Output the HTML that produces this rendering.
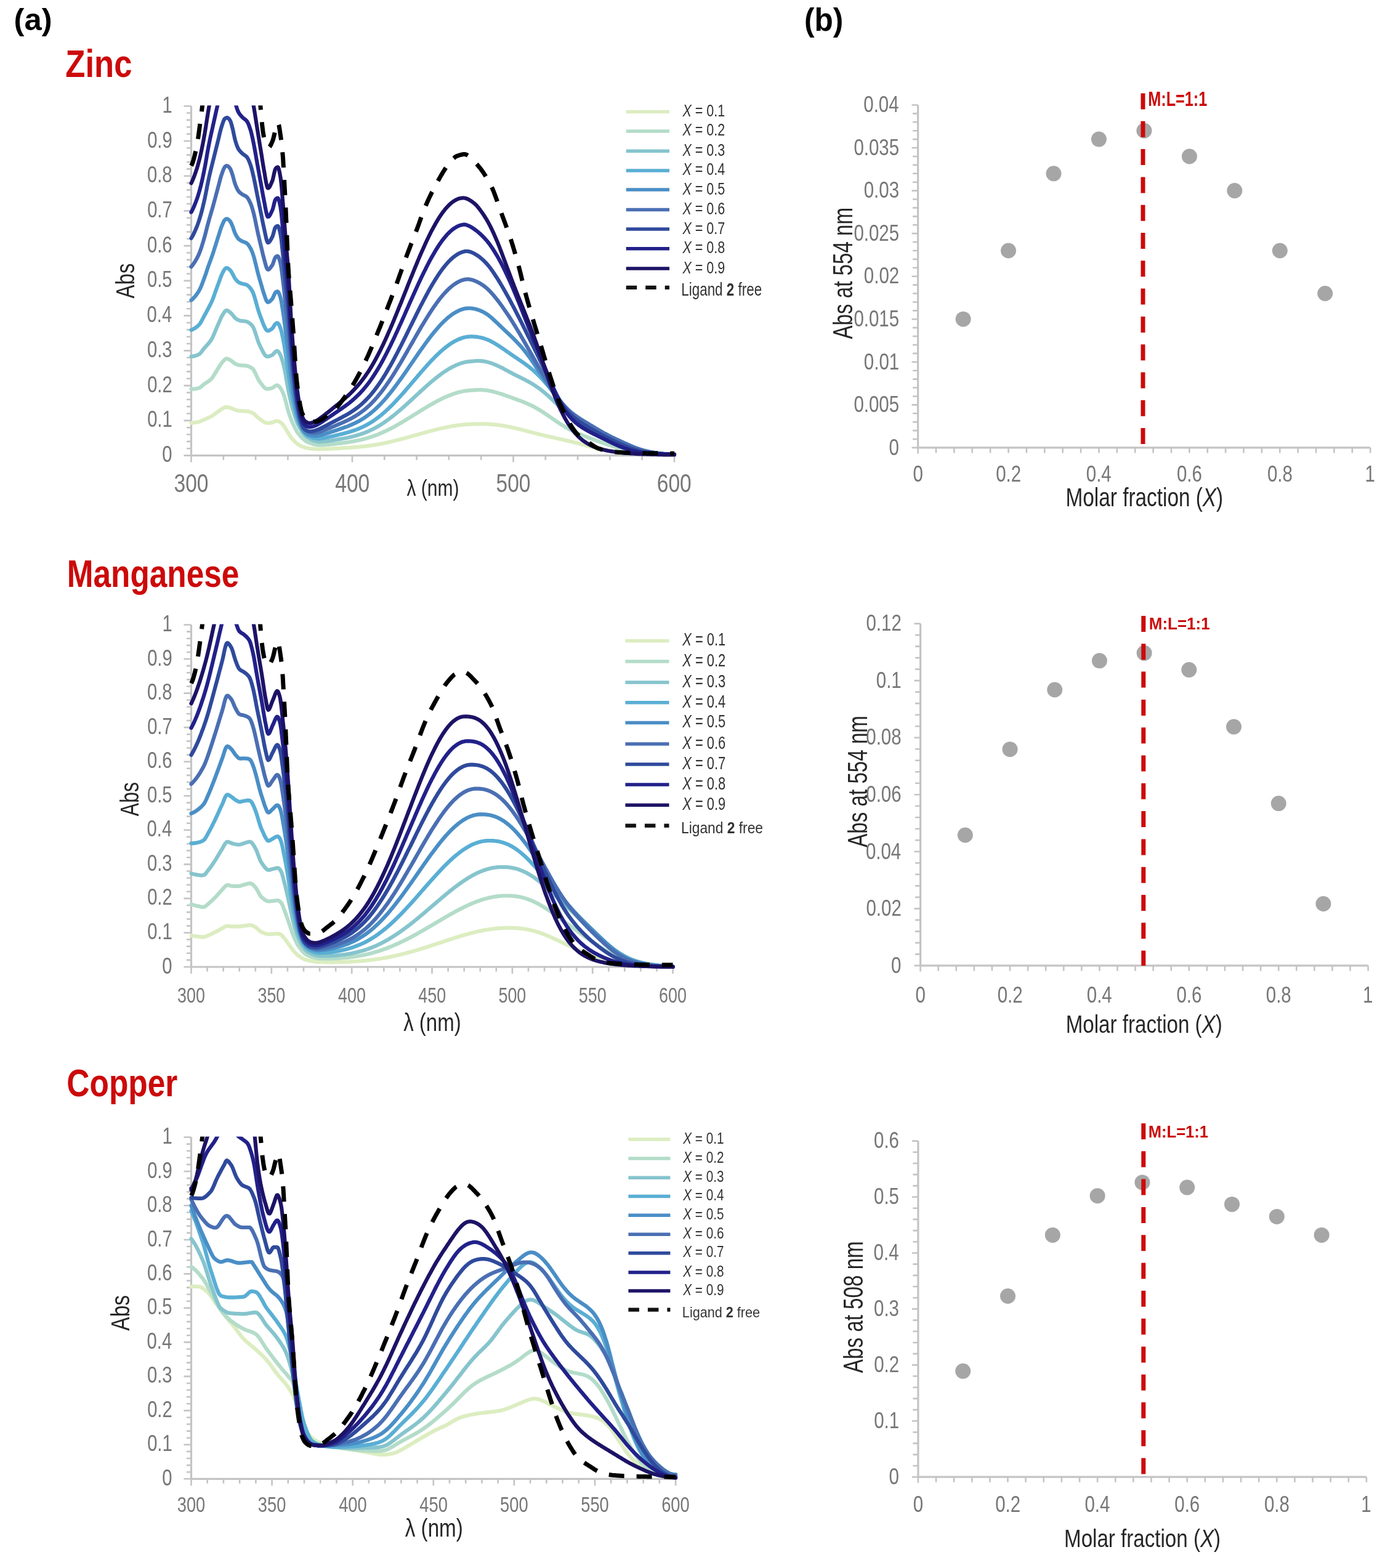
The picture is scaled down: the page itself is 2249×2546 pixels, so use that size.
<!DOCTYPE html>
<html><head><meta charset="utf-8"><title>Job plots</title>
<style>html,body{margin:0;padding:0;background:#fff;}svg{display:block;}
text{font-family:"Liberation Sans",Arial,sans-serif;}</style></head>
<body><svg xmlns="http://www.w3.org/2000/svg" width="2249" height="2546" viewBox="0 0 2249 2546">
<rect width="2249" height="2546" fill="#fff"/>
<text transform="translate(22.62 49.45) scale(1.0285 1)" font-size="49.30" fill="#000"><tspan font-weight="bold">(a)</tspan></text>
<text transform="translate(1306.07 49.91) scale(0.9730 1)" font-size="50.91" fill="#000"><tspan font-weight="bold">(b)</tspan></text>
<text transform="translate(106.28 124.60) scale(0.8391 1)" font-size="62.71" fill="#cc0a0a"><tspan font-weight="bold">Zinc</tspan></text>
<text transform="translate(108.76 952.90) scale(0.8045 1)" font-size="63.83" fill="#cc0a0a"><tspan font-weight="bold">Manganese</tspan></text>
<text transform="translate(108.34 1779.50) scale(0.8184 1)" font-size="62.85" fill="#cc0a0a"><tspan font-weight="bold">Copper</tspan></text>
<path d="M298.5 739.60H310.5M303.0 728.25H310.5M303.0 716.90H310.5M303.0 705.56H310.5M303.0 694.21H310.5M298.5 682.86H310.5M303.0 671.51H310.5M303.0 660.16H310.5M303.0 648.82H310.5M303.0 637.47H310.5M298.5 626.12H310.5M303.0 614.77H310.5M303.0 603.42H310.5M303.0 592.08H310.5M303.0 580.73H310.5M298.5 569.38H310.5M303.0 558.03H310.5M303.0 546.68H310.5M303.0 535.34H310.5M303.0 523.99H310.5M298.5 512.64H310.5M303.0 501.29H310.5M303.0 489.94H310.5M303.0 478.60H310.5M303.0 467.25H310.5M298.5 455.90H310.5M303.0 444.55H310.5M303.0 433.20H310.5M303.0 421.86H310.5M303.0 410.51H310.5M298.5 399.16H310.5M303.0 387.81H310.5M303.0 376.46H310.5M303.0 365.12H310.5M303.0 353.77H310.5M298.5 342.42H310.5M303.0 331.07H310.5M303.0 319.72H310.5M303.0 308.38H310.5M303.0 297.03H310.5M298.5 285.68H310.5M303.0 274.33H310.5M303.0 262.98H310.5M303.0 251.64H310.5M303.0 240.29H310.5M298.5 228.94H310.5M303.0 217.59H310.5M303.0 206.24H310.5M303.0 194.90H310.5M303.0 183.55H310.5M298.5 172.20H310.5M310.50 739.6V750.6M362.80 739.6V747.1M415.10 739.6V747.1M467.40 739.6V747.1M519.70 739.6V747.1M572.00 739.6V750.6M624.30 739.6V747.1M676.60 739.6V747.1M728.90 739.6V747.1M781.20 739.6V747.1M833.50 739.6V750.6M885.80 739.6V747.1M938.10 739.6V747.1M990.40 739.6V747.1M1042.70 739.6V747.1M1095.00 739.6V750.6" stroke="#c4c4c4" stroke-width="2.6" fill="none"/>
<path d="M310.5 172.2V739.6H1095.0" stroke="#c4c4c4" stroke-width="3.2" fill="none"/>
<text transform="translate(263.22 750.19) scale(0.8000 1)" font-size="36.50" fill="#777777"><tspan>0</tspan></text>
<text transform="translate(239.13 693.45) scale(0.8000 1)" font-size="36.50" fill="#777777"><tspan>0.1</tspan></text>
<text transform="translate(239.13 636.71) scale(0.8000 1)" font-size="36.50" fill="#777777"><tspan>0.2</tspan></text>
<text transform="translate(238.98 579.97) scale(0.8000 1)" font-size="36.50" fill="#777777"><tspan>0.3</tspan></text>
<text transform="translate(238.54 523.23) scale(0.8000 1)" font-size="36.50" fill="#777777"><tspan>0.4</tspan></text>
<text transform="translate(238.98 466.49) scale(0.8000 1)" font-size="36.50" fill="#777777"><tspan>0.5</tspan></text>
<text transform="translate(238.98 409.75) scale(0.8000 1)" font-size="36.50" fill="#777777"><tspan>0.6</tspan></text>
<text transform="translate(239.13 353.01) scale(0.8000 1)" font-size="36.50" fill="#777777"><tspan>0.7</tspan></text>
<text transform="translate(238.98 296.27) scale(0.8000 1)" font-size="36.50" fill="#777777"><tspan>0.8</tspan></text>
<text transform="translate(239.13 239.53) scale(0.8000 1)" font-size="36.50" fill="#777777"><tspan>0.9</tspan></text>
<text transform="translate(263.51 182.79) scale(0.8000 1)" font-size="36.50" fill="#777777"><tspan>1</tspan></text>
<text transform="translate(282.58 799.09) scale(0.7800 1)" font-size="43.00" fill="#777777"><tspan>300</tspan></text>
<text transform="translate(544.33 799.09) scale(0.7800 1)" font-size="43.00" fill="#777777"><tspan>400</tspan></text>
<text transform="translate(805.49 799.09) scale(0.7800 1)" font-size="43.00" fill="#777777"><tspan>500</tspan></text>
<text transform="translate(1066.83 799.09) scale(0.7800 1)" font-size="43.00" fill="#777777"><tspan>600</tspan></text>
<path d="M298.5 1570.00H310.5M303.0 1558.89H310.5M303.0 1547.78H310.5M303.0 1536.67H310.5M303.0 1525.56H310.5M298.5 1514.45H310.5M303.0 1503.34H310.5M303.0 1492.23H310.5M303.0 1481.12H310.5M303.0 1470.01H310.5M298.5 1458.90H310.5M303.0 1447.79H310.5M303.0 1436.68H310.5M303.0 1425.57H310.5M303.0 1414.46H310.5M298.5 1403.35H310.5M303.0 1392.24H310.5M303.0 1381.13H310.5M303.0 1370.02H310.5M303.0 1358.91H310.5M298.5 1347.80H310.5M303.0 1336.69H310.5M303.0 1325.58H310.5M303.0 1314.47H310.5M303.0 1303.36H310.5M298.5 1292.25H310.5M303.0 1281.14H310.5M303.0 1270.03H310.5M303.0 1258.92H310.5M303.0 1247.81H310.5M298.5 1236.70H310.5M303.0 1225.59H310.5M303.0 1214.48H310.5M303.0 1203.37H310.5M303.0 1192.26H310.5M298.5 1181.15H310.5M303.0 1170.04H310.5M303.0 1158.93H310.5M303.0 1147.82H310.5M303.0 1136.71H310.5M298.5 1125.60H310.5M303.0 1114.49H310.5M303.0 1103.38H310.5M303.0 1092.27H310.5M303.0 1081.16H310.5M298.5 1070.05H310.5M303.0 1058.94H310.5M303.0 1047.83H310.5M303.0 1036.72H310.5M303.0 1025.61H310.5M298.5 1014.50H310.5M310.50 1570.0V1581.0M336.57 1570.0V1577.5M362.64 1570.0V1577.5M388.71 1570.0V1577.5M414.78 1570.0V1577.5M440.85 1570.0V1581.0M466.92 1570.0V1577.5M492.99 1570.0V1577.5M519.06 1570.0V1577.5M545.13 1570.0V1577.5M571.20 1570.0V1581.0M597.27 1570.0V1577.5M623.34 1570.0V1577.5M649.41 1570.0V1577.5M675.48 1570.0V1577.5M701.55 1570.0V1581.0M727.62 1570.0V1577.5M753.69 1570.0V1577.5M779.76 1570.0V1577.5M805.83 1570.0V1577.5M831.90 1570.0V1581.0M857.97 1570.0V1577.5M884.04 1570.0V1577.5M910.11 1570.0V1577.5M936.18 1570.0V1577.5M962.25 1570.0V1581.0M988.32 1570.0V1577.5M1014.39 1570.0V1577.5M1040.46 1570.0V1577.5M1066.53 1570.0V1577.5M1092.60 1570.0V1581.0" stroke="#c4c4c4" stroke-width="2.6" fill="none"/>
<path d="M310.5 1014.5V1570.0H1092.6" stroke="#c4c4c4" stroke-width="3.2" fill="none"/>
<text transform="translate(263.22 1580.59) scale(0.8000 1)" font-size="36.50" fill="#777777"><tspan>0</tspan></text>
<text transform="translate(239.13 1525.04) scale(0.8000 1)" font-size="36.50" fill="#777777"><tspan>0.1</tspan></text>
<text transform="translate(239.13 1469.49) scale(0.8000 1)" font-size="36.50" fill="#777777"><tspan>0.2</tspan></text>
<text transform="translate(238.98 1413.94) scale(0.8000 1)" font-size="36.50" fill="#777777"><tspan>0.3</tspan></text>
<text transform="translate(238.54 1358.39) scale(0.8000 1)" font-size="36.50" fill="#777777"><tspan>0.4</tspan></text>
<text transform="translate(238.98 1302.84) scale(0.8000 1)" font-size="36.50" fill="#777777"><tspan>0.5</tspan></text>
<text transform="translate(238.98 1247.29) scale(0.8000 1)" font-size="36.50" fill="#777777"><tspan>0.6</tspan></text>
<text transform="translate(239.13 1191.74) scale(0.8000 1)" font-size="36.50" fill="#777777"><tspan>0.7</tspan></text>
<text transform="translate(238.98 1136.19) scale(0.8000 1)" font-size="36.50" fill="#777777"><tspan>0.8</tspan></text>
<text transform="translate(239.13 1080.64) scale(0.8000 1)" font-size="36.50" fill="#777777"><tspan>0.9</tspan></text>
<text transform="translate(263.51 1025.09) scale(0.8000 1)" font-size="36.50" fill="#777777"><tspan>1</tspan></text>
<text transform="translate(288.10 1628.10) scale(0.7800 1)" font-size="34.50" fill="#777777"><tspan>300</tspan></text>
<text transform="translate(418.45 1628.10) scale(0.7800 1)" font-size="34.50" fill="#777777"><tspan>350</tspan></text>
<text transform="translate(549.00 1628.10) scale(0.7800 1)" font-size="34.50" fill="#777777"><tspan>400</tspan></text>
<text transform="translate(679.35 1628.10) scale(0.7800 1)" font-size="34.50" fill="#777777"><tspan>450</tspan></text>
<text transform="translate(809.43 1628.10) scale(0.7800 1)" font-size="34.50" fill="#777777"><tspan>500</tspan></text>
<text transform="translate(939.78 1628.10) scale(0.7800 1)" font-size="34.50" fill="#777777"><tspan>550</tspan></text>
<text transform="translate(1070.00 1628.10) scale(0.7800 1)" font-size="34.50" fill="#777777"><tspan>600</tspan></text>
<path d="M298.5 2401.30H310.5M303.0 2390.20H310.5M303.0 2379.11H310.5M303.0 2368.01H310.5M303.0 2356.92H310.5M298.5 2345.82H310.5M303.0 2334.72H310.5M303.0 2323.63H310.5M303.0 2312.53H310.5M303.0 2301.44H310.5M298.5 2290.34H310.5M303.0 2279.24H310.5M303.0 2268.15H310.5M303.0 2257.05H310.5M303.0 2245.96H310.5M298.5 2234.86H310.5M303.0 2223.76H310.5M303.0 2212.67H310.5M303.0 2201.57H310.5M303.0 2190.48H310.5M298.5 2179.38H310.5M303.0 2168.28H310.5M303.0 2157.19H310.5M303.0 2146.09H310.5M303.0 2135.00H310.5M298.5 2123.90H310.5M303.0 2112.80H310.5M303.0 2101.71H310.5M303.0 2090.61H310.5M303.0 2079.52H310.5M298.5 2068.42H310.5M303.0 2057.32H310.5M303.0 2046.23H310.5M303.0 2035.13H310.5M303.0 2024.04H310.5M298.5 2012.94H310.5M303.0 2001.84H310.5M303.0 1990.75H310.5M303.0 1979.65H310.5M303.0 1968.56H310.5M298.5 1957.46H310.5M303.0 1946.36H310.5M303.0 1935.27H310.5M303.0 1924.17H310.5M303.0 1913.08H310.5M298.5 1901.98H310.5M303.0 1890.88H310.5M303.0 1879.79H310.5M303.0 1868.69H310.5M303.0 1857.60H310.5M298.5 1846.50H310.5M310.50 2401.3V2412.3M336.72 2401.3V2408.8M362.94 2401.3V2408.8M389.16 2401.3V2408.8M415.38 2401.3V2408.8M441.60 2401.3V2412.3M467.82 2401.3V2408.8M494.04 2401.3V2408.8M520.26 2401.3V2408.8M546.48 2401.3V2408.8M572.70 2401.3V2412.3M598.92 2401.3V2408.8M625.14 2401.3V2408.8M651.36 2401.3V2408.8M677.58 2401.3V2408.8M703.80 2401.3V2412.3M730.02 2401.3V2408.8M756.24 2401.3V2408.8M782.46 2401.3V2408.8M808.68 2401.3V2408.8M834.90 2401.3V2412.3M861.12 2401.3V2408.8M887.34 2401.3V2408.8M913.56 2401.3V2408.8M939.78 2401.3V2408.8M966.00 2401.3V2412.3M992.22 2401.3V2408.8M1018.44 2401.3V2408.8M1044.66 2401.3V2408.8M1070.88 2401.3V2408.8M1097.10 2401.3V2412.3" stroke="#c4c4c4" stroke-width="2.6" fill="none"/>
<path d="M310.5 1846.5V2401.3H1097.1" stroke="#c4c4c4" stroke-width="3.2" fill="none"/>
<text transform="translate(263.22 2411.89) scale(0.8000 1)" font-size="36.50" fill="#777777"><tspan>0</tspan></text>
<text transform="translate(239.13 2356.41) scale(0.8000 1)" font-size="36.50" fill="#777777"><tspan>0.1</tspan></text>
<text transform="translate(239.13 2300.93) scale(0.8000 1)" font-size="36.50" fill="#777777"><tspan>0.2</tspan></text>
<text transform="translate(238.98 2245.45) scale(0.8000 1)" font-size="36.50" fill="#777777"><tspan>0.3</tspan></text>
<text transform="translate(238.54 2189.97) scale(0.8000 1)" font-size="36.50" fill="#777777"><tspan>0.4</tspan></text>
<text transform="translate(238.98 2134.49) scale(0.8000 1)" font-size="36.50" fill="#777777"><tspan>0.5</tspan></text>
<text transform="translate(238.98 2079.01) scale(0.8000 1)" font-size="36.50" fill="#777777"><tspan>0.6</tspan></text>
<text transform="translate(239.13 2023.53) scale(0.8000 1)" font-size="36.50" fill="#777777"><tspan>0.7</tspan></text>
<text transform="translate(238.98 1968.05) scale(0.8000 1)" font-size="36.50" fill="#777777"><tspan>0.8</tspan></text>
<text transform="translate(239.13 1912.57) scale(0.8000 1)" font-size="36.50" fill="#777777"><tspan>0.9</tspan></text>
<text transform="translate(263.51 1857.09) scale(0.8000 1)" font-size="36.50" fill="#777777"><tspan>1</tspan></text>
<text transform="translate(287.77 2455.46) scale(0.7800 1)" font-size="35.00" fill="#777777"><tspan>300</tspan></text>
<text transform="translate(418.87 2455.46) scale(0.7800 1)" font-size="35.00" fill="#777777"><tspan>350</tspan></text>
<text transform="translate(550.18 2455.46) scale(0.7800 1)" font-size="35.00" fill="#777777"><tspan>400</tspan></text>
<text transform="translate(681.28 2455.46) scale(0.7800 1)" font-size="35.00" fill="#777777"><tspan>450</tspan></text>
<text transform="translate(812.10 2455.46) scale(0.7800 1)" font-size="35.00" fill="#777777"><tspan>500</tspan></text>
<text transform="translate(943.20 2455.46) scale(0.7800 1)" font-size="35.00" fill="#777777"><tspan>550</tspan></text>
<text transform="translate(1074.17 2455.46) scale(0.7800 1)" font-size="35.00" fill="#777777"><tspan>600</tspan></text>
<path d="M1480.6 726.90H1490.6M1482.1 712.99H1490.6M1482.1 699.08H1490.6M1482.1 685.17H1490.6M1482.1 671.26H1490.6M1480.6 657.35H1490.6M1482.1 643.44H1490.6M1482.1 629.53H1490.6M1482.1 615.62H1490.6M1482.1 601.71H1490.6M1480.6 587.80H1490.6M1482.1 573.89H1490.6M1482.1 559.98H1490.6M1482.1 546.07H1490.6M1482.1 532.16H1490.6M1480.6 518.25H1490.6M1482.1 504.34H1490.6M1482.1 490.43H1490.6M1482.1 476.52H1490.6M1482.1 462.61H1490.6M1480.6 448.70H1490.6M1482.1 434.79H1490.6M1482.1 420.88H1490.6M1482.1 406.97H1490.6M1482.1 393.06H1490.6M1480.6 379.15H1490.6M1482.1 365.24H1490.6M1482.1 351.33H1490.6M1482.1 337.42H1490.6M1482.1 323.51H1490.6M1480.6 309.60H1490.6M1482.1 295.69H1490.6M1482.1 281.78H1490.6M1482.1 267.87H1490.6M1482.1 253.96H1490.6M1480.6 240.05H1490.6M1482.1 226.14H1490.6M1482.1 212.23H1490.6M1482.1 198.32H1490.6M1482.1 184.41H1490.6M1480.6 170.50H1490.6M1490.60 726.9V736.4M1519.98 726.9V735.4M1549.37 726.9V735.4M1578.75 726.9V735.4M1608.14 726.9V735.4M1637.52 726.9V735.4M1666.90 726.9V735.4M1696.29 726.9V735.4M1725.67 726.9V735.4M1755.06 726.9V735.4M1784.44 726.9V735.4M1813.82 726.9V735.4M1843.21 726.9V735.4M1872.59 726.9V735.4M1901.98 726.9V735.4M1931.36 726.9V735.4M1960.74 726.9V735.4M1990.13 726.9V735.4M2019.51 726.9V735.4M2048.90 726.9V735.4M2078.28 726.9V735.4M2107.66 726.9V735.4M2137.05 726.9V735.4M2166.43 726.9V735.4M2195.82 726.9V735.4M2225.20 726.9V735.4" stroke="#c4c4c4" stroke-width="2.6" fill="none"/>
<path d="M1490.6 170.5V726.9H2225.2" stroke="#c4c4c4" stroke-width="3.2" fill="none"/>
<text transform="translate(1443.49 738.64) scale(0.7850 1)" font-size="37.50" fill="#777777"><tspan>0</tspan></text>
<text transform="translate(1386.38 669.09) scale(0.7850 1)" font-size="37.50" fill="#777777"><tspan>0.005</tspan></text>
<text transform="translate(1402.87 599.54) scale(0.7850 1)" font-size="37.50" fill="#777777"><tspan>0.01</tspan></text>
<text transform="translate(1386.38 529.99) scale(0.7850 1)" font-size="37.50" fill="#777777"><tspan>0.015</tspan></text>
<text transform="translate(1402.87 460.44) scale(0.7850 1)" font-size="37.50" fill="#777777"><tspan>0.02</tspan></text>
<text transform="translate(1386.38 390.89) scale(0.7850 1)" font-size="37.50" fill="#777777"><tspan>0.025</tspan></text>
<text transform="translate(1402.72 321.34) scale(0.7850 1)" font-size="37.50" fill="#777777"><tspan>0.03</tspan></text>
<text transform="translate(1386.38 251.79) scale(0.7850 1)" font-size="37.50" fill="#777777"><tspan>0.035</tspan></text>
<text transform="translate(1402.28 182.24) scale(0.7850 1)" font-size="37.50" fill="#777777"><tspan>0.04</tspan></text>
<text transform="translate(1482.43 782.25) scale(0.7850 1)" font-size="37.50" fill="#777777"><tspan>0</tspan></text>
<text transform="translate(1617.21 782.25) scale(0.7850 1)" font-size="37.50" fill="#777777"><tspan>0.2</tspan></text>
<text transform="translate(1763.83 782.25) scale(0.7850 1)" font-size="37.50" fill="#777777"><tspan>0.4</tspan></text>
<text transform="translate(1910.97 782.25) scale(0.7850 1)" font-size="37.50" fill="#777777"><tspan>0.6</tspan></text>
<text transform="translate(2057.89 782.25) scale(0.7850 1)" font-size="37.50" fill="#777777"><tspan>0.8</tspan></text>
<text transform="translate(2216.59 782.25) scale(0.7850 1)" font-size="37.50" fill="#777777"><tspan>1</tspan></text>
<path d="M1484.6 1567.90H1494.6M1486.1 1549.39H1494.6M1486.1 1530.88H1494.6M1486.1 1512.37H1494.6M1486.1 1493.86H1494.6M1484.6 1475.35H1494.6M1486.1 1456.84H1494.6M1486.1 1438.33H1494.6M1486.1 1419.82H1494.6M1486.1 1401.31H1494.6M1484.6 1382.80H1494.6M1486.1 1364.29H1494.6M1486.1 1345.78H1494.6M1486.1 1327.27H1494.6M1486.1 1308.76H1494.6M1484.6 1290.25H1494.6M1486.1 1271.74H1494.6M1486.1 1253.23H1494.6M1486.1 1234.72H1494.6M1486.1 1216.21H1494.6M1484.6 1197.70H1494.6M1486.1 1179.19H1494.6M1486.1 1160.68H1494.6M1486.1 1142.17H1494.6M1486.1 1123.66H1494.6M1484.6 1105.15H1494.6M1486.1 1086.64H1494.6M1486.1 1068.13H1494.6M1486.1 1049.62H1494.6M1486.1 1031.11H1494.6M1484.6 1012.60H1494.6M1494.60 1567.9V1577.4M1523.68 1567.9V1576.4M1552.76 1567.9V1576.4M1581.84 1567.9V1576.4M1610.92 1567.9V1576.4M1640.00 1567.9V1576.4M1669.08 1567.9V1576.4M1698.16 1567.9V1576.4M1727.24 1567.9V1576.4M1756.32 1567.9V1576.4M1785.40 1567.9V1576.4M1814.48 1567.9V1576.4M1843.56 1567.9V1576.4M1872.64 1567.9V1576.4M1901.72 1567.9V1576.4M1930.80 1567.9V1576.4M1959.88 1567.9V1576.4M1988.96 1567.9V1576.4M2018.04 1567.9V1576.4M2047.12 1567.9V1576.4M2076.20 1567.9V1576.4M2105.28 1567.9V1576.4M2134.36 1567.9V1576.4M2163.44 1567.9V1576.4M2192.52 1567.9V1576.4M2221.60 1567.9V1576.4" stroke="#c4c4c4" stroke-width="2.6" fill="none"/>
<path d="M1494.6 1012.6V1567.9H2221.6" stroke="#c4c4c4" stroke-width="3.2" fill="none"/>
<text transform="translate(1447.09 1579.64) scale(0.7850 1)" font-size="37.50" fill="#777777"><tspan>0</tspan></text>
<text transform="translate(1406.47 1487.09) scale(0.7850 1)" font-size="37.50" fill="#777777"><tspan>0.02</tspan></text>
<text transform="translate(1405.88 1394.54) scale(0.7850 1)" font-size="37.50" fill="#777777"><tspan>0.04</tspan></text>
<text transform="translate(1406.32 1301.99) scale(0.7850 1)" font-size="37.50" fill="#777777"><tspan>0.06</tspan></text>
<text transform="translate(1406.32 1209.44) scale(0.7850 1)" font-size="37.50" fill="#777777"><tspan>0.08</tspan></text>
<text transform="translate(1422.81 1116.89) scale(0.7850 1)" font-size="37.50" fill="#777777"><tspan>0.1</tspan></text>
<text transform="translate(1406.47 1024.34) scale(0.7850 1)" font-size="37.50" fill="#777777"><tspan>0.12</tspan></text>
<text transform="translate(1486.43 1628.05) scale(0.7850 1)" font-size="37.50" fill="#777777"><tspan>0</tspan></text>
<text transform="translate(1619.69 1628.05) scale(0.7850 1)" font-size="37.50" fill="#777777"><tspan>0.2</tspan></text>
<text transform="translate(1764.79 1628.05) scale(0.7850 1)" font-size="37.50" fill="#777777"><tspan>0.4</tspan></text>
<text transform="translate(1910.41 1628.05) scale(0.7850 1)" font-size="37.50" fill="#777777"><tspan>0.6</tspan></text>
<text transform="translate(2055.81 1628.05) scale(0.7850 1)" font-size="37.50" fill="#777777"><tspan>0.8</tspan></text>
<text transform="translate(2212.99 1628.05) scale(0.7850 1)" font-size="37.50" fill="#777777"><tspan>1</tspan></text>
<path d="M1480.9 2398.20H1490.9M1482.4 2380.01H1490.9M1482.4 2361.83H1490.9M1482.4 2343.64H1490.9M1482.4 2325.45H1490.9M1480.9 2307.27H1490.9M1482.4 2289.08H1490.9M1482.4 2270.89H1490.9M1482.4 2252.71H1490.9M1482.4 2234.52H1490.9M1480.9 2216.33H1490.9M1482.4 2198.15H1490.9M1482.4 2179.96H1490.9M1482.4 2161.77H1490.9M1482.4 2143.59H1490.9M1480.9 2125.40H1490.9M1482.4 2107.21H1490.9M1482.4 2089.03H1490.9M1482.4 2070.84H1490.9M1482.4 2052.65H1490.9M1480.9 2034.47H1490.9M1482.4 2016.28H1490.9M1482.4 1998.09H1490.9M1482.4 1979.91H1490.9M1482.4 1961.72H1490.9M1480.9 1943.53H1490.9M1482.4 1925.35H1490.9M1482.4 1907.16H1490.9M1482.4 1888.97H1490.9M1482.4 1870.79H1490.9M1480.9 1852.60H1490.9M1490.90 2398.2V2407.7M1520.02 2398.2V2406.7M1549.14 2398.2V2406.7M1578.26 2398.2V2406.7M1607.38 2398.2V2406.7M1636.50 2398.2V2406.7M1665.62 2398.2V2406.7M1694.74 2398.2V2406.7M1723.86 2398.2V2406.7M1752.98 2398.2V2406.7M1782.10 2398.2V2406.7M1811.22 2398.2V2406.7M1840.34 2398.2V2406.7M1869.46 2398.2V2406.7M1898.58 2398.2V2406.7M1927.70 2398.2V2406.7M1956.82 2398.2V2406.7M1985.94 2398.2V2406.7M2015.06 2398.2V2406.7M2044.18 2398.2V2406.7M2073.30 2398.2V2406.7M2102.42 2398.2V2406.7M2131.54 2398.2V2406.7M2160.66 2398.2V2406.7M2189.78 2398.2V2406.7M2218.90 2398.2V2406.7" stroke="#c4c4c4" stroke-width="2.6" fill="none"/>
<path d="M1490.9 1852.6V2398.2H2218.9" stroke="#c4c4c4" stroke-width="3.2" fill="none"/>
<text transform="translate(1443.49 2409.94) scale(0.7850 1)" font-size="37.50" fill="#777777"><tspan>0</tspan></text>
<text transform="translate(1419.21 2319.00) scale(0.7850 1)" font-size="37.50" fill="#777777"><tspan>0.1</tspan></text>
<text transform="translate(1419.21 2228.07) scale(0.7850 1)" font-size="37.50" fill="#777777"><tspan>0.2</tspan></text>
<text transform="translate(1419.06 2137.14) scale(0.7850 1)" font-size="37.50" fill="#777777"><tspan>0.3</tspan></text>
<text transform="translate(1418.62 2046.20) scale(0.7850 1)" font-size="37.50" fill="#777777"><tspan>0.4</tspan></text>
<text transform="translate(1419.06 1955.27) scale(0.7850 1)" font-size="37.50" fill="#777777"><tspan>0.5</tspan></text>
<text transform="translate(1419.06 1864.34) scale(0.7850 1)" font-size="37.50" fill="#777777"><tspan>0.6</tspan></text>
<text transform="translate(1482.73 2454.75) scale(0.7850 1)" font-size="37.50" fill="#777777"><tspan>0</tspan></text>
<text transform="translate(1616.19 2454.75) scale(0.7850 1)" font-size="37.50" fill="#777777"><tspan>0.2</tspan></text>
<text transform="translate(1761.49 2454.75) scale(0.7850 1)" font-size="37.50" fill="#777777"><tspan>0.4</tspan></text>
<text transform="translate(1907.31 2454.75) scale(0.7850 1)" font-size="37.50" fill="#777777"><tspan>0.6</tspan></text>
<text transform="translate(2052.91 2454.75) scale(0.7850 1)" font-size="37.50" fill="#777777"><tspan>0.8</tspan></text>
<text transform="translate(2210.29 2454.75) scale(0.7850 1)" font-size="37.50" fill="#777777"><tspan>1</tspan></text>
<text transform="translate(660.55 805.25) scale(0.8121 1)" font-size="36.90" fill="#262626"><tspan>λ (nm)</tspan></text>
<text transform="translate(655.13 1674.35) scale(0.8022 1)" font-size="41.18" fill="#262626"><tspan>λ (nm)</tspan></text>
<text transform="translate(657.73 2494.96) scale(0.8268 1)" font-size="40.21" fill="#262626"><tspan>λ (nm)</tspan></text>
<text transform="translate(217.80 484.40) rotate(-90) scale(0.7828 1)" font-size="42.18" fill="#262626"><tspan>Abs</tspan></text>
<text transform="translate(225.30 1325.30) rotate(-90) scale(0.7694 1)" font-size="41.76" fill="#262626"><tspan>Abs</tspan></text>
<text transform="translate(209.50 2160.70) rotate(-90) scale(0.7876 1)" font-size="42.60" fill="#262626"><tspan>Abs</tspan></text>
<line x1="1016.7" y1="181.6" x2="1087.0" y2="181.6" stroke="#dcedc1" stroke-width="5.5"/>
<line x1="1016.7" y1="212.9" x2="1087.0" y2="212.9" stroke="#b3dcc9" stroke-width="5.5"/>
<line x1="1016.7" y1="245.2" x2="1087.0" y2="245.2" stroke="#86c4cd" stroke-width="5.5"/>
<line x1="1016.7" y1="276.9" x2="1087.0" y2="276.9" stroke="#5aaed4" stroke-width="5.5"/>
<line x1="1016.7" y1="308.0" x2="1087.0" y2="308.0" stroke="#4a8ec6" stroke-width="5.5"/>
<line x1="1016.7" y1="340.5" x2="1087.0" y2="340.5" stroke="#4a6fb3" stroke-width="5.5"/>
<line x1="1016.7" y1="372.0" x2="1087.0" y2="372.0" stroke="#2f4a9c" stroke-width="5.5"/>
<line x1="1016.7" y1="403.7" x2="1087.0" y2="403.7" stroke="#22218a" stroke-width="5.5"/>
<line x1="1016.7" y1="436.1" x2="1087.0" y2="436.1" stroke="#1d1366" stroke-width="5.5"/>
<line x1="1016.7" y1="466.9" x2="1087.0" y2="466.9" stroke="#111" stroke-width="6.3" stroke-dasharray="17.5 14"/>
<text transform="translate(1108.53 189.10) scale(0.7697 1)" font-size="27.93" fill="#333333"><tspan font-style="italic">X</tspan><tspan> = 0.1</tspan></text>
<text transform="translate(1108.53 220.40) scale(0.7697 1)" font-size="27.93" fill="#333333"><tspan font-style="italic">X</tspan><tspan> = 0.2</tspan></text>
<text transform="translate(1108.53 252.70) scale(0.7697 1)" font-size="27.93" fill="#333333"><tspan font-style="italic">X</tspan><tspan> = 0.3</tspan></text>
<text transform="translate(1108.53 284.40) scale(0.7697 1)" font-size="27.93" fill="#333333"><tspan font-style="italic">X</tspan><tspan> = 0.4</tspan></text>
<text transform="translate(1108.53 315.50) scale(0.7697 1)" font-size="27.93" fill="#333333"><tspan font-style="italic">X</tspan><tspan> = 0.5</tspan></text>
<text transform="translate(1108.53 348.00) scale(0.7697 1)" font-size="27.93" fill="#333333"><tspan font-style="italic">X</tspan><tspan> = 0.6</tspan></text>
<text transform="translate(1108.53 379.50) scale(0.7697 1)" font-size="27.93" fill="#333333"><tspan font-style="italic">X</tspan><tspan> = 0.7</tspan></text>
<text transform="translate(1108.53 411.20) scale(0.7697 1)" font-size="27.93" fill="#333333"><tspan font-style="italic">X</tspan><tspan> = 0.8</tspan></text>
<text transform="translate(1108.53 443.60) scale(0.7697 1)" font-size="27.93" fill="#333333"><tspan font-style="italic">X</tspan><tspan> = 0.9</tspan></text>
<text transform="translate(1106.31 480.20) scale(0.7713 1)" font-size="29.05" fill="#333333"><tspan>Ligand </tspan><tspan font-weight="bold">2</tspan><tspan> free</tspan></text>
<line x1="1015.4" y1="1040.6" x2="1086.5" y2="1040.6" stroke="#dcedc1" stroke-width="5.5"/>
<line x1="1015.4" y1="1074.0" x2="1086.5" y2="1074.0" stroke="#b3dcc9" stroke-width="5.5"/>
<line x1="1015.4" y1="1107.9" x2="1086.5" y2="1107.9" stroke="#86c4cd" stroke-width="5.5"/>
<line x1="1015.4" y1="1140.8" x2="1086.5" y2="1140.8" stroke="#5aaed4" stroke-width="5.5"/>
<line x1="1015.4" y1="1173.6" x2="1086.5" y2="1173.6" stroke="#4a8ec6" stroke-width="5.5"/>
<line x1="1015.4" y1="1207.9" x2="1086.5" y2="1207.9" stroke="#4a6fb3" stroke-width="5.5"/>
<line x1="1015.4" y1="1241.0" x2="1086.5" y2="1241.0" stroke="#2f4a9c" stroke-width="5.5"/>
<line x1="1015.4" y1="1274.0" x2="1086.5" y2="1274.0" stroke="#22218a" stroke-width="5.5"/>
<line x1="1015.4" y1="1307.3" x2="1086.5" y2="1307.3" stroke="#1d1366" stroke-width="5.5"/>
<line x1="1015.4" y1="1340.7" x2="1086.5" y2="1340.7" stroke="#111" stroke-width="6.3" stroke-dasharray="17.5 14"/>
<text transform="translate(1108.34 1048.30) scale(0.7604 1)" font-size="28.77" fill="#333333"><tspan font-style="italic">X</tspan><tspan> = 0.1</tspan></text>
<text transform="translate(1108.34 1081.70) scale(0.7604 1)" font-size="28.77" fill="#333333"><tspan font-style="italic">X</tspan><tspan> = 0.2</tspan></text>
<text transform="translate(1108.34 1115.60) scale(0.7604 1)" font-size="28.77" fill="#333333"><tspan font-style="italic">X</tspan><tspan> = 0.3</tspan></text>
<text transform="translate(1108.34 1148.50) scale(0.7604 1)" font-size="28.77" fill="#333333"><tspan font-style="italic">X</tspan><tspan> = 0.4</tspan></text>
<text transform="translate(1108.34 1181.30) scale(0.7604 1)" font-size="28.77" fill="#333333"><tspan font-style="italic">X</tspan><tspan> = 0.5</tspan></text>
<text transform="translate(1108.34 1215.60) scale(0.7604 1)" font-size="28.77" fill="#333333"><tspan font-style="italic">X</tspan><tspan> = 0.6</tspan></text>
<text transform="translate(1108.34 1248.70) scale(0.7604 1)" font-size="28.77" fill="#333333"><tspan font-style="italic">X</tspan><tspan> = 0.7</tspan></text>
<text transform="translate(1108.34 1281.70) scale(0.7604 1)" font-size="28.77" fill="#333333"><tspan font-style="italic">X</tspan><tspan> = 0.8</tspan></text>
<text transform="translate(1108.34 1315.00) scale(0.7604 1)" font-size="28.77" fill="#333333"><tspan font-style="italic">X</tspan><tspan> = 0.9</tspan></text>
<text transform="translate(1106.08 1353.20) scale(0.8628 1)" font-size="26.40" fill="#333333"><tspan>Ligand </tspan><tspan font-weight="bold">2</tspan><tspan> free</tspan></text>
<line x1="1020.4" y1="1850.0" x2="1088.4" y2="1850.0" stroke="#dcedc1" stroke-width="5.5"/>
<line x1="1020.4" y1="1880.9" x2="1088.4" y2="1880.9" stroke="#b3dcc9" stroke-width="5.5"/>
<line x1="1020.4" y1="1912.2" x2="1088.4" y2="1912.2" stroke="#86c4cd" stroke-width="5.5"/>
<line x1="1020.4" y1="1942.4" x2="1088.4" y2="1942.4" stroke="#5aaed4" stroke-width="5.5"/>
<line x1="1020.4" y1="1973.2" x2="1088.4" y2="1973.2" stroke="#4a8ec6" stroke-width="5.5"/>
<line x1="1020.4" y1="2004.2" x2="1088.4" y2="2004.2" stroke="#4a6fb3" stroke-width="5.5"/>
<line x1="1020.4" y1="2034.8" x2="1088.4" y2="2034.8" stroke="#2f4a9c" stroke-width="5.5"/>
<line x1="1020.4" y1="2065.9" x2="1088.4" y2="2065.9" stroke="#22218a" stroke-width="5.5"/>
<line x1="1020.4" y1="2096.1" x2="1088.4" y2="2096.1" stroke="#1d1366" stroke-width="5.5"/>
<line x1="1020.4" y1="2126.7" x2="1088.4" y2="2126.7" stroke="#111" stroke-width="6.3" stroke-dasharray="17.5 14"/>
<text transform="translate(1109.21 1856.60) scale(0.7888 1)" font-size="26.26" fill="#333333"><tspan font-style="italic">X</tspan><tspan> = 0.1</tspan></text>
<text transform="translate(1109.21 1887.50) scale(0.7888 1)" font-size="26.26" fill="#333333"><tspan font-style="italic">X</tspan><tspan> = 0.2</tspan></text>
<text transform="translate(1109.21 1918.80) scale(0.7888 1)" font-size="26.26" fill="#333333"><tspan font-style="italic">X</tspan><tspan> = 0.3</tspan></text>
<text transform="translate(1109.21 1949.00) scale(0.7888 1)" font-size="26.26" fill="#333333"><tspan font-style="italic">X</tspan><tspan> = 0.4</tspan></text>
<text transform="translate(1109.21 1979.80) scale(0.7888 1)" font-size="26.26" fill="#333333"><tspan font-style="italic">X</tspan><tspan> = 0.5</tspan></text>
<text transform="translate(1109.21 2010.80) scale(0.7888 1)" font-size="26.26" fill="#333333"><tspan font-style="italic">X</tspan><tspan> = 0.6</tspan></text>
<text transform="translate(1109.21 2041.40) scale(0.7888 1)" font-size="26.26" fill="#333333"><tspan font-style="italic">X</tspan><tspan> = 0.7</tspan></text>
<text transform="translate(1109.21 2072.50) scale(0.7888 1)" font-size="26.26" fill="#333333"><tspan font-style="italic">X</tspan><tspan> = 0.8</tspan></text>
<text transform="translate(1109.21 2102.70) scale(0.7888 1)" font-size="26.26" fill="#333333"><tspan font-style="italic">X</tspan><tspan> = 0.9</tspan></text>
<text transform="translate(1107.87 2139.20) scale(0.9000 1)" font-size="24.02" fill="#333333"><tspan>Ligand </tspan><tspan font-weight="bold">2</tspan><tspan> free</tspan></text>
<clipPath id="clipA1"><rect x="306.5" y="171.2" width="792.5" height="574.4"/></clipPath>
<g clip-path="url(#clipA1)" fill="none" stroke-linejoin="round" stroke-linecap="round">
<path d="M310.5,686.8 L311.8,686.7 L313.1,686.5 L314.4,686.4 L315.7,686.2 L317.0,686.0 L318.3,685.8 L319.7,685.6 L321.0,685.3 L322.3,685.1 L323.6,684.8 L324.9,684.4 L326.2,683.8 L327.5,683.3 L328.8,682.6 L330.1,682.0 L331.4,681.4 L332.7,680.8 L334.0,680.3 L335.3,679.7 L336.6,679.1 L338.0,678.5 L339.3,677.9 L340.6,677.3 L341.9,676.7 L343.2,676.0 L344.5,675.2 L345.8,674.4 L347.1,673.4 L348.4,672.5 L349.7,671.5 L351.0,670.5 L352.3,669.5 L353.6,668.6 L355.0,667.7 L356.3,666.7 L357.6,665.7 L358.9,664.8 L360.2,664.0 L361.5,663.3 L362.8,662.6 L364.1,662.0 L365.4,661.5 L366.7,661.2 L368.0,661.1 L369.3,661.2 L370.6,661.4 L372.0,661.7 L373.3,662.0 L374.6,662.3 L375.9,662.8 L377.2,663.4 L378.5,664.0 L379.8,664.6 L381.1,665.2 L382.4,665.6 L383.7,666.0 L385.0,666.4 L386.3,666.6 L387.6,666.9 L388.9,667.1 L390.3,667.2 L391.6,667.3 L392.9,667.4 L394.2,667.4 L395.5,667.5 L396.8,667.6 L398.1,667.6 L399.4,667.7 L400.7,667.9 L402.0,668.0 L403.3,668.3 L404.6,668.6 L405.9,669.0 L407.3,669.4 L408.6,669.9 L409.9,670.4 L411.2,671.2 L412.5,672.1 L413.8,673.2 L415.1,674.5 L416.4,675.7 L417.7,677.0 L419.0,678.2 L420.3,679.3 L421.6,680.2 L422.9,681.1 L424.3,682.1 L425.6,683.0 L426.9,683.9 L428.2,684.7 L429.5,685.4 L430.8,686.1 L432.1,686.6 L433.4,686.8 L434.7,686.9 L436.0,686.9 L437.3,686.8 L438.6,686.6 L439.9,686.4 L441.2,686.2 L442.6,685.9 L443.9,685.4 L445.2,684.9 L446.5,684.3 L447.8,683.9 L449.1,683.7 L450.4,683.6 L451.7,683.9 L453.0,684.4 L454.3,685.0 L455.6,685.8 L456.9,686.9 L458.2,688.3 L459.6,689.9 L460.9,691.5 L462.2,693.5 L463.5,695.6 L464.8,697.8 L466.1,700.0 L467.4,702.1 L468.7,704.2 L470.0,706.2 L471.3,708.2 L472.6,710.1 L473.9,711.8 L475.2,713.3 L476.6,714.8 L477.9,716.2 L479.2,717.5 L480.5,718.7 L481.8,719.8 L483.1,720.8 L484.4,721.7 L485.7,722.5 L487.0,723.2 L488.3,723.9 L489.6,724.6 L490.9,725.2 L492.2,725.7 L493.6,726.2 L494.9,726.6 L496.2,726.9 L497.5,727.2 L498.8,727.5 L500.1,727.7 L501.4,727.9 L502.7,728.1 L504.0,728.3 L505.3,728.5 L506.6,728.6 L507.9,728.7 L509.2,728.9 L510.5,729.0 L511.9,729.1 L513.2,729.1 L514.5,729.2 L515.8,729.2 L517.1,729.3 L518.4,729.3 L519.7,729.3 L521.0,729.2 L522.3,729.2 L523.6,729.1 L524.9,729.1 L526.2,729.0 L527.5,729.0 L528.9,728.9 L530.2,728.9 L531.5,728.8 L532.8,728.8 L534.1,728.7 L535.4,728.7 L536.7,728.6 L538.0,728.5 L539.3,728.5 L540.6,728.4 L541.9,728.3 L543.2,728.2 L544.5,728.2 L545.9,728.1 L547.2,728.0 L548.5,728.0 L549.8,727.9 L551.1,727.8 L552.4,727.7 L553.7,727.7 L555.0,727.6 L556.3,727.5 L557.6,727.4 L558.9,727.4 L560.2,727.3 L561.5,727.2 L562.8,727.1 L564.2,727.1 L565.5,727.0 L566.8,726.9 L568.1,726.8 L569.4,726.7 L570.7,726.6 L572.0,726.5 L573.3,726.4 L574.6,726.3 L575.9,726.2 L577.2,726.1 L578.5,726.0 L579.8,725.9 L581.2,725.8 L582.5,725.6 L583.8,725.5 L585.1,725.4 L586.4,725.3 L587.7,725.1 L589.0,725.0 L590.3,724.9 L591.6,724.7 L592.9,724.6 L594.2,724.4 L595.5,724.2 L596.8,724.1 L598.2,723.9 L599.5,723.7 L600.8,723.6 L602.1,723.4 L603.4,723.2 L604.7,723.0 L606.0,722.8 L607.3,722.6 L608.6,722.4 L609.9,722.2 L611.2,721.9 L612.5,721.7 L613.8,721.5 L615.1,721.3 L616.5,721.0 L617.8,720.8 L619.1,720.5 L620.4,720.3 L621.7,720.0 L623.0,719.8 L624.3,719.5 L625.6,719.2 L626.9,718.9 L628.2,718.7 L629.5,718.4 L630.8,718.1 L632.1,717.8 L633.5,717.5 L634.8,717.2 L636.1,716.9 L637.4,716.6 L638.7,716.3 L640.0,716.0 L641.3,715.6 L642.6,715.3 L643.9,715.0 L645.2,714.7 L646.5,714.3 L647.8,714.0 L649.1,713.6 L650.5,713.3 L651.8,713.0 L653.1,712.6 L654.4,712.3 L655.7,711.9 L657.0,711.6 L658.3,711.2 L659.6,710.8 L660.9,710.5 L662.2,710.1 L663.5,709.8 L664.8,709.4 L666.1,709.0 L667.4,708.7 L668.8,708.3 L670.1,707.9 L671.4,707.6 L672.7,707.2 L674.0,706.8 L675.3,706.5 L676.6,706.1 L677.9,705.7 L679.2,705.3 L680.5,705.0 L681.8,704.6 L683.1,704.2 L684.4,703.9 L685.8,703.5 L687.1,703.1 L688.4,702.8 L689.7,702.4 L691.0,702.1 L692.3,701.7 L693.6,701.3 L694.9,701.0 L696.2,700.6 L697.5,700.3 L698.8,699.9 L700.1,699.6 L701.4,699.3 L702.8,698.9 L704.1,698.6 L705.4,698.2 L706.7,697.9 L708.0,697.6 L709.3,697.3 L710.6,696.9 L711.9,696.6 L713.2,696.3 L714.5,696.0 L715.8,695.7 L717.1,695.4 L718.4,695.1 L719.7,694.8 L721.1,694.6 L722.4,694.3 L723.7,694.0 L725.0,693.7 L726.3,693.5 L727.6,693.2 L728.9,693.0 L730.2,692.7 L731.5,692.5 L732.8,692.2 L734.1,692.0 L735.4,691.8 L736.7,691.6 L738.1,691.4 L739.4,691.2 L740.7,691.0 L742.0,690.8 L743.3,690.6 L744.6,690.4 L745.9,690.3 L747.2,690.1 L748.5,690.0 L749.8,689.8 L751.1,689.7 L752.4,689.6 L753.7,689.4 L755.0,689.3 L756.4,689.2 L757.7,689.1 L759.0,689.0 L760.3,689.0 L761.6,688.9 L762.9,688.8 L764.2,688.8 L765.5,688.7 L766.8,688.7 L768.1,688.6 L769.4,688.6 L770.7,688.5 L772.0,688.5 L773.4,688.5 L774.7,688.4 L776.0,688.3 L777.3,688.3 L778.6,688.3 L779.9,688.3 L781.2,688.3 L782.5,688.3 L783.8,688.3 L785.1,688.3 L786.4,688.3 L787.7,688.4 L789.0,688.4 L790.4,688.5 L791.7,688.5 L793.0,688.6 L794.3,688.7 L795.6,688.8 L796.9,688.9 L798.2,689.0 L799.5,689.1 L800.8,689.2 L802.1,689.3 L803.4,689.4 L804.7,689.6 L806.0,689.7 L807.4,689.9 L808.7,690.0 L810.0,690.2 L811.3,690.4 L812.6,690.6 L813.9,690.8 L815.2,691.0 L816.5,691.2 L817.8,691.4 L819.1,691.6 L820.4,691.8 L821.7,692.1 L823.0,692.3 L824.3,692.6 L825.7,692.8 L827.0,693.1 L828.3,693.4 L829.6,693.6 L830.9,693.9 L832.2,694.2 L833.5,694.5 L834.8,694.8 L836.1,695.1 L837.4,695.4 L838.7,695.7 L840.0,696.0 L841.3,696.3 L842.7,696.6 L844.0,697.0 L845.3,697.3 L846.6,697.6 L847.9,698.0 L849.2,698.3 L850.5,698.6 L851.8,699.0 L853.1,699.3 L854.4,699.7 L855.7,700.0 L857.0,700.4 L858.3,700.7 L859.7,701.1 L861.0,701.4 L862.3,701.7 L863.6,702.1 L864.9,702.4 L866.2,702.8 L867.5,703.1 L868.8,703.4 L870.1,703.8 L871.4,704.1 L872.7,704.4 L874.0,704.8 L875.3,705.1 L876.6,705.4 L878.0,705.7 L879.3,706.0 L880.6,706.3 L881.9,706.7 L883.2,707.0 L884.5,707.3 L885.8,707.6 L887.1,707.9 L888.4,708.2 L889.7,708.5 L891.0,708.8 L892.3,709.0 L893.6,709.3 L895.0,709.6 L896.3,709.9 L897.6,710.2 L898.9,710.5 L900.2,710.8 L901.5,711.1 L902.8,711.4 L904.1,711.7 L905.4,712.0 L906.7,712.3 L908.0,712.6 L909.3,712.9 L910.6,713.2 L912.0,713.5 L913.3,713.8 L914.6,714.1 L915.9,714.4 L917.2,714.7 L918.5,715.0 L919.8,715.3 L921.1,715.6 L922.4,715.9 L923.7,716.2 L925.0,716.5 L926.3,716.8 L927.6,717.1 L928.9,717.4 L930.3,717.7 L931.6,718.0 L932.9,718.4 L934.2,718.7 L935.5,719.0 L936.8,719.3 L938.1,719.7 L939.4,720.0 L940.7,720.3 L942.0,720.7 L943.3,721.0 L944.6,721.4 L945.9,721.8 L947.3,722.1 L948.6,722.5 L949.9,722.9 L951.2,723.2 L952.5,723.6 L953.8,724.0 L955.1,724.3 L956.4,724.7 L957.7,725.1 L959.0,725.4 L960.3,725.8 L961.6,726.1 L962.9,726.5 L964.2,726.8 L965.6,727.1 L966.9,727.5 L968.2,727.8 L969.5,728.1 L970.8,728.3 L972.1,728.6 L973.4,728.9 L974.7,729.2 L976.0,729.4 L977.3,729.7 L978.6,729.9 L979.9,730.1 L981.2,730.4 L982.6,730.6 L983.9,730.8 L985.2,731.0 L986.5,731.2 L987.8,731.4 L989.1,731.6 L990.4,731.8 L991.7,732.0 L993.0,732.2 L994.3,732.4 L995.6,732.6 L996.9,732.8 L998.2,732.9 L999.6,733.1 L1000.9,733.3 L1002.2,733.4 L1003.5,733.6 L1004.8,733.8 L1006.1,733.9 L1007.4,734.1 L1008.7,734.2 L1010.0,734.4 L1011.3,734.5 L1012.6,734.7 L1013.9,734.8 L1015.2,734.9 L1016.6,735.1 L1017.9,735.2 L1019.2,735.3 L1020.5,735.4 L1021.8,735.5 L1023.1,735.6 L1024.4,735.7 L1025.7,735.8 L1027.0,735.9 L1028.3,736.0 L1029.6,736.1 L1030.9,736.2 L1032.2,736.3 L1033.5,736.4 L1034.9,736.4 L1036.2,736.5 L1037.5,736.6 L1038.8,736.7 L1040.1,736.7 L1041.4,736.8 L1042.7,736.9 L1044.0,736.9 L1045.3,737.0 L1046.6,737.1 L1047.9,737.1 L1049.2,737.2 L1050.5,737.3 L1051.9,737.3 L1053.2,737.4 L1054.5,737.4 L1055.8,737.5 L1057.1,737.5 L1058.4,737.6 L1059.7,737.6 L1061.0,737.7 L1062.3,737.7 L1063.6,737.8 L1064.9,737.8 L1066.2,737.9 L1067.5,737.9 L1068.8,738.0 L1070.2,738.0 L1071.5,738.0 L1072.8,738.1 L1074.1,738.1 L1075.4,738.2 L1076.7,738.2 L1078.0,738.2 L1079.3,738.2 L1080.6,738.3 L1081.9,738.3 L1083.2,738.3 L1084.5,738.3 L1085.8,738.4 L1087.2,738.4 L1088.5,738.4 L1089.8,738.4 L1091.1,738.4 L1092.4,738.4 L1093.7,738.4 L1095.0,738.4" stroke="#dcedc1" stroke-width="6.2"/>
<path d="M310.5,631.8 L311.8,631.8 L313.1,631.7 L314.4,631.6 L315.7,631.4 L317.0,631.3 L318.3,631.0 L319.7,630.8 L321.0,630.5 L322.3,630.2 L323.6,629.8 L324.9,629.2 L326.2,628.2 L327.5,627.2 L328.8,626.0 L330.1,624.9 L331.4,623.8 L332.7,622.9 L334.0,622.1 L335.3,621.2 L336.6,620.4 L338.0,619.5 L339.3,618.6 L340.6,617.5 L341.9,616.4 L343.2,615.1 L344.5,613.5 L345.8,611.7 L347.1,609.7 L348.4,607.6 L349.7,605.5 L351.0,603.3 L352.3,601.2 L353.6,599.1 L355.0,597.1 L356.3,595.0 L357.6,592.9 L358.9,590.9 L360.2,589.1 L361.5,587.5 L362.8,586.1 L364.1,584.7 L365.4,583.5 L366.7,582.6 L368.0,582.4 L369.3,582.6 L370.6,583.1 L372.0,583.8 L373.3,584.5 L374.6,585.2 L375.9,586.0 L377.2,587.0 L378.5,588.1 L379.8,589.1 L381.1,590.0 L382.4,590.8 L383.7,591.3 L385.0,591.8 L386.3,592.3 L387.6,592.7 L388.9,593.0 L390.3,593.2 L391.6,593.3 L392.9,593.3 L394.2,593.4 L395.5,593.5 L396.8,593.5 L398.1,593.6 L399.4,593.7 L400.7,594.0 L402.0,594.3 L403.3,594.8 L404.6,595.3 L405.9,596.0 L407.3,596.7 L408.6,597.5 L409.9,598.4 L411.2,599.8 L412.5,601.8 L413.8,604.2 L415.1,606.9 L416.4,609.8 L417.7,612.6 L419.0,615.2 L420.3,617.6 L421.6,619.5 L422.9,621.3 L424.3,623.1 L425.6,624.9 L426.9,626.6 L428.2,628.2 L429.5,629.6 L430.8,630.6 L432.1,631.3 L433.4,631.5 L434.7,631.4 L436.0,631.3 L437.3,631.1 L438.6,630.9 L439.9,630.6 L441.2,630.3 L442.6,629.7 L443.9,628.9 L445.2,628.0 L446.5,627.0 L447.8,626.1 L449.1,625.6 L450.4,625.5 L451.7,626.2 L453.0,627.3 L454.3,628.7 L455.6,630.3 L456.9,632.5 L458.2,635.2 L459.6,638.2 L460.9,641.4 L462.2,645.3 L463.5,650.0 L464.8,655.0 L466.1,660.1 L467.4,665.1 L468.7,669.6 L470.0,673.4 L471.3,677.1 L472.6,680.6 L473.9,683.9 L475.2,687.0 L476.6,689.9 L477.9,692.7 L479.2,695.3 L480.5,697.8 L481.8,700.1 L483.1,702.2 L484.4,703.9 L485.7,705.6 L487.0,707.1 L488.3,708.7 L489.6,710.1 L490.9,711.5 L492.2,712.7 L493.6,713.9 L494.9,715.0 L496.2,715.9 L497.5,716.7 L498.8,717.4 L500.1,718.0 L501.4,718.5 L502.7,719.0 L504.0,719.5 L505.3,720.0 L506.6,720.4 L507.9,720.9 L509.2,721.2 L510.5,721.6 L511.9,721.9 L513.2,722.1 L514.5,722.3 L515.8,722.5 L517.1,722.6 L518.4,722.7 L519.7,722.7 L521.0,722.7 L522.3,722.6 L523.6,722.6 L524.9,722.5 L526.2,722.4 L527.5,722.3 L528.9,722.2 L530.2,722.1 L531.5,722.0 L532.8,721.9 L534.1,721.8 L535.4,721.7 L536.7,721.5 L538.0,721.4 L539.3,721.3 L540.6,721.1 L541.9,721.0 L543.2,720.8 L544.5,720.7 L545.9,720.5 L547.2,720.4 L548.5,720.2 L549.8,720.0 L551.1,719.9 L552.4,719.7 L553.7,719.6 L555.0,719.4 L556.3,719.2 L557.6,719.1 L558.9,718.9 L560.2,718.7 L561.5,718.5 L562.8,718.3 L564.2,718.2 L565.5,718.0 L566.8,717.8 L568.1,717.6 L569.4,717.3 L570.7,717.1 L572.0,716.9 L573.3,716.7 L574.6,716.4 L575.9,716.2 L577.2,715.9 L578.5,715.7 L579.8,715.4 L581.2,715.1 L582.5,714.9 L583.8,714.6 L585.1,714.3 L586.4,714.0 L587.7,713.7 L589.0,713.3 L590.3,713.0 L591.6,712.7 L592.9,712.3 L594.2,712.0 L595.5,711.6 L596.8,711.2 L598.2,710.8 L599.5,710.4 L600.8,710.0 L602.1,709.6 L603.4,709.2 L604.7,708.7 L606.0,708.3 L607.3,707.8 L608.6,707.4 L609.9,706.9 L611.2,706.4 L612.5,705.9 L613.8,705.3 L615.1,704.8 L616.5,704.3 L617.8,703.7 L619.1,703.2 L620.4,702.6 L621.7,702.0 L623.0,701.4 L624.3,700.8 L625.6,700.2 L626.9,699.6 L628.2,699.0 L629.5,698.3 L630.8,697.7 L632.1,697.0 L633.5,696.4 L634.8,695.7 L636.1,695.0 L637.4,694.3 L638.7,693.6 L640.0,692.9 L641.3,692.2 L642.6,691.5 L643.9,690.7 L645.2,690.0 L646.5,689.2 L647.8,688.5 L649.1,687.7 L650.5,687.0 L651.8,686.2 L653.1,685.4 L654.4,684.7 L655.7,683.9 L657.0,683.1 L658.3,682.3 L659.6,681.5 L660.9,680.7 L662.2,679.9 L663.5,679.1 L664.8,678.3 L666.1,677.5 L667.4,676.7 L668.8,675.9 L670.1,675.0 L671.4,674.2 L672.7,673.4 L674.0,672.6 L675.3,671.8 L676.6,671.0 L677.9,670.1 L679.2,669.3 L680.5,668.5 L681.8,667.7 L683.1,666.9 L684.4,666.1 L685.8,665.3 L687.1,664.5 L688.4,663.7 L689.7,662.9 L691.0,662.1 L692.3,661.3 L693.6,660.5 L694.9,659.7 L696.2,659.0 L697.5,658.2 L698.8,657.4 L700.1,656.7 L701.4,655.9 L702.8,655.2 L704.1,654.5 L705.4,653.7 L706.7,653.0 L708.0,652.3 L709.3,651.6 L710.6,650.9 L711.9,650.2 L713.2,649.6 L714.5,648.9 L715.8,648.2 L717.1,647.6 L718.4,647.0 L719.7,646.3 L721.1,645.7 L722.4,645.1 L723.7,644.5 L725.0,644.0 L726.3,643.4 L727.6,642.9 L728.9,642.3 L730.2,641.8 L731.5,641.3 L732.8,640.8 L734.1,640.3 L735.4,639.9 L736.7,639.4 L738.1,639.0 L739.4,638.6 L740.7,638.2 L742.0,637.8 L743.3,637.4 L744.6,637.0 L745.9,636.7 L747.2,636.4 L748.5,636.1 L749.8,635.8 L751.1,635.5 L752.4,635.3 L753.7,635.0 L755.0,634.8 L756.4,634.6 L757.7,634.4 L759.0,634.3 L760.3,634.1 L761.6,634.0 L762.9,633.9 L764.2,633.8 L765.5,633.7 L766.8,633.6 L768.1,633.6 L769.4,633.5 L770.7,633.4 L772.0,633.3 L773.4,633.2 L774.7,633.1 L776.0,633.0 L777.3,633.0 L778.6,633.0 L779.9,633.0 L781.2,633.1 L782.5,633.1 L783.8,633.2 L785.1,633.3 L786.4,633.4 L787.7,633.5 L789.0,633.7 L790.4,633.8 L791.7,634.0 L793.0,634.3 L794.3,634.5 L795.6,634.8 L796.9,635.0 L798.2,635.3 L799.5,635.6 L800.8,635.9 L802.1,636.3 L803.4,636.6 L804.7,637.0 L806.0,637.3 L807.4,637.7 L808.7,638.1 L810.0,638.5 L811.3,638.9 L812.6,639.3 L813.9,639.7 L815.2,640.1 L816.5,640.5 L817.8,641.0 L819.1,641.4 L820.4,641.9 L821.7,642.3 L823.0,642.8 L824.3,643.3 L825.7,643.8 L827.0,644.2 L828.3,644.7 L829.6,645.2 L830.9,645.6 L832.2,646.1 L833.5,646.6 L834.8,647.1 L836.1,647.6 L837.4,648.0 L838.7,648.5 L840.0,649.0 L841.3,649.5 L842.7,650.0 L844.0,650.4 L845.3,650.9 L846.6,651.4 L847.9,651.9 L849.2,652.4 L850.5,653.0 L851.8,653.5 L853.1,654.0 L854.4,654.6 L855.7,655.1 L857.0,655.7 L858.3,656.3 L859.7,656.9 L861.0,657.5 L862.3,658.1 L863.6,658.7 L864.9,659.4 L866.2,660.1 L867.5,660.8 L868.8,661.5 L870.1,662.2 L871.4,662.9 L872.7,663.7 L874.0,664.5 L875.3,665.2 L876.6,666.0 L878.0,666.9 L879.3,667.7 L880.6,668.5 L881.9,669.4 L883.2,670.2 L884.5,671.1 L885.8,672.0 L887.1,672.9 L888.4,673.7 L889.7,674.6 L891.0,675.5 L892.3,676.4 L893.6,677.3 L895.0,678.3 L896.3,679.2 L897.6,680.1 L898.9,681.0 L900.2,681.9 L901.5,682.8 L902.8,683.7 L904.1,684.6 L905.4,685.4 L906.7,686.3 L908.0,687.2 L909.3,688.0 L910.6,688.9 L912.0,689.7 L913.3,690.5 L914.6,691.3 L915.9,692.1 L917.2,692.9 L918.5,693.6 L919.8,694.4 L921.1,695.1 L922.4,695.8 L923.7,696.5 L925.0,697.2 L926.3,697.9 L927.6,698.5 L928.9,699.2 L930.3,699.8 L931.6,700.5 L932.9,701.1 L934.2,701.7 L935.5,702.3 L936.8,702.9 L938.1,703.4 L939.4,704.0 L940.7,704.6 L942.0,705.1 L943.3,705.7 L944.6,706.2 L945.9,706.8 L947.3,707.3 L948.6,707.8 L949.9,708.3 L951.2,708.8 L952.5,709.4 L953.8,709.9 L955.1,710.4 L956.4,710.9 L957.7,711.4 L959.0,711.9 L960.3,712.4 L961.6,712.9 L962.9,713.4 L964.2,713.9 L965.6,714.3 L966.9,714.8 L968.2,715.3 L969.5,715.8 L970.8,716.3 L972.1,716.7 L973.4,717.2 L974.7,717.7 L976.0,718.1 L977.3,718.6 L978.6,719.0 L979.9,719.5 L981.2,719.9 L982.6,720.4 L983.9,720.8 L985.2,721.3 L986.5,721.7 L987.8,722.1 L989.1,722.6 L990.4,723.0 L991.7,723.4 L993.0,723.9 L994.3,724.3 L995.6,724.7 L996.9,725.1 L998.2,725.5 L999.6,726.0 L1000.9,726.4 L1002.2,726.8 L1003.5,727.2 L1004.8,727.6 L1006.1,728.0 L1007.4,728.4 L1008.7,728.8 L1010.0,729.1 L1011.3,729.5 L1012.6,729.9 L1013.9,730.2 L1015.2,730.6 L1016.6,730.9 L1017.9,731.2 L1019.2,731.6 L1020.5,731.9 L1021.8,732.2 L1023.1,732.4 L1024.4,732.7 L1025.7,733.0 L1027.0,733.2 L1028.3,733.4 L1029.6,733.6 L1030.9,733.9 L1032.2,734.1 L1033.5,734.2 L1034.9,734.4 L1036.2,734.6 L1037.5,734.8 L1038.8,734.9 L1040.1,735.1 L1041.4,735.2 L1042.7,735.4 L1044.0,735.5 L1045.3,735.6 L1046.6,735.8 L1047.9,735.9 L1049.2,736.0 L1050.5,736.1 L1051.9,736.2 L1053.2,736.3 L1054.5,736.4 L1055.8,736.5 L1057.1,736.6 L1058.4,736.7 L1059.7,736.8 L1061.0,736.9 L1062.3,736.9 L1063.6,737.0 L1064.9,737.1 L1066.2,737.1 L1067.5,737.2 L1068.8,737.3 L1070.2,737.3 L1071.5,737.4 L1072.8,737.4 L1074.1,737.5 L1075.4,737.5 L1076.7,737.5 L1078.0,737.6 L1079.3,737.6 L1080.6,737.6 L1081.9,737.7 L1083.2,737.7 L1084.5,737.7 L1085.8,737.7 L1087.2,737.8 L1088.5,737.8 L1089.8,737.8 L1091.1,737.8 L1092.4,737.8 L1093.7,737.8 L1095.0,737.9" stroke="#b3dcc9" stroke-width="6.2"/>
<path d="M310.5,578.9 L311.8,578.8 L313.1,578.6 L314.4,578.4 L315.7,578.1 L317.0,577.7 L318.3,577.3 L319.7,576.8 L321.0,576.3 L322.3,575.7 L323.6,575.0 L324.9,573.9 L326.2,572.5 L327.5,570.8 L328.8,569.0 L330.1,567.3 L331.4,565.7 L332.7,564.2 L334.0,562.7 L335.3,561.3 L336.6,559.9 L338.0,558.4 L339.3,556.9 L340.6,555.2 L341.9,553.5 L343.2,551.5 L344.5,549.1 L345.8,546.5 L347.1,543.6 L348.4,540.5 L349.7,537.4 L351.0,534.2 L352.3,531.1 L353.6,528.1 L355.0,525.2 L356.3,522.1 L357.6,519.0 L358.9,516.1 L360.2,513.4 L361.5,511.2 L362.8,509.1 L364.1,507.1 L365.4,505.4 L366.7,504.2 L368.0,503.9 L369.3,504.2 L370.6,504.9 L372.0,505.9 L373.3,506.9 L374.6,508.0 L375.9,509.3 L377.2,510.8 L378.5,512.4 L379.8,514.1 L381.1,515.6 L382.4,516.8 L383.7,517.8 L385.0,518.6 L386.3,519.3 L387.6,519.9 L388.9,520.4 L390.3,520.8 L391.6,521.0 L392.9,521.1 L394.2,521.3 L395.5,521.4 L396.8,521.5 L398.1,521.7 L399.4,521.9 L400.7,522.2 L402.0,522.8 L403.3,523.5 L404.6,524.4 L405.9,525.4 L407.3,526.5 L408.6,527.8 L409.9,529.3 L411.2,531.4 L412.5,534.3 L413.8,537.8 L415.1,541.8 L416.4,545.9 L417.7,550.0 L419.0,553.9 L420.3,557.3 L421.6,560.2 L422.9,562.9 L424.3,565.6 L425.6,568.4 L426.9,571.0 L428.2,573.4 L429.5,575.4 L430.8,577.1 L432.1,578.3 L433.4,578.8 L434.7,578.8 L436.0,578.7 L437.3,578.4 L438.6,577.9 L439.9,577.5 L441.2,576.9 L442.6,576.1 L443.9,574.9 L445.2,573.3 L446.5,571.9 L447.8,570.7 L449.1,569.9 L450.4,569.8 L451.7,570.7 L453.0,572.4 L454.3,574.4 L455.6,576.9 L456.9,580.3 L458.2,584.5 L459.6,589.1 L460.9,594.0 L462.2,600.1 L463.5,607.0 L464.8,614.4 L466.1,621.9 L467.4,629.1 L468.7,635.9 L470.0,642.1 L471.3,647.9 L472.6,653.5 L473.9,658.7 L475.2,663.7 L476.6,668.2 L477.9,672.5 L479.2,676.6 L480.5,680.5 L481.8,684.1 L483.1,687.3 L484.4,690.1 L485.7,692.6 L487.0,695.0 L488.3,697.3 L489.6,699.5 L490.9,701.5 L492.2,703.4 L493.6,705.1 L494.9,706.6 L496.2,707.9 L497.5,709.1 L498.8,710.0 L500.1,710.8 L501.4,711.6 L502.7,712.3 L504.0,713.0 L505.3,713.6 L506.6,714.2 L507.9,714.8 L509.2,715.3 L510.5,715.7 L511.9,716.1 L513.2,716.5 L514.5,716.8 L515.8,717.0 L517.1,717.1 L518.4,717.2 L519.7,717.3 L521.0,717.2 L522.3,717.1 L523.6,717.0 L524.9,716.9 L526.2,716.8 L527.5,716.6 L528.9,716.5 L530.2,716.4 L531.5,716.2 L532.8,716.0 L534.1,715.9 L535.4,715.7 L536.7,715.5 L538.0,715.3 L539.3,715.1 L540.6,714.9 L541.9,714.7 L543.2,714.5 L544.5,714.3 L545.9,714.0 L547.2,713.8 L548.5,713.6 L549.8,713.4 L551.1,713.1 L552.4,712.9 L553.7,712.7 L555.0,712.4 L556.3,712.2 L557.6,712.0 L558.9,711.7 L560.2,711.5 L561.5,711.2 L562.8,711.0 L564.2,710.7 L565.5,710.4 L566.8,710.1 L568.1,709.9 L569.4,709.6 L570.7,709.2 L572.0,708.9 L573.3,708.6 L574.6,708.2 L575.9,707.9 L577.2,707.5 L578.5,707.2 L579.8,706.8 L581.2,706.4 L582.5,706.0 L583.8,705.6 L585.1,705.2 L586.4,704.7 L587.7,704.3 L589.0,703.8 L590.3,703.4 L591.6,702.9 L592.9,702.4 L594.2,701.9 L595.5,701.3 L596.8,700.8 L598.2,700.2 L599.5,699.6 L600.8,699.0 L602.1,698.4 L603.4,697.8 L604.7,697.2 L606.0,696.5 L607.3,695.8 L608.6,695.2 L609.9,694.4 L611.2,693.7 L612.5,693.0 L613.8,692.2 L615.1,691.5 L616.5,690.7 L617.8,689.9 L619.1,689.0 L620.4,688.2 L621.7,687.4 L623.0,686.5 L624.3,685.6 L625.6,684.7 L626.9,683.8 L628.2,682.9 L629.5,681.9 L630.8,681.0 L632.1,680.0 L633.5,679.0 L634.8,678.0 L636.1,677.0 L637.4,676.0 L638.7,675.0 L640.0,673.9 L641.3,672.9 L642.6,671.8 L643.9,670.7 L645.2,669.6 L646.5,668.5 L647.8,667.4 L649.1,666.3 L650.5,665.2 L651.8,664.0 L653.1,662.9 L654.4,661.7 L655.7,660.6 L657.0,659.4 L658.3,658.2 L659.6,657.1 L660.9,655.9 L662.2,654.7 L663.5,653.5 L664.8,652.3 L666.1,651.1 L667.4,649.9 L668.8,648.7 L670.1,647.5 L671.4,646.3 L672.7,645.1 L674.0,643.9 L675.3,642.6 L676.6,641.4 L677.9,640.2 L679.2,639.0 L680.5,637.8 L681.8,636.6 L683.1,635.4 L684.4,634.2 L685.8,633.0 L687.1,631.8 L688.4,630.6 L689.7,629.4 L691.0,628.3 L692.3,627.1 L693.6,625.9 L694.9,624.8 L696.2,623.6 L697.5,622.5 L698.8,621.4 L700.1,620.2 L701.4,619.1 L702.8,618.0 L704.1,617.0 L705.4,615.9 L706.7,614.8 L708.0,613.8 L709.3,612.7 L710.6,611.7 L711.9,610.7 L713.2,609.7 L714.5,608.7 L715.8,607.7 L717.1,606.8 L718.4,605.9 L719.7,604.9 L721.1,604.0 L722.4,603.2 L723.7,602.3 L725.0,601.5 L726.3,600.6 L727.6,599.8 L728.9,599.0 L730.2,598.3 L731.5,597.5 L732.8,596.8 L734.1,596.1 L735.4,595.4 L736.7,594.8 L738.1,594.1 L739.4,593.5 L740.7,592.9 L742.0,592.4 L743.3,591.8 L744.6,591.3 L745.9,590.8 L747.2,590.4 L748.5,589.9 L749.8,589.5 L751.1,589.1 L752.4,588.7 L753.7,588.4 L755.0,588.1 L756.4,587.8 L757.7,587.6 L759.0,587.4 L760.3,587.2 L761.6,587.0 L762.9,586.9 L764.2,586.8 L765.5,586.7 L766.8,586.6 L768.1,586.5 L769.4,586.4 L770.7,586.3 L772.0,586.1 L773.4,586.0 L774.7,586.0 L776.0,585.9 L777.3,585.9 L778.6,586.0 L779.9,586.1 L781.2,586.2 L782.5,586.3 L783.8,586.4 L785.1,586.6 L786.4,586.8 L787.7,587.0 L789.0,587.2 L790.4,587.5 L791.7,587.9 L793.0,588.2 L794.3,588.6 L795.6,589.0 L796.9,589.4 L798.2,589.9 L799.5,590.4 L800.8,590.9 L802.1,591.4 L803.4,591.9 L804.7,592.5 L806.0,593.0 L807.4,593.6 L808.7,594.2 L810.0,594.8 L811.3,595.5 L812.6,596.1 L813.9,596.8 L815.2,597.4 L816.5,598.1 L817.8,598.8 L819.1,599.5 L820.4,600.2 L821.7,600.9 L823.0,601.6 L824.3,602.3 L825.7,603.0 L827.0,603.7 L828.3,604.4 L829.6,605.1 L830.9,605.8 L832.2,606.5 L833.5,607.2 L834.8,607.9 L836.1,608.5 L837.4,609.2 L838.7,609.8 L840.0,610.5 L841.3,611.1 L842.7,611.8 L844.0,612.4 L845.3,613.1 L846.6,613.7 L847.9,614.4 L849.2,615.0 L850.5,615.7 L851.8,616.3 L853.1,617.0 L854.4,617.7 L855.7,618.4 L857.0,619.1 L858.3,619.8 L859.7,620.5 L861.0,621.3 L862.3,622.0 L863.6,622.8 L864.9,623.6 L866.2,624.4 L867.5,625.3 L868.8,626.1 L870.1,627.0 L871.4,627.9 L872.7,628.8 L874.0,629.7 L875.3,630.6 L876.6,631.6 L878.0,632.6 L879.3,633.6 L880.6,634.6 L881.9,635.7 L883.2,636.7 L884.5,637.8 L885.8,638.9 L887.1,640.1 L888.4,641.2 L889.7,642.4 L891.0,643.5 L892.3,644.7 L893.6,646.0 L895.0,647.2 L896.3,648.4 L897.6,649.7 L898.9,650.9 L900.2,652.2 L901.5,653.5 L902.8,654.8 L904.1,656.0 L905.4,657.3 L906.7,658.6 L908.0,659.9 L909.3,661.2 L910.6,662.4 L912.0,663.7 L913.3,664.9 L914.6,666.2 L915.9,667.4 L917.2,668.6 L918.5,669.8 L919.8,670.9 L921.1,672.1 L922.4,673.2 L923.7,674.3 L925.0,675.4 L926.3,676.5 L927.6,677.6 L928.9,678.6 L930.3,679.6 L931.6,680.6 L932.9,681.6 L934.2,682.5 L935.5,683.5 L936.8,684.4 L938.1,685.4 L939.4,686.3 L940.7,687.2 L942.0,688.1 L943.3,689.0 L944.6,689.9 L945.9,690.8 L947.3,691.6 L948.6,692.5 L949.9,693.4 L951.2,694.3 L952.5,695.2 L953.8,696.1 L955.1,697.0 L956.4,697.8 L957.7,698.7 L959.0,699.6 L960.3,700.5 L961.6,701.3 L962.9,702.2 L964.2,703.0 L965.6,703.9 L966.9,704.7 L968.2,705.5 L969.5,706.3 L970.8,707.1 L972.1,707.8 L973.4,708.6 L974.7,709.3 L976.0,710.0 L977.3,710.7 L978.6,711.3 L979.9,712.0 L981.2,712.6 L982.6,713.2 L983.9,713.8 L985.2,714.4 L986.5,715.0 L987.8,715.5 L989.1,716.1 L990.4,716.6 L991.7,717.1 L993.0,717.6 L994.3,718.1 L995.6,718.6 L996.9,719.1 L998.2,719.6 L999.6,720.1 L1000.9,720.5 L1002.2,721.0 L1003.5,721.5 L1004.8,721.9 L1006.1,722.4 L1007.4,722.9 L1008.7,723.3 L1010.0,723.8 L1011.3,724.2 L1012.6,724.7 L1013.9,725.2 L1015.2,725.6 L1016.6,726.1 L1017.9,726.6 L1019.2,727.0 L1020.5,727.5 L1021.8,727.9 L1023.1,728.4 L1024.4,728.8 L1025.7,729.2 L1027.0,729.6 L1028.3,730.0 L1029.6,730.4 L1030.9,730.8 L1032.2,731.2 L1033.5,731.5 L1034.9,731.9 L1036.2,732.2 L1037.5,732.5 L1038.8,732.8 L1040.1,733.1 L1041.4,733.3 L1042.7,733.6 L1044.0,733.8 L1045.3,734.0 L1046.6,734.2 L1047.9,734.4 L1049.2,734.6 L1050.5,734.8 L1051.9,734.9 L1053.2,735.1 L1054.5,735.2 L1055.8,735.4 L1057.1,735.5 L1058.4,735.7 L1059.7,735.8 L1061.0,735.9 L1062.3,736.1 L1063.6,736.2 L1064.9,736.3 L1066.2,736.4 L1067.5,736.5 L1068.8,736.6 L1070.2,736.7 L1071.5,736.8 L1072.8,736.9 L1074.1,737.0 L1075.4,737.1 L1076.7,737.2 L1078.0,737.3 L1079.3,737.3 L1080.6,737.4 L1081.9,737.5 L1083.2,737.5 L1084.5,737.6 L1085.8,737.6 L1087.2,737.7 L1088.5,737.7 L1089.8,737.7 L1091.1,737.8 L1092.4,737.8 L1093.7,737.8 L1095.0,737.8" stroke="#86c4cd" stroke-width="6.2"/>
<path d="M310.5,535.9 L311.8,535.4 L313.1,534.8 L314.4,534.1 L315.7,533.3 L317.0,532.5 L318.3,531.6 L319.7,530.6 L321.0,529.5 L322.3,528.3 L323.6,527.0 L324.9,525.2 L326.2,523.2 L327.5,520.9 L328.8,518.4 L330.1,515.9 L331.4,513.4 L332.7,511.1 L334.0,508.7 L335.3,506.2 L336.6,503.7 L338.0,501.2 L339.3,498.7 L340.6,496.2 L341.9,493.7 L343.2,491.0 L344.5,488.0 L345.8,484.8 L347.1,481.3 L348.4,477.7 L349.7,474.0 L351.0,470.4 L352.3,466.7 L353.6,463.1 L355.0,459.6 L356.3,455.9 L357.6,452.2 L358.9,448.8 L360.2,445.7 L361.5,443.0 L362.8,440.6 L364.1,438.3 L365.4,436.5 L366.7,435.4 L368.0,435.0 L369.3,435.3 L370.6,436.1 L372.0,437.1 L373.3,438.3 L374.6,439.8 L375.9,441.7 L377.2,443.9 L378.5,446.3 L379.8,448.9 L381.1,451.4 L382.4,453.3 L383.7,454.8 L385.0,456.2 L386.3,457.4 L387.6,458.4 L388.9,459.1 L390.3,459.7 L391.6,460.2 L392.9,460.5 L394.2,460.9 L395.5,461.2 L396.8,461.4 L398.1,461.7 L399.4,462.1 L400.7,462.6 L402.0,463.4 L403.3,464.5 L404.6,465.8 L405.9,467.3 L407.3,469.0 L408.6,471.0 L409.9,473.1 L411.2,476.0 L412.5,479.6 L413.8,483.8 L415.1,488.4 L416.4,493.2 L417.7,498.0 L419.0,502.5 L420.3,506.6 L421.6,510.3 L422.9,513.8 L424.3,517.4 L425.6,521.0 L426.9,524.5 L428.2,527.7 L429.5,530.5 L430.8,533.2 L432.1,535.3 L433.4,536.6 L434.7,537.1 L436.0,537.0 L437.3,536.5 L438.6,535.8 L439.9,535.0 L441.2,534.1 L442.6,532.9 L443.9,531.1 L445.2,528.8 L446.5,526.8 L447.8,525.4 L449.1,524.6 L450.4,524.4 L451.7,525.2 L453.0,527.2 L454.3,529.9 L455.6,533.1 L456.9,537.6 L458.2,543.5 L459.6,550.0 L460.9,556.7 L462.2,564.6 L463.5,573.2 L464.8,581.9 L466.1,590.4 L467.4,598.9 L468.7,607.5 L470.0,616.2 L471.3,624.8 L472.6,632.9 L473.9,640.3 L475.2,647.2 L476.6,653.6 L477.9,659.6 L479.2,665.3 L480.5,670.6 L481.8,675.5 L483.1,679.8 L484.4,683.5 L485.7,686.8 L487.0,690.0 L488.3,692.8 L489.6,695.4 L490.9,697.8 L492.2,700.0 L493.6,701.8 L494.9,703.3 L496.2,704.6 L497.5,705.7 L498.8,706.7 L500.1,707.5 L501.4,708.2 L502.7,708.8 L504.0,709.4 L505.3,710.0 L506.6,710.5 L507.9,710.9 L509.2,711.2 L510.5,711.6 L511.9,711.8 L513.2,712.0 L514.5,712.2 L515.8,712.3 L517.1,712.3 L518.4,712.3 L519.7,712.2 L521.0,712.0 L522.3,711.8 L523.6,711.6 L524.9,711.4 L526.2,711.2 L527.5,710.9 L528.9,710.7 L530.2,710.4 L531.5,710.1 L532.8,709.9 L534.1,709.6 L535.4,709.3 L536.7,709.0 L538.0,708.8 L539.3,708.5 L540.6,708.2 L541.9,707.9 L543.2,707.6 L544.5,707.2 L545.9,706.9 L547.2,706.6 L548.5,706.3 L549.8,706.0 L551.1,705.6 L552.4,705.3 L553.7,705.0 L555.0,704.7 L556.3,704.4 L557.6,704.0 L558.9,703.7 L560.2,703.3 L561.5,703.0 L562.8,702.6 L564.2,702.3 L565.5,701.9 L566.8,701.5 L568.1,701.1 L569.4,700.7 L570.7,700.3 L572.0,699.9 L573.3,699.5 L574.6,699.0 L575.9,698.5 L577.2,698.1 L578.5,697.6 L579.8,697.1 L581.2,696.6 L582.5,696.0 L583.8,695.5 L585.1,694.9 L586.4,694.4 L587.7,693.8 L589.0,693.2 L590.3,692.6 L591.6,691.9 L592.9,691.3 L594.2,690.6 L595.5,689.9 L596.8,689.2 L598.2,688.4 L599.5,687.7 L600.8,686.9 L602.1,686.1 L603.4,685.3 L604.7,684.4 L606.0,683.6 L607.3,682.7 L608.6,681.8 L609.9,680.9 L611.2,679.9 L612.5,679.0 L613.8,678.0 L615.1,677.0 L616.5,675.9 L617.8,674.9 L619.1,673.8 L620.4,672.7 L621.7,671.6 L623.0,670.5 L624.3,669.4 L625.6,668.2 L626.9,667.0 L628.2,665.8 L629.5,664.6 L630.8,663.4 L632.1,662.1 L633.5,660.8 L634.8,659.5 L636.1,658.2 L637.4,656.9 L638.7,655.6 L640.0,654.2 L641.3,652.9 L642.6,651.5 L643.9,650.1 L645.2,648.7 L646.5,647.3 L647.8,645.8 L649.1,644.4 L650.5,643.0 L651.8,641.5 L653.1,640.0 L654.4,638.6 L655.7,637.1 L657.0,635.6 L658.3,634.1 L659.6,632.6 L660.9,631.1 L662.2,629.5 L663.5,628.0 L664.8,626.5 L666.1,625.0 L667.4,623.4 L668.8,621.9 L670.1,620.3 L671.4,618.8 L672.7,617.3 L674.0,615.7 L675.3,614.2 L676.6,612.7 L677.9,611.1 L679.2,609.6 L680.5,608.1 L681.8,606.5 L683.1,605.0 L684.4,603.5 L685.8,602.0 L687.1,600.5 L688.4,599.0 L689.7,597.5 L691.0,596.1 L692.3,594.6 L693.6,593.1 L694.9,591.7 L696.2,590.3 L697.5,588.8 L698.8,587.4 L700.1,586.0 L701.4,584.7 L702.8,583.3 L704.1,582.0 L705.4,580.6 L706.7,579.3 L708.0,578.0 L709.3,576.7 L710.6,575.5 L711.9,574.2 L713.2,573.0 L714.5,571.8 L715.8,570.6 L717.1,569.5 L718.4,568.3 L719.7,567.2 L721.1,566.1 L722.4,565.0 L723.7,564.0 L725.0,563.0 L726.3,562.0 L727.6,561.0 L728.9,560.1 L730.2,559.2 L731.5,558.3 L732.8,557.4 L734.1,556.6 L735.4,555.8 L736.7,555.0 L738.1,554.3 L739.4,553.6 L740.7,552.9 L742.0,552.2 L743.3,551.6 L744.6,551.0 L745.9,550.5 L747.2,550.0 L748.5,549.5 L749.8,549.0 L751.1,548.6 L752.4,548.2 L753.7,547.8 L755.0,547.5 L756.4,547.3 L757.7,547.0 L759.0,546.9 L760.3,546.7 L761.6,546.6 L762.9,546.5 L764.2,546.5 L765.5,546.4 L766.8,546.5 L768.1,546.5 L769.4,546.6 L770.7,546.7 L772.0,546.8 L773.4,546.9 L774.7,547.1 L776.0,547.3 L777.3,547.5 L778.6,547.8 L779.9,548.0 L781.2,548.3 L782.5,548.6 L783.8,548.9 L785.1,549.3 L786.4,549.7 L787.7,550.1 L789.0,550.6 L790.4,551.1 L791.7,551.6 L793.0,552.1 L794.3,552.7 L795.6,553.3 L796.9,554.0 L798.2,554.7 L799.5,555.4 L800.8,556.1 L802.1,556.8 L803.4,557.6 L804.7,558.4 L806.0,559.2 L807.4,560.0 L808.7,560.8 L810.0,561.7 L811.3,562.5 L812.6,563.4 L813.9,564.2 L815.2,565.1 L816.5,566.0 L817.8,566.9 L819.1,567.8 L820.4,568.7 L821.7,569.6 L823.0,570.5 L824.3,571.5 L825.7,572.4 L827.0,573.3 L828.3,574.2 L829.6,575.1 L830.9,576.0 L832.2,576.9 L833.5,577.8 L834.8,578.7 L836.1,579.6 L837.4,580.4 L838.7,581.3 L840.0,582.2 L841.3,583.1 L842.7,584.0 L844.0,584.9 L845.3,585.7 L846.6,586.6 L847.9,587.5 L849.2,588.4 L850.5,589.4 L851.8,590.3 L853.1,591.2 L854.4,592.2 L855.7,593.1 L857.0,594.1 L858.3,595.1 L859.7,596.2 L861.0,597.2 L862.3,598.3 L863.6,599.4 L864.9,600.5 L866.2,601.6 L867.5,602.8 L868.8,604.0 L870.1,605.2 L871.4,606.4 L872.7,607.7 L874.0,609.0 L875.3,610.3 L876.6,611.6 L878.0,613.0 L879.3,614.4 L880.6,615.8 L881.9,617.2 L883.2,618.6 L884.5,620.1 L885.8,621.6 L887.1,623.1 L888.4,624.6 L889.7,626.2 L891.0,627.8 L892.3,629.3 L893.6,630.9 L895.0,632.5 L896.3,634.2 L897.6,635.8 L898.9,637.4 L900.2,639.0 L901.5,640.7 L902.8,642.3 L904.1,643.9 L905.4,645.6 L906.7,647.2 L908.0,648.8 L909.3,650.4 L910.6,651.9 L912.0,653.5 L913.3,655.0 L914.6,656.6 L915.9,658.1 L917.2,659.5 L918.5,661.0 L919.8,662.4 L921.1,663.8 L922.4,665.1 L923.7,666.4 L925.0,667.7 L926.3,669.0 L927.6,670.2 L928.9,671.4 L930.3,672.5 L931.6,673.7 L932.9,674.8 L934.2,675.9 L935.5,676.9 L936.8,677.9 L938.1,679.0 L939.4,680.0 L940.7,681.0 L942.0,681.9 L943.3,682.9 L944.6,683.8 L945.9,684.8 L947.3,685.7 L948.6,686.7 L949.9,687.6 L951.2,688.5 L952.5,689.4 L953.8,690.3 L955.1,691.2 L956.4,692.1 L957.7,693.0 L959.0,693.9 L960.3,694.8 L961.6,695.6 L962.9,696.5 L964.2,697.3 L965.6,698.2 L966.9,699.0 L968.2,699.8 L969.5,700.6 L970.8,701.4 L972.1,702.2 L973.4,703.0 L974.7,703.7 L976.0,704.4 L977.3,705.1 L978.6,705.8 L979.9,706.5 L981.2,707.2 L982.6,707.8 L983.9,708.5 L985.2,709.1 L986.5,709.7 L987.8,710.4 L989.1,711.0 L990.4,711.5 L991.7,712.1 L993.0,712.7 L994.3,713.3 L995.6,713.8 L996.9,714.4 L998.2,714.9 L999.6,715.5 L1000.9,716.0 L1002.2,716.6 L1003.5,717.1 L1004.8,717.7 L1006.1,718.2 L1007.4,718.8 L1008.7,719.3 L1010.0,719.8 L1011.3,720.4 L1012.6,720.9 L1013.9,721.5 L1015.2,722.1 L1016.6,722.6 L1017.9,723.2 L1019.2,723.7 L1020.5,724.3 L1021.8,724.8 L1023.1,725.3 L1024.4,725.9 L1025.7,726.4 L1027.0,726.9 L1028.3,727.4 L1029.6,727.9 L1030.9,728.3 L1032.2,728.8 L1033.5,729.2 L1034.9,729.6 L1036.2,730.1 L1037.5,730.4 L1038.8,730.8 L1040.1,731.2 L1041.4,731.5 L1042.7,731.8 L1044.0,732.1 L1045.3,732.4 L1046.6,732.7 L1047.9,732.9 L1049.2,733.2 L1050.5,733.4 L1051.9,733.6 L1053.2,733.9 L1054.5,734.1 L1055.8,734.3 L1057.1,734.5 L1058.4,734.7 L1059.7,734.9 L1061.0,735.1 L1062.3,735.3 L1063.6,735.4 L1064.9,735.6 L1066.2,735.8 L1067.5,735.9 L1068.8,736.1 L1070.2,736.2 L1071.5,736.4 L1072.8,736.5 L1074.1,736.6 L1075.4,736.7 L1076.7,736.9 L1078.0,737.0 L1079.3,737.1 L1080.6,737.2 L1081.9,737.3 L1083.2,737.3 L1084.5,737.4 L1085.8,737.5 L1087.2,737.5 L1088.5,737.6 L1089.8,737.6 L1091.1,737.7 L1092.4,737.7 L1093.7,737.8 L1095.0,737.8" stroke="#5aaed4" stroke-width="6.2"/>
<path d="M310.5,487.5 L311.8,486.5 L313.1,485.3 L314.4,484.0 L315.7,482.5 L317.0,481.0 L318.3,479.3 L319.7,477.5 L321.0,475.6 L322.3,473.6 L323.6,471.3 L324.9,468.8 L326.2,465.9 L327.5,462.8 L328.8,459.4 L330.1,456.0 L331.4,452.4 L332.7,448.9 L334.0,445.2 L335.3,441.2 L336.6,437.2 L338.0,433.3 L339.3,429.5 L340.6,426.0 L341.9,422.5 L343.2,418.9 L344.5,415.3 L345.8,411.4 L347.1,407.4 L348.4,403.3 L349.7,399.2 L351.0,395.0 L352.3,390.9 L353.6,386.8 L355.0,382.6 L356.3,378.3 L357.6,374.0 L358.9,370.2 L360.2,366.8 L361.5,363.6 L362.8,360.8 L364.1,358.3 L365.4,356.7 L366.7,355.7 L368.0,355.3 L369.3,355.5 L370.6,356.3 L372.0,357.4 L373.3,358.7 L374.6,360.6 L375.9,363.3 L377.2,366.4 L378.5,369.8 L379.8,373.7 L381.1,377.4 L382.4,380.2 L383.7,382.7 L385.0,384.8 L386.3,386.7 L387.6,388.1 L388.9,389.2 L390.3,390.1 L391.6,390.9 L392.9,391.5 L394.2,392.2 L395.5,392.7 L396.8,393.2 L398.1,393.7 L399.4,394.2 L400.7,395.0 L402.0,396.1 L403.3,397.7 L404.6,399.6 L405.9,401.7 L407.3,404.1 L408.6,406.9 L409.9,410.1 L411.2,413.9 L412.5,418.1 L413.8,423.0 L415.1,428.2 L416.4,433.6 L417.7,438.9 L419.0,444.0 L420.3,448.9 L421.6,453.4 L422.9,457.9 L424.3,462.5 L425.6,467.1 L426.9,471.6 L428.2,475.8 L429.5,479.6 L430.8,483.5 L432.1,487.0 L433.4,489.5 L434.7,490.7 L436.0,490.6 L437.3,490.0 L438.6,488.9 L439.9,487.7 L441.2,486.2 L442.6,484.6 L443.9,481.9 L445.2,478.8 L446.5,476.1 L447.8,474.4 L449.1,473.6 L450.4,473.2 L451.7,473.9 L453.0,476.2 L454.3,479.6 L455.6,483.6 L456.9,489.6 L458.2,497.7 L459.6,506.5 L460.9,515.4 L462.2,525.3 L463.5,535.7 L464.8,545.6 L466.1,554.9 L467.4,564.5 L468.7,575.1 L470.0,587.0 L471.3,599.3 L472.6,610.5 L473.9,620.5 L475.2,630.0 L476.6,638.8 L477.9,646.9 L479.2,654.4 L480.5,661.5 L481.8,667.9 L483.1,673.5 L484.4,678.4 L485.7,682.8 L487.0,686.8 L488.3,690.2 L489.6,693.3 L490.9,696.1 L492.2,698.5 L493.6,700.3 L494.9,701.6 L496.2,702.8 L497.5,703.8 L498.8,704.6 L500.1,705.3 L501.4,705.8 L502.7,706.3 L504.0,706.7 L505.3,707.0 L506.6,707.3 L507.9,707.5 L509.2,707.6 L510.5,707.7 L511.9,707.7 L513.2,707.7 L514.5,707.6 L515.8,707.5 L517.1,707.3 L518.4,707.1 L519.7,706.8 L521.0,706.5 L522.3,706.1 L523.6,705.8 L524.9,705.4 L526.2,705.0 L527.5,704.6 L528.9,704.2 L530.2,703.8 L531.5,703.4 L532.8,703.0 L534.1,702.6 L535.4,702.2 L536.7,701.7 L538.0,701.3 L539.3,700.9 L540.6,700.5 L541.9,700.0 L543.2,699.6 L544.5,699.1 L545.9,698.7 L547.2,698.3 L548.5,697.8 L549.8,697.4 L551.1,696.9 L552.4,696.5 L553.7,696.0 L555.0,695.6 L556.3,695.1 L557.6,694.7 L558.9,694.2 L560.2,693.7 L561.5,693.3 L562.8,692.8 L564.2,692.3 L565.5,691.8 L566.8,691.2 L568.1,690.7 L569.4,690.2 L570.7,689.6 L572.0,689.0 L573.3,688.4 L574.6,687.8 L575.9,687.2 L577.2,686.6 L578.5,685.9 L579.8,685.3 L581.2,684.6 L582.5,683.9 L583.8,683.2 L585.1,682.4 L586.4,681.7 L587.7,680.9 L589.0,680.1 L590.3,679.3 L591.6,678.4 L592.9,677.5 L594.2,676.6 L595.5,675.7 L596.8,674.8 L598.2,673.8 L599.5,672.8 L600.8,671.8 L602.1,670.8 L603.4,669.7 L604.7,668.6 L606.0,667.5 L607.3,666.4 L608.6,665.2 L609.9,664.0 L611.2,662.8 L612.5,661.5 L613.8,660.3 L615.1,659.0 L616.5,657.7 L617.8,656.3 L619.1,654.9 L620.4,653.5 L621.7,652.1 L623.0,650.7 L624.3,649.2 L625.6,647.7 L626.9,646.2 L628.2,644.7 L629.5,643.1 L630.8,641.5 L632.1,639.9 L633.5,638.3 L634.8,636.7 L636.1,635.0 L637.4,633.3 L638.7,631.6 L640.0,629.9 L641.3,628.2 L642.6,626.5 L643.9,624.7 L645.2,622.9 L646.5,621.1 L647.8,619.3 L649.1,617.5 L650.5,615.7 L651.8,613.9 L653.1,612.0 L654.4,610.2 L655.7,608.3 L657.0,606.4 L658.3,604.6 L659.6,602.7 L660.9,600.8 L662.2,598.9 L663.5,597.0 L664.8,595.1 L666.1,593.2 L667.4,591.3 L668.8,589.3 L670.1,587.4 L671.4,585.5 L672.7,583.6 L674.0,581.7 L675.3,579.8 L676.6,577.9 L677.9,576.0 L679.2,574.1 L680.5,572.3 L681.8,570.4 L683.1,568.5 L684.4,566.7 L685.8,564.8 L687.1,563.0 L688.4,561.2 L689.7,559.3 L691.0,557.5 L692.3,555.8 L693.6,554.0 L694.9,552.2 L696.2,550.5 L697.5,548.8 L698.8,547.1 L700.1,545.4 L701.4,543.7 L702.8,542.1 L704.1,540.4 L705.4,538.8 L706.7,537.3 L708.0,535.7 L709.3,534.2 L710.6,532.7 L711.9,531.2 L713.2,529.7 L714.5,528.3 L715.8,526.9 L717.1,525.6 L718.4,524.2 L719.7,522.9 L721.1,521.6 L722.4,520.4 L723.7,519.2 L725.0,518.0 L726.3,516.8 L727.6,515.7 L728.9,514.6 L730.2,513.6 L731.5,512.6 L732.8,511.6 L734.1,510.7 L735.4,509.8 L736.7,508.9 L738.1,508.1 L739.4,507.3 L740.7,506.6 L742.0,505.9 L743.3,505.2 L744.6,504.6 L745.9,504.0 L747.2,503.4 L748.5,502.9 L749.8,502.5 L751.1,502.0 L752.4,501.7 L753.7,501.3 L755.0,501.0 L756.4,500.8 L757.7,500.7 L759.0,500.6 L760.3,500.5 L761.6,500.5 L762.9,500.5 L764.2,500.5 L765.5,500.7 L766.8,500.8 L768.1,501.0 L769.4,501.2 L770.7,501.5 L772.0,501.8 L773.4,502.2 L774.7,502.5 L776.0,503.0 L777.3,503.4 L778.6,503.9 L779.9,504.4 L781.2,505.0 L782.5,505.5 L783.8,506.2 L785.1,506.8 L786.4,507.5 L787.7,508.3 L789.0,509.1 L790.4,509.9 L791.7,510.9 L793.0,511.8 L794.3,512.8 L795.6,513.9 L796.9,514.9 L798.2,516.1 L799.5,517.2 L800.8,518.4 L802.1,519.6 L803.4,520.8 L804.7,522.1 L806.0,523.3 L807.4,524.6 L808.7,525.8 L810.0,527.1 L811.3,528.3 L812.6,529.6 L813.9,530.8 L815.2,532.1 L816.5,533.3 L817.8,534.5 L819.1,535.7 L820.4,537.0 L821.7,538.2 L823.0,539.4 L824.3,540.7 L825.7,541.9 L827.0,543.2 L828.3,544.4 L829.6,545.7 L830.9,546.9 L832.2,548.2 L833.5,549.5 L834.8,550.8 L836.1,552.1 L837.4,553.5 L838.7,554.8 L840.0,556.2 L841.3,557.6 L842.7,559.0 L844.0,560.4 L845.3,561.8 L846.6,563.3 L847.9,564.8 L849.2,566.4 L850.5,568.0 L851.8,569.6 L853.1,571.2 L854.4,572.9 L855.7,574.6 L857.0,576.3 L858.3,578.1 L859.7,579.9 L861.0,581.8 L862.3,583.6 L863.6,585.5 L864.9,587.4 L866.2,589.4 L867.5,591.3 L868.8,593.3 L870.1,595.2 L871.4,597.2 L872.7,599.2 L874.0,601.2 L875.3,603.2 L876.6,605.2 L878.0,607.2 L879.3,609.2 L880.6,611.2 L881.9,613.2 L883.2,615.1 L884.5,617.1 L885.8,619.1 L887.1,621.1 L888.4,623.0 L889.7,624.9 L891.0,626.9 L892.3,628.8 L893.6,630.7 L895.0,632.6 L896.3,634.5 L897.6,636.3 L898.9,638.1 L900.2,639.9 L901.5,641.7 L902.8,643.5 L904.1,645.2 L905.4,646.9 L906.7,648.5 L908.0,650.2 L909.3,651.8 L910.6,653.3 L912.0,654.8 L913.3,656.3 L914.6,657.8 L915.9,659.2 L917.2,660.6 L918.5,661.9 L919.8,663.2 L921.1,664.5 L922.4,665.7 L923.7,667.0 L925.0,668.1 L926.3,669.3 L927.6,670.4 L928.9,671.5 L930.3,672.5 L931.6,673.6 L932.9,674.6 L934.2,675.6 L935.5,676.5 L936.8,677.4 L938.1,678.3 L939.4,679.2 L940.7,680.1 L942.0,680.9 L943.3,681.7 L944.6,682.5 L945.9,683.3 L947.3,684.1 L948.6,684.9 L949.9,685.7 L951.2,686.4 L952.5,687.2 L953.8,688.0 L955.1,688.7 L956.4,689.5 L957.7,690.2 L959.0,691.0 L960.3,691.8 L961.6,692.5 L962.9,693.3 L964.2,694.1 L965.6,694.9 L966.9,695.6 L968.2,696.4 L969.5,697.2 L970.8,698.0 L972.1,698.7 L973.4,699.5 L974.7,700.3 L976.0,701.0 L977.3,701.8 L978.6,702.5 L979.9,703.3 L981.2,704.0 L982.6,704.7 L983.9,705.4 L985.2,706.1 L986.5,706.8 L987.8,707.5 L989.1,708.2 L990.4,708.8 L991.7,709.5 L993.0,710.1 L994.3,710.8 L995.6,711.4 L996.9,712.0 L998.2,712.6 L999.6,713.2 L1000.9,713.9 L1002.2,714.5 L1003.5,715.1 L1004.8,715.7 L1006.1,716.3 L1007.4,716.8 L1008.7,717.4 L1010.0,718.0 L1011.3,718.6 L1012.6,719.2 L1013.9,719.8 L1015.2,720.3 L1016.6,720.9 L1017.9,721.5 L1019.2,722.0 L1020.5,722.6 L1021.8,723.2 L1023.1,723.7 L1024.4,724.3 L1025.7,724.8 L1027.0,725.3 L1028.3,725.8 L1029.6,726.4 L1030.9,726.8 L1032.2,727.3 L1033.5,727.8 L1034.9,728.3 L1036.2,728.7 L1037.5,729.2 L1038.8,729.6 L1040.1,730.0 L1041.4,730.4 L1042.7,730.8 L1044.0,731.1 L1045.3,731.5 L1046.6,731.8 L1047.9,732.2 L1049.2,732.5 L1050.5,732.8 L1051.9,733.1 L1053.2,733.4 L1054.5,733.6 L1055.8,733.9 L1057.1,734.2 L1058.4,734.4 L1059.7,734.6 L1061.0,734.9 L1062.3,735.1 L1063.6,735.3 L1064.9,735.5 L1066.2,735.6 L1067.5,735.8 L1068.8,736.0 L1070.2,736.1 L1071.5,736.3 L1072.8,736.4 L1074.1,736.6 L1075.4,736.7 L1076.7,736.8 L1078.0,736.9 L1079.3,737.0 L1080.6,737.1 L1081.9,737.2 L1083.2,737.3 L1084.5,737.4 L1085.8,737.4 L1087.2,737.5 L1088.5,737.6 L1089.8,737.6 L1091.1,737.7 L1092.4,737.7 L1093.7,737.7 L1095.0,737.8" stroke="#4a8ec6" stroke-width="6.2"/>
<path d="M310.5,433.1 L311.8,431.6 L313.1,430.0 L314.4,428.1 L315.7,426.2 L317.0,424.1 L318.3,421.9 L319.7,419.5 L321.0,417.0 L322.3,414.2 L323.6,411.2 L324.9,407.9 L326.2,404.4 L327.5,400.4 L328.8,396.2 L330.1,391.8 L331.4,387.3 L332.7,382.8 L334.0,377.9 L335.3,372.8 L336.6,367.6 L338.0,362.4 L339.3,357.6 L340.6,353.0 L341.9,348.6 L343.2,344.2 L344.5,339.7 L345.8,335.1 L347.1,330.3 L348.4,325.5 L349.7,320.7 L351.0,315.8 L352.3,311.0 L353.6,306.1 L355.0,301.0 L356.3,295.9 L357.6,290.9 L358.9,286.3 L360.2,282.4 L361.5,278.7 L362.8,275.3 L364.1,272.5 L365.4,270.7 L366.7,269.6 L368.0,269.1 L369.3,269.4 L370.6,270.2 L372.0,271.5 L373.3,273.1 L374.6,275.4 L375.9,278.8 L377.2,282.7 L378.5,287.0 L379.8,292.0 L381.1,296.8 L382.4,300.4 L383.7,303.6 L385.0,306.5 L386.3,308.8 L387.6,310.6 L388.9,312.1 L390.3,313.3 L391.6,314.3 L392.9,315.2 L394.2,316.1 L395.5,316.8 L396.8,317.4 L398.1,318.1 L399.4,318.8 L400.7,319.8 L402.0,321.2 L403.3,323.2 L404.6,325.6 L405.9,328.3 L407.3,331.4 L408.6,335.0 L409.9,339.0 L411.2,343.7 L412.5,348.8 L413.8,354.5 L415.1,360.7 L416.4,367.1 L417.7,373.3 L419.0,379.3 L420.3,385.0 L421.6,390.5 L422.9,396.0 L424.3,401.7 L425.6,407.4 L426.9,413.0 L428.2,418.1 L429.5,422.9 L430.8,427.9 L432.1,432.5 L433.4,435.9 L434.7,437.6 L436.0,437.6 L437.3,436.7 L438.6,435.4 L439.9,433.7 L441.2,431.9 L442.6,429.8 L443.9,426.4 L445.2,422.4 L446.5,419.0 L447.8,417.1 L449.1,416.1 L450.4,415.7 L451.7,416.4 L453.0,419.1 L454.3,423.2 L455.6,428.2 L456.9,435.5 L458.2,445.7 L459.6,456.8 L460.9,467.8 L462.2,480.1 L463.5,492.6 L464.8,504.3 L466.1,515.1 L467.4,526.4 L468.7,539.3 L470.0,554.4 L471.3,569.9 L472.6,584.1 L473.9,596.7 L475.2,608.7 L476.6,619.7 L477.9,629.9 L479.2,639.3 L480.5,648.2 L481.8,656.2 L483.1,663.2 L484.4,669.2 L485.7,674.7 L487.0,679.6 L488.3,683.8 L489.6,687.5 L490.9,690.8 L492.2,693.6 L493.6,695.6 L494.9,697.0 L496.2,698.3 L497.5,699.3 L498.8,700.2 L500.1,700.9 L501.4,701.4 L502.7,701.9 L504.0,702.2 L505.3,702.5 L506.6,702.6 L507.9,702.7 L509.2,702.7 L510.5,702.7 L511.9,702.7 L513.2,702.5 L514.5,702.3 L515.8,702.1 L517.1,701.8 L518.4,701.5 L519.7,701.1 L521.0,700.6 L522.3,700.1 L523.6,699.7 L524.9,699.2 L526.2,698.7 L527.5,698.2 L528.9,697.7 L530.2,697.1 L531.5,696.6 L532.8,696.1 L534.1,695.6 L535.4,695.0 L536.7,694.5 L538.0,694.0 L539.3,693.4 L540.6,692.9 L541.9,692.3 L543.2,691.8 L544.5,691.2 L545.9,690.6 L547.2,690.1 L548.5,689.5 L549.8,689.0 L551.1,688.4 L552.4,687.8 L553.7,687.3 L555.0,686.7 L556.3,686.1 L557.6,685.6 L558.9,685.0 L560.2,684.4 L561.5,683.8 L562.8,683.2 L564.2,682.6 L565.5,681.9 L566.8,681.3 L568.1,680.6 L569.4,679.9 L570.7,679.2 L572.0,678.5 L573.3,677.8 L574.6,677.0 L575.9,676.2 L577.2,675.5 L578.5,674.7 L579.8,673.8 L581.2,673.0 L582.5,672.1 L583.8,671.2 L585.1,670.3 L586.4,669.4 L587.7,668.4 L589.0,667.4 L590.3,666.4 L591.6,665.4 L592.9,664.3 L594.2,663.2 L595.5,662.1 L596.8,660.9 L598.2,659.7 L599.5,658.5 L600.8,657.3 L602.1,656.0 L603.4,654.7 L604.7,653.3 L606.0,652.0 L607.3,650.6 L608.6,649.1 L609.9,647.7 L611.2,646.2 L612.5,644.7 L613.8,643.1 L615.1,641.5 L616.5,639.9 L617.8,638.3 L619.1,636.6 L620.4,634.9 L621.7,633.2 L623.0,631.4 L624.3,629.6 L625.6,627.8 L626.9,626.0 L628.2,624.1 L629.5,622.2 L630.8,620.3 L632.1,618.4 L633.5,616.4 L634.8,614.4 L636.1,612.4 L637.4,610.4 L638.7,608.3 L640.0,606.3 L641.3,604.2 L642.6,602.1 L643.9,599.9 L645.2,597.8 L646.5,595.6 L647.8,593.5 L649.1,591.3 L650.5,589.1 L651.8,586.9 L653.1,584.6 L654.4,582.4 L655.7,580.1 L657.0,577.9 L658.3,575.6 L659.6,573.4 L660.9,571.1 L662.2,568.8 L663.5,566.5 L664.8,564.2 L666.1,561.9 L667.4,559.7 L668.8,557.4 L670.1,555.1 L671.4,552.8 L672.7,550.5 L674.0,548.2 L675.3,545.9 L676.6,543.7 L677.9,541.4 L679.2,539.2 L680.5,536.9 L681.8,534.7 L683.1,532.4 L684.4,530.2 L685.8,528.0 L687.1,525.8 L688.4,523.7 L689.7,521.5 L691.0,519.4 L692.3,517.3 L693.6,515.2 L694.9,513.1 L696.2,511.0 L697.5,509.0 L698.8,506.9 L700.1,505.0 L701.4,503.0 L702.8,501.0 L704.1,499.1 L705.4,497.2 L706.7,495.4 L708.0,493.5 L709.3,491.7 L710.6,490.0 L711.9,488.2 L713.2,486.5 L714.5,484.9 L715.8,483.2 L717.1,481.6 L718.4,480.1 L719.7,478.5 L721.1,477.0 L722.4,475.6 L723.7,474.2 L725.0,472.8 L726.3,471.5 L727.6,470.2 L728.9,468.9 L730.2,467.7 L731.5,466.6 L732.8,465.5 L734.1,464.4 L735.4,463.4 L736.7,462.4 L738.1,461.5 L739.4,460.6 L740.7,459.7 L742.0,458.9 L743.3,458.2 L744.6,457.5 L745.9,456.9 L747.2,456.3 L748.5,455.7 L749.8,455.2 L751.1,454.8 L752.4,454.4 L753.7,454.1 L755.0,453.8 L756.4,453.6 L757.7,453.5 L759.0,453.4 L760.3,453.4 L761.6,453.5 L762.9,453.6 L764.2,453.9 L765.5,454.2 L766.8,454.5 L768.1,454.9 L769.4,455.4 L770.7,455.9 L772.0,456.4 L773.4,457.0 L774.7,457.6 L776.0,458.2 L777.3,458.9 L778.6,459.6 L779.9,460.4 L781.2,461.2 L782.5,462.1 L783.8,462.9 L785.1,463.8 L786.4,464.8 L787.7,465.8 L789.0,466.9 L790.4,468.0 L791.7,469.2 L793.0,470.4 L794.3,471.7 L795.6,473.0 L796.9,474.4 L798.2,475.8 L799.5,477.3 L800.8,478.8 L802.1,480.3 L803.4,481.9 L804.7,483.5 L806.0,485.1 L807.4,486.8 L808.7,488.5 L810.0,490.2 L811.3,492.0 L812.6,493.7 L813.9,495.5 L815.2,497.3 L816.5,499.2 L817.8,501.0 L819.1,502.9 L820.4,504.8 L821.7,506.7 L823.0,508.6 L824.3,510.5 L825.7,512.5 L827.0,514.5 L828.3,516.5 L829.6,518.6 L830.9,520.6 L832.2,522.7 L833.5,524.8 L834.8,526.9 L836.1,529.0 L837.4,531.1 L838.7,533.3 L840.0,535.5 L841.3,537.7 L842.7,539.9 L844.0,542.1 L845.3,544.3 L846.6,546.6 L847.9,548.8 L849.2,551.1 L850.5,553.4 L851.8,555.6 L853.1,557.9 L854.4,560.2 L855.7,562.5 L857.0,564.8 L858.3,567.1 L859.7,569.4 L861.0,571.7 L862.3,574.0 L863.6,576.2 L864.9,578.5 L866.2,580.8 L867.5,583.1 L868.8,585.4 L870.1,587.7 L871.4,590.0 L872.7,592.2 L874.0,594.5 L875.3,596.8 L876.6,599.0 L878.0,601.3 L879.3,603.5 L880.6,605.8 L881.9,608.0 L883.2,610.2 L884.5,612.5 L885.8,614.7 L887.1,616.9 L888.4,619.1 L889.7,621.3 L891.0,623.5 L892.3,625.6 L893.6,627.8 L895.0,629.9 L896.3,632.0 L897.6,634.1 L898.9,636.1 L900.2,638.1 L901.5,640.1 L902.8,642.0 L904.1,643.9 L905.4,645.7 L906.7,647.5 L908.0,649.2 L909.3,650.9 L910.6,652.6 L912.0,654.1 L913.3,655.7 L914.6,657.2 L915.9,658.6 L917.2,660.0 L918.5,661.3 L919.8,662.6 L921.1,663.9 L922.4,665.1 L923.7,666.2 L925.0,667.4 L926.3,668.5 L927.6,669.6 L928.9,670.6 L930.3,671.7 L931.6,672.7 L932.9,673.7 L934.2,674.6 L935.5,675.6 L936.8,676.5 L938.1,677.4 L939.4,678.3 L940.7,679.1 L942.0,680.0 L943.3,680.8 L944.6,681.7 L945.9,682.5 L947.3,683.3 L948.6,684.1 L949.9,684.9 L951.2,685.7 L952.5,686.4 L953.8,687.2 L955.1,688.0 L956.4,688.8 L957.7,689.6 L959.0,690.4 L960.3,691.1 L961.6,691.9 L962.9,692.7 L964.2,693.5 L965.6,694.3 L966.9,695.1 L968.2,695.9 L969.5,696.6 L970.8,697.4 L972.1,698.2 L973.4,699.0 L974.7,699.7 L976.0,700.5 L977.3,701.2 L978.6,702.0 L979.9,702.7 L981.2,703.4 L982.6,704.1 L983.9,704.8 L985.2,705.5 L986.5,706.2 L987.8,706.9 L989.1,707.6 L990.4,708.2 L991.7,708.9 L993.0,709.5 L994.3,710.2 L995.6,710.8 L996.9,711.4 L998.2,712.0 L999.6,712.7 L1000.9,713.3 L1002.2,713.9 L1003.5,714.5 L1004.8,715.1 L1006.1,715.7 L1007.4,716.3 L1008.7,716.9 L1010.0,717.5 L1011.3,718.1 L1012.6,718.7 L1013.9,719.3 L1015.2,719.9 L1016.6,720.5 L1017.9,721.1 L1019.2,721.7 L1020.5,722.2 L1021.8,722.8 L1023.1,723.4 L1024.4,724.0 L1025.7,724.5 L1027.0,725.1 L1028.3,725.6 L1029.6,726.1 L1030.9,726.7 L1032.2,727.2 L1033.5,727.7 L1034.9,728.1 L1036.2,728.6 L1037.5,729.1 L1038.8,729.5 L1040.1,729.9 L1041.4,730.3 L1042.7,730.7 L1044.0,731.1 L1045.3,731.5 L1046.6,731.8 L1047.9,732.1 L1049.2,732.5 L1050.5,732.8 L1051.9,733.1 L1053.2,733.4 L1054.5,733.6 L1055.8,733.9 L1057.1,734.2 L1058.4,734.4 L1059.7,734.6 L1061.0,734.9 L1062.3,735.1 L1063.6,735.3 L1064.9,735.5 L1066.2,735.7 L1067.5,735.8 L1068.8,736.0 L1070.2,736.1 L1071.5,736.3 L1072.8,736.4 L1074.1,736.6 L1075.4,736.7 L1076.7,736.8 L1078.0,736.9 L1079.3,737.0 L1080.6,737.1 L1081.9,737.2 L1083.2,737.3 L1084.5,737.4 L1085.8,737.4 L1087.2,737.5 L1088.5,737.6 L1089.8,737.6 L1091.1,737.7 L1092.4,737.7 L1093.7,737.7 L1095.0,737.8" stroke="#4a6fb3" stroke-width="6.2"/>
<path d="M310.5,386.9 L311.8,384.8 L313.1,382.5 L314.4,379.9 L315.7,377.2 L317.0,374.3 L318.3,371.2 L319.7,368.0 L321.0,364.5 L322.3,360.8 L323.6,356.8 L324.9,352.6 L326.2,348.1 L327.5,343.4 L328.8,338.2 L330.1,332.8 L331.4,327.2 L332.7,321.4 L334.0,315.0 L335.3,308.3 L336.6,301.3 L338.0,294.6 L339.3,288.4 L340.6,282.7 L341.9,277.2 L343.2,272.0 L344.5,266.8 L345.8,261.6 L347.1,256.4 L348.4,251.2 L349.7,246.0 L351.0,240.8 L352.3,235.6 L353.6,230.3 L355.0,224.7 L356.3,219.0 L357.6,213.6 L358.9,208.7 L360.2,204.5 L361.5,200.5 L362.8,196.8 L364.1,193.9 L365.4,192.4 L366.7,191.6 L368.0,191.1 L369.3,191.1 L370.6,192.0 L372.0,193.3 L373.3,195.0 L374.6,197.7 L375.9,201.9 L377.2,206.9 L378.5,212.1 L379.8,218.5 L381.1,224.7 L382.4,229.4 L383.7,233.5 L385.0,237.2 L386.3,240.3 L387.6,242.6 L388.9,244.4 L390.3,246.0 L391.6,247.4 L392.9,248.6 L394.2,249.9 L395.5,250.9 L396.8,251.7 L398.1,252.6 L399.4,253.6 L400.7,254.8 L402.0,256.6 L403.3,259.1 L404.6,262.1 L405.9,265.5 L407.3,269.3 L408.6,273.8 L409.9,279.0 L411.2,284.5 L412.5,290.2 L413.8,296.5 L415.1,303.1 L416.4,309.9 L417.7,316.5 L419.0,322.9 L420.3,329.3 L421.6,335.6 L422.9,342.1 L424.3,348.7 L425.6,355.5 L426.9,362.1 L428.2,368.2 L429.5,374.1 L430.8,380.4 L432.1,386.4 L433.4,391.2 L434.7,393.8 L436.0,393.9 L437.3,392.8 L438.6,391.1 L439.9,388.9 L441.2,386.5 L442.6,383.8 L443.9,379.6 L445.2,374.7 L446.5,370.5 L447.8,368.5 L449.1,367.5 L450.4,366.9 L451.7,367.3 L453.0,370.3 L454.3,375.1 L455.6,380.9 L456.9,389.6 L458.2,402.1 L459.6,415.6 L460.9,428.9 L462.2,443.2 L463.5,457.3 L464.8,469.9 L466.1,481.2 L467.4,493.2 L468.7,508.1 L470.0,526.5 L471.3,545.8 L472.6,563.4 L473.9,578.8 L475.2,593.4 L476.6,606.9 L477.9,619.3 L479.2,630.6 L480.5,641.3 L481.8,650.9 L483.1,659.2 L484.4,666.4 L485.7,673.0 L487.0,678.7 L488.3,683.4 L489.6,687.5 L490.9,691.1 L492.2,694.0 L493.6,695.9 L494.9,697.1 L496.2,698.0 L497.5,698.8 L498.8,699.5 L500.1,700.0 L501.4,700.3 L502.7,700.5 L504.0,700.6 L505.3,700.5 L506.6,700.4 L507.9,700.1 L509.2,699.8 L510.5,699.5 L511.9,699.1 L513.2,698.7 L514.5,698.2 L515.8,697.7 L517.1,697.2 L518.4,696.6 L519.7,696.0 L521.0,695.4 L522.3,694.7 L523.6,694.1 L524.9,693.4 L526.2,692.7 L527.5,692.1 L528.9,691.4 L530.2,690.7 L531.5,690.0 L532.8,689.4 L534.1,688.7 L535.4,688.0 L536.7,687.3 L538.0,686.6 L539.3,686.0 L540.6,685.3 L541.9,684.6 L543.2,683.9 L544.5,683.2 L545.9,682.5 L547.2,681.8 L548.5,681.2 L549.8,680.5 L551.1,679.8 L552.4,679.1 L553.7,678.4 L555.0,677.7 L556.3,677.0 L557.6,676.3 L558.9,675.6 L560.2,674.9 L561.5,674.2 L562.8,673.4 L564.2,672.7 L565.5,671.9 L566.8,671.1 L568.1,670.3 L569.4,669.5 L570.7,668.6 L572.0,667.8 L573.3,666.9 L574.6,666.0 L575.9,665.1 L577.2,664.1 L578.5,663.2 L579.8,662.2 L581.2,661.2 L582.5,660.1 L583.8,659.1 L585.1,658.0 L586.4,656.9 L587.7,655.7 L589.0,654.5 L590.3,653.3 L591.6,652.1 L592.9,650.8 L594.2,649.5 L595.5,648.2 L596.8,646.8 L598.2,645.4 L599.5,643.9 L600.8,642.5 L602.1,641.0 L603.4,639.4 L604.7,637.8 L606.0,636.2 L607.3,634.6 L608.6,632.9 L609.9,631.1 L611.2,629.4 L612.5,627.6 L613.8,625.8 L615.1,623.9 L616.5,622.0 L617.8,620.1 L619.1,618.1 L620.4,616.1 L621.7,614.1 L623.0,612.0 L624.3,609.9 L625.6,607.8 L626.9,605.6 L628.2,603.4 L629.5,601.2 L630.8,598.9 L632.1,596.7 L633.5,594.4 L634.8,592.0 L636.1,589.7 L637.4,587.3 L638.7,584.9 L640.0,582.5 L641.3,580.0 L642.6,577.6 L643.9,575.1 L645.2,572.6 L646.5,570.1 L647.8,567.5 L649.1,565.0 L650.5,562.4 L651.8,559.8 L653.1,557.2 L654.4,554.6 L655.7,552.0 L657.0,549.4 L658.3,546.8 L659.6,544.1 L660.9,541.5 L662.2,538.8 L663.5,536.2 L664.8,533.5 L666.1,530.9 L667.4,528.2 L668.8,525.5 L670.1,522.9 L671.4,520.2 L672.7,517.6 L674.0,515.0 L675.3,512.3 L676.6,509.7 L677.9,507.1 L679.2,504.5 L680.5,501.9 L681.8,499.3 L683.1,496.7 L684.4,494.2 L685.8,491.7 L687.1,489.1 L688.4,486.6 L689.7,484.2 L691.0,481.7 L692.3,479.3 L693.6,476.9 L694.9,474.5 L696.2,472.1 L697.5,469.8 L698.8,467.5 L700.1,465.2 L701.4,462.9 L702.8,460.7 L704.1,458.5 L705.4,456.4 L706.7,454.2 L708.0,452.2 L709.3,450.1 L710.6,448.1 L711.9,446.1 L713.2,444.2 L714.5,442.3 L715.8,440.5 L717.1,438.7 L718.4,436.9 L719.7,435.2 L721.1,433.5 L722.4,431.9 L723.7,430.3 L725.0,428.8 L726.3,427.3 L727.6,425.8 L728.9,424.4 L730.2,423.1 L731.5,421.8 L732.8,420.6 L734.1,419.4 L735.4,418.3 L736.7,417.2 L738.1,416.2 L739.4,415.2 L740.7,414.3 L742.0,413.5 L743.3,412.7 L744.6,411.9 L745.9,411.3 L747.2,410.6 L748.5,410.1 L749.8,409.6 L751.1,409.1 L752.4,408.7 L753.7,408.4 L755.0,408.1 L756.4,408.0 L757.7,408.0 L759.0,408.0 L760.3,408.1 L761.6,408.4 L762.9,408.7 L764.2,409.1 L765.5,409.6 L766.8,410.2 L768.1,410.8 L769.4,411.4 L770.7,412.1 L772.0,412.9 L773.4,413.7 L774.7,414.5 L776.0,415.4 L777.3,416.3 L778.6,417.3 L779.9,418.3 L781.2,419.4 L782.5,420.5 L783.8,421.6 L785.1,422.8 L786.4,424.1 L787.7,425.4 L789.0,426.8 L790.4,428.2 L791.7,429.7 L793.0,431.3 L794.3,432.9 L795.6,434.5 L796.9,436.3 L798.2,438.1 L799.5,439.9 L800.8,441.8 L802.1,443.7 L803.4,445.7 L804.7,447.7 L806.0,449.7 L807.4,451.8 L808.7,453.9 L810.0,456.0 L811.3,458.2 L812.6,460.3 L813.9,462.5 L815.2,464.8 L816.5,467.0 L817.8,469.2 L819.1,471.5 L820.4,473.8 L821.7,476.1 L823.0,478.5 L824.3,480.8 L825.7,483.2 L827.0,485.6 L828.3,488.0 L829.6,490.5 L830.9,492.9 L832.2,495.4 L833.5,497.8 L834.8,500.3 L836.1,502.8 L837.4,505.4 L838.7,507.9 L840.0,510.5 L841.3,513.0 L842.7,515.6 L844.0,518.2 L845.3,520.8 L846.6,523.4 L847.9,526.0 L849.2,528.6 L850.5,531.3 L851.8,533.9 L853.1,536.5 L854.4,539.2 L855.7,541.8 L857.0,544.5 L858.3,547.1 L859.7,549.7 L861.0,552.4 L862.3,555.0 L863.6,557.7 L864.9,560.3 L866.2,563.0 L867.5,565.7 L868.8,568.3 L870.1,571.0 L871.4,573.7 L872.7,576.3 L874.0,579.0 L875.3,581.7 L876.6,584.4 L878.0,587.2 L879.3,589.9 L880.6,592.6 L881.9,595.4 L883.2,598.1 L884.5,600.9 L885.8,603.7 L887.1,606.4 L888.4,609.2 L889.7,612.0 L891.0,614.8 L892.3,617.6 L893.6,620.3 L895.0,623.1 L896.3,625.8 L897.6,628.5 L898.9,631.1 L900.2,633.8 L901.5,636.3 L902.8,638.9 L904.1,641.4 L905.4,643.8 L906.7,646.1 L908.0,648.4 L909.3,650.6 L910.6,652.7 L912.0,654.8 L913.3,656.7 L914.6,658.6 L915.9,660.4 L917.2,662.2 L918.5,663.8 L919.8,665.4 L921.1,667.0 L922.4,668.4 L923.7,669.8 L925.0,671.2 L926.3,672.5 L927.6,673.7 L928.9,675.0 L930.3,676.1 L931.6,677.3 L932.9,678.4 L934.2,679.4 L935.5,680.5 L936.8,681.5 L938.1,682.5 L939.4,683.4 L940.7,684.4 L942.0,685.3 L943.3,686.2 L944.6,687.0 L945.9,687.9 L947.3,688.7 L948.6,689.6 L949.9,690.4 L951.2,691.2 L952.5,692.0 L953.8,692.8 L955.1,693.6 L956.4,694.3 L957.7,695.1 L959.0,695.9 L960.3,696.6 L961.6,697.4 L962.9,698.1 L964.2,698.9 L965.6,699.6 L966.9,700.3 L968.2,701.1 L969.5,701.8 L970.8,702.5 L972.1,703.3 L973.4,704.0 L974.7,704.7 L976.0,705.4 L977.3,706.1 L978.6,706.8 L979.9,707.5 L981.2,708.2 L982.6,708.8 L983.9,709.5 L985.2,710.2 L986.5,710.9 L987.8,711.5 L989.1,712.2 L990.4,712.8 L991.7,713.5 L993.0,714.1 L994.3,714.8 L995.6,715.4 L996.9,716.0 L998.2,716.6 L999.6,717.2 L1000.9,717.8 L1002.2,718.4 L1003.5,719.0 L1004.8,719.6 L1006.1,720.2 L1007.4,720.8 L1008.7,721.3 L1010.0,721.9 L1011.3,722.5 L1012.6,723.0 L1013.9,723.6 L1015.2,724.1 L1016.6,724.6 L1017.9,725.2 L1019.2,725.7 L1020.5,726.2 L1021.8,726.7 L1023.1,727.2 L1024.4,727.7 L1025.7,728.2 L1027.0,728.6 L1028.3,729.1 L1029.6,729.5 L1030.9,729.9 L1032.2,730.3 L1033.5,730.7 L1034.9,731.1 L1036.2,731.5 L1037.5,731.8 L1038.8,732.1 L1040.1,732.4 L1041.4,732.7 L1042.7,733.0 L1044.0,733.2 L1045.3,733.5 L1046.6,733.7 L1047.9,733.9 L1049.2,734.1 L1050.5,734.3 L1051.9,734.5 L1053.2,734.7 L1054.5,734.9 L1055.8,735.0 L1057.1,735.2 L1058.4,735.4 L1059.7,735.5 L1061.0,735.7 L1062.3,735.8 L1063.6,735.9 L1064.9,736.1 L1066.2,736.2 L1067.5,736.3 L1068.8,736.5 L1070.2,736.6 L1071.5,736.7 L1072.8,736.8 L1074.1,736.9 L1075.4,737.0 L1076.7,737.1 L1078.0,737.2 L1079.3,737.3 L1080.6,737.3 L1081.9,737.4 L1083.2,737.5 L1084.5,737.5 L1085.8,737.6 L1087.2,737.6 L1088.5,737.7 L1089.8,737.7 L1091.1,737.7 L1092.4,737.8 L1093.7,737.8 L1095.0,737.8" stroke="#2f4a9c" stroke-width="6.2"/>
<path d="M310.5,344.6 L311.8,342.2 L313.1,339.6 L314.4,336.7 L315.7,333.7 L317.0,330.4 L318.3,327.0 L319.7,323.4 L321.0,319.5 L322.3,315.3 L323.6,310.8 L324.9,306.1 L326.2,301.2 L327.5,295.8 L328.8,290.1 L330.1,284.0 L331.4,277.7 L332.7,271.2 L334.0,264.1 L335.3,256.5 L336.6,248.7 L338.0,241.2 L339.3,234.2 L340.6,227.8 L341.9,221.7 L343.2,215.8 L344.5,210.1 L345.8,204.2 L347.1,198.4 L348.4,192.5 L349.7,186.7 L351.0,180.9 L352.3,175.1 L353.6,169.2 L355.0,162.9 L356.3,156.5 L357.6,150.4 L358.9,144.9 L360.2,143.8 L361.5,143.8 L362.8,143.8 L364.1,143.8 L365.4,143.8 L366.7,143.8 L368.0,143.8 L369.3,143.8 L370.6,143.8 L372.0,143.8 L373.3,143.8 L374.6,143.8 L375.9,143.8 L377.2,143.8 L378.5,148.8 L379.8,155.9 L381.1,162.8 L382.4,168.0 L383.7,172.7 L385.0,176.9 L386.3,180.3 L387.6,182.8 L388.9,184.9 L390.3,186.7 L391.6,188.2 L392.9,189.6 L394.2,191.0 L395.5,192.1 L396.8,193.1 L398.1,194.0 L399.4,195.1 L400.7,196.5 L402.0,198.5 L403.3,201.2 L404.6,204.6 L405.9,208.4 L407.3,212.6 L408.6,217.7 L409.9,223.5 L411.2,229.7 L412.5,236.1 L413.8,243.1 L415.1,250.5 L416.4,258.1 L417.7,265.4 L419.0,272.6 L420.3,279.7 L421.6,286.9 L422.9,294.0 L424.3,301.4 L425.6,309.0 L426.9,316.4 L428.2,323.2 L429.5,329.8 L430.8,336.9 L432.1,343.6 L433.4,348.9 L434.7,351.9 L436.0,351.9 L437.3,350.7 L438.6,348.7 L439.9,346.2 L441.2,343.5 L442.6,340.5 L443.9,335.8 L445.2,330.3 L446.5,325.6 L447.8,323.3 L449.1,322.2 L450.4,321.5 L451.7,321.9 L453.0,325.2 L454.3,330.6 L455.6,337.0 L456.9,346.8 L458.2,360.7 L459.6,375.8 L460.9,390.7 L462.2,406.7 L463.5,422.5 L464.8,436.6 L466.1,449.2 L467.4,462.6 L468.7,479.2 L470.0,499.8 L471.3,521.4 L472.6,541.1 L473.9,558.3 L475.2,574.6 L476.6,589.8 L477.9,603.5 L479.2,616.2 L480.5,628.1 L481.8,638.8 L483.1,648.0 L484.4,656.1 L485.7,663.4 L487.0,669.7 L488.3,674.9 L489.6,679.4 L490.9,683.5 L492.2,686.6 L493.6,688.7 L494.9,689.9 L496.2,690.9 L497.5,691.7 L498.8,692.4 L500.1,692.8 L501.4,693.1 L502.7,693.3 L504.0,693.3 L505.3,693.1 L506.6,692.8 L507.9,692.5 L509.2,692.1 L510.5,691.6 L511.9,691.1 L513.2,690.5 L514.5,689.9 L515.8,689.2 L517.1,688.5 L518.4,687.8 L519.7,687.0 L521.0,686.1 L522.3,685.3 L523.6,684.5 L524.9,683.6 L526.2,682.8 L527.5,681.9 L528.9,681.0 L530.2,680.2 L531.5,679.3 L532.8,678.4 L534.1,677.5 L535.4,676.6 L536.7,675.8 L538.0,674.9 L539.3,674.0 L540.6,673.1 L541.9,672.2 L543.2,671.3 L544.5,670.4 L545.9,669.5 L547.2,668.6 L548.5,667.7 L549.8,666.8 L551.1,665.9 L552.4,665.0 L553.7,664.1 L555.0,663.2 L556.3,662.3 L557.6,661.4 L558.9,660.4 L560.2,659.5 L561.5,658.5 L562.8,657.6 L564.2,656.6 L565.5,655.6 L566.8,654.6 L568.1,653.5 L569.4,652.5 L570.7,651.4 L572.0,650.3 L573.3,649.1 L574.6,648.0 L575.9,646.8 L577.2,645.6 L578.5,644.4 L579.8,643.1 L581.2,641.8 L582.5,640.5 L583.8,639.2 L585.1,637.8 L586.4,636.4 L587.7,635.0 L589.0,633.6 L590.3,632.1 L591.6,630.5 L592.9,629.0 L594.2,627.4 L595.5,625.7 L596.8,624.1 L598.2,622.3 L599.5,620.6 L600.8,618.8 L602.1,617.0 L603.4,615.1 L604.7,613.2 L606.0,611.3 L607.3,609.3 L608.6,607.3 L609.9,605.2 L611.2,603.1 L612.5,601.0 L613.8,598.8 L615.1,596.6 L616.5,594.3 L617.8,592.1 L619.1,589.7 L620.4,587.4 L621.7,585.0 L623.0,582.6 L624.3,580.1 L625.6,577.6 L626.9,575.1 L628.2,572.6 L629.5,570.0 L630.8,567.4 L632.1,564.8 L633.5,562.1 L634.8,559.4 L636.1,556.7 L637.4,554.0 L638.7,551.2 L640.0,548.5 L641.3,545.7 L642.6,542.8 L643.9,540.0 L645.2,537.2 L646.5,534.3 L647.8,531.4 L649.1,528.5 L650.5,525.6 L651.8,522.7 L653.1,519.8 L654.4,516.8 L655.7,513.9 L657.0,511.0 L658.3,508.0 L659.6,505.1 L660.9,502.1 L662.2,499.2 L663.5,496.2 L664.8,493.3 L666.1,490.3 L667.4,487.4 L668.8,484.4 L670.1,481.5 L671.4,478.6 L672.7,475.7 L674.0,472.8 L675.3,469.9 L676.6,467.0 L677.9,464.2 L679.2,461.3 L680.5,458.5 L681.8,455.7 L683.1,452.9 L684.4,450.2 L685.8,447.4 L687.1,444.7 L688.4,442.0 L689.7,439.4 L691.0,436.8 L692.3,434.2 L693.6,431.6 L694.9,429.1 L696.2,426.5 L697.5,424.1 L698.8,421.6 L700.1,419.2 L701.4,416.9 L702.8,414.6 L704.1,412.3 L705.4,410.1 L706.7,407.9 L708.0,405.7 L709.3,403.6 L710.6,401.5 L711.9,399.5 L713.2,397.6 L714.5,395.6 L715.8,393.8 L717.1,391.9 L718.4,390.2 L719.7,388.5 L721.1,386.8 L722.4,385.2 L723.7,383.6 L725.0,382.1 L726.3,380.7 L727.6,379.3 L728.9,378.0 L730.2,376.7 L731.5,375.5 L732.8,374.4 L734.1,373.3 L735.4,372.3 L736.7,371.3 L738.1,370.4 L739.4,369.6 L740.7,368.8 L742.0,368.1 L743.3,367.4 L744.6,366.9 L745.9,366.3 L747.2,365.9 L748.5,365.5 L749.8,365.2 L751.1,364.9 L752.4,364.7 L753.7,364.6 L755.0,364.6 L756.4,364.8 L757.7,365.3 L759.0,365.8 L760.3,366.3 L761.6,366.9 L762.9,367.6 L764.2,368.3 L765.5,369.0 L766.8,369.8 L768.1,370.7 L769.4,371.5 L770.7,372.5 L772.0,373.4 L773.4,374.4 L774.7,375.4 L776.0,376.5 L777.3,377.6 L778.6,378.7 L779.9,379.9 L781.2,381.1 L782.5,382.4 L783.8,383.6 L785.1,385.0 L786.4,386.3 L787.7,387.8 L789.0,389.2 L790.4,390.8 L791.7,392.3 L793.0,394.0 L794.3,395.7 L795.6,397.4 L796.9,399.3 L798.2,401.1 L799.5,403.1 L800.8,405.0 L802.1,407.1 L803.4,409.1 L804.7,411.3 L806.0,413.5 L807.4,415.7 L808.7,418.0 L810.0,420.3 L811.3,422.7 L812.6,425.1 L813.9,427.6 L815.2,430.1 L816.5,432.7 L817.8,435.3 L819.1,437.9 L820.4,440.6 L821.7,443.3 L823.0,446.1 L824.3,448.9 L825.7,451.8 L827.0,454.7 L828.3,457.6 L829.6,460.6 L830.9,463.5 L832.2,466.6 L833.5,469.6 L834.8,472.7 L836.1,475.8 L837.4,479.0 L838.7,482.2 L840.0,485.4 L841.3,488.6 L842.7,491.8 L844.0,495.1 L845.3,498.3 L846.6,501.6 L847.9,504.9 L849.2,508.2 L850.5,511.5 L851.8,514.8 L853.1,518.1 L854.4,521.4 L855.7,524.7 L857.0,527.9 L858.3,531.2 L859.7,534.5 L861.0,537.7 L862.3,540.9 L863.6,544.2 L864.9,547.4 L866.2,550.6 L867.5,553.8 L868.8,557.0 L870.1,560.2 L871.4,563.4 L872.7,566.6 L874.0,569.8 L875.3,573.0 L876.6,576.3 L878.0,579.5 L879.3,582.7 L880.6,585.9 L881.9,589.2 L883.2,592.4 L884.5,595.7 L885.8,598.9 L887.1,602.2 L888.4,605.4 L889.7,608.7 L891.0,611.9 L892.3,615.1 L893.6,618.3 L895.0,621.4 L896.3,624.6 L897.6,627.7 L898.9,630.7 L900.2,633.7 L901.5,636.6 L902.8,639.5 L904.1,642.3 L905.4,645.1 L906.7,647.7 L908.0,650.3 L909.3,652.8 L910.6,655.2 L912.0,657.6 L913.3,659.8 L914.6,662.0 L915.9,664.0 L917.2,666.0 L918.5,668.0 L919.8,669.8 L921.1,671.5 L922.4,673.2 L923.7,674.9 L925.0,676.4 L926.3,677.9 L927.6,679.4 L928.9,680.7 L930.3,682.1 L931.6,683.3 L932.9,684.6 L934.2,685.7 L935.5,686.9 L936.8,687.9 L938.1,689.0 L939.4,690.0 L940.7,691.0 L942.0,691.9 L943.3,692.8 L944.6,693.7 L945.9,694.5 L947.3,695.3 L948.6,696.1 L949.9,696.9 L951.2,697.7 L952.5,698.4 L953.8,699.2 L955.1,699.9 L956.4,700.6 L957.7,701.3 L959.0,702.0 L960.3,702.7 L961.6,703.3 L962.9,704.0 L964.2,704.7 L965.6,705.3 L966.9,706.0 L968.2,706.6 L969.5,707.3 L970.8,707.9 L972.1,708.5 L973.4,709.2 L974.7,709.8 L976.0,710.4 L977.3,711.1 L978.6,711.7 L979.9,712.3 L981.2,713.0 L982.6,713.6 L983.9,714.3 L985.2,714.9 L986.5,715.5 L987.8,716.2 L989.1,716.8 L990.4,717.5 L991.7,718.1 L993.0,718.7 L994.3,719.4 L995.6,720.0 L996.9,720.6 L998.2,721.2 L999.6,721.8 L1000.9,722.4 L1002.2,723.0 L1003.5,723.6 L1004.8,724.1 L1006.1,724.7 L1007.4,725.2 L1008.7,725.7 L1010.0,726.2 L1011.3,726.7 L1012.6,727.2 L1013.9,727.6 L1015.2,728.1 L1016.6,728.5 L1017.9,729.0 L1019.2,729.4 L1020.5,729.8 L1021.8,730.2 L1023.1,730.6 L1024.4,731.0 L1025.7,731.3 L1027.0,731.7 L1028.3,732.0 L1029.6,732.3 L1030.9,732.6 L1032.2,732.9 L1033.5,733.2 L1034.9,733.5 L1036.2,733.7 L1037.5,734.0 L1038.8,734.2 L1040.1,734.4 L1041.4,734.6 L1042.7,734.8 L1044.0,734.9 L1045.3,735.1 L1046.6,735.3 L1047.9,735.4 L1049.2,735.5 L1050.5,735.7 L1051.9,735.8 L1053.2,735.9 L1054.5,736.0 L1055.8,736.1 L1057.1,736.2 L1058.4,736.3 L1059.7,736.4 L1061.0,736.5 L1062.3,736.6 L1063.6,736.7 L1064.9,736.8 L1066.2,736.9 L1067.5,736.9 L1068.8,737.0 L1070.2,737.1 L1071.5,737.2 L1072.8,737.2 L1074.1,737.3 L1075.4,737.4 L1076.7,737.4 L1078.0,737.5 L1079.3,737.5 L1080.6,737.6 L1081.9,737.6 L1083.2,737.6 L1084.5,737.7 L1085.8,737.7 L1087.2,737.7 L1088.5,737.8 L1089.8,737.8 L1091.1,737.8 L1092.4,737.8 L1093.7,737.8 L1095.0,737.8" stroke="#22218a" stroke-width="6.2"/>
<path d="M310.5,297.5 L311.8,294.8 L313.1,291.9 L314.4,288.7 L315.7,285.3 L317.0,281.6 L318.3,277.8 L319.7,273.8 L321.0,269.4 L322.3,264.7 L323.6,259.7 L324.9,254.4 L326.2,248.9 L327.5,242.9 L328.8,236.4 L330.1,229.6 L331.4,222.6 L332.7,215.3 L334.0,207.3 L335.3,198.9 L336.6,190.2 L338.0,181.8 L339.3,173.9 L340.6,166.8 L341.9,160.0 L343.2,153.4 L344.5,146.9 L345.8,143.8 L347.1,143.8 L348.4,143.8 L349.7,143.8 L351.0,143.8 L352.3,143.8 L353.6,143.8 L355.0,143.8 L356.3,143.8 L357.6,143.8 L358.9,143.8 L360.2,143.8 L361.5,143.8 L362.8,143.8 L364.1,143.8 L365.4,143.8 L366.7,143.8 L368.0,143.8 L369.3,143.8 L370.6,143.8 L372.0,143.8 L373.3,143.8 L374.6,143.8 L375.9,143.8 L377.2,143.8 L378.5,143.8 L379.8,143.8 L381.1,143.8 L382.4,143.8 L383.7,143.8 L385.0,143.8 L386.3,143.8 L387.6,143.8 L388.9,143.8 L390.3,143.8 L391.6,143.8 L392.9,143.8 L394.2,143.8 L395.5,143.8 L396.8,143.8 L398.1,143.8 L399.4,143.8 L400.7,143.8 L402.0,143.8 L403.3,143.8 L404.6,143.8 L405.9,145.0 L407.3,149.7 L408.6,155.4 L409.9,161.9 L411.2,168.8 L412.5,175.9 L413.8,183.7 L415.1,192.1 L416.4,200.5 L417.7,208.7 L419.0,216.8 L420.3,224.7 L421.6,232.7 L422.9,240.7 L424.3,249.0 L425.6,257.5 L426.9,265.8 L428.2,273.4 L429.5,280.7 L430.8,288.7 L432.1,296.2 L433.4,302.2 L434.7,305.4 L436.0,305.4 L437.3,304.1 L438.6,301.9 L439.9,299.1 L441.2,296.0 L442.6,292.7 L443.9,287.3 L445.2,281.2 L446.5,275.9 L447.8,273.3 L449.1,272.1 L450.4,271.3 L451.7,271.7 L453.0,275.4 L454.3,281.5 L455.6,288.7 L456.9,299.6 L458.2,315.2 L459.6,332.1 L460.9,348.7 L462.2,366.6 L463.5,384.3 L464.8,400.1 L466.1,414.2 L467.4,429.2 L468.7,447.8 L470.0,470.8 L471.3,495.1 L472.6,517.1 L473.9,536.4 L475.2,554.6 L476.6,571.6 L477.9,587.0 L479.2,601.2 L480.5,614.4 L481.8,626.4 L483.1,636.7 L484.4,645.8 L485.7,653.9 L487.0,660.9 L488.3,666.8 L489.6,671.8 L490.9,676.2 L492.2,679.8 L493.6,682.0 L494.9,683.4 L496.2,684.5 L497.5,685.4 L498.8,686.1 L500.1,686.5 L501.4,686.8 L502.7,687.0 L504.0,686.9 L505.3,686.7 L506.6,686.3 L507.9,685.9 L509.2,685.4 L510.5,684.8 L511.9,684.2 L513.2,683.5 L514.5,682.8 L515.8,682.0 L517.1,681.1 L518.4,680.3 L519.7,679.3 L521.0,678.3 L522.3,677.4 L523.6,676.4 L524.9,675.4 L526.2,674.4 L527.5,673.4 L528.9,672.3 L530.2,671.3 L531.5,670.3 L532.8,669.2 L534.1,668.2 L535.4,667.2 L536.7,666.1 L538.0,665.1 L539.3,664.0 L540.6,662.9 L541.9,661.9 L543.2,660.8 L544.5,659.8 L545.9,658.7 L547.2,657.6 L548.5,656.6 L549.8,655.5 L551.1,654.4 L552.4,653.3 L553.7,652.3 L555.0,651.2 L556.3,650.1 L557.6,649.0 L558.9,647.9 L560.2,646.8 L561.5,645.6 L562.8,644.5 L564.2,643.3 L565.5,642.1 L566.8,640.9 L568.1,639.7 L569.4,638.4 L570.7,637.1 L572.0,635.8 L573.3,634.5 L574.6,633.1 L575.9,631.7 L577.2,630.3 L578.5,628.9 L579.8,627.4 L581.2,625.9 L582.5,624.4 L583.8,622.8 L585.1,621.2 L586.4,619.6 L587.7,617.9 L589.0,616.2 L590.3,614.5 L591.6,612.7 L592.9,610.9 L594.2,609.0 L595.5,607.1 L596.8,605.2 L598.2,603.2 L599.5,601.2 L600.8,599.1 L602.1,597.0 L603.4,594.8 L604.7,592.6 L606.0,590.4 L607.3,588.1 L608.6,585.8 L609.9,583.4 L611.2,581.0 L612.5,578.6 L613.8,576.1 L615.1,573.5 L616.5,571.0 L617.8,568.4 L619.1,565.7 L620.4,563.0 L621.7,560.3 L623.0,557.6 L624.3,554.8 L625.6,551.9 L626.9,549.1 L628.2,546.2 L629.5,543.3 L630.8,540.3 L632.1,537.3 L633.5,534.3 L634.8,531.3 L636.1,528.2 L637.4,525.1 L638.7,522.0 L640.0,518.9 L641.3,515.7 L642.6,512.6 L643.9,509.4 L645.2,506.2 L646.5,503.0 L647.8,499.7 L649.1,496.5 L650.5,493.2 L651.8,490.0 L653.1,486.7 L654.4,483.4 L655.7,480.1 L657.0,476.8 L658.3,473.6 L659.6,470.3 L660.9,467.0 L662.2,463.7 L663.5,460.4 L664.8,457.1 L666.1,453.9 L667.4,450.6 L668.8,447.4 L670.1,444.1 L671.4,440.9 L672.7,437.7 L674.0,434.5 L675.3,431.3 L676.6,428.2 L677.9,425.0 L679.2,421.9 L680.5,418.8 L681.8,415.8 L683.1,412.7 L684.4,409.7 L685.8,406.7 L687.1,403.8 L688.4,400.9 L689.7,398.0 L691.0,395.1 L692.3,392.3 L693.6,389.5 L694.9,386.8 L696.2,384.1 L697.5,381.4 L698.8,378.8 L700.1,376.2 L701.4,373.7 L702.8,371.2 L704.1,368.8 L705.4,366.4 L706.7,364.1 L708.0,361.8 L709.3,359.6 L710.6,357.4 L711.9,355.3 L713.2,353.2 L714.5,351.2 L715.8,349.3 L717.1,347.4 L718.4,345.5 L719.7,343.8 L721.1,342.1 L722.4,340.4 L723.7,338.8 L725.0,337.3 L726.3,335.9 L727.6,334.5 L728.9,333.2 L730.2,331.9 L731.5,330.7 L732.8,329.6 L734.1,328.6 L735.4,327.6 L736.7,326.7 L738.1,325.9 L739.4,325.1 L740.7,324.4 L742.0,323.8 L743.3,323.2 L744.6,322.7 L745.9,322.3 L747.2,322.0 L748.5,321.8 L749.8,321.6 L751.1,321.5 L752.4,321.4 L753.7,321.5 L755.0,321.7 L756.4,322.0 L757.7,322.5 L759.0,323.0 L760.3,323.6 L761.6,324.3 L762.9,325.1 L764.2,325.9 L765.5,326.7 L766.8,327.6 L768.1,328.6 L769.4,329.6 L770.7,330.7 L772.0,331.9 L773.4,333.2 L774.7,334.6 L776.0,336.2 L777.3,337.8 L778.6,339.5 L779.9,341.2 L781.2,343.0 L782.5,344.8 L783.8,346.6 L785.1,348.6 L786.4,350.5 L787.7,352.6 L789.0,354.7 L790.4,356.9 L791.7,359.2 L793.0,361.5 L794.3,363.9 L795.6,366.4 L796.9,369.0 L798.2,371.6 L799.5,374.3 L800.8,377.1 L802.1,379.9 L803.4,382.9 L804.7,385.9 L806.0,389.0 L807.4,392.1 L808.7,395.4 L810.0,398.6 L811.3,401.9 L812.6,405.3 L813.9,408.7 L815.2,412.2 L816.5,415.6 L817.8,419.1 L819.1,422.6 L820.4,426.1 L821.7,429.6 L823.0,433.1 L824.3,436.7 L825.7,440.2 L827.0,443.6 L828.3,447.1 L829.6,450.6 L830.9,454.0 L832.2,457.5 L833.5,460.9 L834.8,464.3 L836.1,467.6 L837.4,471.0 L838.7,474.3 L840.0,477.6 L841.3,480.9 L842.7,484.2 L844.0,487.5 L845.3,490.7 L846.6,494.0 L847.9,497.2 L849.2,500.5 L850.5,503.7 L851.8,507.0 L853.1,510.2 L854.4,513.5 L855.7,516.8 L857.0,520.1 L858.3,523.4 L859.7,526.8 L861.0,530.1 L862.3,533.5 L863.6,537.0 L864.9,540.5 L866.2,544.0 L867.5,547.6 L868.8,551.2 L870.1,554.9 L871.4,558.6 L872.7,562.4 L874.0,566.2 L875.3,570.0 L876.6,573.9 L878.0,577.8 L879.3,581.7 L880.6,585.6 L881.9,589.6 L883.2,593.5 L884.5,597.4 L885.8,601.3 L887.1,605.2 L888.4,609.1 L889.7,612.9 L891.0,616.7 L892.3,620.4 L893.6,624.1 L895.0,627.7 L896.3,631.3 L897.6,634.8 L898.9,638.2 L900.2,641.6 L901.5,644.9 L902.8,648.1 L904.1,651.2 L905.4,654.3 L906.7,657.3 L908.0,660.2 L909.3,663.1 L910.6,665.9 L912.0,668.6 L913.3,671.2 L914.6,673.8 L915.9,676.2 L917.2,678.7 L918.5,681.0 L919.8,683.3 L921.1,685.5 L922.4,687.6 L923.7,689.6 L925.0,691.6 L926.3,693.5 L927.6,695.4 L928.9,697.1 L930.3,698.9 L931.6,700.5 L932.9,702.1 L934.2,703.6 L935.5,705.0 L936.8,706.4 L938.1,707.8 L939.4,709.1 L940.7,710.3 L942.0,711.5 L943.3,712.6 L944.6,713.7 L945.9,714.7 L947.3,715.7 L948.6,716.6 L949.9,717.6 L951.2,718.4 L952.5,719.3 L953.8,720.1 L955.1,720.8 L956.4,721.5 L957.7,722.2 L959.0,722.9 L960.3,723.6 L961.6,724.2 L962.9,724.8 L964.2,725.3 L965.6,725.8 L966.9,726.3 L968.2,726.8 L969.5,727.3 L970.8,727.7 L972.1,728.1 L973.4,728.5 L974.7,728.9 L976.0,729.3 L977.3,729.6 L978.6,730.0 L979.9,730.3 L981.2,730.6 L982.6,730.9 L983.9,731.2 L985.2,731.4 L986.5,731.7 L987.8,732.0 L989.1,732.2 L990.4,732.4 L991.7,732.7 L993.0,732.9 L994.3,733.1 L995.6,733.3 L996.9,733.5 L998.2,733.7 L999.6,733.8 L1000.9,734.0 L1002.2,734.2 L1003.5,734.3 L1004.8,734.5 L1006.1,734.7 L1007.4,734.8 L1008.7,734.9 L1010.0,735.1 L1011.3,735.2 L1012.6,735.3 L1013.9,735.4 L1015.2,735.6 L1016.6,735.7 L1017.9,735.8 L1019.2,735.9 L1020.5,736.0 L1021.8,736.1 L1023.1,736.2 L1024.4,736.3 L1025.7,736.4 L1027.0,736.5 L1028.3,736.5 L1029.6,736.6 L1030.9,736.7 L1032.2,736.8 L1033.5,736.9 L1034.9,736.9 L1036.2,737.0 L1037.5,737.1 L1038.8,737.1 L1040.1,737.2 L1041.4,737.2 L1042.7,737.3 L1044.0,737.3 L1045.3,737.4 L1046.6,737.4 L1047.9,737.5 L1049.2,737.5 L1050.5,737.6 L1051.9,737.6 L1053.2,737.7 L1054.5,737.7 L1055.8,737.7 L1057.1,737.8 L1058.4,737.8 L1059.7,737.9 L1061.0,737.9 L1062.3,737.9 L1063.6,738.0 L1064.9,738.0 L1066.2,738.0 L1067.5,738.1 L1068.8,738.1 L1070.2,738.1 L1071.5,738.2 L1072.8,738.2 L1074.1,738.2 L1075.4,738.2 L1076.7,738.3 L1078.0,738.3 L1079.3,738.3 L1080.6,738.3 L1081.9,738.3 L1083.2,738.4 L1084.5,738.4 L1085.8,738.4 L1087.2,738.4 L1088.5,738.4 L1089.8,738.4 L1091.1,738.4 L1092.4,738.4 L1093.7,738.4 L1095.0,738.4" stroke="#1d1366" stroke-width="6.2"/>
<path d="M310.5,269.2 L311.8,266.7 L313.1,263.2 L314.4,259.0 L315.7,254.2 L317.0,248.9 L318.3,243.2 L319.7,236.7 L321.0,228.9 L322.3,219.9 L323.6,210.4 L324.9,200.7 L326.2,191.0 L327.5,180.6 L328.8,169.8 L330.1,159.2 L331.4,149.5 L332.7,143.8 L334.0,143.8 L335.3,143.8 L336.6,143.8 L338.0,143.8 L339.3,143.8 L340.6,143.8 L341.9,143.8 L343.2,143.8 L344.5,143.8 L345.8,143.8 L347.1,143.8 L348.4,143.8 L349.7,143.8 L351.0,143.8 L352.3,143.8 L353.6,143.8 L355.0,143.8 L356.3,143.8 L357.6,143.8 L358.9,143.8 L360.2,143.8 L361.5,143.8 L362.8,143.8 L364.1,143.8 L365.4,143.8 L366.7,143.8 L368.0,143.8 L369.3,143.8 L370.6,143.8 L372.0,143.8 L373.3,143.8 L374.6,143.8 L375.9,143.8 L377.2,143.8 L378.5,143.8 L379.8,143.8 L381.1,143.8 L382.4,143.8 L383.7,143.8 L385.0,143.8 L386.3,143.8 L387.6,143.8 L388.9,143.8 L390.3,143.8 L391.6,143.8 L392.9,143.8 L394.2,143.8 L395.5,143.8 L396.8,143.8 L398.1,143.8 L399.4,143.8 L400.7,143.8 L402.0,143.8 L403.3,143.8 L404.6,143.8 L405.9,143.8 L407.3,143.8 L408.6,143.8 L409.9,143.8 L411.2,143.8 L412.5,143.8 L413.8,143.8 L415.1,143.8 L416.4,143.8 L417.7,143.8 L419.0,143.8 L420.3,143.8 L421.6,157.8 L422.9,172.2 L424.3,187.6 L425.6,202.3 L426.9,212.7 L428.2,221.0 L429.5,227.6 L430.8,231.8 L432.1,234.4 L433.4,236.6 L434.7,238.2 L436.0,239.1 L437.3,238.9 L438.6,237.4 L439.9,235.0 L441.2,232.1 L442.6,228.9 L443.9,224.9 L445.2,219.5 L446.5,213.9 L447.8,209.1 L449.1,204.6 L450.4,200.7 L451.7,199.6 L453.0,203.7 L454.3,211.6 L455.6,220.4 L456.9,229.7 L458.2,241.4 L459.6,257.3 L460.9,280.9 L462.2,304.1 L463.5,328.3 L464.8,357.6 L466.1,390.2 L467.4,421.9 L468.7,444.1 L470.0,460.4 L471.3,475.0 L472.6,490.8 L473.9,506.9 L475.2,524.2 L476.6,543.7 L477.9,563.7 L479.2,584.5 L480.5,604.0 L481.8,618.1 L483.1,629.5 L484.4,639.1 L485.7,647.6 L487.0,655.6 L488.3,662.6 L489.6,667.9 L490.9,671.4 L492.2,674.3 L493.6,676.7 L494.9,678.6 L496.2,680.0 L497.5,681.2 L498.8,682.2 L500.1,683.2 L501.4,683.9 L502.7,684.4 L504.0,684.6 L505.3,684.6 L506.6,684.6 L507.9,684.6 L509.2,684.6 L510.5,684.6 L511.9,684.6 L513.2,684.5 L514.5,684.3 L515.8,684.0 L517.1,683.5 L518.4,683.0 L519.7,682.4 L521.0,681.8 L522.3,681.2 L523.6,680.5 L524.9,679.6 L526.2,678.7 L527.5,677.6 L528.9,676.5 L530.2,675.4 L531.5,674.3 L532.8,673.2 L534.1,672.2 L535.4,671.1 L536.7,670.1 L538.0,669.1 L539.3,668.0 L540.6,667.0 L541.9,665.9 L543.2,664.7 L544.5,663.5 L545.9,662.3 L547.2,661.0 L548.5,659.6 L549.8,658.1 L551.1,656.5 L552.4,654.9 L553.7,653.1 L555.0,651.4 L556.3,649.6 L557.6,647.8 L558.9,646.0 L560.2,644.2 L561.5,642.4 L562.8,640.5 L564.2,638.7 L565.5,636.8 L566.8,634.9 L568.1,632.9 L569.4,630.9 L570.7,628.9 L572.0,626.8 L573.3,624.7 L574.6,622.5 L575.9,620.3 L577.2,618.0 L578.5,615.7 L579.8,613.3 L581.2,610.9 L582.5,608.4 L583.8,605.9 L585.1,603.4 L586.4,600.8 L587.7,598.2 L589.0,595.5 L590.3,592.9 L591.6,590.2 L592.9,587.4 L594.2,584.7 L595.5,581.9 L596.8,579.1 L598.2,576.2 L599.5,573.2 L600.8,570.2 L602.1,567.2 L603.4,564.1 L604.7,561.0 L606.0,557.8 L607.3,554.7 L608.6,551.5 L609.9,548.4 L611.2,545.2 L612.5,542.0 L613.8,538.8 L615.1,535.6 L616.5,532.3 L617.8,529.1 L619.1,525.8 L620.4,522.5 L621.7,519.2 L623.0,515.8 L624.3,512.5 L625.6,509.1 L626.9,505.8 L628.2,502.4 L629.5,499.1 L630.8,495.7 L632.1,492.3 L633.5,488.9 L634.8,485.5 L636.1,482.1 L637.4,478.7 L638.7,475.3 L640.0,471.8 L641.3,468.3 L642.6,464.8 L643.9,461.3 L645.2,457.7 L646.5,454.1 L647.8,450.4 L649.1,446.7 L650.5,442.9 L651.8,439.2 L653.1,435.4 L654.4,431.7 L655.7,428.0 L657.0,424.4 L658.3,420.9 L659.6,417.4 L660.9,413.9 L662.2,410.5 L663.5,407.1 L664.8,403.7 L666.1,400.3 L667.4,396.9 L668.8,393.6 L670.1,390.2 L671.4,386.9 L672.7,383.5 L674.0,380.1 L675.3,376.7 L676.6,373.3 L677.9,369.7 L679.2,366.2 L680.5,362.6 L681.8,358.9 L683.1,355.3 L684.4,351.7 L685.8,348.1 L687.1,344.6 L688.4,341.2 L689.7,337.9 L691.0,334.7 L692.3,331.6 L693.6,328.7 L694.9,325.8 L696.2,322.9 L697.5,320.1 L698.8,317.4 L700.1,314.7 L701.4,312.1 L702.8,309.5 L704.1,306.9 L705.4,304.4 L706.7,301.9 L708.0,299.5 L709.3,297.1 L710.6,294.8 L711.9,292.5 L713.2,290.2 L714.5,287.9 L715.8,285.6 L717.1,283.4 L718.4,281.2 L719.7,279.0 L721.1,276.9 L722.4,274.8 L723.7,272.8 L725.0,270.9 L726.3,269.1 L727.6,267.4 L728.9,265.8 L730.2,264.3 L731.5,262.7 L732.8,261.2 L734.1,259.7 L735.4,258.3 L736.7,257.0 L738.1,255.8 L739.4,254.8 L740.7,253.9 L742.0,253.3 L743.3,252.9 L744.6,252.4 L745.9,252.0 L747.2,251.6 L748.5,251.3 L749.8,251.0 L751.1,250.7 L752.4,250.6 L753.7,250.5 L755.0,250.5 L756.4,250.8 L757.7,251.3 L759.0,252.0 L760.3,252.8 L761.6,253.8 L762.9,254.9 L764.2,256.1 L765.5,257.4 L766.8,258.8 L768.1,260.2 L769.4,261.6 L770.7,263.1 L772.0,264.4 L773.4,265.8 L774.7,267.2 L776.0,268.6 L777.3,270.2 L778.6,271.8 L779.9,273.4 L781.2,275.1 L782.5,276.9 L783.8,278.7 L785.1,280.6 L786.4,282.6 L787.7,284.7 L789.0,286.8 L790.4,288.9 L791.7,291.1 L793.0,293.4 L794.3,295.8 L795.6,298.2 L796.9,300.7 L798.2,303.2 L799.5,306.0 L800.8,309.0 L802.1,312.2 L803.4,315.7 L804.7,319.2 L806.0,322.9 L807.4,326.7 L808.7,330.5 L810.0,334.3 L811.3,338.1 L812.6,341.8 L813.9,345.4 L815.2,348.9 L816.5,352.5 L817.8,356.0 L819.1,359.5 L820.4,363.0 L821.7,366.6 L823.0,370.2 L824.3,373.8 L825.7,377.5 L827.0,381.3 L828.3,385.2 L829.6,389.2 L830.9,393.3 L832.2,397.4 L833.5,401.7 L834.8,406.1 L836.1,410.5 L837.4,415.0 L838.7,419.6 L840.0,424.3 L841.3,429.0 L842.7,433.9 L844.0,438.9 L845.3,444.1 L846.6,449.5 L847.9,454.8 L849.2,460.2 L850.5,465.5 L851.8,470.6 L853.1,475.6 L854.4,480.4 L855.7,485.2 L857.0,489.8 L858.3,494.4 L859.7,499.0 L861.0,503.5 L862.3,508.0 L863.6,512.4 L864.9,516.9 L866.2,521.3 L867.5,525.7 L868.8,530.0 L870.1,534.3 L871.4,538.6 L872.7,542.9 L874.0,547.1 L875.3,551.4 L876.6,555.7 L878.0,560.0 L879.3,564.3 L880.6,568.7 L881.9,573.1 L883.2,577.6 L884.5,582.0 L885.8,586.4 L887.1,590.7 L888.4,595.0 L889.7,599.3 L891.0,603.4 L892.3,607.5 L893.6,611.7 L895.0,615.8 L896.3,619.9 L897.6,623.9 L898.9,627.9 L900.2,631.8 L901.5,635.6 L902.8,639.2 L904.1,642.7 L905.4,646.1 L906.7,649.3 L908.0,652.5 L909.3,655.6 L910.6,658.7 L912.0,661.7 L913.3,664.6 L914.6,667.5 L915.9,670.3 L917.2,673.0 L918.5,675.6 L919.8,678.2 L921.1,680.6 L922.4,683.0 L923.7,685.3 L925.0,687.4 L926.3,689.6 L927.6,691.7 L928.9,693.7 L930.3,695.7 L931.6,697.6 L932.9,699.4 L934.2,701.1 L935.5,702.7 L936.8,704.2 L938.1,705.6 L939.4,706.8 L940.7,708.0 L942.0,709.0 L943.3,710.1 L944.6,711.1 L945.9,712.0 L947.3,712.9 L948.6,713.8 L949.9,714.7 L951.2,715.5 L952.5,716.3 L953.8,717.2 L955.1,718.0 L956.4,718.9 L957.7,719.8 L959.0,720.7 L960.3,721.6 L961.6,722.5 L962.9,723.4 L964.2,724.2 L965.6,725.0 L966.9,725.8 L968.2,726.5 L969.5,727.2 L970.8,727.8 L972.1,728.3 L973.4,728.7 L974.7,729.1 L976.0,729.6 L977.3,730.0 L978.6,730.4 L979.9,730.8 L981.2,731.1 L982.6,731.5 L983.9,731.8 L985.2,732.1 L986.5,732.4 L987.8,732.7 L989.1,732.9 L990.4,733.1 L991.7,733.3 L993.0,733.5 L994.3,733.6 L995.6,733.7 L996.9,733.8 L998.2,733.9 L999.6,734.0 L1000.9,734.1 L1002.2,734.2 L1003.5,734.3 L1004.8,734.4 L1006.1,734.5 L1007.4,734.5 L1008.7,734.6 L1010.0,734.7 L1011.3,734.8 L1012.6,734.8 L1013.9,734.9 L1015.2,734.9 L1016.6,735.0 L1017.9,735.1 L1019.2,735.1 L1020.5,735.2 L1021.8,735.2 L1023.1,735.3 L1024.4,735.3 L1025.7,735.3 L1027.0,735.4 L1028.3,735.4 L1029.6,735.5 L1030.9,735.5 L1032.2,735.5 L1033.5,735.6 L1034.9,735.6 L1036.2,735.6 L1037.5,735.6 L1038.8,735.7 L1040.1,735.7 L1041.4,735.7 L1042.7,735.7 L1044.0,735.8 L1045.3,735.8 L1046.6,735.8 L1047.9,735.8 L1049.2,735.9 L1050.5,735.9 L1051.9,735.9 L1053.2,735.9 L1054.5,736.0 L1055.8,736.0 L1057.1,736.0 L1058.4,736.0 L1059.7,736.0 L1061.0,736.1 L1062.3,736.1 L1063.6,736.1 L1064.9,736.1 L1066.2,736.1 L1067.5,736.1 L1068.8,736.1 L1070.2,736.2 L1071.5,736.2 L1072.8,736.2 L1074.1,736.2 L1075.4,736.2 L1076.7,736.2 L1078.0,736.2 L1079.3,736.2 L1080.6,736.2 L1081.9,736.2 L1083.2,736.2 L1084.5,736.2 L1085.8,736.2 L1087.2,736.2 L1088.5,736.2 L1089.8,736.2 L1091.1,736.2 L1092.4,736.2 L1093.7,736.2 L1095.0,736.2" stroke="#000" stroke-width="7" stroke-dasharray="25 20" stroke-linecap="butt"/>
</g>
<clipPath id="clipA2"><rect x="306.5" y="1013.5" width="790.1" height="562.5"/></clipPath>
<g clip-path="url(#clipA2)" fill="none" stroke-linejoin="round" stroke-linecap="round">
<path d="M310.5,1519.2 L311.8,1519.4 L313.1,1519.6 L314.4,1519.8 L315.7,1520.0 L317.0,1520.1 L318.3,1520.3 L319.6,1520.4 L320.9,1520.6 L322.2,1520.8 L323.5,1520.9 L324.8,1521.1 L326.1,1521.2 L327.4,1521.3 L328.7,1521.4 L330.1,1521.4 L331.4,1521.3 L332.7,1521.0 L334.0,1520.6 L335.3,1520.1 L336.6,1519.5 L337.9,1518.9 L339.2,1518.3 L340.5,1517.8 L341.8,1517.2 L343.1,1516.7 L344.4,1516.0 L345.7,1515.4 L347.0,1514.8 L348.3,1514.1 L349.6,1513.5 L350.9,1512.8 L352.2,1512.1 L353.5,1511.4 L354.8,1510.6 L356.1,1509.9 L357.4,1509.2 L358.7,1508.4 L360.0,1507.8 L361.3,1507.1 L362.6,1506.3 L363.9,1505.5 L365.2,1504.8 L366.6,1504.2 L367.9,1503.8 L369.2,1503.6 L370.5,1503.7 L371.8,1503.8 L373.1,1503.9 L374.4,1504.1 L375.7,1504.3 L377.0,1504.4 L378.3,1504.4 L379.6,1504.4 L380.9,1504.4 L382.2,1504.4 L383.5,1504.4 L384.8,1504.4 L386.1,1504.4 L387.4,1504.4 L388.7,1504.4 L390.0,1504.3 L391.3,1504.1 L392.6,1503.9 L393.9,1503.7 L395.2,1503.5 L396.5,1503.3 L397.8,1503.1 L399.1,1503.0 L400.4,1502.8 L401.7,1502.6 L403.0,1502.4 L404.4,1502.3 L405.7,1502.2 L407.0,1502.2 L408.3,1502.4 L409.6,1502.9 L410.9,1503.4 L412.2,1504.1 L413.5,1504.8 L414.8,1505.5 L416.1,1506.3 L417.4,1507.4 L418.7,1508.6 L420.0,1509.9 L421.3,1511.1 L422.6,1512.2 L423.9,1513.0 L425.2,1513.6 L426.5,1514.2 L427.8,1514.7 L429.1,1515.2 L430.4,1515.7 L431.7,1516.1 L433.0,1516.4 L434.3,1516.7 L435.6,1516.8 L436.9,1516.8 L438.2,1516.8 L439.5,1516.7 L440.9,1516.6 L442.2,1516.6 L443.5,1516.5 L444.8,1516.4 L446.1,1516.3 L447.4,1516.3 L448.7,1516.2 L450.0,1516.1 L451.3,1516.1 L452.6,1516.2 L453.9,1516.6 L455.2,1517.2 L456.5,1517.8 L457.8,1518.8 L459.1,1520.3 L460.4,1521.9 L461.7,1523.6 L463.0,1525.2 L464.3,1526.9 L465.6,1528.7 L466.9,1530.5 L468.2,1532.3 L469.5,1534.1 L470.8,1536.0 L472.1,1537.9 L473.4,1539.8 L474.7,1541.5 L476.0,1543.2 L477.3,1544.7 L478.7,1546.2 L480.0,1547.7 L481.3,1549.0 L482.6,1550.2 L483.9,1551.3 L485.2,1552.2 L486.5,1553.1 L487.8,1554.0 L489.1,1554.8 L490.4,1555.6 L491.7,1556.3 L493.0,1557.0 L494.3,1557.6 L495.6,1558.1 L496.9,1558.6 L498.2,1559.0 L499.5,1559.3 L500.8,1559.6 L502.1,1559.9 L503.4,1560.2 L504.7,1560.4 L506.0,1560.7 L507.3,1560.9 L508.6,1561.1 L509.9,1561.2 L511.2,1561.4 L512.5,1561.6 L513.8,1561.7 L515.1,1561.8 L516.5,1561.9 L517.8,1562.0 L519.1,1562.0 L520.4,1562.1 L521.7,1562.1 L523.0,1562.1 L524.3,1562.2 L525.6,1562.2 L526.9,1562.2 L528.2,1562.3 L529.5,1562.3 L530.8,1562.3 L532.1,1562.3 L533.4,1562.3 L534.7,1562.3 L536.0,1562.3 L537.3,1562.3 L538.6,1562.3 L539.9,1562.3 L541.2,1562.3 L542.5,1562.3 L543.8,1562.3 L545.1,1562.2 L546.4,1562.2 L547.7,1562.2 L549.0,1562.2 L550.3,1562.1 L551.6,1562.1 L553.0,1562.1 L554.3,1562.0 L555.6,1562.0 L556.9,1561.9 L558.2,1561.9 L559.5,1561.9 L560.8,1561.8 L562.1,1561.8 L563.4,1561.7 L564.7,1561.7 L566.0,1561.6 L567.3,1561.6 L568.6,1561.5 L569.9,1561.4 L571.2,1561.4 L572.5,1561.3 L573.8,1561.2 L575.1,1561.1 L576.4,1561.0 L577.7,1561.0 L579.0,1560.9 L580.3,1560.8 L581.6,1560.7 L582.9,1560.6 L584.2,1560.5 L585.5,1560.4 L586.8,1560.3 L588.1,1560.2 L589.4,1560.1 L590.8,1559.9 L592.1,1559.8 L593.4,1559.7 L594.7,1559.6 L596.0,1559.4 L597.3,1559.3 L598.6,1559.1 L599.9,1559.0 L601.2,1558.8 L602.5,1558.7 L603.8,1558.5 L605.1,1558.4 L606.4,1558.2 L607.7,1558.0 L609.0,1557.8 L610.3,1557.7 L611.6,1557.5 L612.9,1557.3 L614.2,1557.1 L615.5,1556.9 L616.8,1556.7 L618.1,1556.5 L619.4,1556.3 L620.7,1556.0 L622.0,1555.8 L623.3,1555.6 L624.6,1555.4 L625.9,1555.1 L627.3,1554.9 L628.6,1554.6 L629.9,1554.4 L631.2,1554.1 L632.5,1553.9 L633.8,1553.6 L635.1,1553.3 L636.4,1553.1 L637.7,1552.8 L639.0,1552.5 L640.3,1552.2 L641.6,1552.0 L642.9,1551.7 L644.2,1551.4 L645.5,1551.1 L646.8,1550.8 L648.1,1550.5 L649.4,1550.2 L650.7,1549.8 L652.0,1549.5 L653.3,1549.2 L654.6,1548.9 L655.9,1548.5 L657.2,1548.2 L658.5,1547.9 L659.8,1547.5 L661.1,1547.2 L662.4,1546.8 L663.7,1546.5 L665.1,1546.1 L666.4,1545.8 L667.7,1545.4 L669.0,1545.0 L670.3,1544.7 L671.6,1544.3 L672.9,1543.9 L674.2,1543.5 L675.5,1543.2 L676.8,1542.8 L678.1,1542.4 L679.4,1542.0 L680.7,1541.6 L682.0,1541.2 L683.3,1540.8 L684.6,1540.4 L685.9,1540.0 L687.2,1539.6 L688.5,1539.2 L689.8,1538.8 L691.1,1538.4 L692.4,1538.0 L693.7,1537.5 L695.0,1537.1 L696.3,1536.7 L697.6,1536.3 L698.9,1535.9 L700.2,1535.4 L701.5,1535.0 L702.9,1534.6 L704.2,1534.2 L705.5,1533.7 L706.8,1533.3 L708.1,1532.9 L709.4,1532.4 L710.7,1532.0 L712.0,1531.6 L713.3,1531.1 L714.6,1530.7 L715.9,1530.3 L717.2,1529.8 L718.5,1529.4 L719.8,1529.0 L721.1,1528.5 L722.4,1528.1 L723.7,1527.7 L725.0,1527.3 L726.3,1526.8 L727.6,1526.4 L728.9,1526.0 L730.2,1525.5 L731.5,1525.1 L732.8,1524.7 L734.1,1524.3 L735.4,1523.9 L736.7,1523.4 L738.0,1523.0 L739.4,1522.6 L740.7,1522.2 L742.0,1521.8 L743.3,1521.4 L744.6,1521.0 L745.9,1520.6 L747.2,1520.2 L748.5,1519.8 L749.8,1519.4 L751.1,1519.0 L752.4,1518.6 L753.7,1518.2 L755.0,1517.9 L756.3,1517.5 L757.6,1517.1 L758.9,1516.8 L760.2,1516.4 L761.5,1516.1 L762.8,1515.7 L764.1,1515.4 L765.4,1515.0 L766.7,1514.7 L768.0,1514.4 L769.3,1514.0 L770.6,1513.7 L771.9,1513.4 L773.2,1513.1 L774.5,1512.8 L775.8,1512.5 L777.2,1512.2 L778.5,1511.9 L779.8,1511.7 L781.1,1511.4 L782.4,1511.1 L783.7,1510.9 L785.0,1510.6 L786.3,1510.4 L787.6,1510.1 L788.9,1509.9 L790.2,1509.7 L791.5,1509.5 L792.8,1509.3 L794.1,1509.1 L795.4,1508.9 L796.7,1508.7 L798.0,1508.5 L799.3,1508.3 L800.6,1508.2 L801.9,1508.0 L803.2,1507.9 L804.5,1507.8 L805.8,1507.6 L807.1,1507.5 L808.4,1507.4 L809.7,1507.3 L811.0,1507.2 L812.3,1507.1 L813.7,1507.0 L815.0,1506.9 L816.3,1506.9 L817.6,1506.8 L818.9,1506.8 L820.2,1506.7 L821.5,1506.7 L822.8,1506.7 L824.1,1506.7 L825.4,1506.7 L826.7,1506.7 L828.0,1506.7 L829.3,1506.7 L830.6,1506.7 L831.9,1506.7 L833.2,1506.8 L834.5,1506.8 L835.8,1506.9 L837.1,1506.9 L838.4,1507.0 L839.7,1507.1 L841.0,1507.2 L842.3,1507.3 L843.6,1507.4 L844.9,1507.5 L846.2,1507.7 L847.5,1507.8 L848.8,1508.0 L850.1,1508.2 L851.5,1508.3 L852.8,1508.6 L854.1,1508.8 L855.4,1509.0 L856.7,1509.2 L858.0,1509.5 L859.3,1509.8 L860.6,1510.1 L861.9,1510.4 L863.2,1510.7 L864.5,1511.0 L865.8,1511.3 L867.1,1511.7 L868.4,1512.0 L869.7,1512.4 L871.0,1512.8 L872.3,1513.2 L873.6,1513.6 L874.9,1514.1 L876.2,1514.5 L877.5,1514.9 L878.8,1515.4 L880.1,1515.9 L881.4,1516.4 L882.7,1516.9 L884.0,1517.4 L885.3,1517.9 L886.6,1518.4 L888.0,1518.9 L889.3,1519.5 L890.6,1520.0 L891.9,1520.6 L893.2,1521.1 L894.5,1521.7 L895.8,1522.3 L897.1,1522.9 L898.4,1523.5 L899.7,1524.1 L901.0,1524.7 L902.3,1525.3 L903.6,1525.9 L904.9,1526.5 L906.2,1527.1 L907.5,1527.7 L908.8,1528.3 L910.1,1529.0 L911.4,1529.6 L912.7,1530.2 L914.0,1530.8 L915.3,1531.5 L916.6,1532.1 L917.9,1532.7 L919.2,1533.3 L920.5,1534.0 L921.8,1534.6 L923.1,1535.2 L924.4,1535.8 L925.8,1536.4 L927.1,1537.0 L928.4,1537.6 L929.7,1538.3 L931.0,1538.9 L932.3,1539.5 L933.6,1540.0 L934.9,1540.6 L936.2,1541.2 L937.5,1541.8 L938.8,1542.4 L940.1,1543.0 L941.4,1543.6 L942.7,1544.2 L944.0,1544.8 L945.3,1545.4 L946.6,1545.9 L947.9,1546.5 L949.2,1547.0 L950.5,1547.6 L951.8,1548.1 L953.1,1548.7 L954.4,1549.2 L955.7,1549.7 L957.0,1550.3 L958.3,1550.8 L959.6,1551.3 L960.9,1551.8 L962.2,1552.3 L963.6,1552.8 L964.9,1553.2 L966.2,1553.7 L967.5,1554.2 L968.8,1554.6 L970.1,1555.1 L971.4,1555.5 L972.7,1555.9 L974.0,1556.4 L975.3,1556.8 L976.6,1557.2 L977.9,1557.6 L979.2,1558.0 L980.5,1558.4 L981.8,1558.8 L983.1,1559.1 L984.4,1559.5 L985.7,1559.9 L987.0,1560.2 L988.3,1560.5 L989.6,1560.9 L990.9,1561.2 L992.2,1561.5 L993.5,1561.8 L994.8,1562.1 L996.1,1562.4 L997.4,1562.7 L998.7,1562.9 L1000.1,1563.2 L1001.4,1563.5 L1002.7,1563.7 L1004.0,1564.0 L1005.3,1564.2 L1006.6,1564.4 L1007.9,1564.6 L1009.2,1564.8 L1010.5,1565.1 L1011.8,1565.2 L1013.1,1565.4 L1014.4,1565.6 L1015.7,1565.8 L1017.0,1566.0 L1018.3,1566.1 L1019.6,1566.3 L1020.9,1566.4 L1022.2,1566.6 L1023.5,1566.7 L1024.8,1566.9 L1026.1,1567.0 L1027.4,1567.1 L1028.7,1567.2 L1030.0,1567.4 L1031.3,1567.5 L1032.6,1567.6 L1033.9,1567.7 L1035.2,1567.8 L1036.5,1567.9 L1037.9,1567.9 L1039.2,1568.0 L1040.5,1568.1 L1041.8,1568.2 L1043.1,1568.3 L1044.4,1568.3 L1045.7,1568.4 L1047.0,1568.5 L1048.3,1568.6 L1049.6,1568.6 L1050.9,1568.7 L1052.2,1568.7 L1053.5,1568.8 L1054.8,1568.8 L1056.1,1568.9 L1057.4,1569.0 L1058.7,1569.0 L1060.0,1569.1 L1061.3,1569.1 L1062.6,1569.1 L1063.9,1569.2 L1065.2,1569.2 L1066.5,1569.3 L1067.8,1569.3 L1069.1,1569.4 L1070.4,1569.4 L1071.7,1569.4 L1073.0,1569.5 L1074.4,1569.5 L1075.7,1569.5 L1077.0,1569.6 L1078.3,1569.6 L1079.6,1569.6 L1080.9,1569.7 L1082.2,1569.7 L1083.5,1569.7 L1084.8,1569.8 L1086.1,1569.8 L1087.4,1569.8 L1088.7,1569.9 L1090.0,1569.9 L1091.3,1569.9 L1092.6,1570.0" stroke="#dcedc1" stroke-width="6.2"/>
<path d="M310.5,1468.3 L311.8,1468.8 L313.1,1469.2 L314.4,1469.5 L315.7,1469.9 L317.0,1470.2 L318.3,1470.6 L319.6,1470.9 L320.9,1471.2 L322.2,1471.5 L323.5,1471.8 L324.8,1472.1 L326.1,1472.4 L327.4,1472.6 L328.7,1472.7 L330.1,1472.8 L331.4,1472.6 L332.7,1472.1 L334.0,1471.2 L335.3,1470.1 L336.6,1469.0 L337.9,1467.8 L339.2,1466.7 L340.5,1465.6 L341.8,1464.5 L343.1,1463.3 L344.4,1462.1 L345.7,1460.8 L347.0,1459.5 L348.3,1458.2 L349.6,1456.9 L350.9,1455.6 L352.2,1454.2 L353.5,1452.7 L354.8,1451.2 L356.1,1449.7 L357.4,1448.3 L358.7,1446.9 L360.0,1445.5 L361.3,1444.1 L362.6,1442.6 L363.9,1441.0 L365.2,1439.5 L366.6,1438.3 L367.9,1437.5 L369.2,1437.2 L370.5,1437.3 L371.8,1437.5 L373.1,1437.8 L374.4,1438.2 L375.7,1438.5 L377.0,1438.7 L378.3,1438.8 L379.6,1438.8 L380.9,1438.8 L382.2,1438.8 L383.5,1438.8 L384.8,1438.8 L386.1,1438.8 L387.4,1438.8 L388.7,1438.7 L390.0,1438.5 L391.3,1438.1 L392.6,1437.7 L393.9,1437.3 L395.2,1436.9 L396.5,1436.6 L397.8,1436.2 L399.1,1435.8 L400.4,1435.5 L401.7,1435.1 L403.0,1434.7 L404.4,1434.5 L405.7,1434.3 L407.0,1434.3 L408.3,1434.8 L409.6,1435.6 L410.9,1436.8 L412.2,1438.1 L413.5,1439.5 L414.8,1440.9 L416.1,1442.6 L417.4,1444.7 L418.7,1447.1 L420.0,1449.6 L421.3,1452.0 L422.6,1454.2 L423.9,1455.9 L425.2,1457.1 L426.5,1458.2 L427.8,1459.3 L429.1,1460.4 L430.4,1461.3 L431.7,1462.1 L433.0,1462.7 L434.3,1463.2 L435.6,1463.5 L436.9,1463.5 L438.2,1463.4 L439.5,1463.3 L440.9,1463.1 L442.2,1463.0 L443.5,1462.8 L444.8,1462.7 L446.1,1462.5 L447.4,1462.4 L448.7,1462.2 L450.0,1462.1 L451.3,1462.0 L452.6,1462.3 L453.9,1463.1 L455.2,1464.3 L456.5,1465.7 L457.8,1467.7 L459.1,1470.6 L460.4,1474.0 L461.7,1477.4 L463.0,1480.8 L464.3,1484.3 L465.6,1488.0 L466.9,1491.7 L468.2,1495.5 L469.5,1499.2 L470.8,1503.0 L472.1,1507.0 L473.4,1510.9 L474.7,1514.7 L476.0,1518.1 L477.3,1521.3 L478.7,1524.4 L480.0,1527.4 L481.3,1530.2 L482.6,1532.8 L483.9,1534.9 L485.2,1536.8 L486.5,1538.7 L487.8,1540.4 L489.1,1542.1 L490.4,1543.6 L491.7,1545.1 L493.0,1546.5 L494.3,1547.7 L495.6,1548.8 L496.9,1549.8 L498.2,1550.6 L499.5,1551.2 L500.8,1551.8 L502.1,1552.4 L503.4,1552.9 L504.7,1553.4 L506.0,1553.8 L507.3,1554.2 L508.6,1554.6 L509.9,1554.9 L511.2,1555.3 L512.5,1555.5 L513.8,1555.8 L515.1,1556.0 L516.5,1556.1 L517.8,1556.2 L519.1,1556.3 L520.4,1556.4 L521.7,1556.5 L523.0,1556.5 L524.3,1556.6 L525.6,1556.6 L526.9,1556.6 L528.2,1556.7 L529.5,1556.7 L530.8,1556.7 L532.1,1556.7 L533.4,1556.7 L534.7,1556.7 L536.0,1556.7 L537.3,1556.6 L538.6,1556.6 L539.9,1556.6 L541.2,1556.5 L542.5,1556.5 L543.8,1556.4 L545.1,1556.3 L546.4,1556.2 L547.7,1556.1 L549.0,1556.0 L550.3,1555.9 L551.6,1555.8 L553.0,1555.7 L554.3,1555.6 L555.6,1555.5 L556.9,1555.4 L558.2,1555.3 L559.5,1555.2 L560.8,1555.1 L562.1,1555.0 L563.4,1554.8 L564.7,1554.7 L566.0,1554.6 L567.3,1554.4 L568.6,1554.3 L569.9,1554.1 L571.2,1553.9 L572.5,1553.7 L573.8,1553.6 L575.1,1553.4 L576.4,1553.2 L577.7,1553.0 L579.0,1552.8 L580.3,1552.6 L581.6,1552.3 L582.9,1552.1 L584.2,1551.9 L585.5,1551.7 L586.8,1551.4 L588.1,1551.2 L589.4,1550.9 L590.8,1550.6 L592.1,1550.4 L593.4,1550.1 L594.7,1549.8 L596.0,1549.5 L597.3,1549.2 L598.6,1548.9 L599.9,1548.6 L601.2,1548.2 L602.5,1547.9 L603.8,1547.6 L605.1,1547.2 L606.4,1546.8 L607.7,1546.5 L609.0,1546.1 L610.3,1545.7 L611.6,1545.3 L612.9,1544.9 L614.2,1544.5 L615.5,1544.1 L616.8,1543.7 L618.1,1543.2 L619.4,1542.8 L620.7,1542.3 L622.0,1541.9 L623.3,1541.4 L624.6,1540.9 L625.9,1540.5 L627.3,1540.0 L628.6,1539.5 L629.9,1539.0 L631.2,1538.5 L632.5,1537.9 L633.8,1537.4 L635.1,1536.9 L636.4,1536.3 L637.7,1535.8 L639.0,1535.2 L640.3,1534.7 L641.6,1534.1 L642.9,1533.5 L644.2,1533.0 L645.5,1532.4 L646.8,1531.8 L648.1,1531.2 L649.4,1530.6 L650.7,1529.9 L652.0,1529.3 L653.3,1528.7 L654.6,1528.1 L655.9,1527.4 L657.2,1526.8 L658.5,1526.1 L659.8,1525.5 L661.1,1524.8 L662.4,1524.1 L663.7,1523.5 L665.1,1522.8 L666.4,1522.1 L667.7,1521.4 L669.0,1520.7 L670.3,1520.0 L671.6,1519.3 L672.9,1518.6 L674.2,1517.9 L675.5,1517.2 L676.8,1516.5 L678.1,1515.7 L679.4,1515.0 L680.7,1514.3 L682.0,1513.5 L683.3,1512.8 L684.6,1512.0 L685.9,1511.3 L687.2,1510.6 L688.5,1509.8 L689.8,1509.0 L691.1,1508.3 L692.4,1507.5 L693.7,1506.8 L695.0,1506.0 L696.3,1505.2 L697.6,1504.5 L698.9,1503.7 L700.2,1502.9 L701.5,1502.2 L702.9,1501.4 L704.2,1500.6 L705.5,1499.8 L706.8,1499.1 L708.1,1498.3 L709.4,1497.5 L710.7,1496.8 L712.0,1496.0 L713.3,1495.2 L714.6,1494.4 L715.9,1493.7 L717.2,1492.9 L718.5,1492.1 L719.8,1491.4 L721.1,1490.6 L722.4,1489.8 L723.7,1489.1 L725.0,1488.3 L726.3,1487.6 L727.6,1486.8 L728.9,1486.1 L730.2,1485.3 L731.5,1484.6 L732.8,1483.9 L734.1,1483.1 L735.4,1482.4 L736.7,1481.7 L738.0,1481.0 L739.4,1480.2 L740.7,1479.5 L742.0,1478.8 L743.3,1478.1 L744.6,1477.5 L745.9,1476.8 L747.2,1476.1 L748.5,1475.4 L749.8,1474.8 L751.1,1474.1 L752.4,1473.5 L753.7,1472.8 L755.0,1472.2 L756.3,1471.6 L757.6,1470.9 L758.9,1470.3 L760.2,1469.7 L761.5,1469.1 L762.8,1468.6 L764.1,1468.0 L765.4,1467.4 L766.7,1466.9 L768.0,1466.3 L769.3,1465.8 L770.6,1465.3 L771.9,1464.7 L773.2,1464.2 L774.5,1463.8 L775.8,1463.3 L777.2,1462.8 L778.5,1462.3 L779.8,1461.9 L781.1,1461.5 L782.4,1461.0 L783.7,1460.6 L785.0,1460.2 L786.3,1459.8 L787.6,1459.5 L788.9,1459.1 L790.2,1458.8 L791.5,1458.4 L792.8,1458.1 L794.1,1457.8 L795.4,1457.5 L796.7,1457.2 L798.0,1456.9 L799.3,1456.7 L800.6,1456.4 L801.9,1456.2 L803.2,1456.0 L804.5,1455.8 L805.8,1455.6 L807.1,1455.4 L808.4,1455.3 L809.7,1455.1 L811.0,1455.0 L812.3,1454.9 L813.7,1454.8 L815.0,1454.7 L816.3,1454.6 L817.6,1454.5 L818.9,1454.5 L820.2,1454.5 L821.5,1454.5 L822.8,1454.5 L824.1,1454.5 L825.4,1454.5 L826.7,1454.5 L828.0,1454.5 L829.3,1454.6 L830.6,1454.7 L831.9,1454.8 L833.2,1454.9 L834.5,1455.0 L835.8,1455.1 L837.1,1455.3 L838.4,1455.4 L839.7,1455.6 L841.0,1455.8 L842.3,1456.0 L843.6,1456.3 L844.9,1456.6 L846.2,1456.8 L847.5,1457.1 L848.8,1457.5 L850.1,1457.8 L851.5,1458.2 L852.8,1458.6 L854.1,1459.0 L855.4,1459.4 L856.7,1459.8 L858.0,1460.3 L859.3,1460.8 L860.6,1461.3 L861.9,1461.8 L863.2,1462.4 L864.5,1462.9 L865.8,1463.5 L867.1,1464.1 L868.4,1464.7 L869.7,1465.4 L871.0,1466.0 L872.3,1466.7 L873.6,1467.4 L874.9,1468.1 L876.2,1468.8 L877.5,1469.6 L878.8,1470.3 L880.1,1471.1 L881.4,1471.9 L882.7,1472.7 L884.0,1473.5 L885.3,1474.3 L886.6,1475.2 L888.0,1476.0 L889.3,1476.9 L890.6,1477.8 L891.9,1478.6 L893.2,1479.5 L894.5,1480.4 L895.8,1481.3 L897.1,1482.2 L898.4,1483.2 L899.7,1484.1 L901.0,1485.0 L902.3,1486.0 L903.6,1486.9 L904.9,1487.9 L906.2,1488.8 L907.5,1489.8 L908.8,1490.7 L910.1,1491.7 L911.4,1492.7 L912.7,1493.6 L914.0,1494.6 L915.3,1495.5 L916.6,1496.5 L917.9,1497.5 L919.2,1498.4 L920.5,1499.4 L921.8,1500.4 L923.1,1501.3 L924.4,1502.3 L925.8,1503.2 L927.1,1504.2 L928.4,1505.1 L929.7,1506.1 L931.0,1507.0 L932.3,1508.0 L933.6,1508.9 L934.9,1509.9 L936.2,1510.8 L937.5,1511.8 L938.8,1512.7 L940.1,1513.7 L941.4,1514.7 L942.7,1515.6 L944.0,1516.6 L945.3,1517.5 L946.6,1518.5 L947.9,1519.4 L949.2,1520.3 L950.5,1521.3 L951.8,1522.2 L953.1,1523.1 L954.4,1524.1 L955.7,1525.0 L957.0,1525.9 L958.3,1526.8 L959.6,1527.7 L960.9,1528.7 L962.2,1529.6 L963.6,1530.5 L964.9,1531.4 L966.2,1532.3 L967.5,1533.1 L968.8,1534.0 L970.1,1534.9 L971.4,1535.8 L972.7,1536.6 L974.0,1537.5 L975.3,1538.3 L976.6,1539.2 L977.9,1540.0 L979.2,1540.8 L980.5,1541.6 L981.8,1542.4 L983.1,1543.2 L984.4,1544.0 L985.7,1544.8 L987.0,1545.6 L988.3,1546.3 L989.6,1547.0 L990.9,1547.8 L992.2,1548.5 L993.5,1549.2 L994.8,1549.9 L996.1,1550.5 L997.4,1551.2 L998.7,1551.8 L1000.1,1552.5 L1001.4,1553.1 L1002.7,1553.7 L1004.0,1554.3 L1005.3,1554.9 L1006.6,1555.4 L1007.9,1556.0 L1009.2,1556.5 L1010.5,1557.0 L1011.8,1557.5 L1013.1,1558.0 L1014.4,1558.4 L1015.7,1558.9 L1017.0,1559.3 L1018.3,1559.8 L1019.6,1560.2 L1020.9,1560.6 L1022.2,1561.0 L1023.5,1561.3 L1024.8,1561.7 L1026.1,1562.0 L1027.4,1562.4 L1028.7,1562.7 L1030.0,1563.0 L1031.3,1563.3 L1032.6,1563.6 L1033.9,1563.9 L1035.2,1564.1 L1036.5,1564.4 L1037.9,1564.6 L1039.2,1564.9 L1040.5,1565.1 L1041.8,1565.3 L1043.1,1565.5 L1044.4,1565.7 L1045.7,1565.9 L1047.0,1566.1 L1048.3,1566.3 L1049.6,1566.5 L1050.9,1566.6 L1052.2,1566.8 L1053.5,1566.9 L1054.8,1567.1 L1056.1,1567.2 L1057.4,1567.4 L1058.7,1567.5 L1060.0,1567.6 L1061.3,1567.7 L1062.6,1567.9 L1063.9,1568.0 L1065.2,1568.1 L1066.5,1568.2 L1067.8,1568.3 L1069.1,1568.4 L1070.4,1568.5 L1071.7,1568.5 L1073.0,1568.6 L1074.4,1568.7 L1075.7,1568.8 L1077.0,1568.9 L1078.3,1568.9 L1079.6,1569.0 L1080.9,1569.1 L1082.2,1569.2 L1083.5,1569.2 L1084.8,1569.3 L1086.1,1569.3 L1087.4,1569.4 L1088.7,1569.5 L1090.0,1569.5 L1091.3,1569.6 L1092.6,1569.6" stroke="#b3dcc9" stroke-width="6.2"/>
<path d="M310.5,1418.3 L311.8,1418.6 L313.1,1419.0 L314.4,1419.4 L315.7,1419.7 L317.0,1419.9 L318.3,1420.1 L319.6,1420.4 L320.9,1420.6 L322.2,1420.8 L323.5,1421.0 L324.8,1421.2 L326.1,1421.3 L327.4,1421.3 L328.7,1421.3 L330.1,1421.1 L331.4,1420.7 L332.7,1419.7 L334.0,1418.4 L335.3,1416.8 L336.6,1415.0 L337.9,1413.2 L339.2,1411.5 L340.5,1409.8 L341.8,1408.1 L343.1,1406.3 L344.4,1404.4 L345.7,1402.5 L347.0,1400.6 L348.3,1398.6 L349.6,1396.6 L350.9,1394.6 L352.2,1392.5 L353.5,1390.3 L354.8,1388.1 L356.1,1385.9 L357.4,1383.7 L358.7,1381.6 L360.0,1379.6 L361.3,1377.5 L362.6,1375.1 L363.9,1372.7 L365.2,1370.4 L366.6,1368.6 L367.9,1367.3 L369.2,1366.8 L370.5,1367.0 L371.8,1367.4 L373.1,1367.9 L374.4,1368.5 L375.7,1369.0 L377.0,1369.5 L378.3,1369.9 L379.6,1370.2 L380.9,1370.5 L382.2,1370.7 L383.5,1371.0 L384.8,1371.2 L386.1,1371.4 L387.4,1371.5 L388.7,1371.5 L390.0,1371.3 L391.3,1370.9 L392.6,1370.4 L393.9,1370.0 L395.2,1369.5 L396.5,1369.1 L397.8,1368.8 L399.1,1368.3 L400.4,1367.9 L401.7,1367.5 L403.0,1367.2 L404.4,1366.9 L405.7,1366.9 L407.0,1367.1 L408.3,1367.9 L409.6,1369.3 L410.9,1371.1 L412.2,1373.1 L413.5,1375.4 L414.8,1377.6 L416.1,1380.2 L417.4,1383.3 L418.7,1386.8 L420.0,1390.4 L421.3,1393.9 L422.6,1397.0 L423.9,1399.6 L425.2,1401.5 L426.5,1403.4 L427.8,1405.3 L429.1,1407.1 L430.4,1408.7 L431.7,1410.0 L433.0,1411.3 L434.3,1412.2 L435.6,1412.6 L436.9,1412.6 L438.2,1412.4 L439.5,1412.0 L440.9,1411.6 L442.2,1411.3 L443.5,1410.9 L444.8,1410.6 L446.1,1410.2 L447.4,1409.9 L448.7,1409.6 L450.0,1409.4 L451.3,1409.3 L452.6,1409.8 L453.9,1411.1 L455.2,1412.9 L456.5,1415.1 L457.8,1418.3 L459.1,1422.7 L460.4,1427.7 L461.7,1432.7 L463.0,1437.7 L464.3,1443.0 L465.6,1448.6 L466.9,1454.3 L468.2,1460.1 L469.5,1466.0 L470.8,1472.0 L472.1,1478.1 L473.4,1484.2 L474.7,1490.0 L476.0,1495.4 L477.3,1500.4 L478.7,1505.3 L480.0,1509.9 L481.3,1514.2 L482.6,1518.1 L483.9,1521.4 L485.2,1524.3 L486.5,1527.1 L487.8,1529.8 L489.1,1532.2 L490.4,1534.5 L491.7,1536.6 L493.0,1538.5 L494.3,1540.2 L495.6,1541.8 L496.9,1543.1 L498.2,1544.2 L499.5,1545.1 L500.8,1545.9 L502.1,1546.7 L503.4,1547.4 L504.7,1548.0 L506.0,1548.6 L507.3,1549.2 L508.6,1549.7 L509.9,1550.1 L511.2,1550.5 L512.5,1550.9 L513.8,1551.2 L515.1,1551.4 L516.5,1551.7 L517.8,1551.8 L519.1,1551.9 L520.4,1552.0 L521.7,1552.1 L523.0,1552.1 L524.3,1552.2 L525.6,1552.2 L526.9,1552.2 L528.2,1552.2 L529.5,1552.2 L530.8,1552.2 L532.1,1552.2 L533.4,1552.2 L534.7,1552.2 L536.0,1552.1 L537.3,1552.1 L538.6,1552.0 L539.9,1551.9 L541.2,1551.8 L542.5,1551.7 L543.8,1551.6 L545.1,1551.5 L546.4,1551.4 L547.7,1551.2 L549.0,1551.1 L550.3,1551.0 L551.6,1550.8 L553.0,1550.7 L554.3,1550.5 L555.6,1550.4 L556.9,1550.2 L558.2,1550.0 L559.5,1549.9 L560.8,1549.7 L562.1,1549.5 L563.4,1549.3 L564.7,1549.1 L566.0,1548.9 L567.3,1548.7 L568.6,1548.5 L569.9,1548.2 L571.2,1548.0 L572.5,1547.7 L573.8,1547.4 L575.1,1547.1 L576.4,1546.9 L577.7,1546.6 L579.0,1546.3 L580.3,1545.9 L581.6,1545.6 L582.9,1545.3 L584.2,1544.9 L585.5,1544.6 L586.8,1544.2 L588.1,1543.9 L589.4,1543.5 L590.8,1543.1 L592.1,1542.7 L593.4,1542.3 L594.7,1541.8 L596.0,1541.4 L597.3,1540.9 L598.6,1540.5 L599.9,1540.0 L601.2,1539.5 L602.5,1539.0 L603.8,1538.5 L605.1,1538.0 L606.4,1537.4 L607.7,1536.9 L609.0,1536.3 L610.3,1535.8 L611.6,1535.2 L612.9,1534.6 L614.2,1534.0 L615.5,1533.3 L616.8,1532.7 L618.1,1532.1 L619.4,1531.4 L620.7,1530.7 L622.0,1530.0 L623.3,1529.4 L624.6,1528.7 L625.9,1527.9 L627.3,1527.2 L628.6,1526.5 L629.9,1525.7 L631.2,1525.0 L632.5,1524.2 L633.8,1523.4 L635.1,1522.6 L636.4,1521.8 L637.7,1521.0 L639.0,1520.2 L640.3,1519.3 L641.6,1518.5 L642.9,1517.6 L644.2,1516.8 L645.5,1515.9 L646.8,1515.0 L648.1,1514.1 L649.4,1513.2 L650.7,1512.3 L652.0,1511.4 L653.3,1510.4 L654.6,1509.5 L655.9,1508.5 L657.2,1507.6 L658.5,1506.6 L659.8,1505.6 L661.1,1504.7 L662.4,1503.7 L663.7,1502.7 L665.1,1501.7 L666.4,1500.7 L667.7,1499.6 L669.0,1498.6 L670.3,1497.6 L671.6,1496.5 L672.9,1495.5 L674.2,1494.4 L675.5,1493.4 L676.8,1492.3 L678.1,1491.3 L679.4,1490.2 L680.7,1489.1 L682.0,1488.0 L683.3,1486.9 L684.6,1485.9 L685.9,1484.8 L687.2,1483.7 L688.5,1482.6 L689.8,1481.5 L691.1,1480.4 L692.4,1479.2 L693.7,1478.1 L695.0,1477.0 L696.3,1475.9 L697.6,1474.8 L698.9,1473.7 L700.2,1472.5 L701.5,1471.4 L702.9,1470.3 L704.2,1469.2 L705.5,1468.1 L706.8,1466.9 L708.1,1465.8 L709.4,1464.7 L710.7,1463.6 L712.0,1462.5 L713.3,1461.4 L714.6,1460.3 L715.9,1459.2 L717.2,1458.0 L718.5,1456.9 L719.8,1455.9 L721.1,1454.8 L722.4,1453.7 L723.7,1452.6 L725.0,1451.5 L726.3,1450.4 L727.6,1449.4 L728.9,1448.3 L730.2,1447.3 L731.5,1446.2 L732.8,1445.2 L734.1,1444.2 L735.4,1443.1 L736.7,1442.1 L738.0,1441.1 L739.4,1440.1 L740.7,1439.1 L742.0,1438.1 L743.3,1437.2 L744.6,1436.2 L745.9,1435.3 L747.2,1434.3 L748.5,1433.4 L749.8,1432.5 L751.1,1431.6 L752.4,1430.7 L753.7,1429.8 L755.0,1429.0 L756.3,1428.1 L757.6,1427.3 L758.9,1426.5 L760.2,1425.7 L761.5,1424.9 L762.8,1424.1 L764.1,1423.3 L765.4,1422.6 L766.7,1421.8 L768.0,1421.1 L769.3,1420.4 L770.6,1419.7 L771.9,1419.1 L773.2,1418.4 L774.5,1417.8 L775.8,1417.2 L777.2,1416.6 L778.5,1416.0 L779.8,1415.4 L781.1,1414.9 L782.4,1414.4 L783.7,1413.9 L785.0,1413.4 L786.3,1412.9 L787.6,1412.5 L788.9,1412.0 L790.2,1411.6 L791.5,1411.2 L792.8,1410.9 L794.1,1410.5 L795.4,1410.2 L796.7,1409.9 L798.0,1409.6 L799.3,1409.3 L800.6,1409.1 L801.9,1408.9 L803.2,1408.7 L804.5,1408.5 L805.8,1408.3 L807.1,1408.2 L808.4,1408.1 L809.7,1408.0 L811.0,1407.9 L812.3,1407.8 L813.7,1407.8 L815.0,1407.8 L816.3,1407.8 L817.6,1407.8 L818.9,1407.8 L820.2,1407.9 L821.5,1407.9 L822.8,1408.0 L824.1,1408.1 L825.4,1408.2 L826.7,1408.4 L828.0,1408.5 L829.3,1408.7 L830.6,1408.9 L831.9,1409.1 L833.2,1409.4 L834.5,1409.7 L835.8,1410.0 L837.1,1410.3 L838.4,1410.6 L839.7,1411.0 L841.0,1411.4 L842.3,1411.8 L843.6,1412.3 L844.9,1412.8 L846.2,1413.3 L847.5,1413.8 L848.8,1414.3 L850.1,1414.9 L851.5,1415.5 L852.8,1416.2 L854.1,1416.8 L855.4,1417.5 L856.7,1418.2 L858.0,1418.9 L859.3,1419.7 L860.6,1420.5 L861.9,1421.3 L863.2,1422.1 L864.5,1422.9 L865.8,1423.8 L867.1,1424.7 L868.4,1425.6 L869.7,1426.5 L871.0,1427.5 L872.3,1428.5 L873.6,1429.5 L874.9,1430.5 L876.2,1431.5 L877.5,1432.6 L878.8,1433.7 L880.1,1434.7 L881.4,1435.8 L882.7,1437.0 L884.0,1438.1 L885.3,1439.2 L886.6,1440.4 L888.0,1441.5 L889.3,1442.7 L890.6,1443.9 L891.9,1445.1 L893.2,1446.3 L894.5,1447.5 L895.8,1448.7 L897.1,1450.0 L898.4,1451.2 L899.7,1452.4 L901.0,1453.7 L902.3,1454.9 L903.6,1456.1 L904.9,1457.4 L906.2,1458.6 L907.5,1459.9 L908.8,1461.1 L910.1,1462.4 L911.4,1463.6 L912.7,1464.9 L914.0,1466.1 L915.3,1467.3 L916.6,1468.6 L917.9,1469.8 L919.2,1471.1 L920.5,1472.3 L921.8,1473.5 L923.1,1474.7 L924.4,1475.9 L925.8,1477.2 L927.1,1478.4 L928.4,1479.6 L929.7,1480.8 L931.0,1482.0 L932.3,1483.2 L933.6,1484.4 L934.9,1485.6 L936.2,1486.8 L937.5,1488.0 L938.8,1489.2 L940.1,1490.4 L941.4,1491.7 L942.7,1492.9 L944.0,1494.1 L945.3,1495.3 L946.6,1496.5 L947.9,1497.7 L949.2,1498.9 L950.5,1500.2 L951.8,1501.4 L953.1,1502.6 L954.4,1503.8 L955.7,1505.0 L957.0,1506.2 L958.3,1507.5 L959.6,1508.7 L960.9,1509.9 L962.2,1511.1 L963.6,1512.3 L964.9,1513.6 L966.2,1514.8 L967.5,1516.0 L968.8,1517.2 L970.1,1518.4 L971.4,1519.6 L972.7,1520.8 L974.0,1522.0 L975.3,1523.2 L976.6,1524.4 L977.9,1525.5 L979.2,1526.7 L980.5,1527.8 L981.8,1529.0 L983.1,1530.1 L984.4,1531.3 L985.7,1532.4 L987.0,1533.5 L988.3,1534.5 L989.6,1535.6 L990.9,1536.7 L992.2,1537.7 L993.5,1538.7 L994.8,1539.7 L996.1,1540.7 L997.4,1541.7 L998.7,1542.6 L1000.1,1543.6 L1001.4,1544.5 L1002.7,1545.4 L1004.0,1546.3 L1005.3,1547.1 L1006.6,1547.9 L1007.9,1548.7 L1009.2,1549.5 L1010.5,1550.3 L1011.8,1551.0 L1013.1,1551.8 L1014.4,1552.5 L1015.7,1553.2 L1017.0,1553.8 L1018.3,1554.5 L1019.6,1555.1 L1020.9,1555.7 L1022.2,1556.3 L1023.5,1556.8 L1024.8,1557.4 L1026.1,1557.9 L1027.4,1558.4 L1028.7,1558.9 L1030.0,1559.3 L1031.3,1559.8 L1032.6,1560.2 L1033.9,1560.7 L1035.2,1561.1 L1036.5,1561.4 L1037.9,1561.8 L1039.2,1562.2 L1040.5,1562.5 L1041.8,1562.8 L1043.1,1563.2 L1044.4,1563.5 L1045.7,1563.8 L1047.0,1564.0 L1048.3,1564.3 L1049.6,1564.6 L1050.9,1564.8 L1052.2,1565.1 L1053.5,1565.3 L1054.8,1565.5 L1056.1,1565.7 L1057.4,1565.9 L1058.7,1566.1 L1060.0,1566.3 L1061.3,1566.5 L1062.6,1566.7 L1063.9,1566.8 L1065.2,1567.0 L1066.5,1567.1 L1067.8,1567.3 L1069.1,1567.4 L1070.4,1567.6 L1071.7,1567.7 L1073.0,1567.8 L1074.4,1567.9 L1075.7,1568.1 L1077.0,1568.2 L1078.3,1568.3 L1079.6,1568.4 L1080.9,1568.5 L1082.2,1568.6 L1083.5,1568.7 L1084.8,1568.8 L1086.1,1568.8 L1087.4,1568.9 L1088.7,1569.0 L1090.0,1569.1 L1091.3,1569.2 L1092.6,1569.2" stroke="#86c4cd" stroke-width="6.2"/>
<path d="M310.5,1369.3 L311.8,1369.3 L313.1,1369.3 L314.4,1369.2 L315.7,1369.1 L317.0,1368.9 L318.3,1368.7 L319.6,1368.4 L320.9,1368.1 L322.2,1367.8 L323.5,1367.5 L324.8,1367.1 L326.1,1366.6 L327.4,1366.1 L328.7,1365.4 L330.1,1364.7 L331.4,1363.6 L332.7,1362.1 L334.0,1360.2 L335.3,1358.0 L336.6,1355.6 L337.9,1353.2 L339.2,1350.8 L340.5,1348.5 L341.8,1346.1 L343.1,1343.6 L344.4,1341.0 L345.7,1338.4 L347.0,1335.7 L348.3,1333.1 L349.6,1330.4 L350.9,1327.7 L352.2,1324.9 L353.5,1322.0 L354.8,1319.1 L356.1,1316.2 L357.4,1313.3 L358.7,1310.5 L360.0,1307.8 L361.3,1305.0 L362.6,1301.8 L363.9,1298.4 L365.2,1295.3 L366.6,1292.7 L367.9,1290.9 L369.2,1290.4 L370.5,1290.6 L371.8,1291.2 L373.1,1292.0 L374.4,1292.8 L375.7,1293.7 L377.0,1294.7 L378.3,1295.7 L379.6,1296.8 L380.9,1297.8 L382.2,1298.7 L383.5,1299.5 L384.8,1300.3 L386.1,1301.0 L387.4,1301.6 L388.7,1301.9 L390.0,1301.9 L391.3,1301.7 L392.6,1301.3 L393.9,1301.0 L395.2,1300.7 L396.5,1300.5 L397.8,1300.3 L399.1,1300.1 L400.4,1299.8 L401.7,1299.7 L403.0,1299.6 L404.4,1299.7 L405.7,1300.0 L407.0,1300.7 L408.3,1302.2 L409.6,1304.3 L410.9,1306.8 L412.2,1309.6 L413.5,1312.8 L414.8,1316.1 L416.1,1319.7 L417.4,1323.8 L418.7,1328.2 L420.0,1332.6 L421.3,1336.9 L422.6,1340.9 L423.9,1344.4 L425.2,1347.3 L426.5,1350.2 L427.8,1353.1 L429.1,1356.0 L430.4,1358.6 L431.7,1360.8 L433.0,1362.9 L434.3,1364.6 L435.6,1365.4 L436.9,1365.2 L438.2,1364.7 L439.5,1363.9 L440.9,1363.0 L442.2,1362.2 L443.5,1361.5 L444.8,1360.7 L446.1,1359.9 L447.4,1359.1 L448.7,1358.5 L450.0,1358.1 L451.3,1358.1 L452.6,1359.0 L453.9,1360.7 L455.2,1363.1 L456.5,1366.5 L457.8,1371.1 L459.1,1376.9 L460.4,1383.3 L461.7,1389.7 L463.0,1396.3 L464.3,1403.3 L465.6,1410.7 L466.9,1418.4 L468.2,1426.5 L469.5,1434.7 L470.8,1443.2 L472.1,1451.6 L473.4,1460.0 L474.7,1468.1 L476.0,1475.7 L477.3,1482.7 L478.7,1489.3 L480.0,1495.6 L481.3,1501.5 L482.6,1506.7 L483.9,1511.3 L485.2,1515.3 L486.5,1519.1 L487.8,1522.5 L489.1,1525.6 L490.4,1528.5 L491.7,1531.1 L493.0,1533.3 L494.3,1535.2 L495.6,1536.9 L496.9,1538.4 L498.2,1539.6 L499.5,1540.6 L500.8,1541.5 L502.1,1542.3 L503.4,1543.1 L504.7,1543.7 L506.0,1544.3 L507.3,1544.9 L508.6,1545.4 L509.9,1545.8 L511.2,1546.2 L512.5,1546.5 L513.8,1546.8 L515.1,1547.0 L516.5,1547.1 L517.8,1547.2 L519.1,1547.2 L520.4,1547.2 L521.7,1547.2 L523.0,1547.2 L524.3,1547.2 L525.6,1547.1 L526.9,1547.0 L528.2,1547.0 L529.5,1546.9 L530.8,1546.8 L532.1,1546.7 L533.4,1546.6 L534.7,1546.4 L536.0,1546.3 L537.3,1546.1 L538.6,1546.0 L539.9,1545.8 L541.2,1545.6 L542.5,1545.4 L543.8,1545.2 L545.1,1544.9 L546.4,1544.7 L547.7,1544.4 L549.0,1544.2 L550.3,1543.9 L551.6,1543.7 L553.0,1543.4 L554.3,1543.1 L555.6,1542.9 L556.9,1542.6 L558.2,1542.3 L559.5,1542.0 L560.8,1541.7 L562.1,1541.3 L563.4,1541.0 L564.7,1540.7 L566.0,1540.3 L567.3,1539.9 L568.6,1539.5 L569.9,1539.1 L571.2,1538.7 L572.5,1538.3 L573.8,1537.8 L575.1,1537.4 L576.4,1536.9 L577.7,1536.4 L579.0,1535.9 L580.3,1535.4 L581.6,1534.9 L582.9,1534.4 L584.2,1533.8 L585.5,1533.3 L586.8,1532.7 L588.1,1532.1 L589.4,1531.5 L590.8,1530.9 L592.1,1530.2 L593.4,1529.6 L594.7,1528.9 L596.0,1528.2 L597.3,1527.5 L598.6,1526.8 L599.9,1526.0 L601.2,1525.3 L602.5,1524.5 L603.8,1523.7 L605.1,1522.9 L606.4,1522.1 L607.7,1521.2 L609.0,1520.4 L610.3,1519.5 L611.6,1518.6 L612.9,1517.7 L614.2,1516.8 L615.5,1515.8 L616.8,1514.8 L618.1,1513.9 L619.4,1512.9 L620.7,1511.9 L622.0,1510.8 L623.3,1509.8 L624.6,1508.7 L625.9,1507.7 L627.3,1506.6 L628.6,1505.5 L629.9,1504.3 L631.2,1503.2 L632.5,1502.1 L633.8,1500.9 L635.1,1499.7 L636.4,1498.5 L637.7,1497.3 L639.0,1496.1 L640.3,1494.9 L641.6,1493.6 L642.9,1492.4 L644.2,1491.1 L645.5,1489.8 L646.8,1488.5 L648.1,1487.2 L649.4,1485.9 L650.7,1484.6 L652.0,1483.2 L653.3,1481.9 L654.6,1480.5 L655.9,1479.2 L657.2,1477.8 L658.5,1476.4 L659.8,1475.0 L661.1,1473.6 L662.4,1472.2 L663.7,1470.8 L665.1,1469.3 L666.4,1467.9 L667.7,1466.5 L669.0,1465.0 L670.3,1463.6 L671.6,1462.1 L672.9,1460.7 L674.2,1459.2 L675.5,1457.7 L676.8,1456.2 L678.1,1454.8 L679.4,1453.3 L680.7,1451.8 L682.0,1450.3 L683.3,1448.8 L684.6,1447.3 L685.9,1445.8 L687.2,1444.4 L688.5,1442.9 L689.8,1441.4 L691.1,1439.9 L692.4,1438.4 L693.7,1436.9 L695.0,1435.4 L696.3,1433.9 L697.6,1432.5 L698.9,1431.0 L700.2,1429.5 L701.5,1428.1 L702.9,1426.6 L704.2,1425.1 L705.5,1423.7 L706.8,1422.2 L708.1,1420.8 L709.4,1419.4 L710.7,1418.0 L712.0,1416.6 L713.3,1415.2 L714.6,1413.8 L715.9,1412.4 L717.2,1411.0 L718.5,1409.6 L719.8,1408.3 L721.1,1407.0 L722.4,1405.6 L723.7,1404.3 L725.0,1403.0 L726.3,1401.7 L727.6,1400.5 L728.9,1399.2 L730.2,1398.0 L731.5,1396.8 L732.8,1395.6 L734.1,1394.4 L735.4,1393.2 L736.7,1392.1 L738.0,1390.9 L739.4,1389.8 L740.7,1388.7 L742.0,1387.6 L743.3,1386.6 L744.6,1385.6 L745.9,1384.5 L747.2,1383.5 L748.5,1382.6 L749.8,1381.6 L751.1,1380.7 L752.4,1379.8 L753.7,1378.9 L755.0,1378.1 L756.3,1377.2 L757.6,1376.4 L758.9,1375.7 L760.2,1374.9 L761.5,1374.2 L762.8,1373.5 L764.1,1372.8 L765.4,1372.1 L766.7,1371.5 L768.0,1370.9 L769.3,1370.4 L770.6,1369.8 L771.9,1369.3 L773.2,1368.8 L774.5,1368.4 L775.8,1367.9 L777.2,1367.5 L778.5,1367.2 L779.8,1366.8 L781.1,1366.5 L782.4,1366.2 L783.7,1366.0 L785.0,1365.8 L786.3,1365.6 L787.6,1365.4 L788.9,1365.3 L790.2,1365.2 L791.5,1365.1 L792.8,1365.0 L794.1,1365.0 L795.4,1365.0 L796.7,1365.0 L798.0,1365.1 L799.3,1365.1 L800.6,1365.2 L801.9,1365.3 L803.2,1365.4 L804.5,1365.5 L805.8,1365.7 L807.1,1365.9 L808.4,1366.1 L809.7,1366.3 L811.0,1366.6 L812.3,1366.9 L813.7,1367.2 L815.0,1367.6 L816.3,1367.9 L817.6,1368.3 L818.9,1368.8 L820.2,1369.3 L821.5,1369.7 L822.8,1370.3 L824.1,1370.8 L825.4,1371.4 L826.7,1372.0 L828.0,1372.7 L829.3,1373.4 L830.6,1374.1 L831.9,1374.8 L833.2,1375.6 L834.5,1376.4 L835.8,1377.2 L837.1,1378.1 L838.4,1379.0 L839.7,1379.9 L841.0,1380.9 L842.3,1381.9 L843.6,1382.9 L844.9,1383.9 L846.2,1385.0 L847.5,1386.1 L848.8,1387.2 L850.1,1388.4 L851.5,1389.5 L852.8,1390.7 L854.1,1392.0 L855.4,1393.2 L856.7,1394.5 L858.0,1395.8 L859.3,1397.2 L860.6,1398.5 L861.9,1399.9 L863.2,1401.3 L864.5,1402.7 L865.8,1404.1 L867.1,1405.6 L868.4,1407.0 L869.7,1408.5 L871.0,1410.0 L872.3,1411.5 L873.6,1413.1 L874.9,1414.6 L876.2,1416.2 L877.5,1417.7 L878.8,1419.3 L880.1,1420.9 L881.4,1422.5 L882.7,1424.1 L884.0,1425.7 L885.3,1427.3 L886.6,1428.9 L888.0,1430.5 L889.3,1432.1 L890.6,1433.7 L891.9,1435.4 L893.2,1437.0 L894.5,1438.6 L895.8,1440.2 L897.1,1441.8 L898.4,1443.4 L899.7,1445.0 L901.0,1446.5 L902.3,1448.1 L903.6,1449.7 L904.9,1451.2 L906.2,1452.8 L907.5,1454.3 L908.8,1455.8 L910.1,1457.3 L911.4,1458.8 L912.7,1460.3 L914.0,1461.8 L915.3,1463.2 L916.6,1464.7 L917.9,1466.1 L919.2,1467.5 L920.5,1468.9 L921.8,1470.3 L923.1,1471.7 L924.4,1473.1 L925.8,1474.4 L927.1,1475.8 L928.4,1477.1 L929.7,1478.4 L931.0,1479.7 L932.3,1481.0 L933.6,1482.3 L934.9,1483.6 L936.2,1484.8 L937.5,1486.1 L938.8,1487.4 L940.1,1488.7 L941.4,1490.0 L942.7,1491.2 L944.0,1492.5 L945.3,1493.8 L946.6,1495.0 L947.9,1496.3 L949.2,1497.5 L950.5,1498.8 L951.8,1500.0 L953.1,1501.3 L954.4,1502.5 L955.7,1503.8 L957.0,1505.0 L958.3,1506.3 L959.6,1507.6 L960.9,1508.8 L962.2,1510.1 L963.6,1511.3 L964.9,1512.6 L966.2,1513.8 L967.5,1515.1 L968.8,1516.3 L970.1,1517.6 L971.4,1518.8 L972.7,1520.1 L974.0,1521.3 L975.3,1522.5 L976.6,1523.8 L977.9,1525.0 L979.2,1526.2 L980.5,1527.4 L981.8,1528.6 L983.1,1529.8 L984.4,1531.0 L985.7,1532.1 L987.0,1533.3 L988.3,1534.4 L989.6,1535.5 L990.9,1536.7 L992.2,1537.7 L993.5,1538.8 L994.8,1539.9 L996.1,1540.9 L997.4,1541.9 L998.7,1542.9 L1000.1,1543.9 L1001.4,1544.8 L1002.7,1545.8 L1004.0,1546.7 L1005.3,1547.6 L1006.6,1548.4 L1007.9,1549.3 L1009.2,1550.1 L1010.5,1550.9 L1011.8,1551.6 L1013.1,1552.4 L1014.4,1553.1 L1015.7,1553.8 L1017.0,1554.5 L1018.3,1555.1 L1019.6,1555.8 L1020.9,1556.4 L1022.2,1557.0 L1023.5,1557.5 L1024.8,1558.1 L1026.1,1558.6 L1027.4,1559.1 L1028.7,1559.6 L1030.0,1560.1 L1031.3,1560.5 L1032.6,1560.9 L1033.9,1561.4 L1035.2,1561.7 L1036.5,1562.1 L1037.9,1562.5 L1039.2,1562.8 L1040.5,1563.2 L1041.8,1563.5 L1043.1,1563.8 L1044.4,1564.1 L1045.7,1564.4 L1047.0,1564.6 L1048.3,1564.9 L1049.6,1565.1 L1050.9,1565.4 L1052.2,1565.6 L1053.5,1565.8 L1054.8,1566.0 L1056.1,1566.2 L1057.4,1566.4 L1058.7,1566.6 L1060.0,1566.7 L1061.3,1566.9 L1062.6,1567.1 L1063.9,1567.2 L1065.2,1567.3 L1066.5,1567.5 L1067.8,1567.6 L1069.1,1567.7 L1070.4,1567.9 L1071.7,1568.0 L1073.0,1568.1 L1074.4,1568.2 L1075.7,1568.3 L1077.0,1568.4 L1078.3,1568.5 L1079.6,1568.6 L1080.9,1568.7 L1082.2,1568.8 L1083.5,1568.9 L1084.8,1568.9 L1086.1,1569.0 L1087.4,1569.1 L1088.7,1569.2 L1090.0,1569.2 L1091.3,1569.3 L1092.6,1569.4" stroke="#5aaed4" stroke-width="6.2"/>
<path d="M310.5,1320.9 L311.8,1320.3 L313.1,1319.7 L314.4,1319.1 L315.7,1318.4 L317.0,1317.6 L318.3,1316.8 L319.6,1315.9 L320.9,1315.0 L322.2,1314.0 L323.5,1312.9 L324.8,1311.8 L326.1,1310.7 L327.4,1309.4 L328.7,1308.0 L330.1,1306.5 L331.4,1304.8 L332.7,1302.6 L334.0,1300.1 L335.3,1297.3 L336.6,1294.3 L337.9,1291.3 L339.2,1288.2 L340.5,1285.2 L341.8,1282.0 L343.1,1278.8 L344.4,1275.5 L345.7,1272.2 L347.0,1268.8 L348.3,1265.5 L349.6,1262.1 L350.9,1258.7 L352.2,1255.2 L353.5,1251.6 L354.8,1248.1 L356.1,1244.5 L357.4,1240.9 L358.7,1237.4 L360.0,1233.9 L361.3,1230.4 L362.6,1226.3 L363.9,1222.1 L365.2,1218.0 L366.6,1214.6 L367.9,1212.4 L369.2,1211.7 L370.5,1212.0 L371.8,1212.8 L373.1,1213.9 L374.4,1215.1 L375.7,1216.4 L377.0,1217.9 L378.3,1219.7 L379.6,1221.7 L380.9,1223.6 L382.2,1225.4 L383.5,1226.8 L384.8,1228.3 L386.1,1229.7 L387.4,1230.8 L388.7,1231.5 L390.0,1231.7 L391.3,1231.7 L392.6,1231.6 L393.9,1231.5 L395.2,1231.4 L396.5,1231.5 L397.8,1231.5 L399.1,1231.6 L400.4,1231.6 L401.7,1231.8 L403.0,1232.1 L404.4,1232.5 L405.7,1233.3 L407.0,1234.7 L408.3,1236.9 L409.6,1239.8 L410.9,1243.0 L412.2,1246.7 L413.5,1250.9 L414.8,1255.3 L416.1,1260.0 L417.4,1265.0 L418.7,1270.2 L420.0,1275.3 L421.3,1280.4 L422.6,1285.2 L423.9,1289.6 L425.2,1293.5 L426.5,1297.5 L427.8,1301.7 L429.1,1305.7 L430.4,1309.4 L431.7,1312.6 L433.0,1315.8 L434.3,1318.4 L435.6,1319.5 L436.9,1319.2 L438.2,1318.2 L439.5,1317.0 L440.9,1315.5 L442.2,1314.1 L443.5,1313.0 L444.8,1311.7 L446.1,1310.3 L447.4,1309.0 L448.7,1308.0 L450.0,1307.5 L451.3,1307.6 L452.6,1308.9 L453.9,1311.2 L455.2,1314.2 L456.5,1318.7 L457.8,1324.9 L459.1,1332.1 L460.4,1339.7 L461.7,1347.5 L463.0,1355.6 L464.3,1364.3 L465.6,1373.5 L466.9,1383.3 L468.2,1393.6 L469.5,1404.3 L470.8,1415.3 L472.1,1426.2 L473.4,1436.9 L474.7,1447.4 L476.0,1457.2 L477.3,1466.3 L478.7,1474.8 L480.0,1482.8 L481.3,1490.2 L482.6,1496.8 L483.9,1502.7 L485.2,1507.9 L486.5,1512.6 L487.8,1516.8 L489.1,1520.6 L490.4,1524.0 L491.7,1527.0 L493.0,1529.4 L494.3,1531.4 L495.6,1533.2 L496.9,1534.7 L498.2,1536.0 L499.5,1537.1 L500.8,1538.0 L502.1,1538.9 L503.4,1539.6 L504.7,1540.3 L506.0,1540.8 L507.3,1541.3 L508.6,1541.8 L509.9,1542.1 L511.2,1542.5 L512.5,1542.7 L513.8,1542.9 L515.1,1543.1 L516.5,1543.2 L517.8,1543.2 L519.1,1543.1 L520.4,1543.0 L521.7,1542.9 L523.0,1542.8 L524.3,1542.6 L525.6,1542.5 L526.9,1542.3 L528.2,1542.1 L529.5,1541.9 L530.8,1541.7 L532.1,1541.5 L533.4,1541.3 L534.7,1541.1 L536.0,1540.8 L537.3,1540.6 L538.6,1540.3 L539.9,1540.0 L541.2,1539.7 L542.5,1539.4 L543.8,1539.0 L545.1,1538.7 L546.4,1538.3 L547.7,1538.0 L549.0,1537.6 L550.3,1537.2 L551.6,1536.8 L553.0,1536.4 L554.3,1536.1 L555.6,1535.6 L556.9,1535.2 L558.2,1534.8 L559.5,1534.4 L560.8,1533.9 L562.1,1533.4 L563.4,1533.0 L564.7,1532.5 L566.0,1532.0 L567.3,1531.4 L568.6,1530.9 L569.9,1530.3 L571.2,1529.7 L572.5,1529.1 L573.8,1528.5 L575.1,1527.9 L576.4,1527.2 L577.7,1526.6 L579.0,1525.9 L580.3,1525.2 L581.6,1524.5 L582.9,1523.7 L584.2,1523.0 L585.5,1522.2 L586.8,1521.4 L588.1,1520.6 L589.4,1519.7 L590.8,1518.9 L592.1,1518.0 L593.4,1517.1 L594.7,1516.2 L596.0,1515.2 L597.3,1514.3 L598.6,1513.3 L599.9,1512.3 L601.2,1511.2 L602.5,1510.2 L603.8,1509.1 L605.1,1508.0 L606.4,1506.9 L607.7,1505.7 L609.0,1504.5 L610.3,1503.4 L611.6,1502.1 L612.9,1500.9 L614.2,1499.7 L615.5,1498.4 L616.8,1497.1 L618.1,1495.8 L619.4,1494.4 L620.7,1493.1 L622.0,1491.7 L623.3,1490.3 L624.6,1488.9 L625.9,1487.4 L627.3,1486.0 L628.6,1484.5 L629.9,1483.0 L631.2,1481.5 L632.5,1480.0 L633.8,1478.4 L635.1,1476.8 L636.4,1475.3 L637.7,1473.7 L639.0,1472.0 L640.3,1470.4 L641.6,1468.8 L642.9,1467.1 L644.2,1465.4 L645.5,1463.7 L646.8,1462.0 L648.1,1460.3 L649.4,1458.6 L650.7,1456.8 L652.0,1455.1 L653.3,1453.3 L654.6,1451.6 L655.9,1449.8 L657.2,1448.0 L658.5,1446.2 L659.8,1444.4 L661.1,1442.6 L662.4,1440.7 L663.7,1438.9 L665.1,1437.0 L666.4,1435.2 L667.7,1433.4 L669.0,1431.5 L670.3,1429.6 L671.6,1427.8 L672.9,1425.9 L674.2,1424.0 L675.5,1422.2 L676.8,1420.3 L678.1,1418.4 L679.4,1416.5 L680.7,1414.7 L682.0,1412.8 L683.3,1410.9 L684.6,1409.0 L685.9,1407.2 L687.2,1405.3 L688.5,1403.5 L689.8,1401.6 L691.1,1399.8 L692.4,1397.9 L693.7,1396.1 L695.0,1394.2 L696.3,1392.4 L697.6,1390.6 L698.9,1388.8 L700.2,1387.0 L701.5,1385.3 L702.9,1383.5 L704.2,1381.7 L705.5,1380.0 L706.8,1378.3 L708.1,1376.5 L709.4,1374.9 L710.7,1373.2 L712.0,1371.5 L713.3,1369.9 L714.6,1368.2 L715.9,1366.6 L717.2,1365.0 L718.5,1363.4 L719.8,1361.9 L721.1,1360.4 L722.4,1358.9 L723.7,1357.4 L725.0,1355.9 L726.3,1354.5 L727.6,1353.0 L728.9,1351.7 L730.2,1350.3 L731.5,1348.9 L732.8,1347.6 L734.1,1346.4 L735.4,1345.1 L736.7,1343.9 L738.0,1342.7 L739.4,1341.5 L740.7,1340.4 L742.0,1339.3 L743.3,1338.2 L744.6,1337.1 L745.9,1336.1 L747.2,1335.1 L748.5,1334.2 L749.8,1333.3 L751.1,1332.4 L752.4,1331.5 L753.7,1330.7 L755.0,1330.0 L756.3,1329.2 L757.6,1328.5 L758.9,1327.8 L760.2,1327.2 L761.5,1326.6 L762.8,1326.1 L764.1,1325.5 L765.4,1325.1 L766.7,1324.6 L768.0,1324.2 L769.3,1323.8 L770.6,1323.5 L771.9,1323.2 L773.2,1323.0 L774.5,1322.7 L775.8,1322.6 L777.2,1322.4 L778.5,1322.3 L779.8,1322.3 L781.1,1322.2 L782.4,1322.3 L783.7,1322.3 L785.0,1322.3 L786.3,1322.4 L787.6,1322.5 L788.9,1322.6 L790.2,1322.7 L791.5,1322.9 L792.8,1323.0 L794.1,1323.3 L795.4,1323.5 L796.7,1323.8 L798.0,1324.1 L799.3,1324.5 L800.6,1324.8 L801.9,1325.2 L803.2,1325.7 L804.5,1326.2 L805.8,1326.7 L807.1,1327.2 L808.4,1327.8 L809.7,1328.4 L811.0,1329.1 L812.3,1329.8 L813.7,1330.5 L815.0,1331.3 L816.3,1332.1 L817.6,1332.9 L818.9,1333.8 L820.2,1334.7 L821.5,1335.7 L822.8,1336.7 L824.1,1337.7 L825.4,1338.7 L826.7,1339.8 L828.0,1341.0 L829.3,1342.1 L830.6,1343.3 L831.9,1344.6 L833.2,1345.8 L834.5,1347.1 L835.8,1348.5 L837.1,1349.8 L838.4,1351.2 L839.7,1352.7 L841.0,1354.1 L842.3,1355.6 L843.6,1357.2 L844.9,1358.7 L846.2,1360.3 L847.5,1361.9 L848.8,1363.6 L850.1,1365.3 L851.5,1367.0 L852.8,1368.7 L854.1,1370.4 L855.4,1372.2 L856.7,1374.0 L858.0,1375.8 L859.3,1377.6 L860.6,1379.5 L861.9,1381.4 L863.2,1383.3 L864.5,1385.2 L865.8,1387.1 L867.1,1389.0 L868.4,1391.0 L869.7,1392.9 L871.0,1394.9 L872.3,1396.9 L873.6,1398.9 L874.9,1400.9 L876.2,1402.9 L877.5,1404.9 L878.8,1406.9 L880.1,1408.9 L881.4,1411.0 L882.7,1413.0 L884.0,1415.0 L885.3,1417.0 L886.6,1419.0 L888.0,1421.0 L889.3,1423.0 L890.6,1425.0 L891.9,1427.0 L893.2,1429.0 L894.5,1430.9 L895.8,1432.9 L897.1,1434.8 L898.4,1436.7 L899.7,1438.6 L901.0,1440.5 L902.3,1442.4 L903.6,1444.3 L904.9,1446.1 L906.2,1447.9 L907.5,1449.7 L908.8,1451.5 L910.1,1453.3 L911.4,1455.0 L912.7,1456.7 L914.0,1458.4 L915.3,1460.1 L916.6,1461.7 L917.9,1463.4 L919.2,1465.0 L920.5,1466.6 L921.8,1468.1 L923.1,1469.7 L924.4,1471.2 L925.8,1472.7 L927.1,1474.2 L928.4,1475.7 L929.7,1477.1 L931.0,1478.5 L932.3,1480.0 L933.6,1481.4 L934.9,1482.7 L936.2,1484.1 L937.5,1485.5 L938.8,1486.9 L940.1,1488.2 L941.4,1489.6 L942.7,1490.9 L944.0,1492.3 L945.3,1493.6 L946.6,1494.9 L947.9,1496.3 L949.2,1497.6 L950.5,1498.9 L951.8,1500.2 L953.1,1501.5 L954.4,1502.8 L955.7,1504.1 L957.0,1505.4 L958.3,1506.7 L959.6,1508.0 L960.9,1509.2 L962.2,1510.5 L963.6,1511.8 L964.9,1513.1 L966.2,1514.4 L967.5,1515.7 L968.8,1516.9 L970.1,1518.2 L971.4,1519.5 L972.7,1520.8 L974.0,1522.0 L975.3,1523.3 L976.6,1524.5 L977.9,1525.8 L979.2,1527.0 L980.5,1528.2 L981.8,1529.4 L983.1,1530.6 L984.4,1531.8 L985.7,1533.0 L987.0,1534.2 L988.3,1535.3 L989.6,1536.4 L990.9,1537.6 L992.2,1538.6 L993.5,1539.7 L994.8,1540.8 L996.1,1541.8 L997.4,1542.8 L998.7,1543.8 L1000.1,1544.8 L1001.4,1545.8 L1002.7,1546.7 L1004.0,1547.6 L1005.3,1548.5 L1006.6,1549.4 L1007.9,1550.2 L1009.2,1551.0 L1010.5,1551.8 L1011.8,1552.6 L1013.1,1553.3 L1014.4,1554.0 L1015.7,1554.7 L1017.0,1555.4 L1018.3,1556.0 L1019.6,1556.6 L1020.9,1557.2 L1022.2,1557.8 L1023.5,1558.4 L1024.8,1558.9 L1026.1,1559.4 L1027.4,1559.9 L1028.7,1560.4 L1030.0,1560.8 L1031.3,1561.3 L1032.6,1561.7 L1033.9,1562.1 L1035.2,1562.4 L1036.5,1562.8 L1037.9,1563.1 L1039.2,1563.5 L1040.5,1563.8 L1041.8,1564.1 L1043.1,1564.4 L1044.4,1564.7 L1045.7,1564.9 L1047.0,1565.2 L1048.3,1565.4 L1049.6,1565.6 L1050.9,1565.8 L1052.2,1566.1 L1053.5,1566.3 L1054.8,1566.4 L1056.1,1566.6 L1057.4,1566.8 L1058.7,1567.0 L1060.0,1567.1 L1061.3,1567.3 L1062.6,1567.4 L1063.9,1567.5 L1065.2,1567.7 L1066.5,1567.8 L1067.8,1567.9 L1069.1,1568.0 L1070.4,1568.1 L1071.7,1568.3 L1073.0,1568.4 L1074.4,1568.4 L1075.7,1568.5 L1077.0,1568.6 L1078.3,1568.7 L1079.6,1568.8 L1080.9,1568.9 L1082.2,1569.0 L1083.5,1569.0 L1084.8,1569.1 L1086.1,1569.2 L1087.4,1569.2 L1088.7,1569.3 L1090.0,1569.4 L1091.3,1569.4 L1092.6,1569.5" stroke="#4a8ec6" stroke-width="6.2"/>
<path d="M310.5,1273.0 L311.8,1271.8 L313.1,1270.4 L314.4,1269.0 L315.7,1267.5 L317.0,1266.0 L318.3,1264.3 L319.6,1262.5 L320.9,1260.7 L322.2,1258.9 L323.5,1256.9 L324.8,1254.8 L326.1,1252.7 L327.4,1250.4 L328.7,1248.1 L330.1,1245.6 L331.4,1243.0 L332.7,1240.1 L334.0,1236.9 L335.3,1233.5 L336.6,1230.0 L337.9,1226.3 L339.2,1222.5 L340.5,1218.7 L341.8,1214.8 L343.1,1210.8 L344.4,1206.8 L345.7,1202.7 L347.0,1198.6 L348.3,1194.5 L349.6,1190.5 L350.9,1186.4 L352.2,1182.2 L353.5,1177.9 L354.8,1173.7 L356.1,1169.4 L357.4,1165.1 L358.7,1160.9 L360.0,1156.8 L361.3,1152.5 L362.6,1147.6 L363.9,1142.3 L365.2,1137.3 L366.6,1133.1 L367.9,1130.3 L369.2,1129.5 L370.5,1130.0 L371.8,1131.0 L373.1,1132.4 L374.4,1134.0 L375.7,1135.7 L377.0,1137.9 L378.3,1140.7 L379.6,1143.8 L380.9,1147.0 L382.2,1149.8 L383.5,1152.1 L384.8,1154.5 L386.1,1156.7 L387.4,1158.5 L388.7,1159.7 L390.0,1160.3 L391.3,1160.7 L392.6,1160.9 L393.9,1161.1 L395.2,1161.4 L396.5,1161.8 L397.8,1162.3 L399.1,1162.7 L400.4,1163.2 L401.7,1163.8 L403.0,1164.6 L404.4,1165.6 L405.7,1167.0 L407.0,1169.3 L408.3,1172.4 L409.6,1176.1 L410.9,1180.1 L412.2,1184.8 L413.5,1190.0 L414.8,1195.6 L416.1,1201.4 L417.4,1207.4 L418.7,1213.3 L420.0,1219.0 L421.3,1224.8 L422.6,1230.3 L423.9,1235.6 L425.2,1240.7 L426.5,1246.0 L427.8,1251.5 L429.1,1256.9 L430.4,1261.9 L431.7,1266.3 L433.0,1270.7 L434.3,1274.3 L435.6,1275.9 L436.9,1275.3 L438.2,1274.0 L439.5,1272.0 L440.9,1269.9 L442.2,1267.8 L443.5,1266.1 L444.8,1264.2 L446.1,1262.2 L447.4,1260.3 L448.7,1258.8 L450.0,1258.1 L451.3,1258.4 L452.6,1260.1 L453.9,1262.9 L455.2,1266.6 L456.5,1272.5 L457.8,1280.3 L459.1,1288.9 L460.4,1297.6 L461.7,1306.8 L463.0,1316.3 L464.3,1326.6 L465.6,1337.7 L466.9,1349.5 L468.2,1362.2 L469.5,1375.6 L470.8,1389.4 L472.1,1402.8 L473.4,1415.9 L474.7,1428.9 L476.0,1441.2 L477.3,1452.4 L478.7,1462.9 L480.0,1472.7 L481.3,1481.7 L482.6,1489.7 L483.9,1496.8 L485.2,1503.3 L486.5,1509.1 L487.8,1514.0 L489.1,1518.3 L490.4,1522.3 L491.7,1525.6 L493.0,1528.1 L494.3,1530.1 L495.6,1531.8 L496.9,1533.3 L498.2,1534.6 L499.5,1535.7 L500.8,1536.7 L502.1,1537.5 L503.4,1538.2 L504.7,1538.8 L506.0,1539.2 L507.3,1539.7 L508.6,1540.0 L509.9,1540.3 L511.2,1540.6 L512.5,1540.7 L513.8,1540.9 L515.1,1540.9 L516.5,1540.9 L517.8,1540.8 L519.1,1540.7 L520.4,1540.5 L521.7,1540.3 L523.0,1540.1 L524.3,1539.8 L525.6,1539.6 L526.9,1539.3 L528.2,1539.1 L529.5,1538.8 L530.8,1538.5 L532.1,1538.2 L533.4,1537.9 L534.7,1537.5 L536.0,1537.2 L537.3,1536.9 L538.6,1536.5 L539.9,1536.1 L541.2,1535.7 L542.5,1535.3 L543.8,1534.9 L545.1,1534.5 L546.4,1534.0 L547.7,1533.6 L549.0,1533.1 L550.3,1532.7 L551.6,1532.2 L553.0,1531.7 L554.3,1531.2 L555.6,1530.8 L556.9,1530.2 L558.2,1529.7 L559.5,1529.2 L560.8,1528.6 L562.1,1528.1 L563.4,1527.5 L564.7,1526.9 L566.0,1526.3 L567.3,1525.6 L568.6,1525.0 L569.9,1524.3 L571.2,1523.6 L572.5,1522.8 L573.8,1522.1 L575.1,1521.3 L576.4,1520.5 L577.7,1519.7 L579.0,1518.9 L580.3,1518.0 L581.6,1517.1 L582.9,1516.2 L584.2,1515.3 L585.5,1514.4 L586.8,1513.4 L588.1,1512.4 L589.4,1511.4 L590.8,1510.3 L592.1,1509.2 L593.4,1508.1 L594.7,1507.0 L596.0,1505.8 L597.3,1504.6 L598.6,1503.4 L599.9,1502.2 L601.2,1500.9 L602.5,1499.6 L603.8,1498.3 L605.1,1496.9 L606.4,1495.5 L607.7,1494.1 L609.0,1492.7 L610.3,1491.2 L611.6,1489.7 L612.9,1488.2 L614.2,1486.7 L615.5,1485.1 L616.8,1483.5 L618.1,1481.8 L619.4,1480.2 L620.7,1478.5 L622.0,1476.8 L623.3,1475.1 L624.6,1473.3 L625.9,1471.5 L627.3,1469.7 L628.6,1467.9 L629.9,1466.1 L631.2,1464.2 L632.5,1462.3 L633.8,1460.4 L635.1,1458.5 L636.4,1456.5 L637.7,1454.5 L639.0,1452.5 L640.3,1450.5 L641.6,1448.5 L642.9,1446.5 L644.2,1444.4 L645.5,1442.3 L646.8,1440.2 L648.1,1438.1 L649.4,1436.0 L650.7,1433.8 L652.0,1431.7 L653.3,1429.5 L654.6,1427.3 L655.9,1425.1 L657.2,1422.9 L658.5,1420.7 L659.8,1418.5 L661.1,1416.2 L662.4,1414.0 L663.7,1411.7 L665.1,1409.5 L666.4,1407.2 L667.7,1405.0 L669.0,1402.7 L670.3,1400.4 L671.6,1398.1 L672.9,1395.9 L674.2,1393.6 L675.5,1391.3 L676.8,1389.0 L678.1,1386.7 L679.4,1384.5 L680.7,1382.2 L682.0,1379.9 L683.3,1377.7 L684.6,1375.4 L685.9,1373.1 L687.2,1370.9 L688.5,1368.7 L689.8,1366.4 L691.1,1364.2 L692.4,1362.0 L693.7,1359.8 L695.0,1357.6 L696.3,1355.4 L697.6,1353.3 L698.9,1351.1 L700.2,1349.0 L701.5,1346.9 L702.9,1344.8 L704.2,1342.7 L705.5,1340.7 L706.8,1338.7 L708.1,1336.7 L709.4,1334.7 L710.7,1332.7 L712.0,1330.8 L713.3,1328.8 L714.6,1327.0 L715.9,1325.1 L717.2,1323.3 L718.5,1321.5 L719.8,1319.7 L721.1,1317.9 L722.4,1316.2 L723.7,1314.5 L725.0,1312.9 L726.3,1311.3 L727.6,1309.7 L728.9,1308.1 L730.2,1306.6 L731.5,1305.1 L732.8,1303.7 L734.1,1302.3 L735.4,1300.9 L736.7,1299.6 L738.0,1298.3 L739.4,1297.1 L740.7,1295.9 L742.0,1294.7 L743.3,1293.6 L744.6,1292.5 L745.9,1291.5 L747.2,1290.5 L748.5,1289.6 L749.8,1288.7 L751.1,1287.8 L752.4,1287.0 L753.7,1286.2 L755.0,1285.5 L756.3,1284.9 L757.6,1284.2 L758.9,1283.7 L760.2,1283.1 L761.5,1282.7 L762.8,1282.2 L764.1,1281.9 L765.4,1281.5 L766.7,1281.3 L768.0,1281.0 L769.3,1280.8 L770.6,1280.7 L771.9,1280.6 L773.2,1280.6 L774.5,1280.6 L775.8,1280.6 L777.2,1280.7 L778.5,1280.7 L779.8,1280.8 L781.1,1280.9 L782.4,1281.1 L783.7,1281.3 L785.0,1281.5 L786.3,1281.8 L787.6,1282.1 L788.9,1282.4 L790.2,1282.8 L791.5,1283.2 L792.8,1283.6 L794.1,1284.1 L795.4,1284.6 L796.7,1285.2 L798.0,1285.8 L799.3,1286.5 L800.6,1287.2 L801.9,1287.9 L803.2,1288.7 L804.5,1289.5 L805.8,1290.4 L807.1,1291.3 L808.4,1292.2 L809.7,1293.2 L811.0,1294.3 L812.3,1295.4 L813.7,1296.5 L815.0,1297.7 L816.3,1298.9 L817.6,1300.2 L818.9,1301.5 L820.2,1302.8 L821.5,1304.2 L822.8,1305.7 L824.1,1307.1 L825.4,1308.7 L826.7,1310.2 L828.0,1311.8 L829.3,1313.5 L830.6,1315.1 L831.9,1316.9 L833.2,1318.6 L834.5,1320.4 L835.8,1322.2 L837.1,1324.1 L838.4,1326.0 L839.7,1327.9 L841.0,1329.9 L842.3,1331.9 L843.6,1334.0 L844.9,1336.0 L846.2,1338.1 L847.5,1340.2 L848.8,1342.4 L850.1,1344.6 L851.5,1346.8 L852.8,1349.0 L854.1,1351.2 L855.4,1353.5 L856.7,1355.8 L858.0,1358.1 L859.3,1360.5 L860.6,1362.8 L861.9,1365.2 L863.2,1367.6 L864.5,1370.0 L865.8,1372.4 L867.1,1374.8 L868.4,1377.2 L869.7,1379.7 L871.0,1382.1 L872.3,1384.6 L873.6,1387.0 L874.9,1389.5 L876.2,1391.9 L877.5,1394.4 L878.8,1396.8 L880.1,1399.3 L881.4,1401.7 L882.7,1404.2 L884.0,1406.6 L885.3,1409.0 L886.6,1411.4 L888.0,1413.8 L889.3,1416.2 L890.6,1418.6 L891.9,1420.9 L893.2,1423.3 L894.5,1425.6 L895.8,1427.9 L897.1,1430.2 L898.4,1432.5 L899.7,1434.7 L901.0,1436.9 L902.3,1439.1 L903.6,1441.3 L904.9,1443.4 L906.2,1445.5 L907.5,1447.6 L908.8,1449.7 L910.1,1451.7 L911.4,1453.7 L912.7,1455.7 L914.0,1457.6 L915.3,1459.5 L916.6,1461.4 L917.9,1463.3 L919.2,1465.1 L920.5,1466.9 L921.8,1468.7 L923.1,1470.4 L924.4,1472.1 L925.8,1473.8 L927.1,1475.5 L928.4,1477.1 L929.7,1478.7 L931.0,1480.3 L932.3,1481.8 L933.6,1483.4 L934.9,1484.9 L936.2,1486.4 L937.5,1487.9 L938.8,1489.4 L940.1,1490.9 L941.4,1492.3 L942.7,1493.8 L944.0,1495.2 L945.3,1496.6 L946.6,1498.0 L947.9,1499.4 L949.2,1500.7 L950.5,1502.1 L951.8,1503.4 L953.1,1504.8 L954.4,1506.1 L955.7,1507.5 L957.0,1508.8 L958.3,1510.1 L959.6,1511.4 L960.9,1512.7 L962.2,1514.0 L963.6,1515.3 L964.9,1516.6 L966.2,1517.9 L967.5,1519.1 L968.8,1520.4 L970.1,1521.7 L971.4,1522.9 L972.7,1524.1 L974.0,1525.4 L975.3,1526.6 L976.6,1527.8 L977.9,1529.0 L979.2,1530.2 L980.5,1531.4 L981.8,1532.6 L983.1,1533.7 L984.4,1534.9 L985.7,1536.0 L987.0,1537.1 L988.3,1538.2 L989.6,1539.3 L990.9,1540.4 L992.2,1541.4 L993.5,1542.5 L994.8,1543.5 L996.1,1544.4 L997.4,1545.4 L998.7,1546.3 L1000.1,1547.3 L1001.4,1548.2 L1002.7,1549.0 L1004.0,1549.9 L1005.3,1550.7 L1006.6,1551.5 L1007.9,1552.3 L1009.2,1553.1 L1010.5,1553.8 L1011.8,1554.5 L1013.1,1555.2 L1014.4,1555.9 L1015.7,1556.5 L1017.0,1557.1 L1018.3,1557.7 L1019.6,1558.3 L1020.9,1558.8 L1022.2,1559.3 L1023.5,1559.9 L1024.8,1560.3 L1026.1,1560.8 L1027.4,1561.3 L1028.7,1561.7 L1030.0,1562.1 L1031.3,1562.5 L1032.6,1562.8 L1033.9,1563.2 L1035.2,1563.5 L1036.5,1563.9 L1037.9,1564.2 L1039.2,1564.5 L1040.5,1564.7 L1041.8,1565.0 L1043.1,1565.3 L1044.4,1565.5 L1045.7,1565.7 L1047.0,1565.9 L1048.3,1566.2 L1049.6,1566.4 L1050.9,1566.5 L1052.2,1566.7 L1053.5,1566.9 L1054.8,1567.1 L1056.1,1567.2 L1057.4,1567.4 L1058.7,1567.5 L1060.0,1567.6 L1061.3,1567.8 L1062.6,1567.9 L1063.9,1568.0 L1065.2,1568.1 L1066.5,1568.2 L1067.8,1568.3 L1069.1,1568.4 L1070.4,1568.5 L1071.7,1568.6 L1073.0,1568.7 L1074.4,1568.8 L1075.7,1568.8 L1077.0,1568.9 L1078.3,1569.0 L1079.6,1569.1 L1080.9,1569.1 L1082.2,1569.2 L1083.5,1569.3 L1084.8,1569.3 L1086.1,1569.4 L1087.4,1569.4 L1088.7,1569.5 L1090.0,1569.6 L1091.3,1569.6 L1092.6,1569.7" stroke="#4a6fb3" stroke-width="6.2"/>
<path d="M310.5,1225.9 L311.8,1223.7 L313.1,1221.4 L314.4,1219.0 L315.7,1216.5 L317.0,1213.9 L318.3,1211.2 L319.6,1208.4 L320.9,1205.4 L322.2,1202.4 L323.5,1199.3 L324.8,1196.0 L326.1,1192.7 L327.4,1189.2 L328.7,1185.7 L330.1,1182.1 L331.4,1178.3 L332.7,1174.5 L334.0,1170.7 L335.3,1166.7 L336.6,1162.5 L337.9,1158.2 L339.2,1153.7 L340.5,1149.1 L341.8,1144.3 L343.1,1139.6 L344.4,1134.7 L345.7,1129.9 L347.0,1125.0 L348.3,1120.2 L349.6,1115.4 L350.9,1110.6 L352.2,1105.8 L353.5,1100.9 L354.8,1095.9 L356.1,1091.0 L357.4,1086.1 L358.7,1081.2 L360.0,1076.3 L361.3,1071.3 L362.6,1065.5 L363.9,1059.2 L365.2,1053.1 L366.6,1048.1 L367.9,1044.7 L369.2,1043.8 L370.5,1044.4 L371.8,1045.7 L373.1,1047.4 L374.4,1049.5 L375.7,1051.6 L377.0,1054.7 L378.3,1058.7 L379.6,1063.3 L380.9,1067.8 L382.2,1071.9 L383.5,1075.3 L384.8,1078.8 L386.1,1082.0 L387.4,1084.7 L388.7,1086.5 L390.0,1087.6 L391.3,1088.5 L392.6,1089.2 L393.9,1089.8 L395.2,1090.6 L396.5,1091.5 L397.8,1092.5 L399.1,1093.4 L400.4,1094.5 L401.7,1095.7 L403.0,1097.1 L404.4,1098.8 L405.7,1101.0 L407.0,1104.3 L408.3,1108.4 L409.6,1113.1 L410.9,1118.0 L412.2,1123.6 L413.5,1130.0 L414.8,1136.9 L416.1,1144.0 L417.4,1150.8 L418.7,1157.2 L420.0,1163.5 L421.3,1169.7 L422.6,1175.9 L423.9,1182.2 L425.2,1188.5 L426.5,1195.2 L427.8,1202.3 L429.1,1209.4 L430.4,1215.8 L431.7,1221.4 L433.0,1227.3 L434.3,1232.2 L435.6,1234.2 L436.9,1233.4 L438.2,1231.5 L439.5,1228.8 L440.9,1225.8 L442.2,1222.9 L443.5,1220.5 L444.8,1217.9 L446.1,1215.0 L447.4,1212.4 L448.7,1210.4 L450.0,1209.4 L451.3,1209.9 L452.6,1212.2 L453.9,1215.6 L455.2,1219.8 L456.5,1227.2 L457.8,1236.9 L459.1,1246.8 L460.4,1256.5 L461.7,1266.8 L463.0,1277.8 L464.3,1289.6 L465.6,1302.5 L466.9,1316.4 L468.2,1331.6 L469.5,1347.9 L470.8,1364.4 L472.1,1380.4 L473.4,1396.1 L474.7,1411.7 L476.0,1426.6 L477.3,1440.1 L478.7,1452.5 L480.0,1464.2 L481.3,1474.8 L482.6,1484.2 L483.9,1492.6 L485.2,1500.4 L486.5,1507.2 L487.8,1512.9 L489.1,1517.7 L490.4,1522.0 L491.7,1525.5 L493.0,1528.0 L494.3,1529.8 L495.6,1531.3 L496.9,1532.7 L498.2,1533.9 L499.5,1534.9 L500.8,1535.8 L502.1,1536.5 L503.4,1537.0 L504.7,1537.4 L506.0,1537.8 L507.3,1538.0 L508.6,1538.2 L509.9,1538.3 L511.2,1538.4 L512.5,1538.4 L513.8,1538.4 L515.1,1538.3 L516.5,1538.1 L517.8,1537.9 L519.1,1537.6 L520.4,1537.3 L521.7,1536.9 L523.0,1536.5 L524.3,1536.1 L525.6,1535.7 L526.9,1535.3 L528.2,1534.9 L529.5,1534.5 L530.8,1534.0 L532.1,1533.6 L533.4,1533.1 L534.7,1532.7 L536.0,1532.2 L537.3,1531.7 L538.6,1531.2 L539.9,1530.7 L541.2,1530.2 L542.5,1529.6 L543.8,1529.1 L545.1,1528.5 L546.4,1527.9 L547.7,1527.4 L549.0,1526.8 L550.3,1526.2 L551.6,1525.6 L553.0,1525.0 L554.3,1524.3 L555.6,1523.7 L556.9,1523.0 L558.2,1522.4 L559.5,1521.7 L560.8,1521.0 L562.1,1520.3 L563.4,1519.5 L564.7,1518.8 L566.0,1518.0 L567.3,1517.2 L568.6,1516.3 L569.9,1515.5 L571.2,1514.6 L572.5,1513.7 L573.8,1512.7 L575.1,1511.8 L576.4,1510.8 L577.7,1509.8 L579.0,1508.8 L580.3,1507.7 L581.6,1506.6 L582.9,1505.5 L584.2,1504.3 L585.5,1503.1 L586.8,1501.9 L588.1,1500.7 L589.4,1499.4 L590.8,1498.1 L592.1,1496.8 L593.4,1495.4 L594.7,1494.0 L596.0,1492.6 L597.3,1491.1 L598.6,1489.6 L599.9,1488.1 L601.2,1486.5 L602.5,1484.9 L603.8,1483.3 L605.1,1481.6 L606.4,1479.9 L607.7,1478.2 L609.0,1476.4 L610.3,1474.6 L611.6,1472.8 L612.9,1470.9 L614.2,1469.0 L615.5,1467.1 L616.8,1465.1 L618.1,1463.2 L619.4,1461.1 L620.7,1459.1 L622.0,1457.0 L623.3,1454.9 L624.6,1452.8 L625.9,1450.6 L627.3,1448.4 L628.6,1446.2 L629.9,1444.0 L631.2,1441.7 L632.5,1439.4 L633.8,1437.1 L635.1,1434.8 L636.4,1432.4 L637.7,1430.1 L639.0,1427.7 L640.3,1425.2 L641.6,1422.8 L642.9,1420.3 L644.2,1417.9 L645.5,1415.4 L646.8,1412.9 L648.1,1410.3 L649.4,1407.8 L650.7,1405.2 L652.0,1402.7 L653.3,1400.1 L654.6,1397.5 L655.9,1394.9 L657.2,1392.3 L658.5,1389.6 L659.8,1387.0 L661.1,1384.4 L662.4,1381.7 L663.7,1379.1 L665.1,1376.4 L666.4,1373.8 L667.7,1371.1 L669.0,1368.5 L670.3,1365.8 L671.6,1363.1 L672.9,1360.5 L674.2,1357.8 L675.5,1355.2 L676.8,1352.5 L678.1,1349.9 L679.4,1347.3 L680.7,1344.7 L682.0,1342.0 L683.3,1339.4 L684.6,1336.8 L685.9,1334.3 L687.2,1331.7 L688.5,1329.2 L689.8,1326.6 L691.1,1324.1 L692.4,1321.6 L693.7,1319.1 L695.0,1316.7 L696.3,1314.2 L697.6,1311.8 L698.9,1309.4 L700.2,1307.1 L701.5,1304.7 L702.9,1302.4 L704.2,1300.1 L705.5,1297.9 L706.8,1295.7 L708.1,1293.5 L709.4,1291.3 L710.7,1289.2 L712.0,1287.1 L713.3,1285.1 L714.6,1283.0 L715.9,1281.1 L717.2,1279.1 L718.5,1277.2 L719.8,1275.3 L721.1,1273.5 L722.4,1271.8 L723.7,1270.0 L725.0,1268.3 L726.3,1266.7 L727.6,1265.1 L728.9,1263.5 L730.2,1262.0 L731.5,1260.6 L732.8,1259.2 L734.1,1257.8 L735.4,1256.5 L736.7,1255.3 L738.0,1254.1 L739.4,1252.9 L740.7,1251.8 L742.0,1250.8 L743.3,1249.8 L744.6,1248.8 L745.9,1248.0 L747.2,1247.1 L748.5,1246.4 L749.8,1245.7 L751.1,1245.0 L752.4,1244.4 L753.7,1243.9 L755.0,1243.4 L756.3,1243.0 L757.6,1242.6 L758.9,1242.3 L760.2,1242.1 L761.5,1241.9 L762.8,1241.8 L764.1,1241.7 L765.4,1241.7 L766.7,1241.7 L768.0,1241.7 L769.3,1241.8 L770.6,1241.9 L771.9,1242.0 L773.2,1242.1 L774.5,1242.3 L775.8,1242.5 L777.2,1242.7 L778.5,1243.0 L779.8,1243.4 L781.1,1243.7 L782.4,1244.1 L783.7,1244.6 L785.0,1245.1 L786.3,1245.6 L787.6,1246.2 L788.9,1246.9 L790.2,1247.6 L791.5,1248.3 L792.8,1249.1 L794.1,1250.0 L795.4,1250.9 L796.7,1251.8 L798.0,1252.8 L799.3,1253.9 L800.6,1255.0 L801.9,1256.2 L803.2,1257.4 L804.5,1258.7 L805.8,1260.0 L807.1,1261.4 L808.4,1262.9 L809.7,1264.4 L811.0,1265.9 L812.3,1267.5 L813.7,1269.2 L815.0,1270.9 L816.3,1272.7 L817.6,1274.5 L818.9,1276.4 L820.2,1278.3 L821.5,1280.3 L822.8,1282.3 L824.1,1284.4 L825.4,1286.5 L826.7,1288.6 L828.0,1290.9 L829.3,1293.1 L830.6,1295.4 L831.9,1297.8 L833.2,1300.2 L834.5,1302.6 L835.8,1305.1 L837.1,1307.6 L838.4,1310.2 L839.7,1312.8 L841.0,1315.4 L842.3,1318.1 L843.6,1320.8 L844.9,1323.6 L846.2,1326.3 L847.5,1329.1 L848.8,1332.0 L850.1,1334.8 L851.5,1337.7 L852.8,1340.6 L854.1,1343.5 L855.4,1346.5 L856.7,1349.4 L858.0,1352.4 L859.3,1355.4 L860.6,1358.4 L861.9,1361.4 L863.2,1364.4 L864.5,1367.5 L865.8,1370.5 L867.1,1373.6 L868.4,1376.6 L869.7,1379.7 L871.0,1382.7 L872.3,1385.8 L873.6,1388.8 L874.9,1391.9 L876.2,1394.9 L877.5,1397.9 L878.8,1400.9 L880.1,1403.9 L881.4,1406.9 L882.7,1409.9 L884.0,1412.8 L885.3,1415.8 L886.6,1418.7 L888.0,1421.6 L889.3,1424.4 L890.6,1427.3 L891.9,1430.1 L893.2,1432.8 L894.5,1435.6 L895.8,1438.3 L897.1,1441.0 L898.4,1443.7 L899.7,1446.3 L901.0,1448.9 L902.3,1451.4 L903.6,1453.9 L904.9,1456.4 L906.2,1458.8 L907.5,1461.2 L908.8,1463.5 L910.1,1465.8 L911.4,1468.1 L912.7,1470.3 L914.0,1472.5 L915.3,1474.7 L916.6,1476.8 L917.9,1478.8 L919.2,1480.8 L920.5,1482.8 L921.8,1484.7 L923.1,1486.6 L924.4,1488.5 L925.8,1490.3 L927.1,1492.1 L928.4,1493.8 L929.7,1495.5 L931.0,1497.2 L932.3,1498.8 L933.6,1500.4 L934.9,1501.9 L936.2,1503.5 L937.5,1505.0 L938.8,1506.5 L940.1,1507.9 L941.4,1509.3 L942.7,1510.8 L944.0,1512.1 L945.3,1513.5 L946.6,1514.8 L947.9,1516.1 L949.2,1517.4 L950.5,1518.6 L951.8,1519.9 L953.1,1521.1 L954.4,1522.3 L955.7,1523.5 L957.0,1524.7 L958.3,1525.8 L959.6,1527.0 L960.9,1528.1 L962.2,1529.2 L963.6,1530.3 L964.9,1531.4 L966.2,1532.4 L967.5,1533.5 L968.8,1534.5 L970.1,1535.5 L971.4,1536.6 L972.7,1537.6 L974.0,1538.5 L975.3,1539.5 L976.6,1540.5 L977.9,1541.4 L979.2,1542.4 L980.5,1543.3 L981.8,1544.2 L983.1,1545.1 L984.4,1546.0 L985.7,1546.8 L987.0,1547.7 L988.3,1548.5 L989.6,1549.3 L990.9,1550.1 L992.2,1550.9 L993.5,1551.6 L994.8,1552.4 L996.1,1553.1 L997.4,1553.8 L998.7,1554.5 L1000.1,1555.1 L1001.4,1555.8 L1002.7,1556.4 L1004.0,1557.0 L1005.3,1557.6 L1006.6,1558.2 L1007.9,1558.7 L1009.2,1559.3 L1010.5,1559.8 L1011.8,1560.3 L1013.1,1560.7 L1014.4,1561.2 L1015.7,1561.6 L1017.0,1562.1 L1018.3,1562.5 L1019.6,1562.8 L1020.9,1563.2 L1022.2,1563.6 L1023.5,1563.9 L1024.8,1564.2 L1026.1,1564.5 L1027.4,1564.8 L1028.7,1565.1 L1030.0,1565.4 L1031.3,1565.6 L1032.6,1565.8 L1033.9,1566.1 L1035.2,1566.3 L1036.5,1566.5 L1037.9,1566.7 L1039.2,1566.9 L1040.5,1567.0 L1041.8,1567.2 L1043.1,1567.3 L1044.4,1567.5 L1045.7,1567.6 L1047.0,1567.8 L1048.3,1567.9 L1049.6,1568.0 L1050.9,1568.1 L1052.2,1568.2 L1053.5,1568.3 L1054.8,1568.4 L1056.1,1568.5 L1057.4,1568.6 L1058.7,1568.7 L1060.0,1568.7 L1061.3,1568.8 L1062.6,1568.9 L1063.9,1568.9 L1065.2,1569.0 L1066.5,1569.1 L1067.8,1569.1 L1069.1,1569.2 L1070.4,1569.2 L1071.7,1569.3 L1073.0,1569.3 L1074.4,1569.4 L1075.7,1569.4 L1077.0,1569.5 L1078.3,1569.5 L1079.6,1569.6 L1080.9,1569.6 L1082.2,1569.6 L1083.5,1569.7 L1084.8,1569.7 L1086.1,1569.8 L1087.4,1569.8 L1088.7,1569.8 L1090.0,1569.9 L1091.3,1569.9 L1092.6,1569.9" stroke="#2f4a9c" stroke-width="6.2"/>
<path d="M310.5,1182.1 L311.8,1179.6 L313.1,1177.1 L314.4,1174.4 L315.7,1171.5 L317.0,1168.6 L318.3,1165.6 L319.6,1162.4 L320.9,1159.1 L322.2,1155.7 L323.5,1152.1 L324.8,1148.5 L326.1,1144.7 L327.4,1140.8 L328.7,1136.8 L330.1,1132.7 L331.4,1128.5 L332.7,1124.3 L334.0,1119.9 L335.3,1115.4 L336.6,1110.7 L337.9,1105.8 L339.2,1100.7 L340.5,1095.5 L341.8,1090.2 L343.1,1084.8 L344.4,1079.4 L345.7,1073.9 L347.0,1068.5 L348.3,1063.0 L349.6,1057.7 L350.9,1052.2 L352.2,1046.8 L353.5,1041.2 L354.8,1035.7 L356.1,1030.1 L357.4,1024.6 L358.7,1019.0 L360.0,1013.5 L361.3,1008.0 L362.6,1001.4 L363.9,994.2 L365.2,987.4 L366.6,986.7 L367.9,986.7 L369.2,986.7 L370.5,986.7 L371.8,986.7 L373.1,986.7 L374.4,986.7 L375.7,986.7 L377.0,989.2 L378.3,993.8 L379.6,998.9 L380.9,1004.0 L382.2,1008.6 L383.5,1012.5 L384.8,1016.3 L386.1,1020.0 L387.4,1023.0 L388.7,1025.1 L390.0,1026.3 L391.3,1027.3 L392.6,1028.1 L393.9,1028.8 L395.2,1029.6 L396.5,1030.7 L397.8,1031.8 L399.1,1032.9 L400.4,1034.1 L401.7,1035.5 L403.0,1037.1 L404.4,1039.0 L405.7,1041.4 L407.0,1045.1 L408.3,1049.8 L409.6,1055.1 L410.9,1060.6 L412.2,1066.9 L413.5,1074.2 L414.8,1082.0 L416.1,1089.9 L417.4,1097.6 L418.7,1104.8 L420.0,1111.9 L421.3,1118.9 L422.6,1125.9 L423.9,1132.9 L425.2,1140.1 L426.5,1147.7 L427.8,1155.7 L429.1,1163.6 L430.4,1170.9 L431.7,1177.2 L433.0,1183.9 L434.3,1189.4 L435.6,1191.6 L436.9,1190.8 L438.2,1188.6 L439.5,1185.5 L440.9,1182.2 L442.2,1178.9 L443.5,1176.2 L444.8,1173.2 L446.1,1170.0 L447.4,1167.1 L448.7,1164.8 L450.0,1163.7 L451.3,1164.3 L452.6,1166.9 L453.9,1170.7 L455.2,1175.5 L456.5,1183.9 L457.8,1194.8 L459.1,1205.9 L460.4,1216.9 L461.7,1228.5 L463.0,1240.9 L464.3,1254.3 L465.6,1268.8 L466.9,1284.5 L468.2,1301.6 L469.5,1320.0 L470.8,1338.7 L472.1,1356.7 L473.4,1374.4 L474.7,1392.0 L476.0,1408.8 L477.3,1424.1 L478.7,1438.1 L480.0,1451.2 L481.3,1463.2 L482.6,1473.8 L483.9,1483.3 L485.2,1492.1 L486.5,1499.8 L487.8,1506.1 L489.1,1511.6 L490.4,1516.5 L491.7,1520.4 L493.0,1523.2 L494.3,1525.2 L495.6,1527.0 L496.9,1528.5 L498.2,1529.9 L499.5,1531.0 L500.8,1532.0 L502.1,1532.7 L503.4,1533.4 L504.7,1533.9 L506.0,1534.2 L507.3,1534.5 L508.6,1534.7 L509.9,1534.8 L511.2,1534.9 L512.5,1534.9 L513.8,1534.9 L515.1,1534.8 L516.5,1534.6 L517.8,1534.3 L519.1,1534.0 L520.4,1533.6 L521.7,1533.2 L523.0,1532.7 L524.3,1532.3 L525.6,1531.8 L526.9,1531.4 L528.2,1530.9 L529.5,1530.4 L530.8,1529.9 L532.1,1529.4 L533.4,1528.8 L534.7,1528.3 L536.0,1527.7 L537.3,1527.2 L538.6,1526.6 L539.9,1526.0 L541.2,1525.4 L542.5,1524.8 L543.8,1524.1 L545.1,1523.5 L546.4,1522.8 L547.7,1522.1 L549.0,1521.4 L550.3,1520.8 L551.6,1520.1 L553.0,1519.3 L554.3,1518.6 L555.6,1517.9 L556.9,1517.1 L558.2,1516.3 L559.5,1515.5 L560.8,1514.7 L562.1,1513.8 L563.4,1513.0 L564.7,1512.1 L566.0,1511.1 L567.3,1510.2 L568.6,1509.2 L569.9,1508.2 L571.2,1507.2 L572.5,1506.1 L573.8,1505.0 L575.1,1503.9 L576.4,1502.7 L577.7,1501.5 L579.0,1500.3 L580.3,1499.0 L581.6,1497.8 L582.9,1496.4 L584.2,1495.1 L585.5,1493.7 L586.8,1492.3 L588.1,1490.8 L589.4,1489.3 L590.8,1487.8 L592.1,1486.2 L593.4,1484.6 L594.7,1482.9 L596.0,1481.2 L597.3,1479.5 L598.6,1477.7 L599.9,1475.9 L601.2,1474.1 L602.5,1472.2 L603.8,1470.3 L605.1,1468.3 L606.4,1466.3 L607.7,1464.3 L609.0,1462.2 L610.3,1460.1 L611.6,1457.9 L612.9,1455.7 L614.2,1453.5 L615.5,1451.3 L616.8,1449.0 L618.1,1446.6 L619.4,1444.3 L620.7,1441.9 L622.0,1439.4 L623.3,1437.0 L624.6,1434.5 L625.9,1431.9 L627.3,1429.4 L628.6,1426.8 L629.9,1424.2 L631.2,1421.5 L632.5,1418.8 L633.8,1416.1 L635.1,1413.4 L636.4,1410.6 L637.7,1407.9 L639.0,1405.1 L640.3,1402.2 L641.6,1399.4 L642.9,1396.5 L644.2,1393.6 L645.5,1390.7 L646.8,1387.8 L648.1,1384.9 L649.4,1381.9 L650.7,1378.9 L652.0,1376.0 L653.3,1373.0 L654.6,1370.0 L655.9,1366.9 L657.2,1363.9 L658.5,1360.9 L659.8,1357.8 L661.1,1354.8 L662.4,1351.7 L663.7,1348.7 L665.1,1345.6 L666.4,1342.6 L667.7,1339.5 L669.0,1336.5 L670.3,1333.4 L671.6,1330.4 L672.9,1327.4 L674.2,1324.3 L675.5,1321.3 L676.8,1318.3 L678.1,1315.3 L679.4,1312.3 L680.7,1309.3 L682.0,1306.4 L683.3,1303.4 L684.6,1300.5 L685.9,1297.6 L687.2,1294.7 L688.5,1291.9 L689.8,1289.0 L691.1,1286.2 L692.4,1283.4 L693.7,1280.7 L695.0,1277.9 L696.3,1275.2 L697.6,1272.5 L698.9,1269.9 L700.2,1267.3 L701.5,1264.7 L702.9,1262.2 L704.2,1259.7 L705.5,1257.3 L706.8,1254.8 L708.1,1252.5 L709.4,1250.1 L710.7,1247.9 L712.0,1245.6 L713.3,1243.4 L714.6,1241.3 L715.9,1239.2 L717.2,1237.1 L718.5,1235.1 L719.8,1233.2 L721.1,1231.3 L722.4,1229.5 L723.7,1227.7 L725.0,1226.0 L726.3,1224.3 L727.6,1222.7 L728.9,1221.1 L730.2,1219.6 L731.5,1218.2 L732.8,1216.9 L734.1,1215.5 L735.4,1214.3 L736.7,1213.1 L738.0,1212.0 L739.4,1211.0 L740.7,1210.0 L742.0,1209.1 L743.3,1208.2 L744.6,1207.4 L745.9,1206.7 L747.2,1206.1 L748.5,1205.5 L749.8,1205.0 L751.1,1204.5 L752.4,1204.2 L753.7,1203.9 L755.0,1203.6 L756.3,1203.5 L757.6,1203.4 L758.9,1203.4 L760.2,1203.4 L761.5,1203.4 L762.8,1203.4 L764.1,1203.5 L765.4,1203.6 L766.7,1203.7 L768.0,1203.9 L769.3,1204.1 L770.6,1204.4 L771.9,1204.6 L773.2,1205.0 L774.5,1205.4 L775.8,1205.8 L777.2,1206.3 L778.5,1206.8 L779.8,1207.4 L781.1,1208.1 L782.4,1208.8 L783.7,1209.5 L785.0,1210.4 L786.3,1211.3 L787.6,1212.2 L788.9,1213.2 L790.2,1214.3 L791.5,1215.5 L792.8,1216.7 L794.1,1217.9 L795.4,1219.3 L796.7,1220.7 L798.0,1222.2 L799.3,1223.7 L800.6,1225.4 L801.9,1227.1 L803.2,1228.8 L804.5,1230.6 L805.8,1232.5 L807.1,1234.5 L808.4,1236.5 L809.7,1238.6 L811.0,1240.8 L812.3,1243.0 L813.7,1245.3 L815.0,1247.7 L816.3,1250.2 L817.6,1252.7 L818.9,1255.2 L820.2,1257.8 L821.5,1260.5 L822.8,1263.3 L824.1,1266.1 L825.4,1269.0 L826.7,1271.9 L828.0,1274.9 L829.3,1277.9 L830.6,1281.0 L831.9,1284.1 L833.2,1287.3 L834.5,1290.5 L835.8,1293.8 L837.1,1297.1 L838.4,1300.5 L839.7,1303.9 L841.0,1307.3 L842.3,1310.8 L843.6,1314.3 L844.9,1317.8 L846.2,1321.4 L847.5,1325.0 L848.8,1328.6 L850.1,1332.2 L851.5,1335.9 L852.8,1339.6 L854.1,1343.3 L855.4,1347.0 L856.7,1350.7 L858.0,1354.4 L859.3,1358.2 L860.6,1361.9 L861.9,1365.7 L863.2,1369.4 L864.5,1373.2 L865.8,1376.9 L867.1,1380.6 L868.4,1384.3 L869.7,1388.0 L871.0,1391.7 L872.3,1395.4 L873.6,1399.1 L874.9,1402.7 L876.2,1406.3 L877.5,1409.9 L878.8,1413.5 L880.1,1417.0 L881.4,1420.5 L882.7,1424.0 L884.0,1427.4 L885.3,1430.8 L886.6,1434.2 L888.0,1437.5 L889.3,1440.8 L890.6,1444.0 L891.9,1447.2 L893.2,1450.3 L894.5,1453.4 L895.8,1456.5 L897.1,1459.5 L898.4,1462.4 L899.7,1465.3 L901.0,1468.2 L902.3,1471.0 L903.6,1473.7 L904.9,1476.4 L906.2,1479.0 L907.5,1481.6 L908.8,1484.1 L910.1,1486.6 L911.4,1489.0 L912.7,1491.3 L914.0,1493.6 L915.3,1495.8 L916.6,1498.0 L917.9,1500.1 L919.2,1502.2 L920.5,1504.2 L921.8,1506.1 L923.1,1508.0 L924.4,1509.9 L925.8,1511.7 L927.1,1513.4 L928.4,1515.1 L929.7,1516.7 L931.0,1518.3 L932.3,1519.9 L933.6,1521.4 L934.9,1522.8 L936.2,1524.2 L937.5,1525.6 L938.8,1527.0 L940.1,1528.3 L941.4,1529.5 L942.7,1530.8 L944.0,1531.9 L945.3,1533.1 L946.6,1534.2 L947.9,1535.3 L949.2,1536.4 L950.5,1537.4 L951.8,1538.4 L953.1,1539.3 L954.4,1540.3 L955.7,1541.2 L957.0,1542.1 L958.3,1543.0 L959.6,1543.8 L960.9,1544.6 L962.2,1545.4 L963.6,1546.2 L964.9,1547.0 L966.2,1547.7 L967.5,1548.4 L968.8,1549.1 L970.1,1549.8 L971.4,1550.5 L972.7,1551.1 L974.0,1551.8 L975.3,1552.4 L976.6,1553.0 L977.9,1553.6 L979.2,1554.2 L980.5,1554.8 L981.8,1555.3 L983.1,1555.9 L984.4,1556.4 L985.7,1556.9 L987.0,1557.4 L988.3,1557.9 L989.6,1558.4 L990.9,1558.9 L992.2,1559.3 L993.5,1559.8 L994.8,1560.2 L996.1,1560.6 L997.4,1561.0 L998.7,1561.4 L1000.1,1561.8 L1001.4,1562.1 L1002.7,1562.5 L1004.0,1562.8 L1005.3,1563.1 L1006.6,1563.4 L1007.9,1563.8 L1009.2,1564.0 L1010.5,1564.3 L1011.8,1564.6 L1013.1,1564.8 L1014.4,1565.1 L1015.7,1565.3 L1017.0,1565.6 L1018.3,1565.8 L1019.6,1566.0 L1020.9,1566.2 L1022.2,1566.4 L1023.5,1566.5 L1024.8,1566.7 L1026.1,1566.9 L1027.4,1567.0 L1028.7,1567.2 L1030.0,1567.3 L1031.3,1567.4 L1032.6,1567.6 L1033.9,1567.7 L1035.2,1567.8 L1036.5,1567.9 L1037.9,1568.0 L1039.2,1568.1 L1040.5,1568.2 L1041.8,1568.3 L1043.1,1568.4 L1044.4,1568.4 L1045.7,1568.5 L1047.0,1568.6 L1048.3,1568.7 L1049.6,1568.7 L1050.9,1568.8 L1052.2,1568.8 L1053.5,1568.9 L1054.8,1569.0 L1056.1,1569.0 L1057.4,1569.1 L1058.7,1569.1 L1060.0,1569.1 L1061.3,1569.2 L1062.6,1569.2 L1063.9,1569.3 L1065.2,1569.3 L1066.5,1569.4 L1067.8,1569.4 L1069.1,1569.4 L1070.4,1569.5 L1071.7,1569.5 L1073.0,1569.5 L1074.4,1569.6 L1075.7,1569.6 L1077.0,1569.6 L1078.3,1569.7 L1079.6,1569.7 L1080.9,1569.7 L1082.2,1569.8 L1083.5,1569.8 L1084.8,1569.8 L1086.1,1569.8 L1087.4,1569.9 L1088.7,1569.9 L1090.0,1569.9 L1091.3,1570.0 L1092.6,1570.0" stroke="#22218a" stroke-width="6.2"/>
<path d="M310.5,1142.3 L311.8,1139.6 L313.1,1136.7 L314.4,1133.7 L315.7,1130.6 L317.0,1127.4 L318.3,1124.0 L319.6,1120.5 L320.9,1116.9 L322.2,1113.1 L323.5,1109.2 L324.8,1105.2 L326.1,1101.0 L327.4,1096.8 L328.7,1092.4 L330.1,1087.8 L331.4,1083.2 L332.7,1078.5 L334.0,1073.7 L335.3,1068.7 L336.6,1063.5 L337.9,1058.1 L339.2,1052.6 L340.5,1046.8 L341.8,1041.0 L343.1,1035.0 L344.4,1029.0 L345.7,1023.0 L347.0,1017.0 L348.3,1011.0 L349.6,1005.1 L350.9,999.1 L352.2,993.0 L353.5,986.9 L354.8,986.7 L356.1,986.7 L357.4,986.7 L358.7,986.7 L360.0,986.7 L361.3,986.7 L362.6,986.7 L363.9,986.7 L365.2,986.7 L366.6,986.7 L367.9,986.7 L369.2,986.7 L370.5,986.7 L371.8,986.7 L373.1,986.7 L374.4,986.7 L375.7,986.7 L377.0,986.7 L378.3,986.7 L379.6,986.7 L380.9,986.7 L382.2,986.7 L383.5,986.7 L384.8,986.7 L386.1,986.7 L387.4,986.7 L388.7,986.7 L390.0,986.7 L391.3,986.7 L392.6,986.7 L393.9,986.7 L395.2,986.7 L396.5,986.7 L397.8,986.7 L399.1,986.7 L400.4,986.7 L401.7,986.7 L403.0,986.7 L404.4,986.7 L405.7,987.2 L407.0,991.2 L408.3,996.4 L409.6,1002.2 L410.9,1008.3 L412.2,1015.3 L413.5,1023.3 L414.8,1031.9 L416.1,1040.6 L417.4,1049.1 L418.7,1057.1 L420.0,1064.9 L421.3,1072.6 L422.6,1080.3 L423.9,1088.1 L425.2,1096.0 L426.5,1104.3 L427.8,1113.1 L429.1,1121.9 L430.4,1129.9 L431.7,1136.9 L433.0,1144.2 L434.3,1150.3 L435.6,1152.8 L436.9,1151.8 L438.2,1149.4 L439.5,1146.1 L440.9,1142.3 L442.2,1138.8 L443.5,1135.8 L444.8,1132.5 L446.1,1129.0 L447.4,1125.7 L448.7,1123.3 L450.0,1122.0 L451.3,1122.7 L452.6,1125.5 L453.9,1129.7 L455.2,1135.0 L456.5,1144.2 L457.8,1156.2 L459.1,1168.6 L460.4,1180.6 L461.7,1193.5 L463.0,1207.2 L464.3,1221.9 L465.6,1238.0 L466.9,1255.2 L468.2,1274.1 L469.5,1294.4 L470.8,1315.0 L472.1,1334.9 L473.4,1354.4 L474.7,1373.8 L476.0,1392.3 L477.3,1409.2 L478.7,1424.6 L480.0,1439.1 L481.3,1452.3 L482.6,1464.0 L483.9,1474.5 L485.2,1484.1 L486.5,1492.6 L487.8,1499.6 L489.1,1505.6 L490.4,1511.0 L491.7,1515.3 L493.0,1518.4 L494.3,1520.6 L495.6,1522.5 L496.9,1524.2 L498.2,1525.7 L499.5,1526.9 L500.8,1527.9 L502.1,1528.8 L503.4,1529.4 L504.7,1530.0 L506.0,1530.3 L507.3,1530.6 L508.6,1530.8 L509.9,1530.9 L511.2,1531.0 L512.5,1531.0 L513.8,1530.9 L515.1,1530.8 L516.5,1530.6 L517.8,1530.2 L519.1,1529.8 L520.4,1529.4 L521.7,1528.9 L523.0,1528.4 L524.3,1527.9 L525.6,1527.3 L526.9,1526.8 L528.2,1526.2 L529.5,1525.6 L530.8,1525.1 L532.1,1524.4 L533.4,1523.8 L534.7,1523.2 L536.0,1522.5 L537.3,1521.9 L538.6,1521.2 L539.9,1520.5 L541.2,1519.8 L542.5,1519.1 L543.8,1518.3 L545.1,1517.6 L546.4,1516.8 L547.7,1516.0 L549.0,1515.2 L550.3,1514.4 L551.6,1513.6 L553.0,1512.8 L554.3,1511.9 L555.6,1511.0 L556.9,1510.2 L558.2,1509.2 L559.5,1508.3 L560.8,1507.3 L562.1,1506.4 L563.4,1505.3 L564.7,1504.3 L566.0,1503.2 L567.3,1502.1 L568.6,1501.0 L569.9,1499.8 L571.2,1498.6 L572.5,1497.3 L573.8,1496.1 L575.1,1494.7 L576.4,1493.4 L577.7,1492.0 L579.0,1490.6 L580.3,1489.1 L581.6,1487.6 L582.9,1486.1 L584.2,1484.5 L585.5,1482.9 L586.8,1481.3 L588.1,1479.6 L589.4,1477.8 L590.8,1476.1 L592.1,1474.2 L593.4,1472.4 L594.7,1470.5 L596.0,1468.5 L597.3,1466.5 L598.6,1464.5 L599.9,1462.4 L601.2,1460.2 L602.5,1458.1 L603.8,1455.8 L605.1,1453.6 L606.4,1451.3 L607.7,1448.9 L609.0,1446.5 L610.3,1444.1 L611.6,1441.6 L612.9,1439.1 L614.2,1436.5 L615.5,1433.9 L616.8,1431.3 L618.1,1428.6 L619.4,1425.9 L620.7,1423.2 L622.0,1420.4 L623.3,1417.5 L624.6,1414.7 L625.9,1411.8 L627.3,1408.8 L628.6,1405.9 L629.9,1402.9 L631.2,1399.8 L632.5,1396.8 L633.8,1393.7 L635.1,1390.6 L636.4,1387.4 L637.7,1384.2 L639.0,1381.0 L640.3,1377.8 L641.6,1374.6 L642.9,1371.3 L644.2,1368.0 L645.5,1364.7 L646.8,1361.4 L648.1,1358.1 L649.4,1354.7 L650.7,1351.3 L652.0,1347.9 L653.3,1344.6 L654.6,1341.2 L655.9,1337.7 L657.2,1334.3 L658.5,1330.9 L659.8,1327.5 L661.1,1324.0 L662.4,1320.6 L663.7,1317.2 L665.1,1313.7 L666.4,1310.3 L667.7,1306.9 L669.0,1303.4 L670.3,1300.0 L671.6,1296.6 L672.9,1293.2 L674.2,1289.8 L675.5,1286.5 L676.8,1283.1 L678.1,1279.8 L679.4,1276.4 L680.7,1273.1 L682.0,1269.9 L683.3,1266.6 L684.6,1263.4 L685.9,1260.2 L687.2,1257.0 L688.5,1253.8 L689.8,1250.7 L691.1,1247.6 L692.4,1244.5 L693.7,1241.5 L695.0,1238.5 L696.3,1235.6 L697.6,1232.7 L698.9,1229.8 L700.2,1227.0 L701.5,1224.2 L702.9,1221.5 L704.2,1218.8 L705.5,1216.1 L706.8,1213.5 L708.1,1211.0 L709.4,1208.5 L710.7,1206.1 L712.0,1203.7 L713.3,1201.4 L714.6,1199.1 L715.9,1196.9 L717.2,1194.8 L718.5,1192.7 L719.8,1190.7 L721.1,1188.8 L722.4,1186.9 L723.7,1185.0 L725.0,1183.3 L726.3,1181.6 L727.6,1180.0 L728.9,1178.5 L730.2,1177.0 L731.5,1175.6 L732.8,1174.2 L734.1,1173.0 L735.4,1171.8 L736.7,1170.7 L738.0,1169.7 L739.4,1168.7 L740.7,1167.8 L742.0,1167.0 L743.3,1166.3 L744.6,1165.7 L745.9,1165.1 L747.2,1164.6 L748.5,1164.2 L749.8,1163.9 L751.1,1163.6 L752.4,1163.5 L753.7,1163.4 L755.0,1163.4 L756.3,1163.4 L757.6,1163.4 L758.9,1163.4 L760.2,1163.5 L761.5,1163.6 L762.8,1163.8 L764.1,1163.9 L765.4,1164.2 L766.7,1164.4 L768.0,1164.7 L769.3,1165.1 L770.6,1165.5 L771.9,1166.0 L773.2,1166.6 L774.5,1167.2 L775.8,1167.8 L777.2,1168.6 L778.5,1169.4 L779.8,1170.3 L781.1,1171.2 L782.4,1172.3 L783.7,1173.4 L785.0,1174.6 L786.3,1175.8 L787.6,1177.2 L788.9,1178.6 L790.2,1180.1 L791.5,1181.7 L792.8,1183.4 L794.1,1185.1 L795.4,1187.0 L796.7,1188.9 L798.0,1191.0 L799.3,1193.1 L800.6,1195.3 L801.9,1197.6 L803.2,1200.0 L804.5,1202.4 L805.8,1205.0 L807.1,1207.6 L808.4,1210.4 L809.7,1213.2 L811.0,1216.1 L812.3,1219.1 L813.7,1222.1 L815.0,1225.3 L816.3,1228.5 L817.6,1231.8 L818.9,1235.2 L820.2,1238.7 L821.5,1242.2 L822.8,1245.8 L824.1,1249.5 L825.4,1253.2 L826.7,1257.0 L828.0,1260.9 L829.3,1264.8 L830.6,1268.8 L831.9,1272.9 L833.2,1277.0 L834.5,1281.1 L835.8,1285.3 L837.1,1289.6 L838.4,1293.8 L839.7,1298.2 L841.0,1302.5 L842.3,1306.9 L843.6,1311.3 L844.9,1315.8 L846.2,1320.3 L847.5,1324.7 L848.8,1329.3 L850.1,1333.8 L851.5,1338.3 L852.8,1342.8 L854.1,1347.4 L855.4,1351.9 L856.7,1356.5 L858.0,1361.0 L859.3,1365.5 L860.6,1370.1 L861.9,1374.6 L863.2,1379.0 L864.5,1383.5 L865.8,1387.9 L867.1,1392.3 L868.4,1396.7 L869.7,1401.1 L871.0,1405.4 L872.3,1409.6 L873.6,1413.9 L874.9,1418.1 L876.2,1422.2 L877.5,1426.3 L878.8,1430.3 L880.1,1434.3 L881.4,1438.2 L882.7,1442.1 L884.0,1445.9 L885.3,1449.7 L886.6,1453.4 L888.0,1457.0 L889.3,1460.6 L890.6,1464.1 L891.9,1467.5 L893.2,1470.9 L894.5,1474.2 L895.8,1477.4 L897.1,1480.6 L898.4,1483.6 L899.7,1486.6 L901.0,1489.6 L902.3,1492.4 L903.6,1495.2 L904.9,1497.9 L906.2,1500.6 L907.5,1503.2 L908.8,1505.6 L910.1,1508.1 L911.4,1510.4 L912.7,1512.7 L914.0,1514.9 L915.3,1517.0 L916.6,1519.1 L917.9,1521.1 L919.2,1523.0 L920.5,1524.9 L921.8,1526.7 L923.1,1528.4 L924.4,1530.1 L925.8,1531.7 L927.1,1533.3 L928.4,1534.7 L929.7,1536.2 L931.0,1537.5 L932.3,1538.9 L933.6,1540.1 L934.9,1541.3 L936.2,1542.5 L937.5,1543.6 L938.8,1544.7 L940.1,1545.7 L941.4,1546.7 L942.7,1547.7 L944.0,1548.6 L945.3,1549.5 L946.6,1550.3 L947.9,1551.1 L949.2,1551.9 L950.5,1552.6 L951.8,1553.3 L953.1,1554.0 L954.4,1554.6 L955.7,1555.2 L957.0,1555.8 L958.3,1556.4 L959.6,1556.9 L960.9,1557.4 L962.2,1557.9 L963.6,1558.3 L964.9,1558.8 L966.2,1559.2 L967.5,1559.6 L968.8,1560.0 L970.1,1560.4 L971.4,1560.7 L972.7,1561.1 L974.0,1561.4 L975.3,1561.7 L976.6,1562.0 L977.9,1562.3 L979.2,1562.6 L980.5,1562.9 L981.8,1563.2 L983.1,1563.4 L984.4,1563.6 L985.7,1563.9 L987.0,1564.1 L988.3,1564.3 L989.6,1564.5 L990.9,1564.7 L992.2,1564.9 L993.5,1565.1 L994.8,1565.3 L996.1,1565.5 L997.4,1565.6 L998.7,1565.8 L1000.1,1565.9 L1001.4,1566.1 L1002.7,1566.2 L1004.0,1566.4 L1005.3,1566.5 L1006.6,1566.6 L1007.9,1566.8 L1009.2,1566.9 L1010.5,1567.0 L1011.8,1567.1 L1013.1,1567.2 L1014.4,1567.3 L1015.7,1567.4 L1017.0,1567.5 L1018.3,1567.6 L1019.6,1567.7 L1020.9,1567.8 L1022.2,1567.8 L1023.5,1567.9 L1024.8,1568.0 L1026.1,1568.1 L1027.4,1568.1 L1028.7,1568.2 L1030.0,1568.3 L1031.3,1568.3 L1032.6,1568.4 L1033.9,1568.4 L1035.2,1568.5 L1036.5,1568.5 L1037.9,1568.6 L1039.2,1568.6 L1040.5,1568.7 L1041.8,1568.7 L1043.1,1568.8 L1044.4,1568.8 L1045.7,1568.9 L1047.0,1568.9 L1048.3,1568.9 L1049.6,1569.0 L1050.9,1569.0 L1052.2,1569.1 L1053.5,1569.1 L1054.8,1569.1 L1056.1,1569.2 L1057.4,1569.2 L1058.7,1569.2 L1060.0,1569.3 L1061.3,1569.3 L1062.6,1569.3 L1063.9,1569.4 L1065.2,1569.4 L1066.5,1569.4 L1067.8,1569.5 L1069.1,1569.5 L1070.4,1569.5 L1071.7,1569.5 L1073.0,1569.6 L1074.4,1569.6 L1075.7,1569.6 L1077.0,1569.7 L1078.3,1569.7 L1079.6,1569.7 L1080.9,1569.7 L1082.2,1569.8 L1083.5,1569.8 L1084.8,1569.8 L1086.1,1569.9 L1087.4,1569.9 L1088.7,1569.9 L1090.0,1569.9 L1091.3,1570.0 L1092.6,1570.0" stroke="#1d1366" stroke-width="6.2"/>
<path d="M310.5,1109.5 L311.8,1107.0 L313.1,1103.6 L314.4,1099.5 L315.7,1094.8 L317.0,1089.6 L318.3,1084.0 L319.6,1077.7 L320.9,1070.0 L322.2,1061.2 L323.5,1051.9 L324.8,1042.4 L326.1,1032.9 L327.4,1022.7 L328.7,1012.1 L330.1,1001.8 L331.4,992.3 L332.7,986.7 L334.0,986.7 L335.3,986.7 L336.6,986.7 L337.9,986.7 L339.2,986.7 L340.5,986.7 L341.8,986.7 L343.1,986.7 L344.4,986.7 L345.7,986.7 L347.0,986.7 L348.3,986.7 L349.6,986.7 L350.9,986.7 L352.2,986.7 L353.5,986.7 L354.8,986.7 L356.1,986.7 L357.4,986.7 L358.7,986.7 L360.0,986.7 L361.3,986.7 L362.6,986.7 L363.9,986.7 L365.2,986.7 L366.6,986.7 L367.9,986.7 L369.2,986.7 L370.5,986.7 L371.8,986.7 L373.1,986.7 L374.4,986.7 L375.7,986.7 L377.0,986.7 L378.3,986.7 L379.6,986.7 L380.9,986.7 L382.2,986.7 L383.5,986.7 L384.8,986.7 L386.1,986.7 L387.4,986.7 L388.7,986.7 L390.0,986.7 L391.3,986.7 L392.6,986.7 L393.9,986.7 L395.2,986.7 L396.5,986.7 L397.8,986.7 L399.1,986.7 L400.4,986.7 L401.7,986.7 L403.0,986.7 L404.4,986.7 L405.7,986.7 L407.0,986.7 L408.3,986.7 L409.6,986.7 L410.9,986.7 L412.2,986.7 L413.5,986.7 L414.8,986.7 L416.1,986.7 L417.4,986.7 L418.7,986.7 L420.0,986.7 L421.3,1000.4 L422.6,1014.5 L423.9,1029.5 L425.2,1044.0 L426.5,1054.2 L427.8,1062.3 L429.1,1068.7 L430.4,1072.8 L431.7,1075.4 L433.0,1077.5 L434.3,1079.1 L435.6,1080.0 L436.9,1079.8 L438.2,1078.4 L439.5,1076.0 L440.9,1073.1 L442.2,1070.0 L443.5,1066.0 L444.8,1060.8 L446.1,1055.3 L447.4,1050.6 L448.7,1046.2 L450.0,1042.4 L451.3,1041.3 L452.6,1045.4 L453.9,1053.1 L455.2,1061.7 L456.5,1070.8 L457.8,1082.2 L459.1,1097.8 L460.4,1120.9 L461.7,1143.6 L463.0,1167.3 L464.3,1196.0 L465.6,1227.9 L466.9,1259.0 L468.2,1280.7 L469.5,1296.6 L470.8,1310.9 L472.1,1326.4 L473.4,1342.2 L474.7,1359.1 L476.0,1378.2 L477.3,1397.8 L478.7,1418.1 L480.0,1437.3 L481.3,1451.1 L482.6,1462.2 L483.9,1471.7 L485.2,1479.9 L486.5,1487.7 L487.8,1494.6 L489.1,1499.8 L490.4,1503.2 L491.7,1506.1 L493.0,1508.4 L494.3,1510.3 L495.6,1511.7 L496.9,1512.8 L498.2,1513.8 L499.5,1514.8 L500.8,1515.5 L502.1,1515.9 L503.4,1516.1 L504.7,1516.1 L506.0,1516.1 L507.3,1516.1 L508.6,1516.1 L509.9,1516.1 L511.2,1516.1 L512.5,1516.1 L513.8,1515.9 L515.1,1515.6 L516.5,1515.1 L517.8,1514.6 L519.1,1514.0 L520.4,1513.4 L521.7,1512.8 L523.0,1512.1 L524.3,1511.3 L525.6,1510.3 L526.9,1509.3 L528.2,1508.2 L529.5,1507.1 L530.8,1506.1 L532.1,1505.0 L533.4,1504.0 L534.7,1503.0 L536.0,1502.0 L537.3,1501.0 L538.6,1499.9 L539.9,1498.9 L541.2,1497.8 L542.5,1496.7 L543.8,1495.5 L545.1,1494.3 L546.4,1493.0 L547.7,1491.7 L549.0,1490.2 L550.3,1488.7 L551.6,1487.0 L553.0,1485.4 L554.3,1483.6 L555.6,1481.9 L556.9,1480.1 L558.2,1478.3 L559.5,1476.6 L560.8,1474.8 L562.1,1473.0 L563.4,1471.2 L564.7,1469.4 L566.0,1467.5 L567.3,1465.6 L568.6,1463.6 L569.9,1461.6 L571.2,1459.6 L572.5,1457.5 L573.8,1455.4 L575.1,1453.2 L576.4,1451.0 L577.7,1448.7 L579.0,1446.4 L580.3,1444.0 L581.6,1441.6 L582.9,1439.1 L584.2,1436.6 L585.5,1434.1 L586.8,1431.5 L588.1,1429.0 L589.4,1426.3 L590.8,1423.7 L592.1,1421.0 L593.4,1418.3 L594.7,1415.6 L596.0,1412.8 L597.3,1410.0 L598.6,1407.1 L599.9,1404.1 L601.2,1401.2 L602.5,1398.2 L603.8,1395.1 L605.1,1392.0 L606.4,1389.0 L607.7,1385.9 L609.0,1382.8 L610.3,1379.7 L611.6,1376.6 L612.9,1373.4 L614.2,1370.3 L615.5,1367.1 L616.8,1363.9 L618.1,1360.7 L619.4,1357.4 L620.7,1354.2 L622.0,1350.9 L623.3,1347.7 L624.6,1344.4 L625.9,1341.1 L627.3,1337.8 L628.6,1334.5 L629.9,1331.2 L631.2,1327.9 L632.5,1324.6 L633.8,1321.3 L635.1,1317.9 L636.4,1314.6 L637.7,1311.2 L639.0,1307.8 L640.3,1304.4 L641.6,1301.0 L642.9,1297.5 L644.2,1294.0 L645.5,1290.5 L646.8,1286.9 L648.1,1283.2 L649.4,1279.5 L650.7,1275.9 L652.0,1272.2 L653.3,1268.6 L654.6,1265.0 L655.9,1261.4 L657.2,1258.0 L658.5,1254.5 L659.8,1251.1 L661.1,1247.8 L662.4,1244.4 L663.7,1241.1 L665.1,1237.8 L666.4,1234.5 L667.7,1231.3 L669.0,1228.0 L670.3,1224.7 L671.6,1221.4 L672.9,1218.1 L674.2,1214.7 L675.5,1211.3 L676.8,1207.9 L678.1,1204.4 L679.4,1200.9 L680.7,1197.3 L682.0,1193.8 L683.3,1190.2 L684.6,1186.8 L685.9,1183.3 L687.2,1180.0 L688.5,1176.7 L689.8,1173.6 L691.1,1170.6 L692.4,1167.7 L693.7,1164.9 L695.0,1162.1 L696.3,1159.3 L697.6,1156.6 L698.9,1154.0 L700.2,1151.4 L701.5,1148.9 L702.9,1146.4 L704.2,1143.9 L705.5,1141.5 L706.8,1139.2 L708.1,1136.8 L709.4,1134.5 L710.7,1132.3 L712.0,1130.0 L713.3,1127.8 L714.6,1125.6 L715.9,1123.4 L717.2,1121.2 L718.5,1119.1 L719.8,1117.0 L721.1,1115.0 L722.4,1113.0 L723.7,1111.2 L725.0,1109.4 L726.3,1107.7 L727.6,1106.2 L728.9,1104.6 L730.2,1103.1 L731.5,1101.6 L732.8,1100.1 L734.1,1098.8 L735.4,1097.5 L736.7,1096.3 L738.0,1095.3 L739.4,1094.5 L740.7,1093.9 L742.0,1093.5 L743.3,1093.0 L744.6,1092.6 L745.9,1092.2 L747.2,1091.9 L748.5,1091.6 L749.8,1091.4 L751.1,1091.2 L752.4,1091.2 L753.7,1091.2 L755.0,1091.5 L756.3,1091.9 L757.6,1092.6 L758.9,1093.4 L760.2,1094.4 L761.5,1095.5 L762.8,1096.7 L764.1,1097.9 L765.4,1099.3 L766.7,1100.7 L768.0,1102.1 L769.3,1103.4 L770.6,1104.8 L771.9,1106.1 L773.2,1107.5 L774.5,1108.9 L775.8,1110.4 L777.2,1112.0 L778.5,1113.6 L779.8,1115.3 L781.1,1117.0 L782.4,1118.8 L783.7,1120.7 L785.0,1122.6 L786.3,1124.6 L787.6,1126.6 L788.9,1128.8 L790.2,1130.9 L791.5,1133.2 L792.8,1135.5 L794.1,1137.9 L795.4,1140.3 L796.7,1142.8 L798.0,1145.5 L799.3,1148.4 L800.6,1151.6 L801.9,1155.0 L803.2,1158.5 L804.5,1162.1 L805.8,1165.8 L807.1,1169.5 L808.4,1173.2 L809.7,1176.9 L811.0,1180.5 L812.3,1184.1 L813.7,1187.5 L815.0,1191.0 L816.3,1194.4 L817.6,1197.9 L818.9,1201.3 L820.2,1204.8 L821.5,1208.3 L822.8,1211.9 L824.1,1215.5 L825.4,1219.2 L826.7,1223.0 L828.0,1226.9 L829.3,1230.9 L830.6,1235.0 L831.9,1239.2 L833.2,1243.5 L834.5,1247.8 L835.8,1252.2 L837.1,1256.7 L838.4,1261.3 L839.7,1265.9 L841.0,1270.7 L842.3,1275.6 L843.6,1280.7 L844.9,1285.9 L846.2,1291.2 L847.5,1296.5 L848.8,1301.6 L850.1,1306.7 L851.5,1311.5 L852.8,1316.3 L854.1,1320.9 L855.4,1325.5 L856.7,1330.0 L858.0,1334.4 L859.3,1338.8 L860.6,1343.2 L861.9,1347.6 L863.2,1351.9 L864.5,1356.3 L865.8,1360.6 L867.1,1364.8 L868.4,1369.0 L869.7,1373.2 L871.0,1377.4 L872.3,1381.6 L873.6,1385.8 L874.9,1390.0 L876.2,1394.2 L877.5,1398.4 L878.8,1402.7 L880.1,1407.0 L881.4,1411.4 L882.7,1415.7 L884.0,1420.0 L885.3,1424.3 L886.6,1428.5 L888.0,1432.6 L889.3,1436.7 L890.6,1440.7 L891.9,1444.8 L893.2,1448.8 L894.5,1452.8 L895.8,1456.8 L897.1,1460.7 L898.4,1464.5 L899.7,1468.2 L901.0,1471.7 L902.3,1475.2 L903.6,1478.4 L904.9,1481.6 L906.2,1484.7 L907.5,1487.8 L908.8,1490.8 L910.1,1493.7 L911.4,1496.6 L912.7,1499.4 L914.0,1502.1 L915.3,1504.8 L916.6,1507.4 L917.9,1509.9 L919.2,1512.3 L920.5,1514.6 L921.8,1516.8 L923.1,1518.9 L924.4,1521.0 L925.8,1523.1 L927.1,1525.1 L928.4,1527.0 L929.7,1528.9 L931.0,1530.7 L932.3,1532.3 L933.6,1533.9 L934.9,1535.4 L936.2,1536.7 L937.5,1537.9 L938.8,1539.0 L940.1,1540.1 L941.4,1541.1 L942.7,1542.1 L944.0,1543.0 L945.3,1543.9 L946.6,1544.7 L947.9,1545.6 L949.2,1546.4 L950.5,1547.2 L951.8,1548.1 L953.1,1548.9 L954.4,1549.7 L955.7,1550.6 L957.0,1551.5 L958.3,1552.4 L959.6,1553.2 L960.9,1554.1 L962.2,1554.9 L963.6,1555.7 L964.9,1556.5 L966.2,1557.2 L967.5,1557.8 L968.8,1558.4 L970.1,1558.9 L971.4,1559.3 L972.7,1559.8 L974.0,1560.2 L975.3,1560.6 L976.6,1561.0 L977.9,1561.4 L979.2,1561.7 L980.5,1562.1 L981.8,1562.4 L983.1,1562.7 L984.4,1563.0 L985.7,1563.2 L987.0,1563.4 L988.3,1563.7 L989.6,1563.8 L990.9,1564.0 L992.2,1564.1 L993.5,1564.2 L994.8,1564.3 L996.1,1564.4 L997.4,1564.5 L998.7,1564.6 L1000.1,1564.7 L1001.4,1564.8 L1002.7,1564.9 L1004.0,1565.0 L1005.3,1565.0 L1006.6,1565.1 L1007.9,1565.2 L1009.2,1565.3 L1010.5,1565.3 L1011.8,1565.4 L1013.1,1565.4 L1014.4,1565.5 L1015.7,1565.6 L1017.0,1565.6 L1018.3,1565.7 L1019.6,1565.7 L1020.9,1565.8 L1022.2,1565.8 L1023.5,1565.8 L1024.8,1565.9 L1026.1,1565.9 L1027.4,1565.9 L1028.7,1566.0 L1030.0,1566.0 L1031.3,1566.0 L1032.6,1566.1 L1033.9,1566.1 L1035.2,1566.1 L1036.5,1566.2 L1037.9,1566.2 L1039.2,1566.2 L1040.5,1566.2 L1041.8,1566.3 L1043.1,1566.3 L1044.4,1566.3 L1045.7,1566.3 L1047.0,1566.3 L1048.3,1566.4 L1049.6,1566.4 L1050.9,1566.4 L1052.2,1566.4 L1053.5,1566.5 L1054.8,1566.5 L1056.1,1566.5 L1057.4,1566.5 L1058.7,1566.5 L1060.0,1566.5 L1061.3,1566.6 L1062.6,1566.6 L1063.9,1566.6 L1065.2,1566.6 L1066.5,1566.6 L1067.8,1566.6 L1069.1,1566.6 L1070.4,1566.6 L1071.7,1566.6 L1073.0,1566.7 L1074.4,1566.7 L1075.7,1566.7 L1077.0,1566.7 L1078.3,1566.7 L1079.6,1566.7 L1080.9,1566.7 L1082.2,1566.7 L1083.5,1566.7 L1084.8,1566.7 L1086.1,1566.7 L1087.4,1566.7 L1088.7,1566.7 L1090.0,1566.7 L1091.3,1566.7 L1092.6,1566.7" stroke="#000" stroke-width="7" stroke-dasharray="25 20" stroke-linecap="butt"/>
</g>
<clipPath id="clipA3"><rect x="306.5" y="1845.5" width="794.6" height="561.8"/></clipPath>
<g clip-path="url(#clipA3)" fill="none" stroke-linejoin="round" stroke-linecap="round">
<path d="M310.5,2088.9 L311.8,2088.9 L313.1,2088.9 L314.4,2088.9 L315.7,2088.9 L317.1,2088.9 L318.4,2088.9 L319.7,2088.9 L321.0,2088.9 L322.3,2089.0 L323.6,2089.1 L324.9,2089.5 L326.2,2090.0 L327.5,2090.7 L328.9,2091.5 L330.2,2092.4 L331.5,2093.4 L332.8,2094.5 L334.1,2095.6 L335.4,2096.7 L336.7,2097.8 L338.0,2099.0 L339.3,2100.4 L340.7,2102.0 L342.0,2103.7 L343.3,2105.5 L344.6,2107.4 L345.9,2109.3 L347.2,2111.2 L348.5,2113.2 L349.8,2115.1 L351.1,2116.9 L352.5,2118.7 L353.8,2120.4 L355.1,2122.3 L356.4,2124.1 L357.7,2125.9 L359.0,2127.7 L360.3,2129.5 L361.6,2131.3 L362.9,2133.1 L364.3,2134.8 L365.6,2136.5 L366.9,2138.2 L368.2,2139.8 L369.5,2141.4 L370.8,2143.0 L372.1,2144.5 L373.4,2146.1 L374.7,2147.6 L376.1,2149.1 L377.4,2150.7 L378.7,2152.3 L380.0,2153.9 L381.3,2155.5 L382.6,2157.2 L383.9,2159.0 L385.2,2160.8 L386.5,2162.6 L387.8,2164.4 L389.2,2166.2 L390.5,2167.9 L391.8,2169.6 L393.1,2171.2 L394.4,2172.7 L395.7,2174.1 L397.0,2175.4 L398.3,2176.7 L399.6,2177.9 L401.0,2179.1 L402.3,2180.2 L403.6,2181.3 L404.9,2182.4 L406.2,2183.5 L407.5,2184.6 L408.8,2185.6 L410.1,2186.7 L411.4,2187.8 L412.8,2188.9 L414.1,2190.1 L415.4,2191.3 L416.7,2192.5 L418.0,2193.7 L419.3,2194.8 L420.6,2196.0 L421.9,2197.2 L423.2,2198.5 L424.6,2199.7 L425.9,2200.9 L427.2,2202.2 L428.5,2203.5 L429.8,2204.8 L431.1,2206.2 L432.4,2207.6 L433.7,2209.1 L435.0,2210.7 L436.4,2212.3 L437.7,2214.0 L439.0,2215.8 L440.3,2217.6 L441.6,2219.4 L442.9,2221.2 L444.2,2223.1 L445.5,2224.9 L446.8,2226.7 L448.2,2228.5 L449.5,2230.2 L450.8,2231.9 L452.1,2233.5 L453.4,2235.0 L454.7,2236.5 L456.0,2238.0 L457.3,2239.4 L458.6,2240.9 L460.0,2242.4 L461.3,2243.9 L462.6,2245.4 L463.9,2247.0 L465.2,2248.6 L466.5,2250.4 L467.8,2252.2 L469.1,2254.2 L470.4,2256.2 L471.8,2258.3 L473.1,2260.5 L474.4,2262.9 L475.7,2265.4 L477.0,2268.0 L478.3,2270.9 L479.6,2274.1 L480.9,2278.0 L482.2,2282.3 L483.6,2286.9 L484.9,2291.5 L486.2,2296.1 L487.5,2300.3 L488.8,2304.0 L490.1,2307.2 L491.4,2310.2 L492.7,2313.2 L494.0,2316.1 L495.4,2318.9 L496.7,2321.5 L498.0,2323.9 L499.3,2326.1 L500.6,2328.2 L501.9,2329.9 L503.2,2331.4 L504.5,2332.7 L505.8,2333.9 L507.1,2335.1 L508.5,2336.2 L509.8,2337.2 L511.1,2338.1 L512.4,2339.0 L513.7,2339.8 L515.0,2340.6 L516.3,2341.3 L517.6,2341.9 L518.9,2342.5 L520.3,2343.0 L521.6,2343.5 L522.9,2344.0 L524.2,2344.4 L525.5,2344.9 L526.8,2345.2 L528.1,2345.6 L529.4,2346.0 L530.7,2346.3 L532.1,2346.6 L533.4,2347.0 L534.7,2347.3 L536.0,2347.6 L537.3,2347.8 L538.6,2348.1 L539.9,2348.4 L541.2,2348.7 L542.5,2348.9 L543.9,2349.2 L545.2,2349.4 L546.5,2349.7 L547.8,2350.0 L549.1,2350.2 L550.4,2350.5 L551.7,2350.7 L553.0,2350.9 L554.3,2351.1 L555.7,2351.4 L557.0,2351.6 L558.3,2351.8 L559.6,2352.0 L560.9,2352.2 L562.2,2352.4 L563.5,2352.7 L564.8,2352.9 L566.1,2353.1 L567.5,2353.3 L568.8,2353.5 L570.1,2353.7 L571.4,2353.9 L572.7,2354.2 L574.0,2354.4 L575.3,2354.6 L576.6,2354.8 L577.9,2355.0 L579.3,2355.2 L580.6,2355.5 L581.9,2355.7 L583.2,2355.9 L584.5,2356.1 L585.8,2356.3 L587.1,2356.6 L588.4,2356.8 L589.7,2357.0 L591.1,2357.2 L592.4,2357.5 L593.7,2357.7 L595.0,2357.9 L596.3,2358.2 L597.6,2358.4 L598.9,2358.7 L600.2,2359.0 L601.5,2359.2 L602.9,2359.5 L604.2,2359.8 L605.5,2360.0 L606.8,2360.3 L608.1,2360.6 L609.4,2360.8 L610.7,2361.0 L612.0,2361.3 L613.3,2361.5 L614.7,2361.6 L616.0,2361.8 L617.3,2361.9 L618.6,2362.0 L619.9,2362.0 L621.2,2362.0 L622.5,2362.0 L623.8,2362.0 L625.1,2361.9 L626.5,2361.8 L627.8,2361.7 L629.1,2361.6 L630.4,2361.4 L631.7,2361.2 L633.0,2361.0 L634.3,2360.7 L635.6,2360.5 L636.9,2360.2 L638.2,2359.8 L639.6,2359.5 L640.9,2359.1 L642.2,2358.6 L643.5,2358.1 L644.8,2357.6 L646.1,2357.0 L647.4,2356.4 L648.7,2355.8 L650.0,2355.1 L651.4,2354.4 L652.7,2353.7 L654.0,2352.9 L655.3,2352.2 L656.6,2351.4 L657.9,2350.6 L659.2,2349.9 L660.5,2349.1 L661.8,2348.3 L663.2,2347.5 L664.5,2346.8 L665.8,2346.0 L667.1,2345.2 L668.4,2344.4 L669.7,2343.6 L671.0,2342.8 L672.3,2342.1 L673.6,2341.3 L675.0,2340.5 L676.3,2339.7 L677.6,2338.9 L678.9,2338.1 L680.2,2337.4 L681.5,2336.6 L682.8,2335.8 L684.1,2335.1 L685.4,2334.3 L686.8,2333.5 L688.1,2332.8 L689.4,2332.0 L690.7,2331.3 L692.0,2330.5 L693.3,2329.8 L694.6,2329.0 L695.9,2328.3 L697.2,2327.5 L698.6,2326.8 L699.9,2326.1 L701.2,2325.4 L702.5,2324.7 L703.8,2324.0 L705.1,2323.3 L706.4,2322.6 L707.7,2321.9 L709.0,2321.3 L710.4,2320.7 L711.7,2320.0 L713.0,2319.4 L714.3,2318.8 L715.6,2318.2 L716.9,2317.6 L718.2,2317.1 L719.5,2316.5 L720.8,2315.9 L722.2,2315.3 L723.5,2314.6 L724.8,2314.0 L726.1,2313.3 L727.4,2312.6 L728.7,2311.8 L730.0,2311.0 L731.3,2310.3 L732.6,2309.4 L734.0,2308.6 L735.3,2307.8 L736.6,2307.0 L737.9,2306.3 L739.2,2305.5 L740.5,2304.8 L741.8,2304.2 L743.1,2303.5 L744.4,2302.9 L745.8,2302.4 L747.1,2301.9 L748.4,2301.4 L749.7,2301.0 L751.0,2300.5 L752.3,2300.1 L753.6,2299.7 L754.9,2299.4 L756.2,2299.0 L757.6,2298.7 L758.9,2298.4 L760.2,2298.1 L761.5,2297.8 L762.8,2297.5 L764.1,2297.2 L765.4,2297.0 L766.7,2296.7 L768.0,2296.5 L769.3,2296.2 L770.7,2296.0 L772.0,2295.8 L773.3,2295.6 L774.6,2295.4 L775.9,2295.2 L777.2,2295.0 L778.5,2294.8 L779.8,2294.6 L781.1,2294.5 L782.5,2294.3 L783.8,2294.1 L785.1,2294.0 L786.4,2293.8 L787.7,2293.7 L789.0,2293.6 L790.3,2293.4 L791.6,2293.3 L792.9,2293.1 L794.3,2293.0 L795.6,2292.9 L796.9,2292.7 L798.2,2292.6 L799.5,2292.4 L800.8,2292.2 L802.1,2292.1 L803.4,2291.9 L804.7,2291.7 L806.1,2291.5 L807.4,2291.3 L808.7,2291.1 L810.0,2290.8 L811.3,2290.6 L812.6,2290.3 L813.9,2290.0 L815.2,2289.7 L816.5,2289.3 L817.9,2289.0 L819.2,2288.6 L820.5,2288.2 L821.8,2287.7 L823.1,2287.3 L824.4,2286.8 L825.7,2286.3 L827.0,2285.8 L828.3,2285.3 L829.7,2284.8 L831.0,2284.2 L832.3,2283.7 L833.6,2283.1 L834.9,2282.6 L836.2,2282.0 L837.5,2281.5 L838.8,2280.9 L840.1,2280.3 L841.5,2279.8 L842.8,2279.2 L844.1,2278.7 L845.4,2278.1 L846.7,2277.5 L848.0,2277.0 L849.3,2276.4 L850.6,2275.9 L851.9,2275.4 L853.3,2274.8 L854.6,2274.3 L855.9,2273.8 L857.2,2273.3 L858.5,2272.9 L859.8,2272.5 L861.1,2272.1 L862.4,2271.8 L863.7,2271.5 L865.1,2271.3 L866.4,2271.2 L867.7,2271.1 L869.0,2271.1 L870.3,2271.2 L871.6,2271.4 L872.9,2271.7 L874.2,2272.0 L875.5,2272.4 L876.9,2272.8 L878.2,2273.3 L879.5,2273.8 L880.8,2274.4 L882.1,2274.9 L883.4,2275.5 L884.7,2276.2 L886.0,2276.8 L887.3,2277.4 L888.7,2278.1 L890.0,2278.7 L891.3,2279.4 L892.6,2280.0 L893.9,2280.7 L895.2,2281.3 L896.5,2282.0 L897.8,2282.6 L899.1,2283.3 L900.4,2283.9 L901.8,2284.6 L903.1,2285.2 L904.4,2285.9 L905.7,2286.5 L907.0,2287.1 L908.3,2287.8 L909.6,2288.4 L910.9,2289.0 L912.2,2289.5 L913.6,2290.1 L914.9,2290.6 L916.2,2291.1 L917.5,2291.6 L918.8,2292.1 L920.1,2292.5 L921.4,2292.9 L922.7,2293.3 L924.0,2293.7 L925.4,2294.0 L926.7,2294.3 L928.0,2294.6 L929.3,2294.8 L930.6,2295.1 L931.9,2295.3 L933.2,2295.5 L934.5,2295.7 L935.8,2295.9 L937.2,2296.1 L938.5,2296.2 L939.8,2296.4 L941.1,2296.6 L942.4,2296.7 L943.7,2296.9 L945.0,2297.1 L946.3,2297.2 L947.6,2297.4 L949.0,2297.6 L950.3,2297.8 L951.6,2298.0 L952.9,2298.2 L954.2,2298.4 L955.5,2298.6 L956.8,2298.9 L958.1,2299.1 L959.4,2299.4 L960.8,2299.7 L962.1,2300.0 L963.4,2300.3 L964.7,2300.7 L966.0,2301.1 L967.3,2301.5 L968.6,2302.0 L969.9,2302.5 L971.2,2303.0 L972.6,2303.6 L973.9,2304.3 L975.2,2305.0 L976.5,2305.8 L977.8,2306.6 L979.1,2307.5 L980.4,2308.4 L981.7,2309.5 L983.0,2310.6 L984.4,2311.7 L985.7,2313.0 L987.0,2314.3 L988.3,2315.7 L989.6,2317.2 L990.9,2318.8 L992.2,2320.4 L993.5,2322.1 L994.8,2323.8 L996.2,2325.7 L997.5,2327.6 L998.8,2329.5 L1000.1,2331.5 L1001.4,2333.6 L1002.7,2335.6 L1004.0,2337.7 L1005.3,2339.8 L1006.6,2341.8 L1008.0,2343.9 L1009.3,2345.9 L1010.6,2347.9 L1011.9,2349.9 L1013.2,2351.8 L1014.5,2353.7 L1015.8,2355.6 L1017.1,2357.4 L1018.4,2359.1 L1019.8,2360.8 L1021.1,2362.4 L1022.4,2364.0 L1023.7,2365.6 L1025.0,2367.1 L1026.3,2368.5 L1027.6,2369.9 L1028.9,2371.3 L1030.2,2372.6 L1031.5,2373.9 L1032.9,2375.1 L1034.2,2376.3 L1035.5,2377.4 L1036.8,2378.5 L1038.1,2379.6 L1039.4,2380.6 L1040.7,2381.5 L1042.0,2382.5 L1043.3,2383.4 L1044.7,2384.2 L1046.0,2385.0 L1047.3,2385.8 L1048.6,2386.6 L1049.9,2387.3 L1051.2,2388.0 L1052.5,2388.7 L1053.8,2389.3 L1055.1,2390.0 L1056.5,2390.6 L1057.8,2391.1 L1059.1,2391.7 L1060.4,2392.2 L1061.7,2392.7 L1063.0,2393.2 L1064.3,2393.6 L1065.6,2394.1 L1066.9,2394.5 L1068.3,2394.8 L1069.6,2395.2 L1070.9,2395.5 L1072.2,2395.8 L1073.5,2396.1 L1074.8,2396.4 L1076.1,2396.6 L1077.4,2396.9 L1078.7,2397.1 L1080.1,2397.3 L1081.4,2397.5 L1082.7,2397.7 L1084.0,2397.9 L1085.3,2398.1 L1086.6,2398.2 L1087.9,2398.4 L1089.2,2398.5 L1090.5,2398.6 L1091.9,2398.7 L1093.2,2398.8 L1094.5,2398.8 L1095.8,2398.9 L1097.1,2398.9" stroke="#dcedc1" stroke-width="6.2"/>
<path d="M310.5,2056.8 L311.8,2057.6 L313.1,2058.6 L314.4,2059.7 L315.7,2060.8 L317.1,2062.0 L318.4,2063.3 L319.7,2064.6 L321.0,2066.0 L322.3,2067.5 L323.6,2069.0 L324.9,2070.6 L326.2,2072.2 L327.5,2073.8 L328.9,2075.5 L330.2,2077.3 L331.5,2079.2 L332.8,2081.2 L334.1,2083.5 L335.4,2085.8 L336.7,2088.2 L338.0,2090.6 L339.3,2093.1 L340.7,2095.5 L342.0,2098.0 L343.3,2100.3 L344.6,2102.6 L345.9,2105.0 L347.2,2107.4 L348.5,2109.8 L349.8,2112.3 L351.1,2114.7 L352.5,2117.1 L353.8,2119.4 L355.1,2121.7 L356.4,2123.8 L357.7,2125.8 L359.0,2127.6 L360.3,2129.3 L361.6,2131.0 L362.9,2132.6 L364.3,2134.1 L365.6,2135.6 L366.9,2137.1 L368.2,2138.4 L369.5,2139.8 L370.8,2141.0 L372.1,2142.2 L373.4,2143.3 L374.7,2144.4 L376.1,2145.4 L377.4,2146.5 L378.7,2147.4 L380.0,2148.4 L381.3,2149.3 L382.6,2150.2 L383.9,2151.1 L385.2,2151.9 L386.5,2152.7 L387.8,2153.5 L389.2,2154.3 L390.5,2155.1 L391.8,2155.8 L393.1,2156.5 L394.4,2157.2 L395.7,2157.9 L397.0,2158.5 L398.3,2159.1 L399.6,2159.6 L401.0,2160.1 L402.3,2160.5 L403.6,2161.0 L404.9,2161.4 L406.2,2161.9 L407.5,2162.4 L408.8,2162.9 L410.1,2163.4 L411.4,2164.0 L412.8,2164.7 L414.1,2165.4 L415.4,2166.2 L416.7,2167.3 L418.0,2168.6 L419.3,2170.1 L420.6,2171.7 L421.9,2173.6 L423.2,2175.5 L424.6,2177.5 L425.9,2179.6 L427.2,2181.7 L428.5,2183.8 L429.8,2185.9 L431.1,2187.9 L432.4,2189.8 L433.7,2191.5 L435.0,2193.3 L436.4,2195.1 L437.7,2196.9 L439.0,2198.6 L440.3,2200.4 L441.6,2202.1 L442.9,2203.9 L444.2,2205.6 L445.5,2207.4 L446.8,2209.1 L448.2,2210.8 L449.5,2212.4 L450.8,2214.1 L452.1,2215.7 L453.4,2217.3 L454.7,2218.9 L456.0,2220.5 L457.3,2222.1 L458.6,2223.6 L460.0,2225.2 L461.3,2226.7 L462.6,2228.2 L463.9,2229.8 L465.2,2231.4 L466.5,2232.9 L467.8,2234.5 L469.1,2236.1 L470.4,2237.5 L471.8,2238.8 L473.1,2240.4 L474.4,2242.3 L475.7,2244.9 L477.0,2249.0 L478.3,2254.4 L479.6,2260.6 L480.9,2267.2 L482.2,2273.5 L483.6,2279.2 L484.9,2284.5 L486.2,2290.0 L487.5,2295.4 L488.8,2300.8 L490.1,2305.8 L491.4,2310.5 L492.7,2314.6 L494.0,2318.1 L495.4,2321.1 L496.7,2324.1 L498.0,2326.9 L499.3,2329.5 L500.6,2331.9 L501.9,2334.1 L503.2,2336.1 L504.5,2337.8 L505.8,2339.2 L507.1,2340.3 L508.5,2341.1 L509.8,2341.9 L511.1,2342.6 L512.4,2343.2 L513.7,2343.7 L515.0,2344.2 L516.3,2344.7 L517.6,2345.1 L518.9,2345.5 L520.3,2345.8 L521.6,2346.1 L522.9,2346.4 L524.2,2346.7 L525.5,2347.0 L526.8,2347.3 L528.1,2347.5 L529.4,2347.8 L530.7,2348.0 L532.1,2348.2 L533.4,2348.4 L534.7,2348.6 L536.0,2348.8 L537.3,2349.0 L538.6,2349.2 L539.9,2349.3 L541.2,2349.5 L542.5,2349.7 L543.9,2349.9 L545.2,2350.1 L546.5,2350.3 L547.8,2350.4 L549.1,2350.6 L550.4,2350.8 L551.7,2351.0 L553.0,2351.2 L554.3,2351.4 L555.7,2351.5 L557.0,2351.7 L558.3,2351.9 L559.6,2352.0 L560.9,2352.2 L562.2,2352.4 L563.5,2352.5 L564.8,2352.7 L566.1,2352.8 L567.5,2353.0 L568.8,2353.1 L570.1,2353.3 L571.4,2353.4 L572.7,2353.6 L574.0,2353.7 L575.3,2353.8 L576.6,2354.0 L577.9,2354.1 L579.3,2354.2 L580.6,2354.4 L581.9,2354.5 L583.2,2354.6 L584.5,2354.7 L585.8,2354.8 L587.1,2355.0 L588.4,2355.1 L589.7,2355.2 L591.1,2355.3 L592.4,2355.4 L593.7,2355.5 L595.0,2355.5 L596.3,2355.6 L597.6,2355.7 L598.9,2355.7 L600.2,2355.8 L601.5,2355.9 L602.9,2355.9 L604.2,2356.0 L605.5,2356.0 L606.8,2356.1 L608.1,2356.1 L609.4,2356.1 L610.7,2356.1 L612.0,2356.2 L613.3,2356.1 L614.7,2356.1 L616.0,2356.1 L617.3,2356.0 L618.6,2355.9 L619.9,2355.8 L621.2,2355.6 L622.5,2355.3 L623.8,2355.0 L625.1,2354.7 L626.5,2354.3 L627.8,2353.8 L629.1,2353.3 L630.4,2352.8 L631.7,2352.1 L633.0,2351.5 L634.3,2350.8 L635.6,2350.0 L636.9,2349.3 L638.2,2348.5 L639.6,2347.7 L640.9,2346.9 L642.2,2346.1 L643.5,2345.2 L644.8,2344.4 L646.1,2343.6 L647.4,2342.8 L648.7,2342.0 L650.0,2341.3 L651.4,2340.5 L652.7,2339.8 L654.0,2339.0 L655.3,2338.3 L656.6,2337.6 L657.9,2336.9 L659.2,2336.2 L660.5,2335.5 L661.8,2334.8 L663.2,2334.1 L664.5,2333.4 L665.8,2332.7 L667.1,2332.0 L668.4,2331.3 L669.7,2330.6 L671.0,2329.9 L672.3,2329.2 L673.6,2328.4 L675.0,2327.7 L676.3,2326.9 L677.6,2326.2 L678.9,2325.4 L680.2,2324.6 L681.5,2323.8 L682.8,2322.9 L684.1,2322.1 L685.4,2321.2 L686.8,2320.3 L688.1,2319.5 L689.4,2318.5 L690.7,2317.6 L692.0,2316.7 L693.3,2315.7 L694.6,2314.7 L695.9,2313.7 L697.2,2312.7 L698.6,2311.7 L699.9,2310.7 L701.2,2309.6 L702.5,2308.6 L703.8,2307.5 L705.1,2306.4 L706.4,2305.4 L707.7,2304.3 L709.0,2303.2 L710.4,2302.0 L711.7,2300.9 L713.0,2299.8 L714.3,2298.7 L715.6,2297.5 L716.9,2296.4 L718.2,2295.3 L719.5,2294.1 L720.8,2293.0 L722.2,2291.8 L723.5,2290.6 L724.8,2289.5 L726.1,2288.3 L727.4,2287.1 L728.7,2285.9 L730.0,2284.7 L731.3,2283.4 L732.6,2282.2 L734.0,2281.0 L735.3,2279.7 L736.6,2278.4 L737.9,2277.1 L739.2,2275.8 L740.5,2274.5 L741.8,2273.2 L743.1,2271.8 L744.4,2270.5 L745.8,2269.2 L747.1,2267.8 L748.4,2266.5 L749.7,2265.2 L751.0,2263.9 L752.3,2262.6 L753.6,2261.3 L754.9,2260.0 L756.2,2258.8 L757.6,2257.6 L758.9,2256.4 L760.2,2255.2 L761.5,2254.0 L762.8,2252.9 L764.1,2251.8 L765.4,2250.8 L766.7,2249.8 L768.0,2248.8 L769.3,2247.9 L770.7,2246.9 L772.0,2246.0 L773.3,2245.2 L774.6,2244.4 L775.9,2243.6 L777.2,2242.8 L778.5,2242.0 L779.8,2241.3 L781.1,2240.6 L782.5,2239.9 L783.8,2239.2 L785.1,2238.5 L786.4,2237.9 L787.7,2237.2 L789.0,2236.6 L790.3,2236.0 L791.6,2235.3 L792.9,2234.7 L794.3,2234.1 L795.6,2233.5 L796.9,2232.9 L798.2,2232.3 L799.5,2231.7 L800.8,2231.1 L802.1,2230.5 L803.4,2229.8 L804.7,2229.2 L806.1,2228.6 L807.4,2228.0 L808.7,2227.3 L810.0,2226.7 L811.3,2226.0 L812.6,2225.3 L813.9,2224.7 L815.2,2224.0 L816.5,2223.3 L817.9,2222.6 L819.2,2221.9 L820.5,2221.2 L821.8,2220.5 L823.1,2219.8 L824.4,2219.1 L825.7,2218.4 L827.0,2217.7 L828.3,2216.9 L829.7,2216.2 L831.0,2215.4 L832.3,2214.6 L833.6,2213.8 L834.9,2213.0 L836.2,2212.1 L837.5,2211.3 L838.8,2210.4 L840.1,2209.5 L841.5,2208.5 L842.8,2207.6 L844.1,2206.6 L845.4,2205.6 L846.7,2204.6 L848.0,2203.6 L849.3,2202.6 L850.6,2201.6 L851.9,2200.6 L853.3,2199.6 L854.6,2198.6 L855.9,2197.7 L857.2,2196.8 L858.5,2196.0 L859.8,2195.2 L861.1,2194.5 L862.4,2193.9 L863.7,2193.5 L865.1,2193.1 L866.4,2192.8 L867.7,2192.7 L869.0,2192.7 L870.3,2192.9 L871.6,2193.2 L872.9,2193.6 L874.2,2194.1 L875.5,2194.8 L876.9,2195.5 L878.2,2196.3 L879.5,2197.2 L880.8,2198.1 L882.1,2199.0 L883.4,2200.0 L884.7,2201.0 L886.0,2202.0 L887.3,2203.0 L888.7,2204.1 L890.0,2205.1 L891.3,2206.2 L892.6,2207.2 L893.9,2208.2 L895.2,2209.2 L896.5,2210.2 L897.8,2211.2 L899.1,2212.2 L900.4,2213.2 L901.8,2214.1 L903.1,2215.1 L904.4,2216.0 L905.7,2216.9 L907.0,2217.8 L908.3,2218.7 L909.6,2219.5 L910.9,2220.3 L912.2,2221.1 L913.6,2221.9 L914.9,2222.7 L916.2,2223.4 L917.5,2224.1 L918.8,2224.7 L920.1,2225.3 L921.4,2225.9 L922.7,2226.4 L924.0,2226.9 L925.4,2227.3 L926.7,2227.7 L928.0,2228.1 L929.3,2228.4 L930.6,2228.7 L931.9,2229.0 L933.2,2229.3 L934.5,2229.5 L935.8,2229.8 L937.2,2230.0 L938.5,2230.2 L939.8,2230.5 L941.1,2230.7 L942.4,2231.0 L943.7,2231.3 L945.0,2231.5 L946.3,2231.9 L947.6,2232.2 L949.0,2232.6 L950.3,2233.1 L951.6,2233.6 L952.9,2234.2 L954.2,2234.8 L955.5,2235.5 L956.8,2236.3 L958.1,2237.2 L959.4,2238.2 L960.8,2239.2 L962.1,2240.3 L963.4,2241.5 L964.7,2242.8 L966.0,2244.1 L967.3,2245.6 L968.6,2247.1 L969.9,2248.6 L971.2,2250.3 L972.6,2252.0 L973.9,2253.8 L975.2,2255.7 L976.5,2257.7 L977.8,2259.7 L979.1,2261.7 L980.4,2263.9 L981.7,2266.1 L983.0,2268.3 L984.4,2270.6 L985.7,2273.0 L987.0,2275.4 L988.3,2277.8 L989.6,2280.3 L990.9,2282.9 L992.2,2285.4 L993.5,2288.0 L994.8,2290.7 L996.2,2293.4 L997.5,2296.0 L998.8,2298.8 L1000.1,2301.5 L1001.4,2304.2 L1002.7,2307.0 L1004.0,2309.7 L1005.3,2312.5 L1006.6,2315.2 L1008.0,2318.0 L1009.3,2320.7 L1010.6,2323.4 L1011.9,2326.1 L1013.2,2328.8 L1014.5,2331.4 L1015.8,2334.0 L1017.1,2336.6 L1018.4,2339.2 L1019.8,2341.7 L1021.1,2344.1 L1022.4,2346.5 L1023.7,2348.9 L1025.0,2351.2 L1026.3,2353.4 L1027.6,2355.6 L1028.9,2357.7 L1030.2,2359.8 L1031.5,2361.8 L1032.9,2363.8 L1034.2,2365.7 L1035.5,2367.5 L1036.8,2369.2 L1038.1,2370.9 L1039.4,2372.5 L1040.7,2374.0 L1042.0,2375.5 L1043.3,2376.9 L1044.7,2378.2 L1046.0,2379.4 L1047.3,2380.6 L1048.6,2381.8 L1049.9,2382.8 L1051.2,2383.8 L1052.5,2384.8 L1053.8,2385.8 L1055.1,2386.6 L1056.5,2387.5 L1057.8,2388.3 L1059.1,2389.1 L1060.4,2389.8 L1061.7,2390.5 L1063.0,2391.1 L1064.3,2391.8 L1065.6,2392.3 L1066.9,2392.9 L1068.3,2393.4 L1069.6,2393.9 L1070.9,2394.3 L1072.2,2394.7 L1073.5,2395.1 L1074.8,2395.5 L1076.1,2395.8 L1077.4,2396.1 L1078.7,2396.4 L1080.1,2396.7 L1081.4,2397.0 L1082.7,2397.3 L1084.0,2397.5 L1085.3,2397.7 L1086.6,2397.9 L1087.9,2398.1 L1089.2,2398.3 L1090.5,2398.4 L1091.9,2398.6 L1093.2,2398.7 L1094.5,2398.8 L1095.8,2398.8 L1097.1,2398.9" stroke="#b3dcc9" stroke-width="6.2"/>
<path d="M310.5,2011.3 L311.8,2013.0 L313.1,2014.9 L314.4,2016.9 L315.7,2019.0 L317.1,2021.2 L318.4,2023.5 L319.7,2026.0 L321.0,2028.6 L322.3,2031.2 L323.6,2033.9 L324.9,2036.7 L326.2,2039.6 L327.5,2042.6 L328.9,2045.6 L330.2,2048.7 L331.5,2052.1 L332.8,2055.9 L334.1,2059.8 L335.4,2064.0 L336.7,2068.2 L338.0,2072.5 L339.3,2076.7 L340.7,2080.8 L342.0,2084.8 L343.3,2088.5 L344.6,2092.0 L345.9,2095.5 L347.2,2099.2 L348.5,2102.9 L349.8,2106.5 L351.1,2110.0 L352.5,2113.4 L353.8,2116.4 L355.1,2119.2 L356.4,2121.5 L357.7,2123.4 L359.0,2124.7 L360.3,2125.8 L361.6,2126.8 L362.9,2127.8 L364.3,2128.6 L365.6,2129.4 L366.9,2130.2 L368.2,2130.8 L369.5,2131.3 L370.8,2131.7 L372.1,2132.0 L373.4,2132.2 L374.7,2132.3 L376.1,2132.5 L377.4,2132.6 L378.7,2132.7 L380.0,2132.8 L381.3,2132.9 L382.6,2132.9 L383.9,2133.0 L385.2,2133.1 L386.5,2133.1 L387.8,2133.2 L389.2,2133.2 L390.5,2133.3 L391.8,2133.3 L393.1,2133.3 L394.4,2133.3 L395.7,2133.3 L397.0,2133.3 L398.3,2133.2 L399.6,2133.1 L401.0,2132.9 L402.3,2132.7 L403.6,2132.5 L404.9,2132.3 L406.2,2132.1 L407.5,2131.9 L408.8,2131.6 L410.1,2131.5 L411.4,2131.3 L412.8,2131.2 L414.1,2131.1 L415.4,2131.1 L416.7,2131.4 L418.0,2132.1 L419.3,2133.2 L420.6,2134.5 L421.9,2136.1 L423.2,2137.9 L424.6,2139.8 L425.9,2141.8 L427.2,2143.9 L428.5,2145.9 L429.8,2147.9 L431.1,2149.8 L432.4,2151.6 L433.7,2153.1 L435.0,2154.7 L436.4,2156.2 L437.7,2157.7 L439.0,2159.1 L440.3,2160.6 L441.6,2162.1 L442.9,2163.7 L444.2,2165.2 L445.5,2166.8 L446.8,2168.4 L448.2,2170.1 L449.5,2171.8 L450.8,2173.6 L452.1,2175.5 L453.4,2177.3 L454.7,2179.2 L456.0,2181.1 L457.3,2183.1 L458.6,2185.2 L460.0,2187.4 L461.3,2189.7 L462.6,2192.2 L463.9,2194.9 L465.2,2197.8 L466.5,2201.2 L467.8,2204.9 L469.1,2209.0 L470.4,2213.4 L471.8,2218.1 L473.1,2223.5 L474.4,2229.6 L475.7,2236.2 L477.0,2243.1 L478.3,2249.9 L479.6,2256.5 L480.9,2262.6 L482.2,2268.4 L483.6,2274.4 L484.9,2280.3 L486.2,2286.2 L487.5,2291.9 L488.8,2297.4 L490.1,2302.6 L491.4,2307.3 L492.7,2311.6 L494.0,2315.3 L495.4,2318.7 L496.7,2321.9 L498.0,2325.1 L499.3,2328.1 L500.6,2330.9 L501.9,2333.4 L503.2,2335.7 L504.5,2337.6 L505.8,2339.1 L507.1,2340.3 L508.5,2341.1 L509.8,2341.9 L511.1,2342.6 L512.4,2343.2 L513.7,2343.8 L515.0,2344.3 L516.3,2344.7 L517.6,2345.1 L518.9,2345.5 L520.3,2345.8 L521.6,2346.1 L522.9,2346.4 L524.2,2346.7 L525.5,2346.9 L526.8,2347.2 L528.1,2347.4 L529.4,2347.6 L530.7,2347.8 L532.1,2348.0 L533.4,2348.2 L534.7,2348.4 L536.0,2348.6 L537.3,2348.7 L538.6,2348.9 L539.9,2349.1 L541.2,2349.2 L542.5,2349.3 L543.9,2349.5 L545.2,2349.6 L546.5,2349.7 L547.8,2349.8 L549.1,2349.9 L550.4,2350.1 L551.7,2350.2 L553.0,2350.3 L554.3,2350.4 L555.7,2350.5 L557.0,2350.6 L558.3,2350.7 L559.6,2350.8 L560.9,2350.9 L562.2,2351.0 L563.5,2351.0 L564.8,2351.1 L566.1,2351.1 L567.5,2351.2 L568.8,2351.2 L570.1,2351.2 L571.4,2351.3 L572.7,2351.3 L574.0,2351.3 L575.3,2351.3 L576.6,2351.3 L577.9,2351.3 L579.3,2351.3 L580.6,2351.3 L581.9,2351.2 L583.2,2351.2 L584.5,2351.2 L585.8,2351.2 L587.1,2351.1 L588.4,2351.1 L589.7,2351.1 L591.1,2351.0 L592.4,2351.0 L593.7,2351.0 L595.0,2350.9 L596.3,2350.9 L597.6,2350.8 L598.9,2350.8 L600.2,2350.8 L601.5,2350.7 L602.9,2350.7 L604.2,2350.6 L605.5,2350.5 L606.8,2350.5 L608.1,2350.4 L609.4,2350.3 L610.7,2350.2 L612.0,2350.1 L613.3,2350.0 L614.7,2349.9 L616.0,2349.7 L617.3,2349.5 L618.6,2349.3 L619.9,2349.0 L621.2,2348.7 L622.5,2348.3 L623.8,2347.9 L625.1,2347.4 L626.5,2346.9 L627.8,2346.2 L629.1,2345.6 L630.4,2344.8 L631.7,2344.0 L633.0,2343.2 L634.3,2342.3 L635.6,2341.4 L636.9,2340.4 L638.2,2339.4 L639.6,2338.4 L640.9,2337.4 L642.2,2336.4 L643.5,2335.4 L644.8,2334.4 L646.1,2333.4 L647.4,2332.3 L648.7,2331.4 L650.0,2330.4 L651.4,2329.4 L652.7,2328.4 L654.0,2327.5 L655.3,2326.6 L656.6,2325.6 L657.9,2324.7 L659.2,2323.8 L660.5,2322.9 L661.8,2322.0 L663.2,2321.1 L664.5,2320.1 L665.8,2319.2 L667.1,2318.3 L668.4,2317.3 L669.7,2316.4 L671.0,2315.4 L672.3,2314.4 L673.6,2313.5 L675.0,2312.5 L676.3,2311.4 L677.6,2310.4 L678.9,2309.3 L680.2,2308.3 L681.5,2307.2 L682.8,2306.1 L684.1,2304.9 L685.4,2303.7 L686.8,2302.6 L688.1,2301.3 L689.4,2300.1 L690.7,2298.8 L692.0,2297.6 L693.3,2296.3 L694.6,2294.9 L695.9,2293.6 L697.2,2292.2 L698.6,2290.8 L699.9,2289.4 L701.2,2288.0 L702.5,2286.5 L703.8,2285.0 L705.1,2283.6 L706.4,2282.1 L707.7,2280.6 L709.0,2279.1 L710.4,2277.5 L711.7,2276.0 L713.0,2274.5 L714.3,2272.9 L715.6,2271.4 L716.9,2269.8 L718.2,2268.3 L719.5,2266.7 L720.8,2265.1 L722.2,2263.6 L723.5,2262.0 L724.8,2260.4 L726.1,2258.9 L727.4,2257.3 L728.7,2255.7 L730.0,2254.1 L731.3,2252.5 L732.6,2250.9 L734.0,2249.2 L735.3,2247.6 L736.6,2245.9 L737.9,2244.3 L739.2,2242.6 L740.5,2240.9 L741.8,2239.2 L743.1,2237.5 L744.4,2235.9 L745.8,2234.2 L747.1,2232.5 L748.4,2230.8 L749.7,2229.1 L751.0,2227.4 L752.3,2225.7 L753.6,2224.0 L754.9,2222.3 L756.2,2220.7 L757.6,2219.0 L758.9,2217.4 L760.2,2215.8 L761.5,2214.2 L762.8,2212.6 L764.1,2211.0 L765.4,2209.5 L766.7,2208.0 L768.0,2206.5 L769.3,2205.1 L770.7,2203.6 L772.0,2202.2 L773.3,2200.9 L774.6,2199.5 L775.9,2198.2 L777.2,2196.9 L778.5,2195.6 L779.8,2194.3 L781.1,2193.0 L782.5,2191.8 L783.8,2190.5 L785.1,2189.3 L786.4,2188.0 L787.7,2186.7 L789.0,2185.4 L790.3,2184.0 L791.6,2182.7 L792.9,2181.3 L794.3,2179.8 L795.6,2178.3 L796.9,2176.8 L798.2,2175.2 L799.5,2173.5 L800.8,2171.8 L802.1,2170.1 L803.4,2168.3 L804.7,2166.6 L806.1,2164.7 L807.4,2162.9 L808.7,2161.1 L810.0,2159.3 L811.3,2157.5 L812.6,2155.8 L813.9,2154.0 L815.2,2152.3 L816.5,2150.7 L817.9,2149.0 L819.2,2147.4 L820.5,2145.8 L821.8,2144.2 L823.1,2142.7 L824.4,2141.2 L825.7,2139.7 L827.0,2138.2 L828.3,2136.7 L829.7,2135.2 L831.0,2133.8 L832.3,2132.4 L833.6,2130.9 L834.9,2129.5 L836.2,2128.1 L837.5,2126.7 L838.8,2125.3 L840.1,2124.0 L841.5,2122.7 L842.8,2121.4 L844.1,2120.1 L845.4,2118.9 L846.7,2117.7 L848.0,2116.6 L849.3,2115.5 L850.6,2114.6 L851.9,2113.6 L853.3,2112.8 L854.6,2112.1 L855.9,2111.5 L857.2,2111.0 L858.5,2110.7 L859.8,2110.5 L861.1,2110.4 L862.4,2110.4 L863.7,2110.6 L865.1,2110.8 L866.4,2111.2 L867.7,2111.7 L869.0,2112.2 L870.3,2112.9 L871.6,2113.6 L872.9,2114.3 L874.2,2115.2 L875.5,2116.0 L876.9,2116.9 L878.2,2117.8 L879.5,2118.7 L880.8,2119.7 L882.1,2120.6 L883.4,2121.5 L884.7,2122.4 L886.0,2123.3 L887.3,2124.2 L888.7,2125.0 L890.0,2125.9 L891.3,2126.7 L892.6,2127.6 L893.9,2128.5 L895.2,2129.3 L896.5,2130.2 L897.8,2131.1 L899.1,2132.0 L900.4,2132.9 L901.8,2133.9 L903.1,2134.8 L904.4,2135.8 L905.7,2136.8 L907.0,2137.8 L908.3,2138.9 L909.6,2139.9 L910.9,2141.0 L912.2,2142.0 L913.6,2143.1 L914.9,2144.1 L916.2,2145.2 L917.5,2146.2 L918.8,2147.2 L920.1,2148.3 L921.4,2149.3 L922.7,2150.3 L924.0,2151.4 L925.4,2152.4 L926.7,2153.3 L928.0,2154.3 L929.3,2155.2 L930.6,2156.2 L931.9,2157.0 L933.2,2157.9 L934.5,2158.6 L935.8,2159.4 L937.2,2160.1 L938.5,2160.7 L939.8,2161.3 L941.1,2161.8 L942.4,2162.3 L943.7,2162.7 L945.0,2163.2 L946.3,2163.6 L947.6,2164.0 L949.0,2164.4 L950.3,2164.8 L951.6,2165.3 L952.9,2165.9 L954.2,2166.5 L955.5,2167.1 L956.8,2167.9 L958.1,2168.8 L959.4,2169.7 L960.8,2170.8 L962.1,2171.9 L963.4,2173.2 L964.7,2174.5 L966.0,2175.9 L967.3,2177.4 L968.6,2178.9 L969.9,2180.5 L971.2,2182.1 L972.6,2183.8 L973.9,2185.5 L975.2,2187.3 L976.5,2189.2 L977.8,2191.2 L979.1,2193.2 L980.4,2195.3 L981.7,2197.6 L983.0,2199.9 L984.4,2202.4 L985.7,2205.0 L987.0,2207.7 L988.3,2210.5 L989.6,2213.5 L990.9,2216.5 L992.2,2219.6 L993.5,2222.8 L994.8,2226.1 L996.2,2229.4 L997.5,2232.7 L998.8,2236.1 L1000.1,2239.4 L1001.4,2242.8 L1002.7,2246.1 L1004.0,2249.5 L1005.3,2252.8 L1006.6,2256.1 L1008.0,2259.4 L1009.3,2262.7 L1010.6,2266.0 L1011.9,2269.3 L1013.2,2272.6 L1014.5,2276.0 L1015.8,2279.3 L1017.1,2282.6 L1018.4,2285.9 L1019.8,2289.3 L1021.1,2292.7 L1022.4,2296.0 L1023.7,2299.4 L1025.0,2302.8 L1026.3,2306.2 L1027.6,2309.5 L1028.9,2312.9 L1030.2,2316.2 L1031.5,2319.4 L1032.9,2322.6 L1034.2,2325.7 L1035.5,2328.8 L1036.8,2331.7 L1038.1,2334.6 L1039.4,2337.4 L1040.7,2340.1 L1042.0,2342.7 L1043.3,2345.2 L1044.7,2347.7 L1046.0,2350.0 L1047.3,2352.3 L1048.6,2354.5 L1049.9,2356.6 L1051.2,2358.6 L1052.5,2360.5 L1053.8,2362.4 L1055.1,2364.2 L1056.5,2365.9 L1057.8,2367.5 L1059.1,2369.1 L1060.4,2370.6 L1061.7,2372.0 L1063.0,2373.4 L1064.3,2374.7 L1065.6,2376.0 L1066.9,2377.2 L1068.3,2378.5 L1069.6,2379.6 L1070.9,2380.8 L1072.2,2381.9 L1073.5,2383.0 L1074.8,2384.0 L1076.1,2385.1 L1077.4,2386.0 L1078.7,2387.0 L1080.1,2387.9 L1081.4,2388.8 L1082.7,2389.6 L1084.0,2390.3 L1085.3,2391.1 L1086.6,2391.7 L1087.9,2392.3 L1089.2,2392.9 L1090.5,2393.4 L1091.9,2393.8 L1093.2,2394.2 L1094.5,2394.5 L1095.8,2394.8 L1097.1,2395.0" stroke="#86c4cd" stroke-width="6.2"/>
<path d="M310.5,1965.8 L311.8,1968.9 L313.1,1972.0 L314.4,1975.3 L315.7,1978.6 L317.1,1982.0 L318.4,1985.5 L319.7,1989.1 L321.0,1992.7 L322.3,1996.4 L323.6,2000.1 L324.9,2004.0 L326.2,2007.8 L327.5,2011.8 L328.9,2015.8 L330.2,2019.9 L331.5,2024.2 L332.8,2028.8 L334.1,2033.6 L335.4,2038.4 L336.7,2043.3 L338.0,2048.2 L339.3,2053.0 L340.7,2057.6 L342.0,2062.0 L343.3,2066.1 L344.6,2069.9 L345.9,2073.9 L347.2,2078.0 L348.5,2082.1 L349.8,2086.1 L351.1,2090.0 L352.5,2093.6 L353.8,2096.9 L355.1,2099.6 L356.4,2101.8 L357.7,2103.3 L359.0,2104.0 L360.3,2104.5 L361.6,2104.9 L362.9,2105.2 L364.3,2105.6 L365.6,2105.9 L366.9,2106.1 L368.2,2106.3 L369.5,2106.5 L370.8,2106.6 L372.1,2106.7 L373.4,2106.7 L374.7,2106.7 L376.1,2106.7 L377.4,2106.7 L378.7,2106.6 L380.0,2106.6 L381.3,2106.6 L382.6,2106.5 L383.9,2106.5 L385.2,2106.4 L386.5,2106.3 L387.8,2106.2 L389.2,2106.1 L390.5,2106.0 L391.8,2105.9 L393.1,2105.8 L394.4,2105.7 L395.7,2105.6 L397.0,2105.1 L398.3,2104.3 L399.6,2103.3 L401.0,2102.0 L402.3,2100.7 L403.6,2099.5 L404.9,2098.3 L406.2,2097.4 L407.5,2096.9 L408.8,2096.7 L410.1,2096.8 L411.4,2097.0 L412.8,2097.2 L414.1,2097.5 L415.4,2097.9 L416.7,2098.6 L418.0,2099.7 L419.3,2101.1 L420.6,2102.8 L421.9,2104.8 L423.2,2107.0 L424.6,2109.3 L425.9,2111.7 L427.2,2114.1 L428.5,2116.6 L429.8,2118.9 L431.1,2121.1 L432.4,2123.2 L433.7,2125.0 L435.0,2126.8 L436.4,2128.5 L437.7,2130.2 L439.0,2131.9 L440.3,2133.5 L441.6,2135.2 L442.9,2136.9 L444.2,2138.6 L445.5,2140.3 L446.8,2142.0 L448.2,2143.8 L449.5,2145.7 L450.8,2147.6 L452.1,2149.5 L453.4,2151.3 L454.7,2153.1 L456.0,2155.0 L457.3,2156.9 L458.6,2158.9 L460.0,2161.1 L461.3,2163.4 L462.6,2166.0 L463.9,2168.8 L465.2,2171.9 L466.5,2175.7 L467.8,2180.1 L469.1,2185.0 L470.4,2190.2 L471.8,2195.8 L473.1,2201.6 L474.4,2207.9 L475.7,2215.1 L477.0,2222.9 L478.3,2231.1 L479.6,2239.4 L480.9,2247.5 L482.2,2255.4 L483.6,2262.6 L484.9,2269.6 L486.2,2276.7 L487.5,2283.7 L488.8,2290.5 L490.1,2297.0 L491.4,2302.9 L492.7,2308.2 L494.0,2312.5 L495.4,2316.4 L496.7,2320.1 L498.0,2323.6 L499.3,2326.9 L500.6,2329.9 L501.9,2332.7 L503.2,2335.2 L504.5,2337.3 L505.8,2339.0 L507.1,2340.3 L508.5,2341.3 L509.8,2342.3 L511.1,2343.1 L512.4,2343.9 L513.7,2344.6 L515.0,2345.3 L516.3,2345.8 L517.6,2346.3 L518.9,2346.6 L520.3,2346.9 L521.6,2347.2 L522.9,2347.4 L524.2,2347.6 L525.5,2347.9 L526.8,2348.1 L528.1,2348.3 L529.4,2348.4 L530.7,2348.6 L532.1,2348.8 L533.4,2348.9 L534.7,2349.1 L536.0,2349.2 L537.3,2349.3 L538.6,2349.4 L539.9,2349.5 L541.2,2349.6 L542.5,2349.6 L543.9,2349.7 L545.2,2349.7 L546.5,2349.7 L547.8,2349.7 L549.1,2349.7 L550.4,2349.7 L551.7,2349.6 L553.0,2349.6 L554.3,2349.5 L555.7,2349.5 L557.0,2349.4 L558.3,2349.4 L559.6,2349.3 L560.9,2349.3 L562.2,2349.2 L563.5,2349.1 L564.8,2349.0 L566.1,2349.0 L567.5,2348.9 L568.8,2348.8 L570.1,2348.7 L571.4,2348.6 L572.7,2348.6 L574.0,2348.5 L575.3,2348.4 L576.6,2348.3 L577.9,2348.2 L579.3,2348.1 L580.6,2347.9 L581.9,2347.8 L583.2,2347.7 L584.5,2347.6 L585.8,2347.4 L587.1,2347.3 L588.4,2347.1 L589.7,2347.0 L591.1,2346.8 L592.4,2346.7 L593.7,2346.5 L595.0,2346.3 L596.3,2346.1 L597.6,2345.9 L598.9,2345.7 L600.2,2345.5 L601.5,2345.3 L602.9,2345.0 L604.2,2344.8 L605.5,2344.5 L606.8,2344.3 L608.1,2344.0 L609.4,2343.6 L610.7,2343.3 L612.0,2343.0 L613.3,2342.6 L614.7,2342.2 L616.0,2341.7 L617.3,2341.2 L618.6,2340.7 L619.9,2340.1 L621.2,2339.5 L622.5,2338.8 L623.8,2338.0 L625.1,2337.2 L626.5,2336.3 L627.8,2335.4 L629.1,2334.4 L630.4,2333.3 L631.7,2332.2 L633.0,2331.0 L634.3,2329.8 L635.6,2328.6 L636.9,2327.3 L638.2,2326.0 L639.6,2324.7 L640.9,2323.4 L642.2,2322.0 L643.5,2320.7 L644.8,2319.3 L646.1,2318.0 L647.4,2316.7 L648.7,2315.3 L650.0,2314.0 L651.4,2312.7 L652.7,2311.4 L654.0,2310.1 L655.3,2308.8 L656.6,2307.6 L657.9,2306.3 L659.2,2305.0 L660.5,2303.7 L661.8,2302.5 L663.2,2301.2 L664.5,2299.9 L665.8,2298.6 L667.1,2297.3 L668.4,2296.0 L669.7,2294.7 L671.0,2293.3 L672.3,2292.0 L673.6,2290.6 L675.0,2289.2 L676.3,2287.8 L677.6,2286.4 L678.9,2285.0 L680.2,2283.5 L681.5,2282.0 L682.8,2280.5 L684.1,2279.0 L685.4,2277.4 L686.8,2275.8 L688.1,2274.2 L689.4,2272.6 L690.7,2271.0 L692.0,2269.3 L693.3,2267.6 L694.6,2265.8 L695.9,2264.1 L697.2,2262.3 L698.6,2260.5 L699.9,2258.7 L701.2,2256.9 L702.5,2255.0 L703.8,2253.2 L705.1,2251.3 L706.4,2249.4 L707.7,2247.5 L709.0,2245.6 L710.4,2243.7 L711.7,2241.8 L713.0,2239.9 L714.3,2237.9 L715.6,2236.0 L716.9,2234.1 L718.2,2232.1 L719.5,2230.2 L720.8,2228.3 L722.2,2226.3 L723.5,2224.4 L724.8,2222.5 L726.1,2220.5 L727.4,2218.6 L728.7,2216.7 L730.0,2214.7 L731.3,2212.8 L732.6,2210.8 L734.0,2208.9 L735.3,2206.9 L736.6,2205.0 L737.9,2203.0 L739.2,2201.1 L740.5,2199.1 L741.8,2197.1 L743.1,2195.2 L744.4,2193.2 L745.8,2191.2 L747.1,2189.2 L748.4,2187.2 L749.7,2185.2 L751.0,2183.3 L752.3,2181.3 L753.6,2179.3 L754.9,2177.3 L756.2,2175.3 L757.6,2173.4 L758.9,2171.4 L760.2,2169.4 L761.5,2167.5 L762.8,2165.5 L764.1,2163.6 L765.4,2161.6 L766.7,2159.7 L768.0,2157.8 L769.3,2155.8 L770.7,2153.9 L772.0,2152.0 L773.3,2150.1 L774.6,2148.1 L775.9,2146.2 L777.2,2144.3 L778.5,2142.4 L779.8,2140.5 L781.1,2138.6 L782.5,2136.7 L783.8,2134.8 L785.1,2132.9 L786.4,2131.0 L787.7,2129.1 L789.0,2127.2 L790.3,2125.4 L791.6,2123.5 L792.9,2121.6 L794.3,2119.8 L795.6,2117.9 L796.9,2116.1 L798.2,2114.2 L799.5,2112.4 L800.8,2110.6 L802.1,2108.8 L803.4,2107.0 L804.7,2105.3 L806.1,2103.5 L807.4,2101.8 L808.7,2100.0 L810.0,2098.3 L811.3,2096.6 L812.6,2094.9 L813.9,2093.3 L815.2,2091.6 L816.5,2090.0 L817.9,2088.4 L819.2,2086.8 L820.5,2085.2 L821.8,2083.6 L823.1,2082.0 L824.4,2080.5 L825.7,2078.9 L827.0,2077.4 L828.3,2075.9 L829.7,2074.4 L831.0,2072.9 L832.3,2071.4 L833.6,2069.9 L834.9,2068.5 L836.2,2067.0 L837.5,2065.6 L838.8,2064.2 L840.1,2062.8 L841.5,2061.4 L842.8,2060.1 L844.1,2058.8 L845.4,2057.5 L846.7,2056.3 L848.0,2055.2 L849.3,2054.1 L850.6,2053.1 L851.9,2052.2 L853.3,2051.4 L854.6,2050.7 L855.9,2050.1 L857.2,2049.7 L858.5,2049.4 L859.8,2049.3 L861.1,2049.3 L862.4,2049.5 L863.7,2049.9 L865.1,2050.4 L866.4,2051.0 L867.7,2051.7 L869.0,2052.5 L870.3,2053.5 L871.6,2054.4 L872.9,2055.5 L874.2,2056.6 L875.5,2057.8 L876.9,2059.0 L878.2,2060.2 L879.5,2061.5 L880.8,2062.9 L882.1,2064.3 L883.4,2065.7 L884.7,2067.2 L886.0,2068.7 L887.3,2070.3 L888.7,2071.9 L890.0,2073.6 L891.3,2075.3 L892.6,2077.1 L893.9,2078.9 L895.2,2080.7 L896.5,2082.6 L897.8,2084.4 L899.1,2086.3 L900.4,2088.2 L901.8,2090.1 L903.1,2092.0 L904.4,2093.9 L905.7,2095.7 L907.0,2097.5 L908.3,2099.3 L909.6,2101.1 L910.9,2102.8 L912.2,2104.5 L913.6,2106.1 L914.9,2107.7 L916.2,2109.2 L917.5,2110.7 L918.8,2112.1 L920.1,2113.5 L921.4,2114.8 L922.7,2116.1 L924.0,2117.3 L925.4,2118.5 L926.7,2119.6 L928.0,2120.7 L929.3,2121.7 L930.6,2122.7 L931.9,2123.6 L933.2,2124.6 L934.5,2125.5 L935.8,2126.3 L937.2,2127.2 L938.5,2128.0 L939.8,2128.8 L941.1,2129.6 L942.4,2130.4 L943.7,2131.2 L945.0,2132.0 L946.3,2132.8 L947.6,2133.6 L949.0,2134.4 L950.3,2135.3 L951.6,2136.1 L952.9,2137.0 L954.2,2137.9 L955.5,2138.9 L956.8,2139.9 L958.1,2140.9 L959.4,2142.1 L960.8,2143.3 L962.1,2144.5 L963.4,2145.9 L964.7,2147.4 L966.0,2149.0 L967.3,2150.8 L968.6,2152.6 L969.9,2154.7 L971.2,2156.8 L972.6,2159.2 L973.9,2161.6 L975.2,2164.2 L976.5,2167.0 L977.8,2170.0 L979.1,2173.1 L980.4,2176.3 L981.7,2179.8 L983.0,2183.3 L984.4,2187.1 L985.7,2191.0 L987.0,2195.1 L988.3,2199.4 L989.6,2203.8 L990.9,2208.3 L992.2,2213.0 L993.5,2217.7 L994.8,2222.5 L996.2,2227.4 L997.5,2232.2 L998.8,2237.1 L1000.1,2242.0 L1001.4,2246.8 L1002.7,2251.5 L1004.0,2256.2 L1005.3,2260.9 L1006.6,2265.5 L1008.0,2270.0 L1009.3,2274.5 L1010.6,2278.9 L1011.9,2283.2 L1013.2,2287.5 L1014.5,2291.8 L1015.8,2296.0 L1017.1,2300.1 L1018.4,2304.2 L1019.8,2308.2 L1021.1,2312.1 L1022.4,2316.0 L1023.7,2319.7 L1025.0,2323.4 L1026.3,2326.9 L1027.6,2330.4 L1028.9,2333.8 L1030.2,2337.0 L1031.5,2340.2 L1032.9,2343.2 L1034.2,2346.1 L1035.5,2348.8 L1036.8,2351.5 L1038.1,2354.0 L1039.4,2356.4 L1040.7,2358.7 L1042.0,2360.9 L1043.3,2363.0 L1044.7,2364.9 L1046.0,2366.8 L1047.3,2368.6 L1048.6,2370.3 L1049.9,2371.9 L1051.2,2373.4 L1052.5,2374.8 L1053.8,2376.1 L1055.1,2377.4 L1056.5,2378.6 L1057.8,2379.7 L1059.1,2380.7 L1060.4,2381.6 L1061.7,2382.5 L1063.0,2383.4 L1064.3,2384.1 L1065.6,2384.9 L1066.9,2385.6 L1068.3,2386.3 L1069.6,2386.9 L1070.9,2387.5 L1072.2,2388.1 L1073.5,2388.7 L1074.8,2389.2 L1076.1,2389.7 L1077.4,2390.2 L1078.7,2390.7 L1080.1,2391.2 L1081.4,2391.6 L1082.7,2392.0 L1084.0,2392.3 L1085.3,2392.7 L1086.6,2393.0 L1087.9,2393.3 L1089.2,2393.5 L1090.5,2393.7 L1091.9,2393.9 L1093.2,2394.1 L1094.5,2394.2 L1095.8,2394.3 L1097.1,2394.4" stroke="#5aaed4" stroke-width="6.2"/>
<path d="M310.5,1957.5 L311.8,1961.1 L313.1,1964.7 L314.4,1968.3 L315.7,1971.8 L317.1,1975.3 L318.4,1978.7 L319.7,1982.1 L321.0,1985.4 L322.3,1988.6 L323.6,1991.8 L324.9,1995.0 L326.2,1998.1 L327.5,2001.1 L328.9,2004.2 L330.2,2007.1 L331.5,2010.1 L332.8,2012.9 L334.1,2015.8 L335.4,2018.5 L336.7,2021.3 L338.0,2024.0 L339.3,2026.9 L340.7,2029.9 L342.0,2032.8 L343.3,2035.5 L344.6,2038.0 L345.9,2040.3 L347.2,2042.1 L348.5,2043.5 L349.8,2044.5 L351.1,2045.6 L352.5,2046.5 L353.8,2047.4 L355.1,2048.1 L356.4,2048.6 L357.7,2048.9 L359.0,2049.0 L360.3,2048.8 L361.6,2048.5 L362.9,2048.0 L364.3,2047.5 L365.6,2046.9 L366.9,2046.5 L368.2,2046.3 L369.5,2046.2 L370.8,2046.3 L372.1,2046.5 L373.4,2046.8 L374.7,2047.2 L376.1,2047.6 L377.4,2048.0 L378.7,2048.5 L380.0,2048.9 L381.3,2049.4 L382.6,2049.8 L383.9,2050.1 L385.2,2050.4 L386.5,2050.6 L387.8,2050.7 L389.2,2050.7 L390.5,2050.6 L391.8,2050.5 L393.1,2050.4 L394.4,2050.3 L395.7,2050.1 L397.0,2050.0 L398.3,2049.8 L399.6,2049.7 L401.0,2049.5 L402.3,2049.4 L403.6,2049.3 L404.9,2049.1 L406.2,2049.1 L407.5,2049.0 L408.8,2049.1 L410.1,2050.6 L411.4,2053.0 L412.8,2055.0 L414.1,2057.0 L415.4,2059.1 L416.7,2061.2 L418.0,2063.3 L419.3,2065.4 L420.6,2067.5 L421.9,2069.6 L423.2,2071.6 L424.6,2073.7 L425.9,2075.7 L427.2,2077.8 L428.5,2079.9 L429.8,2082.0 L431.1,2084.1 L432.4,2086.1 L433.7,2088.1 L435.0,2089.9 L436.4,2091.7 L437.7,2093.3 L439.0,2094.8 L440.3,2096.1 L441.6,2097.3 L442.9,2098.4 L444.2,2099.5 L445.5,2100.5 L446.8,2101.5 L448.2,2102.5 L449.5,2103.7 L450.8,2104.9 L452.1,2106.2 L453.4,2107.7 L454.7,2109.4 L456.0,2111.1 L457.3,2113.0 L458.6,2115.2 L460.0,2117.5 L461.3,2120.3 L462.6,2123.4 L463.9,2127.0 L465.2,2131.4 L466.5,2138.3 L467.8,2147.4 L469.1,2157.7 L470.4,2168.3 L471.8,2179.7 L473.1,2192.6 L474.4,2205.7 L475.7,2218.2 L477.0,2229.9 L478.3,2241.3 L479.6,2252.3 L480.9,2262.6 L482.2,2272.6 L483.6,2282.3 L484.9,2291.2 L486.2,2298.7 L487.5,2305.2 L488.8,2311.3 L490.1,2316.9 L491.4,2321.9 L492.7,2326.0 L494.0,2329.2 L495.4,2331.7 L496.7,2334.1 L498.0,2336.2 L499.3,2338.1 L500.6,2339.8 L501.9,2341.2 L503.2,2342.3 L504.5,2343.0 L505.8,2343.7 L507.1,2344.3 L508.5,2344.8 L509.8,2345.3 L511.1,2345.8 L512.4,2346.2 L513.7,2346.6 L515.0,2346.9 L516.3,2347.1 L517.6,2347.3 L518.9,2347.4 L520.3,2347.5 L521.6,2347.5 L522.9,2347.5 L524.2,2347.5 L525.5,2347.5 L526.8,2347.4 L528.1,2347.4 L529.4,2347.4 L530.7,2347.4 L532.1,2347.4 L533.4,2347.3 L534.7,2347.3 L536.0,2347.3 L537.3,2347.2 L538.6,2347.2 L539.9,2347.1 L541.2,2347.1 L542.5,2347.1 L543.9,2347.0 L545.2,2347.0 L546.5,2346.9 L547.8,2346.9 L549.1,2346.8 L550.4,2346.7 L551.7,2346.6 L553.0,2346.5 L554.3,2346.4 L555.7,2346.3 L557.0,2346.2 L558.3,2346.0 L559.6,2345.9 L560.9,2345.7 L562.2,2345.6 L563.5,2345.4 L564.8,2345.2 L566.1,2345.0 L567.5,2344.9 L568.8,2344.7 L570.1,2344.5 L571.4,2344.3 L572.7,2344.0 L574.0,2343.8 L575.3,2343.6 L576.6,2343.3 L577.9,2343.1 L579.3,2342.8 L580.6,2342.5 L581.9,2342.2 L583.2,2341.9 L584.5,2341.6 L585.8,2341.3 L587.1,2340.9 L588.4,2340.6 L589.7,2340.2 L591.1,2339.8 L592.4,2339.4 L593.7,2339.0 L595.0,2338.6 L596.3,2338.2 L597.6,2337.8 L598.9,2337.3 L600.2,2336.9 L601.5,2336.4 L602.9,2335.9 L604.2,2335.4 L605.5,2334.9 L606.8,2334.4 L608.1,2333.8 L609.4,2333.2 L610.7,2332.6 L612.0,2332.0 L613.3,2331.3 L614.7,2330.6 L616.0,2329.9 L617.3,2329.1 L618.6,2328.3 L619.9,2327.5 L621.2,2326.6 L622.5,2325.7 L623.8,2324.7 L625.1,2323.6 L626.5,2322.6 L627.8,2321.4 L629.1,2320.3 L630.4,2319.0 L631.7,2317.8 L633.0,2316.5 L634.3,2315.1 L635.6,2313.8 L636.9,2312.4 L638.2,2310.9 L639.6,2309.5 L640.9,2308.0 L642.2,2306.5 L643.5,2305.0 L644.8,2303.5 L646.1,2302.0 L647.4,2300.5 L648.7,2298.9 L650.0,2297.3 L651.4,2295.8 L652.7,2294.2 L654.0,2292.6 L655.3,2291.0 L656.6,2289.4 L657.9,2287.8 L659.2,2286.1 L660.5,2284.4 L661.8,2282.8 L663.2,2281.1 L664.5,2279.3 L665.8,2277.6 L667.1,2275.9 L668.4,2274.1 L669.7,2272.3 L671.0,2270.5 L672.3,2268.7 L673.6,2266.8 L675.0,2265.0 L676.3,2263.1 L677.6,2261.2 L678.9,2259.3 L680.2,2257.4 L681.5,2255.4 L682.8,2253.4 L684.1,2251.4 L685.4,2249.4 L686.8,2247.4 L688.1,2245.3 L689.4,2243.2 L690.7,2241.1 L692.0,2238.9 L693.3,2236.7 L694.6,2234.5 L695.9,2232.3 L697.2,2230.1 L698.6,2227.8 L699.9,2225.5 L701.2,2223.2 L702.5,2220.9 L703.8,2218.6 L705.1,2216.2 L706.4,2213.9 L707.7,2211.6 L709.0,2209.2 L710.4,2206.9 L711.7,2204.6 L713.0,2202.3 L714.3,2200.0 L715.6,2197.7 L716.9,2195.4 L718.2,2193.1 L719.5,2190.9 L720.8,2188.6 L722.2,2186.4 L723.5,2184.2 L724.8,2182.1 L726.1,2179.9 L727.4,2177.8 L728.7,2175.7 L730.0,2173.6 L731.3,2171.5 L732.6,2169.4 L734.0,2167.4 L735.3,2165.3 L736.6,2163.3 L737.9,2161.3 L739.2,2159.2 L740.5,2157.2 L741.8,2155.2 L743.1,2153.2 L744.4,2151.3 L745.8,2149.3 L747.1,2147.3 L748.4,2145.4 L749.7,2143.5 L751.0,2141.5 L752.3,2139.7 L753.6,2137.8 L754.9,2135.9 L756.2,2134.1 L757.6,2132.3 L758.9,2130.5 L760.2,2128.7 L761.5,2126.9 L762.8,2125.2 L764.1,2123.5 L765.4,2121.8 L766.7,2120.2 L768.0,2118.5 L769.3,2116.9 L770.7,2115.4 L772.0,2113.8 L773.3,2112.3 L774.6,2110.8 L775.9,2109.3 L777.2,2107.8 L778.5,2106.4 L779.8,2105.0 L781.1,2103.6 L782.5,2102.2 L783.8,2100.9 L785.1,2099.5 L786.4,2098.2 L787.7,2096.9 L789.0,2095.6 L790.3,2094.3 L791.6,2093.0 L792.9,2091.7 L794.3,2090.4 L795.6,2089.2 L796.9,2087.9 L798.2,2086.7 L799.5,2085.4 L800.8,2084.1 L802.1,2082.9 L803.4,2081.6 L804.7,2080.4 L806.1,2079.1 L807.4,2077.8 L808.7,2076.6 L810.0,2075.3 L811.3,2074.0 L812.6,2072.7 L813.9,2071.4 L815.2,2070.1 L816.5,2068.8 L817.9,2067.5 L819.2,2066.2 L820.5,2065.0 L821.8,2063.7 L823.1,2062.4 L824.4,2061.2 L825.7,2059.9 L827.0,2058.7 L828.3,2057.5 L829.7,2056.4 L831.0,2055.2 L832.3,2054.0 L833.6,2052.9 L834.9,2051.7 L836.2,2050.6 L837.5,2049.4 L838.8,2048.3 L840.1,2047.2 L841.5,2046.0 L842.8,2044.9 L844.1,2043.8 L845.4,2042.6 L846.7,2041.6 L848.0,2040.5 L849.3,2039.5 L850.6,2038.5 L851.9,2037.6 L853.3,2036.7 L854.6,2035.9 L855.9,2035.2 L857.2,2034.6 L858.5,2034.2 L859.8,2033.8 L861.1,2033.6 L862.4,2033.5 L863.7,2033.5 L865.1,2033.7 L866.4,2034.0 L867.7,2034.5 L869.0,2035.0 L870.3,2035.7 L871.6,2036.5 L872.9,2037.3 L874.2,2038.3 L875.5,2039.3 L876.9,2040.4 L878.2,2041.5 L879.5,2042.7 L880.8,2044.0 L882.1,2045.3 L883.4,2046.7 L884.7,2048.1 L886.0,2049.6 L887.3,2051.2 L888.7,2052.8 L890.0,2054.4 L891.3,2056.1 L892.6,2057.9 L893.9,2059.7 L895.2,2061.5 L896.5,2063.4 L897.8,2065.3 L899.1,2067.2 L900.4,2069.1 L901.8,2071.1 L903.1,2073.0 L904.4,2074.9 L905.7,2076.9 L907.0,2078.8 L908.3,2080.6 L909.6,2082.5 L910.9,2084.3 L912.2,2086.1 L913.6,2087.9 L914.9,2089.6 L916.2,2091.2 L917.5,2092.8 L918.8,2094.4 L920.1,2095.9 L921.4,2097.3 L922.7,2098.7 L924.0,2100.1 L925.4,2101.4 L926.7,2102.6 L928.0,2103.8 L929.3,2105.0 L930.6,2106.1 L931.9,2107.1 L933.2,2108.2 L934.5,2109.2 L935.8,2110.1 L937.2,2111.1 L938.5,2112.0 L939.8,2112.9 L941.1,2113.7 L942.4,2114.6 L943.7,2115.5 L945.0,2116.3 L946.3,2117.2 L947.6,2118.1 L949.0,2119.0 L950.3,2119.9 L951.6,2120.8 L952.9,2121.8 L954.2,2122.9 L955.5,2124.0 L956.8,2125.1 L958.1,2126.3 L959.4,2127.6 L960.8,2128.9 L962.1,2130.3 L963.4,2131.9 L964.7,2133.5 L966.0,2135.3 L967.3,2137.1 L968.6,2139.2 L969.9,2141.3 L971.2,2143.7 L972.6,2146.2 L973.9,2148.8 L975.2,2151.7 L976.5,2154.7 L977.8,2157.9 L979.1,2161.4 L980.4,2165.0 L981.7,2168.9 L983.0,2172.9 L984.4,2177.2 L985.7,2181.6 L987.0,2186.3 L988.3,2191.1 L989.6,2196.0 L990.9,2201.1 L992.2,2206.2 L993.5,2211.4 L994.8,2216.5 L996.2,2221.6 L997.5,2226.7 L998.8,2231.6 L1000.1,2236.5 L1001.4,2241.2 L1002.7,2245.8 L1004.0,2250.4 L1005.3,2254.8 L1006.6,2259.2 L1008.0,2263.6 L1009.3,2267.9 L1010.6,2272.2 L1011.9,2276.4 L1013.2,2280.7 L1014.5,2284.9 L1015.8,2289.1 L1017.1,2293.3 L1018.4,2297.5 L1019.8,2301.6 L1021.1,2305.7 L1022.4,2309.7 L1023.7,2313.6 L1025.0,2317.5 L1026.3,2321.3 L1027.6,2325.0 L1028.9,2328.6 L1030.2,2332.0 L1031.5,2335.4 L1032.9,2338.7 L1034.2,2341.9 L1035.5,2344.9 L1036.8,2347.8 L1038.1,2350.5 L1039.4,2353.2 L1040.7,2355.7 L1042.0,2358.1 L1043.3,2360.3 L1044.7,2362.5 L1046.0,2364.5 L1047.3,2366.4 L1048.6,2368.2 L1049.9,2370.0 L1051.2,2371.6 L1052.5,2373.1 L1053.8,2374.6 L1055.1,2375.9 L1056.5,2377.2 L1057.8,2378.3 L1059.1,2379.4 L1060.4,2380.5 L1061.7,2381.4 L1063.0,2382.3 L1064.3,2383.2 L1065.6,2384.0 L1066.9,2384.8 L1068.3,2385.5 L1069.6,2386.2 L1070.9,2386.9 L1072.2,2387.5 L1073.5,2388.1 L1074.8,2388.7 L1076.1,2389.3 L1077.4,2389.8 L1078.7,2390.4 L1080.1,2390.8 L1081.4,2391.3 L1082.7,2391.7 L1084.0,2392.1 L1085.3,2392.5 L1086.6,2392.8 L1087.9,2393.1 L1089.2,2393.4 L1090.5,2393.6 L1091.9,2393.8 L1093.2,2394.0 L1094.5,2394.2 L1095.8,2394.3 L1097.1,2394.4" stroke="#4a8ec6" stroke-width="6.2"/>
<path d="M310.5,1947.5 L311.8,1950.3 L313.1,1953.1 L314.4,1955.8 L315.7,1958.4 L317.1,1961.0 L318.4,1963.4 L319.7,1965.8 L321.0,1968.0 L322.3,1970.1 L323.6,1972.2 L324.9,1974.1 L326.2,1975.9 L327.5,1977.5 L328.9,1979.2 L330.2,1980.8 L331.5,1982.4 L332.8,1983.9 L334.1,1985.4 L335.4,1986.7 L336.7,1988.0 L338.0,1989.1 L339.3,1990.0 L340.7,1990.8 L342.0,1991.4 L343.3,1991.9 L344.6,1992.4 L345.9,1992.9 L347.2,1993.2 L348.5,1993.4 L349.8,1993.5 L351.1,1993.2 L352.5,1992.4 L353.8,1991.2 L355.1,1989.7 L356.4,1987.9 L357.7,1985.9 L359.0,1983.8 L360.3,1981.7 L361.6,1979.8 L362.9,1978.0 L364.3,1976.4 L365.6,1975.2 L366.9,1974.4 L368.2,1974.1 L369.5,1974.4 L370.8,1975.1 L372.1,1976.2 L373.4,1977.6 L374.7,1979.2 L376.1,1980.9 L377.4,1982.7 L378.7,1984.4 L380.0,1986.0 L381.3,1987.3 L382.6,1988.4 L383.9,1989.2 L385.2,1990.0 L386.5,1990.7 L387.8,1991.4 L389.2,1992.1 L390.5,1992.5 L391.8,1992.9 L393.1,1993.0 L394.4,1993.0 L395.7,1993.0 L397.0,1993.0 L398.3,1993.0 L399.6,1993.0 L401.0,1993.0 L402.3,1993.0 L403.6,1993.0 L404.9,1993.0 L406.2,1993.5 L407.5,1994.8 L408.8,1996.6 L410.1,1998.9 L411.4,2001.6 L412.8,2004.5 L414.1,2007.5 L415.4,2010.6 L416.7,2013.5 L418.0,2017.2 L419.3,2021.7 L420.6,2026.8 L421.9,2032.3 L423.2,2037.8 L424.6,2043.1 L425.9,2048.0 L427.2,2052.2 L428.5,2055.4 L429.8,2057.3 L431.1,2058.5 L432.4,2059.5 L433.7,2060.4 L435.0,2061.1 L436.4,2061.7 L437.7,2062.2 L439.0,2062.5 L440.3,2062.8 L441.6,2063.0 L442.9,2063.2 L444.2,2063.4 L445.5,2063.5 L446.8,2063.7 L448.2,2063.9 L449.5,2064.2 L450.8,2064.6 L452.1,2065.2 L453.4,2066.0 L454.7,2067.0 L456.0,2068.3 L457.3,2070.0 L458.6,2072.0 L460.0,2075.1 L461.3,2082.1 L462.6,2091.5 L463.9,2101.7 L465.2,2113.6 L466.5,2127.9 L467.8,2143.0 L469.1,2157.2 L470.4,2170.0 L471.8,2182.5 L473.1,2194.8 L474.4,2207.1 L475.7,2219.9 L477.0,2232.9 L478.3,2245.4 L479.6,2257.1 L480.9,2267.9 L482.2,2278.4 L483.6,2287.9 L484.9,2295.9 L486.2,2302.7 L487.5,2309.0 L488.8,2314.6 L490.1,2319.5 L491.4,2323.6 L492.7,2327.3 L494.0,2330.8 L495.4,2333.9 L496.7,2336.6 L498.0,2338.8 L499.3,2340.3 L500.6,2341.4 L501.9,2342.3 L503.2,2343.2 L504.5,2344.0 L505.8,2344.6 L507.1,2345.1 L508.5,2345.5 L509.8,2345.8 L511.1,2346.0 L512.4,2346.3 L513.7,2346.4 L515.0,2346.6 L516.3,2346.7 L517.6,2346.8 L518.9,2346.9 L520.3,2346.9 L521.6,2346.9 L522.9,2346.9 L524.2,2346.9 L525.5,2346.8 L526.8,2346.7 L528.1,2346.6 L529.4,2346.6 L530.7,2346.5 L532.1,2346.3 L533.4,2346.2 L534.7,2346.1 L536.0,2345.9 L537.3,2345.8 L538.6,2345.7 L539.9,2345.5 L541.2,2345.3 L542.5,2345.2 L543.9,2345.0 L545.2,2344.9 L546.5,2344.7 L547.8,2344.5 L549.1,2344.4 L550.4,2344.2 L551.7,2343.9 L553.0,2343.7 L554.3,2343.5 L555.7,2343.2 L557.0,2343.0 L558.3,2342.7 L559.6,2342.4 L560.9,2342.1 L562.2,2341.8 L563.5,2341.5 L564.8,2341.2 L566.1,2340.9 L567.5,2340.5 L568.8,2340.1 L570.1,2339.7 L571.4,2339.3 L572.7,2338.9 L574.0,2338.5 L575.3,2338.0 L576.6,2337.6 L577.9,2337.1 L579.3,2336.5 L580.6,2336.0 L581.9,2335.4 L583.2,2334.8 L584.5,2334.2 L585.8,2333.6 L587.1,2332.9 L588.4,2332.3 L589.7,2331.6 L591.1,2330.8 L592.4,2330.1 L593.7,2329.3 L595.0,2328.6 L596.3,2327.8 L597.6,2326.9 L598.9,2326.1 L600.2,2325.2 L601.5,2324.3 L602.9,2323.3 L604.2,2322.4 L605.5,2321.4 L606.8,2320.3 L608.1,2319.3 L609.4,2318.2 L610.7,2317.0 L612.0,2315.9 L613.3,2314.7 L614.7,2313.4 L616.0,2312.2 L617.3,2310.8 L618.6,2309.5 L619.9,2308.1 L621.2,2306.7 L622.5,2305.2 L623.8,2303.7 L625.1,2302.1 L626.5,2300.5 L627.8,2298.8 L629.1,2297.1 L630.4,2295.4 L631.7,2293.6 L633.0,2291.8 L634.3,2290.0 L635.6,2288.2 L636.9,2286.3 L638.2,2284.4 L639.6,2282.5 L640.9,2280.6 L642.2,2278.7 L643.5,2276.8 L644.8,2274.9 L646.1,2273.0 L647.4,2271.2 L648.7,2269.3 L650.0,2267.4 L651.4,2265.6 L652.7,2263.7 L654.0,2261.9 L655.3,2260.1 L656.6,2258.3 L657.9,2256.5 L659.2,2254.7 L660.5,2252.9 L661.8,2251.1 L663.2,2249.4 L664.5,2247.6 L665.8,2245.8 L667.1,2244.0 L668.4,2242.2 L669.7,2240.4 L671.0,2238.5 L672.3,2236.7 L673.6,2234.8 L675.0,2233.0 L676.3,2231.1 L677.6,2229.1 L678.9,2227.2 L680.2,2225.2 L681.5,2223.2 L682.8,2221.2 L684.1,2219.1 L685.4,2217.0 L686.8,2214.9 L688.1,2212.7 L689.4,2210.5 L690.7,2208.2 L692.0,2206.0 L693.3,2203.6 L694.6,2201.3 L695.9,2198.9 L697.2,2196.5 L698.6,2194.1 L699.9,2191.6 L701.2,2189.2 L702.5,2186.7 L703.8,2184.2 L705.1,2181.7 L706.4,2179.2 L707.7,2176.7 L709.0,2174.2 L710.4,2171.7 L711.7,2169.2 L713.0,2166.8 L714.3,2164.3 L715.6,2161.9 L716.9,2159.5 L718.2,2157.1 L719.5,2154.8 L720.8,2152.5 L722.2,2150.2 L723.5,2147.9 L724.8,2145.7 L726.1,2143.5 L727.4,2141.4 L728.7,2139.3 L730.0,2137.2 L731.3,2135.1 L732.6,2133.1 L734.0,2131.1 L735.3,2129.1 L736.6,2127.2 L737.9,2125.3 L739.2,2123.4 L740.5,2121.5 L741.8,2119.7 L743.1,2117.9 L744.4,2116.1 L745.8,2114.3 L747.1,2112.6 L748.4,2110.9 L749.7,2109.2 L751.0,2107.6 L752.3,2106.0 L753.6,2104.4 L754.9,2102.9 L756.2,2101.3 L757.6,2099.8 L758.9,2098.4 L760.2,2096.9 L761.5,2095.5 L762.8,2094.2 L764.1,2092.8 L765.4,2091.5 L766.7,2090.2 L768.0,2089.0 L769.3,2087.7 L770.7,2086.5 L772.0,2085.4 L773.3,2084.2 L774.6,2083.1 L775.9,2082.0 L777.2,2081.0 L778.5,2080.0 L779.8,2078.9 L781.1,2078.0 L782.5,2077.0 L783.8,2076.1 L785.1,2075.2 L786.4,2074.3 L787.7,2073.5 L789.0,2072.7 L790.3,2071.9 L791.6,2071.2 L792.9,2070.5 L794.3,2069.8 L795.6,2069.1 L796.9,2068.5 L798.2,2067.9 L799.5,2067.3 L800.8,2066.7 L802.1,2066.2 L803.4,2065.6 L804.7,2065.1 L806.1,2064.6 L807.4,2064.1 L808.7,2063.6 L810.0,2063.1 L811.3,2062.7 L812.6,2062.2 L813.9,2061.7 L815.2,2061.3 L816.5,2060.8 L817.9,2060.4 L819.2,2059.9 L820.5,2059.4 L821.8,2059.0 L823.1,2058.5 L824.4,2058.0 L825.7,2057.5 L827.0,2056.9 L828.3,2056.4 L829.7,2055.8 L831.0,2055.2 L832.3,2054.7 L833.6,2054.1 L834.9,2053.5 L836.2,2053.0 L837.5,2052.5 L838.8,2052.0 L840.1,2051.6 L841.5,2051.2 L842.8,2050.8 L844.1,2050.5 L845.4,2050.2 L846.7,2050.0 L848.0,2049.9 L849.3,2049.7 L850.6,2049.6 L851.9,2049.6 L853.3,2049.6 L854.6,2049.6 L855.9,2049.7 L857.2,2049.8 L858.5,2050.0 L859.8,2050.3 L861.1,2050.6 L862.4,2050.9 L863.7,2051.4 L865.1,2051.8 L866.4,2052.4 L867.7,2052.9 L869.0,2053.6 L870.3,2054.3 L871.6,2055.1 L872.9,2055.9 L874.2,2056.8 L875.5,2057.8 L876.9,2058.8 L878.2,2060.0 L879.5,2061.2 L880.8,2062.6 L882.1,2064.0 L883.4,2065.5 L884.7,2067.1 L886.0,2068.8 L887.3,2070.6 L888.7,2072.5 L890.0,2074.4 L891.3,2076.4 L892.6,2078.5 L893.9,2080.6 L895.2,2082.7 L896.5,2084.8 L897.8,2086.9 L899.1,2089.0 L900.4,2091.1 L901.8,2093.2 L903.1,2095.2 L904.4,2097.3 L905.7,2099.3 L907.0,2101.3 L908.3,2103.3 L909.6,2105.2 L910.9,2107.1 L912.2,2109.0 L913.6,2110.8 L914.9,2112.6 L916.2,2114.3 L917.5,2116.0 L918.8,2117.7 L920.1,2119.3 L921.4,2120.8 L922.7,2122.3 L924.0,2123.8 L925.4,2125.2 L926.7,2126.6 L928.0,2128.0 L929.3,2129.3 L930.6,2130.6 L931.9,2132.0 L933.2,2133.3 L934.5,2134.6 L935.8,2136.0 L937.2,2137.4 L938.5,2138.8 L939.8,2140.2 L941.1,2141.6 L942.4,2143.1 L943.7,2144.6 L945.0,2146.2 L946.3,2147.7 L947.6,2149.3 L949.0,2150.8 L950.3,2152.4 L951.6,2154.0 L952.9,2155.6 L954.2,2157.2 L955.5,2158.8 L956.8,2160.4 L958.1,2162.0 L959.4,2163.6 L960.8,2165.2 L962.1,2166.8 L963.4,2168.4 L964.7,2170.1 L966.0,2171.7 L967.3,2173.5 L968.6,2175.2 L969.9,2177.1 L971.2,2178.9 L972.6,2180.9 L973.9,2182.9 L975.2,2185.0 L976.5,2187.1 L977.8,2189.4 L979.1,2191.7 L980.4,2194.1 L981.7,2196.6 L983.0,2199.2 L984.4,2201.9 L985.7,2204.6 L987.0,2207.5 L988.3,2210.5 L989.6,2213.5 L990.9,2216.6 L992.2,2219.8 L993.5,2223.0 L994.8,2226.3 L996.2,2229.6 L997.5,2232.9 L998.8,2236.2 L1000.1,2239.5 L1001.4,2242.9 L1002.7,2246.2 L1004.0,2249.5 L1005.3,2252.8 L1006.6,2256.1 L1008.0,2259.4 L1009.3,2262.7 L1010.6,2266.0 L1011.9,2269.3 L1013.2,2272.6 L1014.5,2276.0 L1015.8,2279.3 L1017.1,2282.6 L1018.4,2285.9 L1019.8,2289.3 L1021.1,2292.7 L1022.4,2296.0 L1023.7,2299.4 L1025.0,2302.8 L1026.3,2306.2 L1027.6,2309.5 L1028.9,2312.9 L1030.2,2316.2 L1031.5,2319.4 L1032.9,2322.6 L1034.2,2325.7 L1035.5,2328.8 L1036.8,2331.7 L1038.1,2334.6 L1039.4,2337.4 L1040.7,2340.1 L1042.0,2342.7 L1043.3,2345.2 L1044.7,2347.7 L1046.0,2350.0 L1047.3,2352.3 L1048.6,2354.4 L1049.9,2356.5 L1051.2,2358.6 L1052.5,2360.5 L1053.8,2362.4 L1055.1,2364.2 L1056.5,2365.9 L1057.8,2367.5 L1059.1,2369.1 L1060.4,2370.6 L1061.7,2372.1 L1063.0,2373.5 L1064.3,2374.8 L1065.6,2376.1 L1066.9,2377.4 L1068.3,2378.7 L1069.6,2379.9 L1070.9,2381.1 L1072.2,2382.2 L1073.5,2383.3 L1074.8,2384.4 L1076.1,2385.5 L1077.4,2386.5 L1078.7,2387.5 L1080.1,2388.4 L1081.4,2389.3 L1082.7,2390.2 L1084.0,2391.0 L1085.3,2391.7 L1086.6,2392.4 L1087.9,2393.1 L1089.2,2393.7 L1090.5,2394.2 L1091.9,2394.7 L1093.2,2395.1 L1094.5,2395.5 L1095.8,2395.8 L1097.1,2396.0" stroke="#4a6fb3" stroke-width="6.2"/>
<path d="M310.5,1944.7 L311.8,1944.9 L313.1,1945.1 L314.4,1945.3 L315.7,1945.5 L317.1,1945.6 L318.4,1945.6 L319.7,1945.7 L321.0,1945.8 L322.3,1945.8 L323.6,1945.8 L324.9,1945.8 L326.2,1945.8 L327.5,1945.8 L328.9,1945.6 L330.2,1945.1 L331.5,1944.5 L332.8,1943.7 L334.1,1942.7 L335.4,1941.6 L336.7,1940.4 L338.0,1939.2 L339.3,1937.8 L340.7,1936.4 L342.0,1935.0 L343.3,1933.2 L344.6,1930.9 L345.9,1928.2 L347.2,1925.3 L348.5,1922.2 L349.8,1919.0 L351.1,1915.9 L352.5,1913.0 L353.8,1910.3 L355.1,1907.8 L356.4,1905.3 L357.7,1902.9 L359.0,1900.5 L360.3,1898.1 L361.6,1895.7 L362.9,1893.4 L364.3,1891.0 L365.6,1888.0 L366.9,1885.4 L368.2,1884.2 L369.5,1884.6 L370.8,1885.6 L372.1,1887.1 L373.4,1888.9 L374.7,1890.8 L376.1,1892.8 L377.4,1895.4 L378.7,1898.6 L380.0,1902.0 L381.3,1905.5 L382.6,1908.7 L383.9,1911.5 L385.2,1913.8 L386.5,1915.9 L387.8,1918.0 L389.2,1919.9 L390.5,1921.6 L391.8,1923.0 L393.1,1924.2 L394.4,1925.0 L395.7,1925.7 L397.0,1926.2 L398.3,1926.7 L399.6,1927.1 L401.0,1927.6 L402.3,1928.2 L403.6,1929.0 L404.9,1929.9 L406.2,1931.4 L407.5,1933.4 L408.8,1935.9 L410.1,1938.8 L411.4,1942.0 L412.8,1945.4 L414.1,1949.0 L415.4,1953.4 L416.7,1958.6 L418.0,1964.3 L419.3,1970.3 L420.6,1976.2 L421.9,1981.9 L423.2,1987.3 L424.6,1992.7 L425.9,1998.1 L427.2,2003.3 L428.5,2008.3 L429.8,2012.9 L431.1,2017.7 L432.4,2022.7 L433.7,2027.4 L435.0,2031.3 L436.4,2033.6 L437.7,2033.9 L439.0,2032.6 L440.3,2030.5 L441.6,2028.2 L442.9,2026.2 L444.2,2025.2 L445.5,2025.1 L446.8,2025.1 L448.2,2025.1 L449.5,2025.1 L450.8,2025.4 L452.1,2027.7 L453.4,2031.9 L454.7,2037.2 L456.0,2042.9 L457.3,2049.7 L458.6,2058.5 L460.0,2068.6 L461.3,2079.5 L462.6,2091.8 L463.9,2105.8 L465.2,2120.6 L466.5,2135.0 L467.8,2149.0 L469.1,2163.1 L470.4,2177.0 L471.8,2190.5 L473.1,2203.5 L474.4,2216.1 L475.7,2228.5 L477.0,2240.4 L478.3,2252.4 L479.6,2264.3 L480.9,2275.3 L482.2,2284.8 L483.6,2292.9 L484.9,2300.4 L486.2,2307.2 L487.5,2313.1 L488.8,2318.1 L490.1,2322.4 L491.4,2326.3 L492.7,2329.9 L494.0,2333.0 L495.4,2335.6 L496.7,2337.5 L498.0,2339.1 L499.3,2340.5 L500.6,2341.8 L501.9,2343.0 L503.2,2344.0 L504.5,2344.8 L505.8,2345.4 L507.1,2345.8 L508.5,2346.1 L509.8,2346.4 L511.1,2346.6 L512.4,2346.8 L513.7,2347.0 L515.0,2347.2 L516.3,2347.3 L517.6,2347.4 L518.9,2347.5 L520.3,2347.5 L521.6,2347.5 L522.9,2347.5 L524.2,2347.4 L525.5,2347.4 L526.8,2347.3 L528.1,2347.2 L529.4,2347.1 L530.7,2347.0 L532.1,2346.9 L533.4,2346.8 L534.7,2346.6 L536.0,2346.5 L537.3,2346.3 L538.6,2346.2 L539.9,2346.0 L541.2,2345.8 L542.5,2345.6 L543.9,2345.3 L545.2,2344.9 L546.5,2344.5 L547.8,2344.0 L549.1,2343.4 L550.4,2342.8 L551.7,2342.1 L553.0,2341.4 L554.3,2340.6 L555.7,2339.9 L557.0,2339.1 L558.3,2338.3 L559.6,2337.5 L560.9,2336.7 L562.2,2335.9 L563.5,2335.0 L564.8,2334.2 L566.1,2333.3 L567.5,2332.4 L568.8,2331.4 L570.1,2330.5 L571.4,2329.5 L572.7,2328.4 L574.0,2327.4 L575.3,2326.4 L576.6,2325.3 L577.9,2324.2 L579.3,2323.1 L580.6,2322.0 L581.9,2320.8 L583.2,2319.7 L584.5,2318.5 L585.8,2317.4 L587.1,2316.2 L588.4,2315.1 L589.7,2313.9 L591.1,2312.7 L592.4,2311.6 L593.7,2310.4 L595.0,2309.2 L596.3,2308.1 L597.6,2306.9 L598.9,2305.7 L600.2,2304.5 L601.5,2303.3 L602.9,2302.1 L604.2,2300.9 L605.5,2299.7 L606.8,2298.4 L608.1,2297.1 L609.4,2295.8 L610.7,2294.5 L612.0,2293.1 L613.3,2291.7 L614.7,2290.3 L616.0,2288.8 L617.3,2287.3 L618.6,2285.7 L619.9,2284.1 L621.2,2282.5 L622.5,2280.7 L623.8,2279.0 L625.1,2277.2 L626.5,2275.3 L627.8,2273.4 L629.1,2271.5 L630.4,2269.5 L631.7,2267.4 L633.0,2265.3 L634.3,2263.2 L635.6,2261.1 L636.9,2259.0 L638.2,2256.8 L639.6,2254.6 L640.9,2252.4 L642.2,2250.2 L643.5,2248.0 L644.8,2245.9 L646.1,2243.7 L647.4,2241.5 L648.7,2239.4 L650.0,2237.2 L651.4,2235.1 L652.7,2233.0 L654.0,2230.9 L655.3,2228.8 L656.6,2226.8 L657.9,2224.7 L659.2,2222.6 L660.5,2220.6 L661.8,2218.5 L663.2,2216.5 L664.5,2214.5 L665.8,2212.4 L667.1,2210.4 L668.4,2208.3 L669.7,2206.2 L671.0,2204.1 L672.3,2202.0 L673.6,2199.9 L675.0,2197.8 L676.3,2195.6 L677.6,2193.4 L678.9,2191.2 L680.2,2188.9 L681.5,2186.6 L682.8,2184.3 L684.1,2181.9 L685.4,2179.5 L686.8,2177.0 L688.1,2174.5 L689.4,2171.9 L690.7,2169.3 L692.0,2166.6 L693.3,2163.9 L694.6,2161.1 L695.9,2158.3 L697.2,2155.5 L698.6,2152.6 L699.9,2149.7 L701.2,2146.8 L702.5,2143.9 L703.8,2141.0 L705.1,2138.1 L706.4,2135.2 L707.7,2132.3 L709.0,2129.5 L710.4,2126.6 L711.7,2123.8 L713.0,2121.1 L714.3,2118.4 L715.6,2115.7 L716.9,2113.1 L718.2,2110.5 L719.5,2108.0 L720.8,2105.6 L722.2,2103.2 L723.5,2100.9 L724.8,2098.7 L726.1,2096.5 L727.4,2094.4 L728.7,2092.3 L730.0,2090.3 L731.3,2088.3 L732.6,2086.3 L734.0,2084.3 L735.3,2082.4 L736.6,2080.5 L737.9,2078.6 L739.2,2076.8 L740.5,2074.9 L741.8,2073.1 L743.1,2071.3 L744.4,2069.6 L745.8,2067.9 L747.1,2066.2 L748.4,2064.6 L749.7,2063.0 L751.0,2061.4 L752.3,2059.9 L753.6,2058.5 L754.9,2057.1 L756.2,2055.8 L757.6,2054.6 L758.9,2053.5 L760.2,2052.4 L761.5,2051.4 L762.8,2050.4 L764.1,2049.6 L765.4,2048.8 L766.7,2048.1 L768.0,2047.5 L769.3,2046.9 L770.7,2046.4 L772.0,2046.0 L773.3,2045.6 L774.6,2045.3 L775.9,2045.0 L777.2,2044.7 L778.5,2044.5 L779.8,2044.3 L781.1,2044.2 L782.5,2044.1 L783.8,2044.1 L785.1,2044.1 L786.4,2044.1 L787.7,2044.2 L789.0,2044.4 L790.3,2044.6 L791.6,2044.8 L792.9,2045.1 L794.3,2045.4 L795.6,2045.8 L796.9,2046.2 L798.2,2046.7 L799.5,2047.1 L800.8,2047.6 L802.1,2048.1 L803.4,2048.7 L804.7,2049.3 L806.1,2049.9 L807.4,2050.5 L808.7,2051.1 L810.0,2051.8 L811.3,2052.4 L812.6,2053.1 L813.9,2053.8 L815.2,2054.6 L816.5,2055.3 L817.9,2056.0 L819.2,2056.8 L820.5,2057.6 L821.8,2058.3 L823.1,2059.1 L824.4,2059.9 L825.7,2060.7 L827.0,2061.5 L828.3,2062.4 L829.7,2063.2 L831.0,2064.0 L832.3,2064.9 L833.6,2065.7 L834.9,2066.6 L836.2,2067.5 L837.5,2068.3 L838.8,2069.2 L840.1,2070.1 L841.5,2071.0 L842.8,2071.9 L844.1,2072.8 L845.4,2073.7 L846.7,2074.6 L848.0,2075.5 L849.3,2076.5 L850.6,2077.5 L851.9,2078.6 L853.3,2079.7 L854.6,2080.8 L855.9,2082.1 L857.2,2083.4 L858.5,2084.8 L859.8,2086.3 L861.1,2087.9 L862.4,2089.5 L863.7,2091.3 L865.1,2093.2 L866.4,2095.1 L867.7,2097.2 L869.0,2099.3 L870.3,2101.4 L871.6,2103.6 L872.9,2105.8 L874.2,2108.0 L875.5,2110.3 L876.9,2112.5 L878.2,2114.8 L879.5,2117.0 L880.8,2119.2 L882.1,2121.4 L883.4,2123.6 L884.7,2125.8 L886.0,2127.9 L887.3,2130.1 L888.7,2132.3 L890.0,2134.4 L891.3,2136.6 L892.6,2138.7 L893.9,2140.8 L895.2,2142.9 L896.5,2145.0 L897.8,2147.1 L899.1,2149.2 L900.4,2151.3 L901.8,2153.4 L903.1,2155.4 L904.4,2157.5 L905.7,2159.5 L907.0,2161.5 L908.3,2163.5 L909.6,2165.4 L910.9,2167.4 L912.2,2169.3 L913.6,2171.1 L914.9,2173.0 L916.2,2174.7 L917.5,2176.5 L918.8,2178.1 L920.1,2179.8 L921.4,2181.3 L922.7,2182.9 L924.0,2184.4 L925.4,2185.8 L926.7,2187.2 L928.0,2188.6 L929.3,2189.9 L930.6,2191.3 L931.9,2192.6 L933.2,2193.9 L934.5,2195.1 L935.8,2196.4 L937.2,2197.7 L938.5,2198.9 L939.8,2200.2 L941.1,2201.5 L942.4,2202.7 L943.7,2204.0 L945.0,2205.2 L946.3,2206.5 L947.6,2207.8 L949.0,2209.1 L950.3,2210.4 L951.6,2211.7 L952.9,2213.0 L954.2,2214.4 L955.5,2215.7 L956.8,2217.2 L958.1,2218.6 L959.4,2220.1 L960.8,2221.6 L962.1,2223.2 L963.4,2224.8 L964.7,2226.4 L966.0,2228.1 L967.3,2229.8 L968.6,2231.5 L969.9,2233.3 L971.2,2235.1 L972.6,2237.0 L973.9,2238.9 L975.2,2240.8 L976.5,2242.7 L977.8,2244.7 L979.1,2246.7 L980.4,2248.7 L981.7,2250.8 L983.0,2252.9 L984.4,2255.0 L985.7,2257.2 L987.0,2259.3 L988.3,2261.5 L989.6,2263.7 L990.9,2265.9 L992.2,2268.1 L993.5,2270.3 L994.8,2272.5 L996.2,2274.7 L997.5,2276.9 L998.8,2279.1 L1000.1,2281.2 L1001.4,2283.3 L1002.7,2285.4 L1004.0,2287.5 L1005.3,2289.5 L1006.6,2291.6 L1008.0,2293.6 L1009.3,2295.6 L1010.6,2297.6 L1011.9,2299.7 L1013.2,2301.7 L1014.5,2303.7 L1015.8,2305.8 L1017.1,2307.9 L1018.4,2310.0 L1019.8,2312.2 L1021.1,2314.3 L1022.4,2316.5 L1023.7,2318.8 L1025.0,2321.0 L1026.3,2323.3 L1027.6,2325.6 L1028.9,2327.8 L1030.2,2330.1 L1031.5,2332.4 L1032.9,2334.7 L1034.2,2336.9 L1035.5,2339.2 L1036.8,2341.4 L1038.1,2343.5 L1039.4,2345.7 L1040.7,2347.8 L1042.0,2350.0 L1043.3,2352.0 L1044.7,2354.1 L1046.0,2356.1 L1047.3,2358.1 L1048.6,2360.1 L1049.9,2362.0 L1051.2,2363.9 L1052.5,2365.7 L1053.8,2367.5 L1055.1,2369.2 L1056.5,2370.9 L1057.8,2372.6 L1059.1,2374.2 L1060.4,2375.8 L1061.7,2377.3 L1063.0,2378.7 L1064.3,2380.2 L1065.6,2381.5 L1066.9,2382.8 L1068.3,2384.1 L1069.6,2385.3 L1070.9,2386.5 L1072.2,2387.6 L1073.5,2388.7 L1074.8,2389.7 L1076.1,2390.6 L1077.4,2391.5 L1078.7,2392.3 L1080.1,2393.1 L1081.4,2393.8 L1082.7,2394.5 L1084.0,2395.1 L1085.3,2395.7 L1086.6,2396.3 L1087.9,2396.8 L1089.2,2397.2 L1090.5,2397.6 L1091.9,2398.0 L1093.2,2398.3 L1094.5,2398.6 L1095.8,2398.8 L1097.1,2399.0" stroke="#2f4a9c" stroke-width="6.2"/>
<path d="M310.5,1932.5 L311.8,1929.8 L313.1,1927.1 L314.4,1924.3 L315.7,1921.5 L317.1,1918.6 L318.4,1915.6 L319.7,1912.5 L321.0,1909.3 L322.3,1905.9 L323.6,1902.3 L324.9,1898.7 L326.2,1895.0 L327.5,1891.3 L328.9,1887.6 L330.2,1884.1 L331.5,1880.7 L332.8,1877.6 L334.1,1874.8 L335.4,1872.2 L336.7,1869.9 L338.0,1867.8 L339.3,1865.8 L340.7,1864.0 L342.0,1862.2 L343.3,1860.4 L344.6,1858.7 L345.9,1856.9 L347.2,1855.0 L348.5,1853.1 L349.8,1850.9 L351.1,1848.6 L352.5,1846.0 L353.8,1843.1 L355.1,1839.2 L356.4,1834.2 L357.7,1828.5 L359.0,1822.2 L360.3,1818.8 L361.6,1818.8 L362.9,1818.8 L364.3,1818.8 L365.6,1818.8 L366.9,1818.8 L368.2,1818.8 L369.5,1818.8 L370.8,1818.8 L372.1,1818.8 L373.4,1818.8 L374.7,1818.8 L376.1,1818.8 L377.4,1818.8 L378.7,1822.1 L380.0,1827.5 L381.3,1832.5 L382.6,1836.9 L383.9,1840.5 L385.2,1843.0 L386.5,1844.5 L387.8,1845.7 L389.2,1846.6 L390.5,1847.5 L391.8,1848.3 L393.1,1849.3 L394.4,1850.3 L395.7,1851.2 L397.0,1852.1 L398.3,1853.1 L399.6,1854.2 L401.0,1855.5 L402.3,1857.2 L403.6,1859.6 L404.9,1862.6 L406.2,1866.2 L407.5,1870.2 L408.8,1874.7 L410.1,1879.5 L411.4,1884.8 L412.8,1891.5 L414.1,1899.4 L415.4,1907.9 L416.7,1916.5 L418.0,1924.9 L419.3,1932.5 L420.6,1939.6 L421.9,1946.8 L423.2,1953.8 L424.6,1960.5 L425.9,1966.8 L427.2,1972.4 L428.5,1977.2 L429.8,1982.0 L431.1,1986.8 L432.4,1991.3 L433.7,1995.2 L435.0,1998.1 L436.4,1999.9 L437.7,2000.1 L439.0,1998.8 L440.3,1996.7 L441.6,1994.0 L442.9,1991.3 L444.2,1988.9 L445.5,1986.9 L446.8,1984.7 L448.2,1982.8 L449.5,1981.6 L450.8,1981.5 L452.1,1983.1 L453.4,1986.1 L454.7,1990.1 L456.0,1994.6 L457.3,2001.3 L458.6,2011.1 L460.0,2022.8 L461.3,2035.1 L462.6,2048.7 L463.9,2064.1 L465.2,2080.3 L466.5,2096.2 L467.8,2111.4 L469.1,2126.7 L470.4,2141.9 L471.8,2157.2 L473.1,2172.7 L474.4,2188.5 L475.7,2203.8 L477.0,2218.2 L478.3,2231.7 L479.6,2244.6 L480.9,2256.8 L482.2,2268.1 L483.6,2279.1 L484.9,2289.7 L486.2,2299.2 L487.5,2307.0 L488.8,2313.5 L490.1,2319.5 L491.4,2324.7 L492.7,2328.9 L494.0,2332.0 L495.4,2334.2 L496.7,2336.3 L498.0,2338.2 L499.3,2339.9 L500.6,2341.4 L501.9,2342.7 L503.2,2343.8 L504.5,2344.7 L505.8,2345.4 L507.1,2345.8 L508.5,2346.1 L509.8,2346.4 L511.1,2346.6 L512.4,2346.8 L513.7,2347.0 L515.0,2347.2 L516.3,2347.3 L517.6,2347.4 L518.9,2347.5 L520.3,2347.5 L521.6,2347.5 L522.9,2347.4 L524.2,2347.3 L525.5,2347.1 L526.8,2346.9 L528.1,2346.7 L529.4,2346.4 L530.7,2346.1 L532.1,2345.8 L533.4,2345.4 L534.7,2345.1 L536.0,2344.7 L537.3,2344.3 L538.6,2343.9 L539.9,2343.5 L541.2,2343.0 L542.5,2342.6 L543.9,2342.0 L545.2,2341.4 L546.5,2340.7 L547.8,2339.9 L549.1,2339.0 L550.4,2338.1 L551.7,2337.2 L553.0,2336.2 L554.3,2335.2 L555.7,2334.2 L557.0,2333.1 L558.3,2332.0 L559.6,2330.9 L560.9,2329.8 L562.2,2328.7 L563.5,2327.6 L564.8,2326.5 L566.1,2325.4 L567.5,2324.2 L568.8,2323.0 L570.1,2321.8 L571.4,2320.6 L572.7,2319.4 L574.0,2318.1 L575.3,2316.9 L576.6,2315.6 L577.9,2314.2 L579.3,2312.9 L580.6,2311.6 L581.9,2310.2 L583.2,2308.8 L584.5,2307.4 L585.8,2305.9 L587.1,2304.5 L588.4,2303.0 L589.7,2301.5 L591.1,2300.0 L592.4,2298.5 L593.7,2296.9 L595.0,2295.4 L596.3,2293.8 L597.6,2292.2 L598.9,2290.5 L600.2,2288.9 L601.5,2287.2 L602.9,2285.5 L604.2,2283.8 L605.5,2282.1 L606.8,2280.3 L608.1,2278.5 L609.4,2276.7 L610.7,2274.8 L612.0,2272.9 L613.3,2271.0 L614.7,2269.1 L616.0,2267.1 L617.3,2265.1 L618.6,2263.0 L619.9,2260.9 L621.2,2258.8 L622.5,2256.6 L623.8,2254.4 L625.1,2252.1 L626.5,2249.8 L627.8,2247.5 L629.1,2245.1 L630.4,2242.7 L631.7,2240.2 L633.0,2237.7 L634.3,2235.2 L635.6,2232.7 L636.9,2230.1 L638.2,2227.6 L639.6,2225.0 L640.9,2222.4 L642.2,2219.8 L643.5,2217.2 L644.8,2214.6 L646.1,2212.0 L647.4,2209.4 L648.7,2206.8 L650.0,2204.2 L651.4,2201.7 L652.7,2199.1 L654.0,2196.5 L655.3,2194.0 L656.6,2191.4 L657.9,2188.8 L659.2,2186.3 L660.5,2183.7 L661.8,2181.2 L663.2,2178.6 L664.5,2176.0 L665.8,2173.5 L667.1,2170.9 L668.4,2168.4 L669.7,2165.8 L671.0,2163.2 L672.3,2160.7 L673.6,2158.1 L675.0,2155.5 L676.3,2153.0 L677.6,2150.4 L678.9,2147.9 L680.2,2145.3 L681.5,2142.7 L682.8,2140.2 L684.1,2137.6 L685.4,2135.0 L686.8,2132.4 L688.1,2129.8 L689.4,2127.2 L690.7,2124.6 L692.0,2122.0 L693.3,2119.4 L694.6,2116.7 L695.9,2114.1 L697.2,2111.5 L698.6,2108.8 L699.9,2106.2 L701.2,2103.6 L702.5,2100.9 L703.8,2098.3 L705.1,2095.7 L706.4,2093.1 L707.7,2090.5 L709.0,2088.0 L710.4,2085.4 L711.7,2082.9 L713.0,2080.4 L714.3,2078.0 L715.6,2075.6 L716.9,2073.2 L718.2,2070.8 L719.5,2068.5 L720.8,2066.2 L722.2,2063.9 L723.5,2061.7 L724.8,2059.5 L726.1,2057.4 L727.4,2055.3 L728.7,2053.2 L730.0,2051.1 L731.3,2049.0 L732.6,2047.0 L734.0,2045.1 L735.3,2043.1 L736.6,2041.2 L737.9,2039.4 L739.2,2037.6 L740.5,2035.9 L741.8,2034.2 L743.1,2032.7 L744.4,2031.2 L745.8,2029.8 L747.1,2028.5 L748.4,2027.3 L749.7,2026.1 L751.0,2025.1 L752.3,2024.1 L753.6,2023.2 L754.9,2022.3 L756.2,2021.5 L757.6,2020.8 L758.9,2020.1 L760.2,2019.5 L761.5,2019.0 L762.8,2018.5 L764.1,2018.1 L765.4,2017.7 L766.7,2017.4 L768.0,2017.1 L769.3,2017.0 L770.7,2016.9 L772.0,2016.9 L773.3,2017.0 L774.6,2017.2 L775.9,2017.5 L777.2,2017.8 L778.5,2018.3 L779.8,2018.8 L781.1,2019.3 L782.5,2020.0 L783.8,2020.7 L785.1,2021.4 L786.4,2022.1 L787.7,2022.9 L789.0,2023.8 L790.3,2024.6 L791.6,2025.4 L792.9,2026.3 L794.3,2027.2 L795.6,2028.1 L796.9,2029.0 L798.2,2029.9 L799.5,2030.9 L800.8,2031.9 L802.1,2032.9 L803.4,2033.9 L804.7,2034.9 L806.1,2036.0 L807.4,2037.1 L808.7,2038.3 L810.0,2039.4 L811.3,2040.7 L812.6,2041.9 L813.9,2043.2 L815.2,2044.6 L816.5,2046.0 L817.9,2047.5 L819.2,2049.0 L820.5,2050.6 L821.8,2052.4 L823.1,2054.2 L824.4,2056.1 L825.7,2058.1 L827.0,2060.3 L828.3,2062.6 L829.7,2065.0 L831.0,2067.5 L832.3,2070.2 L833.6,2073.0 L834.9,2075.9 L836.2,2078.9 L837.5,2082.1 L838.8,2085.3 L840.1,2088.5 L841.5,2091.8 L842.8,2095.2 L844.1,2098.5 L845.4,2101.9 L846.7,2105.2 L848.0,2108.5 L849.3,2111.7 L850.6,2115.0 L851.9,2118.1 L853.3,2121.2 L854.6,2124.2 L855.9,2127.2 L857.2,2130.2 L858.5,2133.0 L859.8,2135.9 L861.1,2138.7 L862.4,2141.4 L863.7,2144.1 L865.1,2146.8 L866.4,2149.5 L867.7,2152.1 L869.0,2154.7 L870.3,2157.2 L871.6,2159.7 L872.9,2162.2 L874.2,2164.6 L875.5,2167.0 L876.9,2169.4 L878.2,2171.7 L879.5,2173.9 L880.8,2176.2 L882.1,2178.3 L883.4,2180.4 L884.7,2182.5 L886.0,2184.5 L887.3,2186.5 L888.7,2188.5 L890.0,2190.4 L891.3,2192.3 L892.6,2194.2 L893.9,2196.0 L895.2,2197.8 L896.5,2199.6 L897.8,2201.4 L899.1,2203.2 L900.4,2205.0 L901.8,2206.8 L903.1,2208.6 L904.4,2210.3 L905.7,2212.1 L907.0,2213.8 L908.3,2215.6 L909.6,2217.3 L910.9,2219.0 L912.2,2220.7 L913.6,2222.4 L914.9,2224.1 L916.2,2225.8 L917.5,2227.5 L918.8,2229.2 L920.1,2230.9 L921.4,2232.5 L922.7,2234.2 L924.0,2235.8 L925.4,2237.5 L926.7,2239.1 L928.0,2240.7 L929.3,2242.3 L930.6,2243.9 L931.9,2245.5 L933.2,2247.1 L934.5,2248.7 L935.8,2250.3 L937.2,2251.9 L938.5,2253.5 L939.8,2255.0 L941.1,2256.6 L942.4,2258.2 L943.7,2259.8 L945.0,2261.3 L946.3,2262.9 L947.6,2264.4 L949.0,2266.0 L950.3,2267.6 L951.6,2269.1 L952.9,2270.6 L954.2,2272.2 L955.5,2273.7 L956.8,2275.2 L958.1,2276.7 L959.4,2278.2 L960.8,2279.8 L962.1,2281.2 L963.4,2282.7 L964.7,2284.2 L966.0,2285.7 L967.3,2287.2 L968.6,2288.6 L969.9,2290.1 L971.2,2291.6 L972.6,2293.0 L973.9,2294.5 L975.2,2295.9 L976.5,2297.4 L977.8,2298.8 L979.1,2300.2 L980.4,2301.7 L981.7,2303.1 L983.0,2304.5 L984.4,2306.0 L985.7,2307.4 L987.0,2308.8 L988.3,2310.3 L989.6,2311.7 L990.9,2313.2 L992.2,2314.6 L993.5,2316.1 L994.8,2317.6 L996.2,2319.1 L997.5,2320.6 L998.8,2322.1 L1000.1,2323.6 L1001.4,2325.2 L1002.7,2326.8 L1004.0,2328.4 L1005.3,2330.0 L1006.6,2331.6 L1008.0,2333.2 L1009.3,2334.9 L1010.6,2336.5 L1011.9,2338.1 L1013.2,2339.8 L1014.5,2341.4 L1015.8,2343.0 L1017.1,2344.6 L1018.4,2346.1 L1019.8,2347.6 L1021.1,2349.2 L1022.4,2350.6 L1023.7,2352.1 L1025.0,2353.5 L1026.3,2355.0 L1027.6,2356.3 L1028.9,2357.7 L1030.2,2359.1 L1031.5,2360.4 L1032.9,2361.7 L1034.2,2363.0 L1035.5,2364.3 L1036.8,2365.5 L1038.1,2366.7 L1039.4,2367.9 L1040.7,2369.1 L1042.0,2370.3 L1043.3,2371.4 L1044.7,2372.5 L1046.0,2373.6 L1047.3,2374.7 L1048.6,2375.8 L1049.9,2376.8 L1051.2,2377.8 L1052.5,2378.8 L1053.8,2379.8 L1055.1,2380.8 L1056.5,2381.7 L1057.8,2382.7 L1059.1,2383.6 L1060.4,2384.5 L1061.7,2385.4 L1063.0,2386.2 L1064.3,2387.1 L1065.6,2387.9 L1066.9,2388.7 L1068.3,2389.5 L1069.6,2390.3 L1070.9,2391.0 L1072.2,2391.7 L1073.5,2392.4 L1074.8,2393.1 L1076.1,2393.7 L1077.4,2394.3 L1078.7,2394.8 L1080.1,2395.3 L1081.4,2395.8 L1082.7,2396.2 L1084.0,2396.7 L1085.3,2397.0 L1086.6,2397.4 L1087.9,2397.7 L1089.2,2398.0 L1090.5,2398.3 L1091.9,2398.5 L1093.2,2398.8 L1094.5,2398.9 L1095.8,2399.1 L1097.1,2399.2" stroke="#22218a" stroke-width="6.2"/>
<path d="M310.5,1929.7 L311.8,1928.3 L313.1,1926.2 L314.4,1923.6 L315.7,1920.6 L317.1,1917.4 L318.4,1913.2 L319.7,1908.0 L321.0,1902.2 L322.3,1896.3 L323.6,1890.7 L324.9,1885.7 L326.2,1880.8 L327.5,1875.9 L328.9,1871.2 L330.2,1866.5 L331.5,1862.0 L332.8,1857.9 L334.1,1854.1 L335.4,1850.2 L336.7,1845.7 L338.0,1840.3 L339.3,1833.7 L340.7,1826.3 L342.0,1818.8 L343.3,1818.8 L344.6,1818.8 L345.9,1818.8 L347.2,1818.8 L348.5,1818.8 L349.8,1818.8 L351.1,1818.8 L352.5,1818.8 L353.8,1818.8 L355.1,1818.8 L356.4,1818.8 L357.7,1818.8 L359.0,1818.8 L360.3,1818.8 L361.6,1818.8 L362.9,1818.8 L364.3,1818.8 L365.6,1818.8 L366.9,1818.8 L368.2,1818.8 L369.5,1818.8 L370.8,1818.8 L372.1,1818.8 L373.4,1818.8 L374.7,1818.8 L376.1,1818.8 L377.4,1818.8 L378.7,1818.8 L380.0,1818.8 L381.3,1818.8 L382.6,1818.8 L383.9,1818.8 L385.2,1818.8 L386.5,1818.8 L387.8,1818.8 L389.2,1818.8 L390.5,1818.8 L391.8,1818.8 L393.1,1818.8 L394.4,1818.8 L395.7,1818.8 L397.0,1818.8 L398.3,1818.8 L399.6,1818.8 L401.0,1818.8 L402.3,1818.8 L403.6,1818.8 L404.9,1818.8 L406.2,1818.8 L407.5,1818.8 L408.8,1818.8 L410.1,1818.8 L411.4,1821.1 L412.8,1835.6 L414.1,1849.1 L415.4,1863.2 L416.7,1877.0 L418.0,1888.7 L419.3,1898.2 L420.6,1906.9 L421.9,1914.9 L423.2,1922.1 L424.6,1928.8 L425.9,1934.9 L427.2,1940.5 L428.5,1945.7 L429.8,1950.4 L431.1,1954.7 L432.4,1959.2 L433.7,1963.8 L435.0,1967.8 L436.4,1970.3 L437.7,1970.6 L439.0,1969.1 L440.3,1966.2 L441.6,1962.7 L442.9,1958.9 L444.2,1955.3 L445.5,1951.8 L446.8,1947.5 L448.2,1943.5 L449.5,1940.8 L450.8,1940.4 L452.1,1942.2 L453.4,1945.4 L454.7,1949.7 L456.0,1954.7 L457.3,1962.1 L458.6,1973.1 L460.0,1986.0 L461.3,1999.9 L462.6,2016.6 L463.9,2035.1 L465.2,2053.9 L466.5,2074.2 L467.8,2093.9 L469.1,2111.3 L470.4,2127.4 L471.8,2142.3 L473.1,2156.0 L474.4,2170.1 L475.7,2186.3 L477.0,2205.4 L478.3,2223.8 L479.6,2239.8 L480.9,2254.7 L482.2,2268.1 L483.6,2280.7 L484.9,2292.2 L486.2,2301.4 L487.5,2309.0 L488.8,2316.0 L490.1,2322.4 L491.4,2327.8 L492.7,2332.0 L494.0,2334.7 L495.4,2336.6 L496.7,2338.3 L498.0,2339.9 L499.3,2341.3 L500.6,2342.5 L501.9,2343.5 L503.2,2344.4 L504.5,2345.0 L505.8,2345.5 L507.1,2345.8 L508.5,2346.0 L509.8,2346.2 L511.1,2346.4 L512.4,2346.5 L513.7,2346.6 L515.0,2346.7 L516.3,2346.8 L517.6,2346.9 L518.9,2346.9 L520.3,2346.9 L521.6,2346.9 L522.9,2346.8 L524.2,2346.6 L525.5,2346.3 L526.8,2346.0 L528.1,2345.7 L529.4,2345.3 L530.7,2344.8 L532.1,2344.3 L533.4,2343.8 L534.7,2343.2 L536.0,2342.7 L537.3,2342.1 L538.6,2341.5 L539.9,2340.9 L541.2,2340.3 L542.5,2339.6 L543.9,2338.9 L545.2,2338.1 L546.5,2337.2 L547.8,2336.2 L549.1,2335.1 L550.4,2334.0 L551.7,2332.8 L553.0,2331.6 L554.3,2330.4 L555.7,2329.1 L557.0,2327.8 L558.3,2326.4 L559.6,2325.0 L560.9,2323.6 L562.2,2322.1 L563.5,2320.6 L564.8,2319.1 L566.1,2317.5 L567.5,2315.9 L568.8,2314.2 L570.1,2312.4 L571.4,2310.6 L572.7,2308.8 L574.0,2306.9 L575.3,2305.0 L576.6,2303.1 L577.9,2301.1 L579.3,2299.1 L580.6,2297.0 L581.9,2295.0 L583.2,2292.9 L584.5,2290.9 L585.8,2288.8 L587.1,2286.7 L588.4,2284.6 L589.7,2282.5 L591.1,2280.4 L592.4,2278.3 L593.7,2276.2 L595.0,2274.1 L596.3,2271.9 L597.6,2269.8 L598.9,2267.7 L600.2,2265.6 L601.5,2263.4 L602.9,2261.2 L604.2,2259.1 L605.5,2256.9 L606.8,2254.6 L608.1,2252.4 L609.4,2250.1 L610.7,2247.9 L612.0,2245.5 L613.3,2243.2 L614.7,2240.8 L616.0,2238.4 L617.3,2236.0 L618.6,2233.5 L619.9,2231.0 L621.2,2228.4 L622.5,2225.8 L623.8,2223.2 L625.1,2220.5 L626.5,2217.8 L627.8,2215.0 L629.1,2212.2 L630.4,2209.4 L631.7,2206.6 L633.0,2203.7 L634.3,2200.8 L635.6,2197.9 L636.9,2195.0 L638.2,2192.0 L639.6,2189.1 L640.9,2186.1 L642.2,2183.2 L643.5,2180.3 L644.8,2177.4 L646.1,2174.4 L647.4,2171.5 L648.7,2168.7 L650.0,2165.8 L651.4,2162.9 L652.7,2160.1 L654.0,2157.2 L655.3,2154.4 L656.6,2151.6 L657.9,2148.8 L659.2,2146.0 L660.5,2143.2 L661.8,2140.4 L663.2,2137.6 L664.5,2134.8 L665.8,2132.1 L667.1,2129.3 L668.4,2126.6 L669.7,2123.8 L671.0,2121.1 L672.3,2118.4 L673.6,2115.7 L675.0,2113.0 L676.3,2110.3 L677.6,2107.7 L678.9,2105.0 L680.2,2102.4 L681.5,2099.8 L682.8,2097.2 L684.1,2094.6 L685.4,2092.0 L686.8,2089.5 L688.1,2086.9 L689.4,2084.4 L690.7,2081.9 L692.0,2079.4 L693.3,2076.9 L694.6,2074.5 L695.9,2072.0 L697.2,2069.6 L698.6,2067.2 L699.9,2064.8 L701.2,2062.4 L702.5,2060.0 L703.8,2057.7 L705.1,2055.4 L706.4,2053.1 L707.7,2050.9 L709.0,2048.7 L710.4,2046.5 L711.7,2044.4 L713.0,2042.3 L714.3,2040.2 L715.6,2038.1 L716.9,2036.1 L718.2,2034.1 L719.5,2032.1 L720.8,2030.1 L722.2,2028.1 L723.5,2026.2 L724.8,2024.2 L726.1,2022.3 L727.4,2020.3 L728.7,2018.4 L730.0,2016.4 L731.3,2014.5 L732.6,2012.5 L734.0,2010.6 L735.3,2008.7 L736.6,2006.8 L737.9,2005.0 L739.2,2003.1 L740.5,2001.4 L741.8,1999.6 L743.1,1997.9 L744.4,1996.3 L745.8,1994.7 L747.1,1993.2 L748.4,1991.8 L749.7,1990.4 L751.0,1989.2 L752.3,1988.0 L753.6,1987.0 L754.9,1986.1 L756.2,1985.3 L757.6,1984.6 L758.9,1984.1 L760.2,1983.8 L761.5,1983.5 L762.8,1983.4 L764.1,1983.4 L765.4,1983.5 L766.7,1983.7 L768.0,1984.0 L769.3,1984.4 L770.7,1984.8 L772.0,1985.3 L773.3,1985.9 L774.6,1986.6 L775.9,1987.3 L777.2,1988.1 L778.5,1989.0 L779.8,1990.0 L781.1,1991.1 L782.5,1992.3 L783.8,1993.6 L785.1,1995.0 L786.4,1996.6 L787.7,1998.3 L789.0,2000.0 L790.3,2001.8 L791.6,2003.8 L792.9,2005.7 L794.3,2007.8 L795.6,2009.9 L796.9,2011.9 L798.2,2014.1 L799.5,2016.2 L800.8,2018.3 L802.1,2020.5 L803.4,2022.6 L804.7,2024.8 L806.1,2027.0 L807.4,2029.1 L808.7,2031.3 L810.0,2033.6 L811.3,2035.8 L812.6,2038.1 L813.9,2040.4 L815.2,2042.8 L816.5,2045.2 L817.9,2047.7 L819.2,2050.2 L820.5,2052.8 L821.8,2055.4 L823.1,2058.1 L824.4,2060.8 L825.7,2063.7 L827.0,2066.5 L828.3,2069.5 L829.7,2072.5 L831.0,2075.5 L832.3,2078.6 L833.6,2081.8 L834.9,2084.9 L836.2,2088.2 L837.5,2091.4 L838.8,2094.8 L840.1,2098.1 L841.5,2101.5 L842.8,2104.9 L844.1,2108.3 L845.4,2111.8 L846.7,2115.3 L848.0,2118.8 L849.3,2122.3 L850.6,2125.9 L851.9,2129.5 L853.3,2133.2 L854.6,2136.8 L855.9,2140.5 L857.2,2144.2 L858.5,2147.9 L859.8,2151.7 L861.1,2155.5 L862.4,2159.2 L863.7,2163.1 L865.1,2166.9 L866.4,2170.7 L867.7,2174.6 L869.0,2178.4 L870.3,2182.3 L871.6,2186.1 L872.9,2190.0 L874.2,2193.8 L875.5,2197.6 L876.9,2201.4 L878.2,2205.1 L879.5,2208.7 L880.8,2212.3 L882.1,2215.8 L883.4,2219.3 L884.7,2222.6 L886.0,2225.9 L887.3,2229.1 L888.7,2232.2 L890.0,2235.3 L891.3,2238.3 L892.6,2241.2 L893.9,2244.1 L895.2,2246.9 L896.5,2249.6 L897.8,2252.4 L899.1,2255.0 L900.4,2257.6 L901.8,2260.2 L903.1,2262.8 L904.4,2265.3 L905.7,2267.8 L907.0,2270.2 L908.3,2272.6 L909.6,2275.0 L910.9,2277.3 L912.2,2279.6 L913.6,2281.9 L914.9,2284.1 L916.2,2286.3 L917.5,2288.5 L918.8,2290.7 L920.1,2292.8 L921.4,2294.9 L922.7,2296.9 L924.0,2298.9 L925.4,2300.9 L926.7,2302.8 L928.0,2304.8 L929.3,2306.6 L930.6,2308.5 L931.9,2310.2 L933.2,2312.0 L934.5,2313.6 L935.8,2315.3 L937.2,2316.8 L938.5,2318.4 L939.8,2319.8 L941.1,2321.2 L942.4,2322.6 L943.7,2323.9 L945.0,2325.1 L946.3,2326.3 L947.6,2327.5 L949.0,2328.6 L950.3,2329.7 L951.6,2330.8 L952.9,2331.9 L954.2,2332.9 L955.5,2333.9 L956.8,2334.9 L958.1,2335.8 L959.4,2336.8 L960.8,2337.7 L962.1,2338.6 L963.4,2339.5 L964.7,2340.4 L966.0,2341.3 L967.3,2342.1 L968.6,2343.0 L969.9,2343.9 L971.2,2344.7 L972.6,2345.5 L973.9,2346.3 L975.2,2347.2 L976.5,2348.0 L977.8,2348.8 L979.1,2349.6 L980.4,2350.4 L981.7,2351.2 L983.0,2352.0 L984.4,2352.8 L985.7,2353.6 L987.0,2354.4 L988.3,2355.2 L989.6,2356.0 L990.9,2356.8 L992.2,2357.6 L993.5,2358.4 L994.8,2359.2 L996.2,2360.0 L997.5,2360.8 L998.8,2361.6 L1000.1,2362.4 L1001.4,2363.2 L1002.7,2364.0 L1004.0,2364.8 L1005.3,2365.6 L1006.6,2366.4 L1008.0,2367.2 L1009.3,2368.0 L1010.6,2368.8 L1011.9,2369.6 L1013.2,2370.4 L1014.5,2371.2 L1015.8,2372.0 L1017.1,2372.7 L1018.4,2373.5 L1019.8,2374.2 L1021.1,2374.9 L1022.4,2375.7 L1023.7,2376.4 L1025.0,2377.1 L1026.3,2377.8 L1027.6,2378.4 L1028.9,2379.1 L1030.2,2379.8 L1031.5,2380.4 L1032.9,2381.0 L1034.2,2381.7 L1035.5,2382.3 L1036.8,2382.9 L1038.1,2383.5 L1039.4,2384.1 L1040.7,2384.7 L1042.0,2385.3 L1043.3,2385.9 L1044.7,2386.5 L1046.0,2387.1 L1047.3,2387.7 L1048.6,2388.3 L1049.9,2388.8 L1051.2,2389.4 L1052.5,2389.9 L1053.8,2390.5 L1055.1,2391.0 L1056.5,2391.5 L1057.8,2391.9 L1059.1,2392.4 L1060.4,2392.8 L1061.7,2393.3 L1063.0,2393.7 L1064.3,2394.1 L1065.6,2394.4 L1066.9,2394.8 L1068.3,2395.1 L1069.6,2395.4 L1070.9,2395.7 L1072.2,2396.0 L1073.5,2396.3 L1074.8,2396.6 L1076.1,2396.8 L1077.4,2397.1 L1078.7,2397.3 L1080.1,2397.6 L1081.4,2397.8 L1082.7,2398.0 L1084.0,2398.2 L1085.3,2398.4 L1086.6,2398.6 L1087.9,2398.7 L1089.2,2398.9 L1090.5,2399.0 L1091.9,2399.1 L1093.2,2399.2 L1094.5,2399.3 L1095.8,2399.4 L1097.1,2399.4" stroke="#1d1366" stroke-width="6.2"/>
<path d="M310.5,1941.4 L311.8,1938.9 L313.1,1935.5 L314.4,1931.4 L315.7,1926.7 L317.1,1921.5 L318.4,1915.9 L319.7,1909.6 L321.0,1901.9 L322.3,1893.2 L323.6,1883.8 L324.9,1874.3 L326.2,1864.9 L327.5,1854.7 L328.9,1844.1 L330.2,1833.8 L331.5,1824.3 L332.8,1818.8 L334.1,1818.8 L335.4,1818.8 L336.7,1818.8 L338.0,1818.8 L339.3,1818.8 L340.7,1818.8 L342.0,1818.8 L343.3,1818.8 L344.6,1818.8 L345.9,1818.8 L347.2,1818.8 L348.5,1818.8 L349.8,1818.8 L351.1,1818.8 L352.5,1818.8 L353.8,1818.8 L355.1,1818.8 L356.4,1818.8 L357.7,1818.8 L359.0,1818.8 L360.3,1818.8 L361.6,1818.8 L362.9,1818.8 L364.3,1818.8 L365.6,1818.8 L366.9,1818.8 L368.2,1818.8 L369.5,1818.8 L370.8,1818.8 L372.1,1818.8 L373.4,1818.8 L374.7,1818.8 L376.1,1818.8 L377.4,1818.8 L378.7,1818.8 L380.0,1818.8 L381.3,1818.8 L382.6,1818.8 L383.9,1818.8 L385.2,1818.8 L386.5,1818.8 L387.8,1818.8 L389.2,1818.8 L390.5,1818.8 L391.8,1818.8 L393.1,1818.8 L394.4,1818.8 L395.7,1818.8 L397.0,1818.8 L398.3,1818.8 L399.6,1818.8 L401.0,1818.8 L402.3,1818.8 L403.6,1818.8 L404.9,1818.8 L406.2,1818.8 L407.5,1818.8 L408.8,1818.8 L410.1,1818.8 L411.4,1818.8 L412.8,1818.8 L414.1,1818.8 L415.4,1818.8 L416.7,1818.8 L418.0,1818.8 L419.3,1818.8 L420.6,1818.8 L421.9,1832.4 L423.2,1846.5 L424.6,1861.5 L425.9,1876.0 L427.2,1886.1 L428.5,1894.2 L429.8,1900.7 L431.1,1904.8 L432.4,1907.3 L433.7,1909.5 L435.0,1911.1 L436.4,1911.9 L437.7,1911.7 L439.0,1910.3 L440.3,1907.9 L441.6,1905.0 L442.9,1902.0 L444.2,1898.0 L445.5,1892.7 L446.8,1887.2 L448.2,1882.6 L449.5,1878.2 L450.8,1874.4 L452.1,1873.3 L453.4,1877.3 L454.7,1885.0 L456.0,1893.7 L457.3,1902.7 L458.6,1914.1 L460.0,1929.7 L461.3,1952.8 L462.6,1975.4 L463.9,1999.1 L465.2,2027.7 L466.5,2059.7 L467.8,2090.7 L469.1,2112.3 L470.4,2128.3 L471.8,2142.5 L473.1,2158.0 L474.4,2173.8 L475.7,2190.7 L477.0,2209.8 L478.3,2229.3 L479.6,2249.6 L480.9,2268.7 L482.2,2282.5 L483.6,2293.6 L484.9,2303.1 L486.2,2311.4 L487.5,2319.1 L488.8,2326.0 L490.1,2331.2 L491.4,2334.6 L492.7,2337.4 L494.0,2339.8 L495.4,2341.7 L496.7,2343.0 L498.0,2344.2 L499.3,2345.2 L500.6,2346.1 L501.9,2346.8 L503.2,2347.3 L504.5,2347.5 L505.8,2347.5 L507.1,2347.5 L508.5,2347.5 L509.8,2347.5 L511.1,2347.5 L512.4,2347.5 L513.7,2347.5 L515.0,2347.3 L516.3,2346.9 L517.6,2346.5 L518.9,2346.0 L520.3,2345.4 L521.6,2344.8 L522.9,2344.2 L524.2,2343.5 L525.5,2342.6 L526.8,2341.7 L528.1,2340.7 L529.4,2339.6 L530.7,2338.5 L532.1,2337.4 L533.4,2336.4 L534.7,2335.4 L536.0,2334.4 L537.3,2333.4 L538.6,2332.3 L539.9,2331.3 L541.2,2330.3 L542.5,2329.2 L543.9,2328.1 L545.2,2326.9 L546.5,2325.7 L547.8,2324.4 L549.1,2323.1 L550.4,2321.6 L551.7,2320.1 L553.0,2318.5 L554.3,2316.8 L555.7,2315.0 L557.0,2313.3 L558.3,2311.5 L559.6,2309.8 L560.9,2308.0 L562.2,2306.2 L563.5,2304.4 L564.8,2302.6 L566.1,2300.8 L567.5,2298.9 L568.8,2297.0 L570.1,2295.1 L571.4,2293.1 L572.7,2291.0 L574.0,2289.0 L575.3,2286.8 L576.6,2284.7 L577.9,2282.4 L579.3,2280.1 L580.6,2277.8 L581.9,2275.4 L583.2,2273.0 L584.5,2270.6 L585.8,2268.1 L587.1,2265.6 L588.4,2263.0 L589.7,2260.4 L591.1,2257.8 L592.4,2255.2 L593.7,2252.5 L595.0,2249.8 L596.3,2247.1 L597.6,2244.3 L598.9,2241.5 L600.2,2238.6 L601.5,2235.7 L602.9,2232.7 L604.2,2229.7 L605.5,2226.6 L606.8,2223.6 L608.1,2220.5 L609.4,2217.4 L610.7,2214.3 L612.0,2211.2 L613.3,2208.1 L614.7,2205.0 L616.0,2201.8 L617.3,2198.7 L618.6,2195.5 L619.9,2192.2 L621.2,2189.0 L622.5,2185.8 L623.8,2182.5 L625.1,2179.2 L626.5,2176.0 L627.8,2172.7 L629.1,2169.4 L630.4,2166.1 L631.7,2162.8 L633.0,2159.5 L634.3,2156.2 L635.6,2152.9 L636.9,2149.6 L638.2,2146.2 L639.6,2142.8 L640.9,2139.5 L642.2,2136.1 L643.5,2132.6 L644.8,2129.2 L646.1,2125.7 L647.4,2122.1 L648.7,2118.5 L650.0,2114.9 L651.4,2111.2 L652.7,2107.5 L654.0,2103.9 L655.3,2100.2 L656.6,2096.7 L657.9,2093.1 L659.2,2089.6 L660.5,2086.2 L661.8,2082.8 L663.2,2079.5 L664.5,2076.1 L665.8,2072.8 L667.1,2069.5 L668.4,2066.3 L669.7,2063.0 L671.0,2059.7 L672.3,2056.4 L673.6,2053.1 L675.0,2049.8 L676.3,2046.5 L677.6,2043.1 L678.9,2039.6 L680.2,2036.2 L681.5,2032.6 L682.8,2029.1 L684.1,2025.5 L685.4,2022.0 L686.8,2018.5 L688.1,2015.1 L689.4,2011.8 L690.7,2008.5 L692.0,2005.4 L693.3,2002.4 L694.6,1999.5 L695.9,1996.7 L697.2,1993.9 L698.6,1991.1 L699.9,1988.5 L701.2,1985.8 L702.5,1983.2 L703.8,1980.7 L705.1,1978.2 L706.4,1975.8 L707.7,1973.4 L709.0,1971.0 L710.4,1968.7 L711.7,1966.4 L713.0,1964.1 L714.3,1961.9 L715.6,1959.6 L716.9,1957.4 L718.2,1955.2 L719.5,1953.0 L720.8,1950.9 L722.2,1948.9 L723.5,1946.8 L724.8,1944.9 L726.1,1943.0 L727.4,1941.3 L728.7,1939.6 L730.0,1938.0 L731.3,1936.5 L732.6,1935.0 L734.0,1933.5 L735.3,1932.0 L736.6,1930.7 L737.9,1929.4 L739.2,1928.2 L740.5,1927.2 L741.8,1926.4 L743.1,1925.8 L744.4,1925.4 L745.8,1924.9 L747.1,1924.5 L748.4,1924.1 L749.7,1923.8 L751.0,1923.5 L752.3,1923.3 L753.6,1923.1 L754.9,1923.1 L756.2,1923.1 L757.6,1923.4 L758.9,1923.8 L760.2,1924.5 L761.5,1925.3 L762.8,1926.3 L764.1,1927.4 L765.4,1928.6 L766.7,1929.8 L768.0,1931.2 L769.3,1932.6 L770.7,1933.9 L772.0,1935.3 L773.3,1936.7 L774.6,1938.0 L775.9,1939.4 L777.2,1940.8 L778.5,1942.3 L779.8,1943.8 L781.1,1945.5 L782.5,1947.1 L783.8,1948.9 L785.1,1950.7 L786.4,1952.5 L787.7,1954.5 L789.0,1956.5 L790.3,1958.5 L791.6,1960.6 L792.9,1962.8 L794.3,1965.0 L795.6,1967.3 L796.9,1969.7 L798.2,1972.1 L799.5,1974.6 L800.8,1977.3 L802.1,1980.3 L803.4,1983.4 L804.7,1986.8 L806.1,1990.3 L807.4,1993.9 L808.7,1997.6 L810.0,2001.3 L811.3,2005.0 L812.6,2008.7 L813.9,2012.3 L815.2,2015.9 L816.5,2019.3 L817.9,2022.8 L819.2,2026.2 L820.5,2029.6 L821.8,2033.1 L823.1,2036.6 L824.4,2040.1 L825.7,2043.6 L827.0,2047.3 L828.3,2051.0 L829.7,2054.8 L831.0,2058.7 L832.3,2062.7 L833.6,2066.7 L834.9,2070.9 L836.2,2075.2 L837.5,2079.5 L838.8,2083.9 L840.1,2088.4 L841.5,2093.0 L842.8,2097.6 L844.1,2102.3 L845.4,2107.3 L846.7,2112.4 L848.0,2117.6 L849.3,2122.9 L850.6,2128.1 L851.9,2133.3 L853.3,2138.3 L854.6,2143.2 L855.9,2147.9 L857.2,2152.5 L858.5,2157.1 L859.8,2161.6 L861.1,2166.0 L862.4,2170.4 L863.7,2174.8 L865.1,2179.2 L866.4,2183.5 L867.7,2187.8 L869.0,2192.1 L870.3,2196.4 L871.6,2200.6 L872.9,2204.8 L874.2,2208.9 L875.5,2213.1 L876.9,2217.3 L878.2,2221.5 L879.5,2225.7 L880.8,2229.9 L882.1,2234.2 L883.4,2238.5 L884.7,2242.9 L886.0,2247.2 L887.3,2251.5 L888.7,2255.7 L890.0,2259.9 L891.3,2264.1 L892.6,2268.1 L893.9,2272.2 L895.2,2276.2 L896.5,2280.2 L897.8,2284.2 L899.1,2288.2 L900.4,2292.1 L901.8,2295.9 L903.1,2299.6 L904.4,2303.2 L905.7,2306.6 L907.0,2309.8 L908.3,2313.0 L909.6,2316.1 L910.9,2319.2 L912.2,2322.2 L913.6,2325.1 L914.9,2328.0 L916.2,2330.8 L917.5,2333.5 L918.8,2336.2 L920.1,2338.8 L921.4,2341.2 L922.7,2343.6 L924.0,2345.9 L925.4,2348.2 L926.7,2350.3 L928.0,2352.4 L929.3,2354.5 L930.6,2356.5 L931.9,2358.4 L933.2,2360.3 L934.5,2362.0 L935.8,2363.7 L937.2,2365.3 L938.5,2366.7 L939.8,2368.0 L941.1,2369.2 L942.4,2370.4 L943.7,2371.4 L945.0,2372.4 L946.3,2373.4 L947.6,2374.3 L949.0,2375.2 L950.3,2376.1 L951.6,2376.9 L952.9,2377.7 L954.2,2378.6 L955.5,2379.4 L956.8,2380.2 L958.1,2381.1 L959.4,2381.9 L960.8,2382.8 L962.1,2383.7 L963.4,2384.6 L964.7,2385.4 L966.0,2386.2 L967.3,2387.0 L968.6,2387.8 L969.9,2388.5 L971.2,2389.1 L972.6,2389.7 L973.9,2390.2 L975.2,2390.6 L976.5,2391.1 L977.8,2391.5 L979.1,2391.9 L980.4,2392.3 L981.7,2392.7 L983.0,2393.0 L984.4,2393.4 L985.7,2393.7 L987.0,2394.0 L988.3,2394.3 L989.6,2394.5 L990.9,2394.8 L992.2,2395.0 L993.5,2395.1 L994.8,2395.3 L996.2,2395.4 L997.5,2395.5 L998.8,2395.6 L1000.1,2395.7 L1001.4,2395.8 L1002.7,2395.9 L1004.0,2396.0 L1005.3,2396.1 L1006.6,2396.2 L1008.0,2396.3 L1009.3,2396.3 L1010.6,2396.4 L1011.9,2396.5 L1013.2,2396.6 L1014.5,2396.6 L1015.8,2396.7 L1017.1,2396.7 L1018.4,2396.8 L1019.8,2396.9 L1021.1,2396.9 L1022.4,2397.0 L1023.7,2397.0 L1025.0,2397.1 L1026.3,2397.1 L1027.6,2397.1 L1028.9,2397.2 L1030.2,2397.2 L1031.5,2397.3 L1032.9,2397.3 L1034.2,2397.3 L1035.5,2397.3 L1036.8,2397.4 L1038.1,2397.4 L1039.4,2397.4 L1040.7,2397.5 L1042.0,2397.5 L1043.3,2397.5 L1044.7,2397.5 L1046.0,2397.6 L1047.3,2397.6 L1048.6,2397.6 L1049.9,2397.6 L1051.2,2397.7 L1052.5,2397.7 L1053.8,2397.7 L1055.1,2397.7 L1056.5,2397.7 L1057.8,2397.8 L1059.1,2397.8 L1060.4,2397.8 L1061.7,2397.8 L1063.0,2397.8 L1064.3,2397.8 L1065.6,2397.9 L1066.9,2397.9 L1068.3,2397.9 L1069.6,2397.9 L1070.9,2397.9 L1072.2,2397.9 L1073.5,2397.9 L1074.8,2397.9 L1076.1,2398.0 L1077.4,2398.0 L1078.7,2398.0 L1080.1,2398.0 L1081.4,2398.0 L1082.7,2398.0 L1084.0,2398.0 L1085.3,2398.0 L1086.6,2398.0 L1087.9,2398.0 L1089.2,2398.0 L1090.5,2398.0 L1091.9,2398.0 L1093.2,2398.0 L1094.5,2398.0 L1095.8,2398.0 L1097.1,2398.0" stroke="#000" stroke-width="7" stroke-dasharray="25 20" stroke-linecap="butt"/>
</g>
<circle cx="1564.1" cy="518.2" r="12.5" fill="#a6a6a6"/><circle cx="1637.5" cy="407.0" r="12.5" fill="#a6a6a6"/><circle cx="1711.0" cy="281.8" r="12.5" fill="#a6a6a6"/><circle cx="1784.4" cy="226.1" r="12.5" fill="#a6a6a6"/><circle cx="1857.9" cy="212.2" r="12.5" fill="#a6a6a6"/><circle cx="1931.4" cy="254.0" r="12.5" fill="#a6a6a6"/><circle cx="2004.8" cy="309.6" r="12.5" fill="#a6a6a6"/><circle cx="2078.3" cy="407.0" r="12.5" fill="#a6a6a6"/><circle cx="2151.7" cy="476.5" r="12.5" fill="#a6a6a6"/>
<circle cx="1567.3" cy="1356.0" r="12.5" fill="#a6a6a6"/><circle cx="1640.0" cy="1216.7" r="12.5" fill="#a6a6a6"/><circle cx="1712.7" cy="1120.0" r="12.5" fill="#a6a6a6"/><circle cx="1785.4" cy="1072.8" r="12.5" fill="#a6a6a6"/><circle cx="1858.1" cy="1060.3" r="12.5" fill="#a6a6a6"/><circle cx="1930.8" cy="1087.6" r="12.5" fill="#a6a6a6"/><circle cx="2003.5" cy="1180.1" r="12.5" fill="#a6a6a6"/><circle cx="2076.2" cy="1304.6" r="12.5" fill="#a6a6a6"/><circle cx="2148.9" cy="1467.5" r="12.5" fill="#a6a6a6"/>
<circle cx="1563.7" cy="2226.3" r="12.5" fill="#a6a6a6"/><circle cx="1636.5" cy="2104.5" r="12.5" fill="#a6a6a6"/><circle cx="1709.3" cy="2005.4" r="12.5" fill="#a6a6a6"/><circle cx="1782.1" cy="1941.7" r="12.5" fill="#a6a6a6"/><circle cx="1854.9" cy="1919.9" r="12.5" fill="#a6a6a6"/><circle cx="1927.7" cy="1928.1" r="12.5" fill="#a6a6a6"/><circle cx="2000.5" cy="1955.4" r="12.5" fill="#a6a6a6"/><circle cx="2073.3" cy="1975.4" r="12.5" fill="#a6a6a6"/><circle cx="2146.1" cy="2005.4" r="12.5" fill="#a6a6a6"/>
<line x1="1856.0" y1="151.5" x2="1856.0" y2="727.0" stroke="#cc0a0a" stroke-width="7" stroke-dasharray="26 19.3"/>
<line x1="1856.8" y1="1000.0" x2="1856.8" y2="1568.0" stroke="#cc0a0a" stroke-width="7" stroke-dasharray="26 19.3"/>
<line x1="1856.8" y1="1824.0" x2="1856.8" y2="2398.0" stroke="#cc0a0a" stroke-width="7" stroke-dasharray="26 19.3"/>
<text transform="translate(1864.26 172.00) scale(0.7477 1)" font-size="33.77" fill="#cc0a0a"><tspan font-weight="bold">M:L=1:1</tspan></text>
<text transform="translate(1865.81 1021.70) scale(0.9346 1)" font-size="27.79" fill="#cc0a0a"><tspan font-weight="bold">M:L=1:1</tspan></text>
<text transform="translate(1864.74 1847.20) scale(0.8975 1)" font-size="28.49" fill="#cc0a0a"><tspan font-weight="bold">M:L=1:1</tspan></text>
<text transform="translate(1730.53 821.60) scale(0.7958 1)" font-size="41.90" fill="#262626"><tspan>Molar fraction (</tspan><tspan font-style="italic">X</tspan><tspan>)</tspan></text>
<text transform="translate(1730.75 1677.00) scale(0.8041 1)" font-size="41.20" fill="#262626"><tspan>Molar fraction (</tspan><tspan font-style="italic">X</tspan><tspan>)</tspan></text>
<text transform="translate(1728.05 2511.50) scale(0.8041 1)" font-size="41.20" fill="#262626"><tspan>Molar fraction (</tspan><tspan font-style="italic">X</tspan><tspan>)</tspan></text>
<text transform="translate(1384.00 550.50) rotate(-90) scale(0.7602 1)" font-size="43.58" fill="#262626"><tspan>Abs at 554 nm</tspan></text>
<text transform="translate(1407.50 1375.80) rotate(-90) scale(0.7540 1)" font-size="43.99" fill="#262626"><tspan>Abs at 554 nm</tspan></text>
<text transform="translate(1400.50 2229.20) rotate(-90) scale(0.7543 1)" font-size="43.99" fill="#262626"><tspan>Abs at 508 nm</tspan></text>
</svg></body></html>
